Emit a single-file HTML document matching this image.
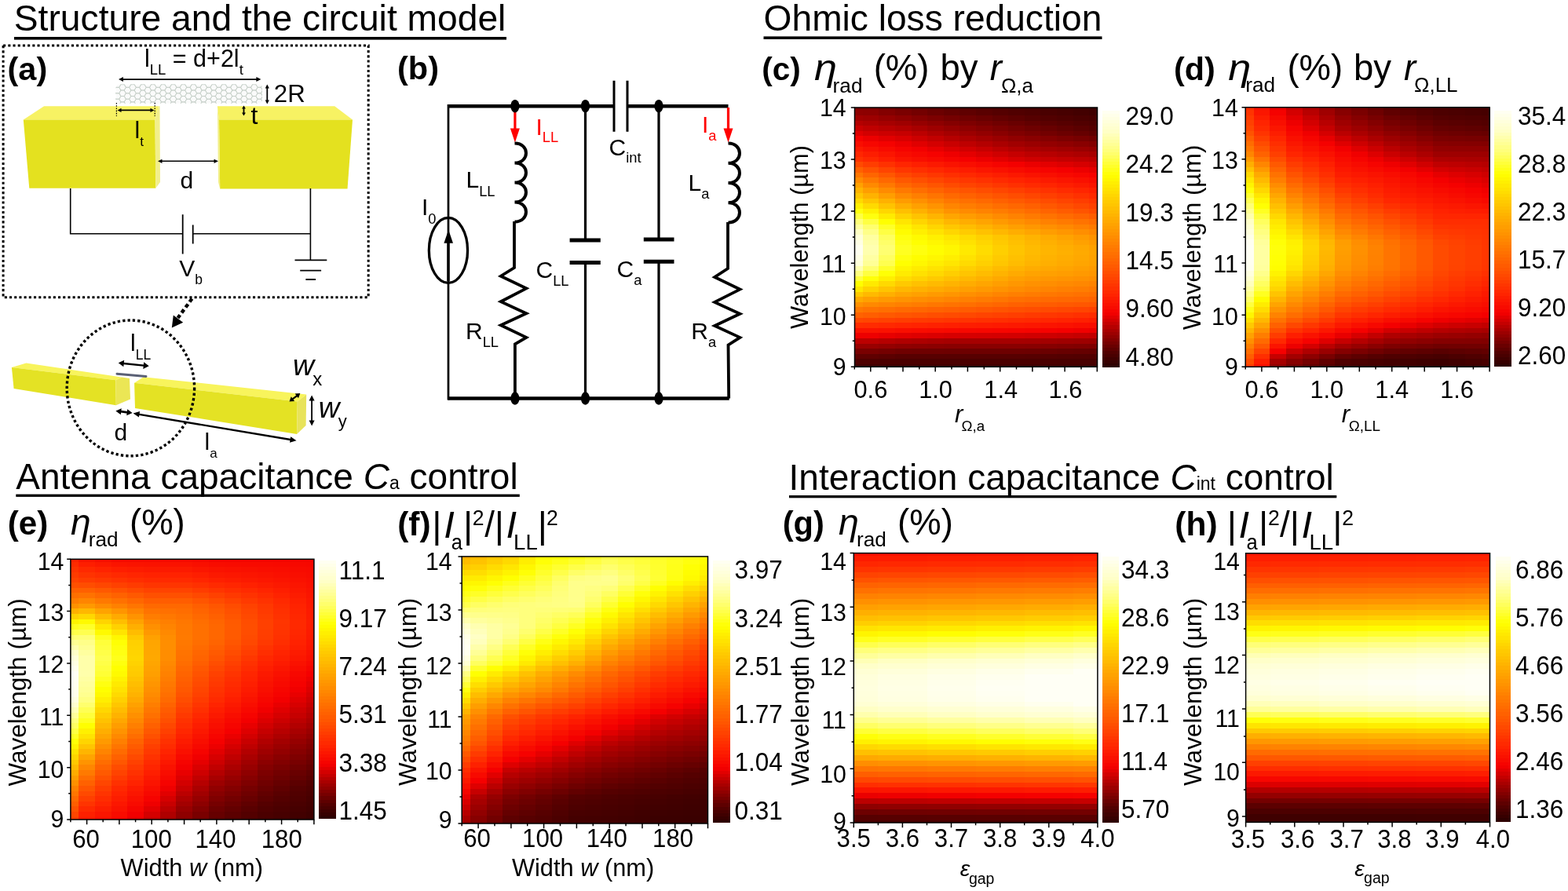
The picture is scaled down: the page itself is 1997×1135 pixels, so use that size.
<!DOCTYPE html>
<html><head><meta charset="utf-8"><title>figure</title>
<style>
html,body{margin:0;padding:0;background:#fff;}
body{width:1997px;height:1135px;overflow:hidden;}
svg{display:block;}
text{font-family:"Liberation Sans", Arial, sans-serif;}
</style></head><body>
<svg width="1997" height="1135" viewBox="0 0 1997 1135">
<rect width="1997" height="1135" fill="#fff"/>
<text x="17.8" y="38.9" font-size="45.8" textLength="626.6" lengthAdjust="spacingAndGlyphs">Structure and the circuit model</text>
<rect x="18" y="47" width="627" height="3.6" fill="#000"/>
<text x="972.6" y="38.8" font-size="45.8" textLength="430.7" lengthAdjust="spacingAndGlyphs">Ohmic loss reduction</text>
<rect x="972.5" y="46.4" width="431" height="3.6" fill="#000"/>
<text x="20.3" y="622.7" font-size="46">Antenna capacitance <tspan font-style="italic">C</tspan><tspan font-size="23">a</tspan> control</text>
<rect x="20.3" y="629.6" width="641.5" height="3.3" fill="#000"/>
<text x="1004.6" y="623.8" font-size="46">Interaction capacitance <tspan font-style="italic">C</tspan><tspan font-size="23">int</tspan> control</text>
<rect x="1005" y="631" width="697.3" height="3.3" fill="#000"/>
<path d="M4.1 58 H469.2 V378.8 H4.1 Z" fill="none" stroke="#000" stroke-width="3" stroke-dasharray="3.1 3.1"/>
<text x="9.5" y="101.5" font-size="41.5" font-weight="bold">(a)</text>
<polygon points="56.1,135.3 201.9,135.3 197.5,152.5 29.8,152.5" fill="#f7f263"/>
<polygon points="29.8,152.5 197.5,152.5 198.3,239.8 37.3,239.8" fill="#e4e11f"/>
<polygon points="197.5,152.5 201.9,135.3 203.5,135.3 204,232 198.3,239.8" fill="#f2ef8a"/>
<polygon points="276.9,135.3 426.2,135.3 449,152.5 279,152.5" fill="#f7f263"/>
<polygon points="279,152.5 449,152.5 442.5,240.4 280.2,240.4" fill="#e4e11f"/>
<polygon points="276.9,135.3 279,152.5 280.2,240.4 278,232" fill="#f2ef8a"/>
<clipPath id="cntclip"><rect x="147.5" y="107.6" width="186.5" height="24.2" rx="3" ry="6"/></clipPath>
<g clip-path="url(#cntclip)"><rect x="147.5" y="107.6" width="186.5" height="24.2" fill="#fafafa"/><path d="M147.5 103.9 L145.3 107.6 L141.0 107.6 L138.9 103.9 L141.0 100.2 L145.3 100.2Z M147.5 111.3 L145.3 115.0 L141.0 115.0 L138.9 111.3 L141.0 107.6 L145.3 107.6Z M147.5 118.8 L145.3 122.5 L141.0 122.5 L138.9 118.8 L141.0 115.0 L145.3 115.0Z M147.5 126.2 L145.3 129.9 L141.0 129.9 L138.9 126.2 L141.0 122.5 L145.3 122.5Z M147.5 133.7 L145.3 137.4 L141.0 137.4 L138.9 133.7 L141.0 129.9 L145.3 129.9Z M153.9 107.6 L151.8 111.3 L147.5 111.3 L145.3 107.6 L147.5 103.9 L151.8 103.9Z M153.9 115.0 L151.8 118.8 L147.5 118.8 L145.3 115.0 L147.5 111.3 L151.8 111.3Z M153.9 122.5 L151.8 126.2 L147.5 126.2 L145.3 122.5 L147.5 118.8 L151.8 118.8Z M153.9 129.9 L151.8 133.7 L147.5 133.7 L145.3 129.9 L147.5 126.2 L151.8 126.2Z M160.4 103.9 L158.2 107.6 L153.9 107.6 L151.8 103.9 L153.9 100.2 L158.2 100.2Z M160.4 111.3 L158.2 115.0 L153.9 115.0 L151.8 111.3 L153.9 107.6 L158.2 107.6Z M160.4 118.8 L158.2 122.5 L153.9 122.5 L151.8 118.8 L153.9 115.0 L158.2 115.0Z M160.4 126.2 L158.2 129.9 L153.9 129.9 L151.8 126.2 L153.9 122.5 L158.2 122.5Z M160.4 133.7 L158.2 137.4 L153.9 137.4 L151.8 133.7 L153.9 129.9 L158.2 129.9Z M166.8 107.6 L164.7 111.3 L160.4 111.3 L158.2 107.6 L160.4 103.9 L164.7 103.9Z M166.8 115.0 L164.7 118.8 L160.4 118.8 L158.2 115.0 L160.4 111.3 L164.7 111.3Z M166.8 122.5 L164.7 126.2 L160.4 126.2 L158.2 122.5 L160.4 118.8 L164.7 118.8Z M166.8 129.9 L164.7 133.7 L160.4 133.7 L158.2 129.9 L160.4 126.2 L164.7 126.2Z M173.3 103.9 L171.1 107.6 L166.8 107.6 L164.7 103.9 L166.8 100.2 L171.1 100.2Z M173.3 111.3 L171.1 115.0 L166.8 115.0 L164.7 111.3 L166.8 107.6 L171.1 107.6Z M173.3 118.8 L171.1 122.5 L166.8 122.5 L164.7 118.8 L166.8 115.0 L171.1 115.0Z M173.3 126.2 L171.1 129.9 L166.8 129.9 L164.7 126.2 L166.8 122.5 L171.1 122.5Z M173.3 133.7 L171.1 137.4 L166.8 137.4 L164.7 133.7 L166.8 129.9 L171.1 129.9Z M179.7 107.6 L177.6 111.3 L173.3 111.3 L171.1 107.6 L173.3 103.9 L177.6 103.9Z M179.7 115.0 L177.6 118.8 L173.3 118.8 L171.1 115.0 L173.3 111.3 L177.6 111.3Z M179.7 122.5 L177.6 126.2 L173.3 126.2 L171.1 122.5 L173.3 118.8 L177.6 118.8Z M179.7 129.9 L177.6 133.7 L173.3 133.7 L171.1 129.9 L173.3 126.2 L177.6 126.2Z M186.2 103.9 L184.0 107.6 L179.7 107.6 L177.6 103.9 L179.7 100.2 L184.0 100.2Z M186.2 111.3 L184.0 115.0 L179.7 115.0 L177.6 111.3 L179.7 107.6 L184.0 107.6Z M186.2 118.8 L184.0 122.5 L179.7 122.5 L177.6 118.8 L179.7 115.0 L184.0 115.0Z M186.2 126.2 L184.0 129.9 L179.7 129.9 L177.6 126.2 L179.7 122.5 L184.0 122.5Z M186.2 133.7 L184.0 137.4 L179.7 137.4 L177.6 133.7 L179.7 129.9 L184.0 129.9Z M192.6 107.6 L190.5 111.3 L186.2 111.3 L184.0 107.6 L186.2 103.9 L190.5 103.9Z M192.6 115.0 L190.5 118.8 L186.2 118.8 L184.0 115.0 L186.2 111.3 L190.5 111.3Z M192.6 122.5 L190.5 126.2 L186.2 126.2 L184.0 122.5 L186.2 118.8 L190.5 118.8Z M192.6 129.9 L190.5 133.7 L186.2 133.7 L184.0 129.9 L186.2 126.2 L190.5 126.2Z M199.1 103.9 L196.9 107.6 L192.6 107.6 L190.5 103.9 L192.6 100.2 L196.9 100.2Z M199.1 111.3 L196.9 115.0 L192.6 115.0 L190.5 111.3 L192.6 107.6 L196.9 107.6Z M199.1 118.8 L196.9 122.5 L192.6 122.5 L190.5 118.8 L192.6 115.0 L196.9 115.0Z M199.1 126.2 L196.9 129.9 L192.6 129.9 L190.5 126.2 L192.6 122.5 L196.9 122.5Z M199.1 133.7 L196.9 137.4 L192.6 137.4 L190.5 133.7 L192.6 129.9 L196.9 129.9Z M205.5 107.6 L203.4 111.3 L199.1 111.3 L196.9 107.6 L199.1 103.9 L203.4 103.9Z M205.5 115.0 L203.4 118.8 L199.1 118.8 L196.9 115.0 L199.1 111.3 L203.4 111.3Z M205.5 122.5 L203.4 126.2 L199.1 126.2 L196.9 122.5 L199.1 118.8 L203.4 118.8Z M205.5 129.9 L203.4 133.7 L199.1 133.7 L196.9 129.9 L199.1 126.2 L203.4 126.2Z M212.0 103.9 L209.8 107.6 L205.5 107.6 L203.4 103.9 L205.5 100.2 L209.8 100.2Z M212.0 111.3 L209.8 115.0 L205.5 115.0 L203.4 111.3 L205.5 107.6 L209.8 107.6Z M212.0 118.8 L209.8 122.5 L205.5 122.5 L203.4 118.8 L205.5 115.0 L209.8 115.0Z M212.0 126.2 L209.8 129.9 L205.5 129.9 L203.4 126.2 L205.5 122.5 L209.8 122.5Z M212.0 133.7 L209.8 137.4 L205.5 137.4 L203.4 133.7 L205.5 129.9 L209.8 129.9Z M218.4 107.6 L216.3 111.3 L212.0 111.3 L209.8 107.6 L212.0 103.9 L216.3 103.9Z M218.4 115.0 L216.3 118.8 L212.0 118.8 L209.8 115.0 L212.0 111.3 L216.3 111.3Z M218.4 122.5 L216.3 126.2 L212.0 126.2 L209.8 122.5 L212.0 118.8 L216.3 118.8Z M218.4 129.9 L216.3 133.7 L212.0 133.7 L209.8 129.9 L212.0 126.2 L216.3 126.2Z M224.9 103.9 L222.7 107.6 L218.4 107.6 L216.3 103.9 L218.4 100.2 L222.7 100.2Z M224.9 111.3 L222.7 115.0 L218.4 115.0 L216.3 111.3 L218.4 107.6 L222.7 107.6Z M224.9 118.8 L222.7 122.5 L218.4 122.5 L216.3 118.8 L218.4 115.0 L222.7 115.0Z M224.9 126.2 L222.7 129.9 L218.4 129.9 L216.3 126.2 L218.4 122.5 L222.7 122.5Z M224.9 133.7 L222.7 137.4 L218.4 137.4 L216.3 133.7 L218.4 129.9 L222.7 129.9Z M231.3 107.6 L229.2 111.3 L224.9 111.3 L222.7 107.6 L224.9 103.9 L229.2 103.9Z M231.3 115.0 L229.2 118.8 L224.9 118.8 L222.7 115.0 L224.9 111.3 L229.2 111.3Z M231.3 122.5 L229.2 126.2 L224.9 126.2 L222.7 122.5 L224.9 118.8 L229.2 118.8Z M231.3 129.9 L229.2 133.7 L224.9 133.7 L222.7 129.9 L224.9 126.2 L229.2 126.2Z M237.8 103.9 L235.6 107.6 L231.3 107.6 L229.2 103.9 L231.3 100.2 L235.6 100.2Z M237.8 111.3 L235.6 115.0 L231.3 115.0 L229.2 111.3 L231.3 107.6 L235.6 107.6Z M237.8 118.8 L235.6 122.5 L231.3 122.5 L229.2 118.8 L231.3 115.0 L235.6 115.0Z M237.8 126.2 L235.6 129.9 L231.3 129.9 L229.2 126.2 L231.3 122.5 L235.6 122.5Z M237.8 133.7 L235.6 137.4 L231.3 137.4 L229.2 133.7 L231.3 129.9 L235.6 129.9Z M244.2 107.6 L242.1 111.3 L237.8 111.3 L235.6 107.6 L237.8 103.9 L242.1 103.9Z M244.2 115.0 L242.1 118.8 L237.8 118.8 L235.6 115.0 L237.8 111.3 L242.1 111.3Z M244.2 122.5 L242.1 126.2 L237.8 126.2 L235.6 122.5 L237.8 118.8 L242.1 118.8Z M244.2 129.9 L242.1 133.7 L237.8 133.7 L235.6 129.9 L237.8 126.2 L242.1 126.2Z M250.7 103.9 L248.5 107.6 L244.2 107.6 L242.1 103.9 L244.2 100.2 L248.5 100.2Z M250.7 111.3 L248.5 115.0 L244.2 115.0 L242.1 111.3 L244.2 107.6 L248.5 107.6Z M250.7 118.8 L248.5 122.5 L244.2 122.5 L242.1 118.8 L244.2 115.0 L248.5 115.0Z M250.7 126.2 L248.5 129.9 L244.2 129.9 L242.1 126.2 L244.2 122.5 L248.5 122.5Z M250.7 133.7 L248.5 137.4 L244.2 137.4 L242.1 133.7 L244.2 129.9 L248.5 129.9Z M257.1 107.6 L255.0 111.3 L250.7 111.3 L248.5 107.6 L250.7 103.9 L255.0 103.9Z M257.1 115.0 L255.0 118.8 L250.7 118.8 L248.5 115.0 L250.7 111.3 L255.0 111.3Z M257.1 122.5 L255.0 126.2 L250.7 126.2 L248.5 122.5 L250.7 118.8 L255.0 118.8Z M257.1 129.9 L255.0 133.7 L250.7 133.7 L248.5 129.9 L250.7 126.2 L255.0 126.2Z M263.6 103.9 L261.4 107.6 L257.1 107.6 L255.0 103.9 L257.1 100.2 L261.4 100.2Z M263.6 111.3 L261.4 115.0 L257.1 115.0 L255.0 111.3 L257.1 107.6 L261.4 107.6Z M263.6 118.8 L261.4 122.5 L257.1 122.5 L255.0 118.8 L257.1 115.0 L261.4 115.0Z M263.6 126.2 L261.4 129.9 L257.1 129.9 L255.0 126.2 L257.1 122.5 L261.4 122.5Z M263.6 133.7 L261.4 137.4 L257.1 137.4 L255.0 133.7 L257.1 129.9 L261.4 129.9Z M270.0 107.6 L267.9 111.3 L263.6 111.3 L261.4 107.6 L263.6 103.9 L267.9 103.9Z M270.0 115.0 L267.9 118.8 L263.6 118.8 L261.4 115.0 L263.6 111.3 L267.9 111.3Z M270.0 122.5 L267.9 126.2 L263.6 126.2 L261.4 122.5 L263.6 118.8 L267.9 118.8Z M270.0 129.9 L267.9 133.7 L263.6 133.7 L261.4 129.9 L263.6 126.2 L267.9 126.2Z M276.5 103.9 L274.3 107.6 L270.0 107.6 L267.9 103.9 L270.0 100.2 L274.3 100.2Z M276.5 111.3 L274.3 115.0 L270.0 115.0 L267.9 111.3 L270.0 107.6 L274.3 107.6Z M276.5 118.8 L274.3 122.5 L270.0 122.5 L267.9 118.8 L270.0 115.0 L274.3 115.0Z M276.5 126.2 L274.3 129.9 L270.0 129.9 L267.9 126.2 L270.0 122.5 L274.3 122.5Z M276.5 133.7 L274.3 137.4 L270.0 137.4 L267.9 133.7 L270.0 129.9 L274.3 129.9Z M282.9 107.6 L280.8 111.3 L276.5 111.3 L274.3 107.6 L276.5 103.9 L280.8 103.9Z M282.9 115.0 L280.8 118.8 L276.5 118.8 L274.3 115.0 L276.5 111.3 L280.8 111.3Z M282.9 122.5 L280.8 126.2 L276.5 126.2 L274.3 122.5 L276.5 118.8 L280.8 118.8Z M282.9 129.9 L280.8 133.7 L276.5 133.7 L274.3 129.9 L276.5 126.2 L280.8 126.2Z M289.4 103.9 L287.2 107.6 L282.9 107.6 L280.8 103.9 L282.9 100.2 L287.2 100.2Z M289.4 111.3 L287.2 115.0 L282.9 115.0 L280.8 111.3 L282.9 107.6 L287.2 107.6Z M289.4 118.8 L287.2 122.5 L282.9 122.5 L280.8 118.8 L282.9 115.0 L287.2 115.0Z M289.4 126.2 L287.2 129.9 L282.9 129.9 L280.8 126.2 L282.9 122.5 L287.2 122.5Z M289.4 133.7 L287.2 137.4 L282.9 137.4 L280.8 133.7 L282.9 129.9 L287.2 129.9Z M295.8 107.6 L293.7 111.3 L289.4 111.3 L287.2 107.6 L289.4 103.9 L293.7 103.9Z M295.8 115.0 L293.7 118.8 L289.4 118.8 L287.2 115.0 L289.4 111.3 L293.7 111.3Z M295.8 122.5 L293.7 126.2 L289.4 126.2 L287.2 122.5 L289.4 118.8 L293.7 118.8Z M295.8 129.9 L293.7 133.7 L289.4 133.7 L287.2 129.9 L289.4 126.2 L293.7 126.2Z M302.3 103.9 L300.1 107.6 L295.8 107.6 L293.7 103.9 L295.8 100.2 L300.1 100.2Z M302.3 111.3 L300.1 115.0 L295.8 115.0 L293.7 111.3 L295.8 107.6 L300.1 107.6Z M302.3 118.8 L300.1 122.5 L295.8 122.5 L293.7 118.8 L295.8 115.0 L300.1 115.0Z M302.3 126.2 L300.1 129.9 L295.8 129.9 L293.7 126.2 L295.8 122.5 L300.1 122.5Z M302.3 133.7 L300.1 137.4 L295.8 137.4 L293.7 133.7 L295.8 129.9 L300.1 129.9Z M308.7 107.6 L306.6 111.3 L302.3 111.3 L300.1 107.6 L302.3 103.9 L306.6 103.9Z M308.7 115.0 L306.6 118.8 L302.3 118.8 L300.1 115.0 L302.3 111.3 L306.6 111.3Z M308.7 122.5 L306.6 126.2 L302.3 126.2 L300.1 122.5 L302.3 118.8 L306.6 118.8Z M308.7 129.9 L306.6 133.7 L302.3 133.7 L300.1 129.9 L302.3 126.2 L306.6 126.2Z M315.2 103.9 L313.0 107.6 L308.7 107.6 L306.6 103.9 L308.7 100.2 L313.0 100.2Z M315.2 111.3 L313.0 115.0 L308.7 115.0 L306.6 111.3 L308.7 107.6 L313.0 107.6Z M315.2 118.8 L313.0 122.5 L308.7 122.5 L306.6 118.8 L308.7 115.0 L313.0 115.0Z M315.2 126.2 L313.0 129.9 L308.7 129.9 L306.6 126.2 L308.7 122.5 L313.0 122.5Z M315.2 133.7 L313.0 137.4 L308.7 137.4 L306.6 133.7 L308.7 129.9 L313.0 129.9Z M321.6 107.6 L319.5 111.3 L315.2 111.3 L313.0 107.6 L315.2 103.9 L319.5 103.9Z M321.6 115.0 L319.5 118.8 L315.2 118.8 L313.0 115.0 L315.2 111.3 L319.5 111.3Z M321.6 122.5 L319.5 126.2 L315.2 126.2 L313.0 122.5 L315.2 118.8 L319.5 118.8Z M321.6 129.9 L319.5 133.7 L315.2 133.7 L313.0 129.9 L315.2 126.2 L319.5 126.2Z M328.1 103.9 L325.9 107.6 L321.6 107.6 L319.5 103.9 L321.6 100.2 L325.9 100.2Z M328.1 111.3 L325.9 115.0 L321.6 115.0 L319.5 111.3 L321.6 107.6 L325.9 107.6Z M328.1 118.8 L325.9 122.5 L321.6 122.5 L319.5 118.8 L321.6 115.0 L325.9 115.0Z M328.1 126.2 L325.9 129.9 L321.6 129.9 L319.5 126.2 L321.6 122.5 L325.9 122.5Z M328.1 133.7 L325.9 137.4 L321.6 137.4 L319.5 133.7 L321.6 129.9 L325.9 129.9Z M334.5 107.6 L332.4 111.3 L328.1 111.3 L325.9 107.6 L328.1 103.9 L332.4 103.9Z M334.5 115.0 L332.4 118.8 L328.1 118.8 L325.9 115.0 L328.1 111.3 L332.4 111.3Z M334.5 122.5 L332.4 126.2 L328.1 126.2 L325.9 122.5 L328.1 118.8 L332.4 118.8Z M334.5 129.9 L332.4 133.7 L328.1 133.7 L325.9 129.9 L328.1 126.2 L332.4 126.2Z M341.0 103.9 L338.8 107.6 L334.5 107.6 L332.4 103.9 L334.5 100.2 L338.8 100.2Z M341.0 111.3 L338.8 115.0 L334.5 115.0 L332.4 111.3 L334.5 107.6 L338.8 107.6Z M341.0 118.8 L338.8 122.5 L334.5 122.5 L332.4 118.8 L334.5 115.0 L338.8 115.0Z M341.0 126.2 L338.8 129.9 L334.5 129.9 L332.4 126.2 L334.5 122.5 L338.8 122.5Z M341.0 133.7 L338.8 137.4 L334.5 137.4 L332.4 133.7 L334.5 129.9 L338.8 129.9Z" fill="none" stroke="#bfcac2" stroke-width="0.7"/></g>
<line x1="154.6" y1="101.1" x2="328.8" y2="101.1" stroke="#000" stroke-width="1.8"/><polygon points="151.0,101.1 157.0,104.1 157.0,98.1" fill="#000"/><polygon points="332.4,101.1 326.4,104.1 326.4,98.1" fill="#000"/>
<line x1="340.3" y1="110.5" x2="340.3" y2="129.5" stroke="#000" stroke-width="1.8"/><polygon points="340.3,107.5 337.7,112.5 342.9,112.5" fill="#000"/><polygon points="340.3,132.5 337.7,127.5 342.9,127.5" fill="#000"/>
<line x1="310.5" y1="136.9" x2="310.5" y2="145.1" stroke="#000" stroke-width="1.8"/><polygon points="310.5,134.5 308.1,138.5 312.9,138.5" fill="#000"/><polygon points="310.5,147.5 308.1,143.5 312.9,143.5" fill="#000"/>
<line x1="152.5" y1="140.4" x2="193.5" y2="140.4" stroke="#000" stroke-width="1.8"/><polygon points="149.5,140.4 154.5,143.0 154.5,137.8" fill="#000"/><polygon points="196.5,140.4 191.5,143.0 191.5,137.8" fill="#000"/>
<line x1="204.3" y1="205.3" x2="274.7" y2="205.3" stroke="#000" stroke-width="1.6"/><polygon points="201.0,205.3 206.5,207.9 206.5,202.7" fill="#000"/><polygon points="278.0,205.3 272.5,207.9 272.5,202.7" fill="#000"/>
<path d="M148.4 131 V148 M197.2 131 V148" stroke="#000" stroke-width="1.2" stroke-dasharray="1.6 1.6"/>
<text x="184" y="84.8" font-size="30.5">l<tspan font-size="18.5" dy="10.5">LL</tspan><tspan dy="-10.5"> = d+2l</tspan><tspan font-size="18.5" dy="10.5">t</tspan></text>
<text x="348.8" y="129.6" font-size="31.2">2R</text>
<text x="171.5" y="176" font-size="30">l<tspan font-size="17" dy="9.5">t</tspan></text>
<text x="319.5" y="158.4" font-size="32.0">t</text>
<text x="229.5" y="240.0" font-size="30.0">d</text>
<path d="M89.7 240 V297.8 H232.7 M245.7 297.8 H395.4 M395.4 240 V331.4" fill="none" stroke="#000" stroke-width="1.6"/>
<path d="M232.7 273.3 V323.5 M245.7 286.5 V310.5" stroke="#000" stroke-width="1.8"/>
<path d="M375.5 331.4 H416.3 M382.2 344.7 H409.1 M389.4 356 H402" stroke="#000" stroke-width="1.8"/>
<text x="228.2" y="352" font-size="30">V<tspan font-size="17.5" dy="10">b</tspan></text>
<line x1="244.5" y1="380.5" x2="226.5" y2="405" stroke="#000" stroke-width="4.4" stroke-dasharray="5 3.6"/>
<polygon points="218.8,417.5 220.8,401.5 233.2,410.8" fill="#000"/>
<polygon points="14.9,468.1 33.4,462.4 155,480.6 147.4,484.2" fill="#f8f45c"/>
<polygon points="14.9,468.1 147.4,484.2 147.8,516.2 17.6,495" fill="#e4e224"/>
<polygon points="147.4,484.2 155,480.6 165,482 166,508.5 147.8,516.2" fill="#ebe655"/>
<polygon points="171.1,487.8 182.8,480.2 390.2,502.5 378.8,511.5" fill="#f8f45c"/>
<polygon points="171.1,487.8 378.8,511.5 378.1,552.9 172,519.9" fill="#e4e224"/>
<polygon points="378.8,511.5 390.2,502.5 389.6,542.1 378.1,552.9" fill="#e8e35a"/>
<line x1="149" y1="476.2" x2="186" y2="479.4" stroke="#5a6075" stroke-width="3" stroke-linecap="round"/>
<ellipse cx="166.4" cy="494.4" rx="81.2" ry="86.4" fill="none" stroke="#000" stroke-width="3.4" stroke-dasharray="3.3 3.1"/>
<line x1="155.0" y1="462.7" x2="185.5" y2="465.9" stroke="#000" stroke-width="2.4"/><polygon points="150.8,462.3 157.3,467.3 158.2,458.7" fill="#000"/><polygon points="189.7,466.3 182.3,469.9 183.2,461.3" fill="#000"/>
<line x1="151.6" y1="523.9" x2="164.4" y2="525.6" stroke="#000" stroke-width="2.6"/><polygon points="147.4,523.4 153.8,528.3 154.8,520.3" fill="#000"/><polygon points="168.6,526.1 161.2,529.2 162.2,521.2" fill="#000"/>
<line x1="174.3" y1="527.3" x2="372.8" y2="560.5" stroke="#000" stroke-width="2.3"/><polygon points="169.6,526.5 176.9,531.6 178.1,524.1" fill="#000"/><polygon points="377.5,561.3 369.0,563.7 370.2,556.2" fill="#000"/>
<line x1="371.1" y1="509.4" x2="379.7" y2="503.1" stroke="#000" stroke-width="2.2"/><polygon points="368.5,511.4 375.1,511.0 370.8,505.2" fill="#000"/><polygon points="382.3,501.1 380.0,507.3 375.7,501.5" fill="#000"/>
<line x1="397.1" y1="507.6" x2="397.1" y2="538.4" stroke="#000" stroke-width="1.8"/><polygon points="397.1,503.4 393.6,510.4 400.6,510.4" fill="#000"/><polygon points="397.1,542.6 393.6,535.6 400.6,535.6" fill="#000"/>
<text x="166" y="447.2" font-size="30">l<tspan font-size="17.5" dy="10.3">LL</tspan></text>
<text x="145.5" y="561.2" font-size="30.0">d</text>
<text x="260.5" y="573" font-size="30">l<tspan font-size="17" dy="10">a</tspan></text>
<text x="373.0" y="478.1" font-size="37.5" font-style="italic">w</text><text x="398.3" y="491.3" font-size="24.0">x</text>
<text x="405.8" y="531.5" font-size="37.0" font-style="italic">w</text><text x="430.7" y="543.8" font-size="22.0">y</text>
<text x="506.0" y="101.0" font-size="41.5" font-weight="bold">(b)</text>
<path d="M570.5 135.2 H782 M799 135.2 H927.5" stroke="#000" stroke-width="4.6" fill="none"/>
<path d="M570.5 507.5 H928.7" stroke="#000" stroke-width="4.6" fill="none"/>
<path d="M782 102.8 V167.7 M799 102.8 V167.7" stroke="#000" stroke-width="3" fill="none"/>
<path d="M571 133 V509.5" stroke="#000" stroke-width="2.7" fill="none"/>
<ellipse cx="570.95" cy="318.9" rx="24.6" ry="41.5" fill="none" stroke="#000" stroke-width="3.3"/>
<path d="M571 358 V305" stroke="#000" stroke-width="3.4"/>
<polygon points="571.2,292.8 565.4,309.7 577,309.7" fill="#000"/>
<line x1="655.9" y1="137.0" x2="655.9" y2="170.7" stroke="#ff0000" stroke-width="3.2"/><polygon points="655.9,181.5 649.9,163.5 661.9,163.5" fill="#ff0000"/>
<path d="M655.5 182.5 C674.8 182.5 674.8 207.5 655.5 207.5 C674.8 207.5 674.8 232.5 655.5 232.5 C674.8 232.5 674.8 257.5 655.5 257.5 C674.8 257.5 674.8 282.5 655.5 282.5" stroke="#000" stroke-width="4" fill="none"/>
<path d="M655 282 V341 L637.8 351.7 L670.3 367.4 L637.8 384.2 L670.3 399.3 L637.8 414.2 L670.3 429.9 L655.9 438.3 V507.5" stroke="#000" stroke-width="3.8" fill="none" stroke-linejoin="miter"/>
<path d="M745.5 135 V306 M745.5 334.4 V507.5" stroke="#000" stroke-width="3.2" fill="none"/>
<path d="M725.6 306 H764.8 M725.6 334.4 H764.8" stroke="#000" stroke-width="5" fill="none"/>
<path d="M839 135 V305 M839 333.2 V507.5" stroke="#000" stroke-width="3.2" fill="none"/>
<path d="M819.8 305 H858.5 M819.8 333.2 H858.5" stroke="#000" stroke-width="5" fill="none"/>
<line x1="927.5" y1="137.0" x2="927.5" y2="170.7" stroke="#ff0000" stroke-width="3.2"/><polygon points="927.5,181.5 921.5,163.5 933.5,163.5" fill="#ff0000"/>
<path d="M927.5 182.5 C946.8 182.5 946.8 207.8 927.5 207.8 C946.8 207.8 946.8 233.0 927.5 233.0 C946.8 233.0 946.8 258.2 927.5 258.2 C946.8 258.2 946.8 283.5 927.5 283.5" stroke="#000" stroke-width="4" fill="none"/>
<path d="M927 283 V342 L910.2 352.9 L942.4 368.6 L910.2 384.9 L942.4 399.8 L910.2 415 L942.4 429.9 L927.5 439.5 L928.2 507.5" stroke="#000" stroke-width="3.8" fill="none"/>
<ellipse cx="655.9" cy="135.2" rx="5.6" ry="8.3" fill="#000"/>
<ellipse cx="655.9" cy="507.5" rx="5.6" ry="8.3" fill="#000"/>
<ellipse cx="745.5" cy="135.2" rx="5.6" ry="8.3" fill="#000"/>
<ellipse cx="745.5" cy="507.5" rx="5.6" ry="8.3" fill="#000"/>
<ellipse cx="839.0" cy="135.2" rx="5.6" ry="8.3" fill="#000"/>
<ellipse cx="839.0" cy="507.5" rx="5.6" ry="8.3" fill="#000"/>
<text x="682.5" y="171.8" font-size="30" fill="#ff0000">I<tspan font-size="18.3" dy="9.6">LL</tspan></text>
<text x="894" y="169.4" font-size="30" fill="#ff0000">I<tspan font-size="18.3" dy="10">a</tspan></text>
<text x="775.5" y="198.2" font-size="30">C<tspan font-size="18.3" dy="8.8">int</tspan></text>
<text x="593.5" y="239.1" font-size="30">L<tspan font-size="18.3" dy="10.9">LL</tspan></text>
<text x="876.5" y="243.2" font-size="30">L<tspan font-size="18.3" dy="9.6">a</tspan></text>
<text x="537" y="274" font-size="30">I<tspan font-size="18.3" dy="10.8">0</tspan></text>
<text x="682.5" y="354.1" font-size="30">C<tspan font-size="18.3" dy="10.1">LL</tspan></text>
<text x="785.5" y="352.9" font-size="30">C<tspan font-size="18.3" dy="9.6">a</tspan></text>
<text x="593" y="431.5" font-size="30">R<tspan font-size="18.3" dy="10.4">LL</tspan></text>
<text x="880.3" y="431.5" font-size="30">R<tspan font-size="18.3" dy="10.4">a</tspan></text>
<g shape-rendering="crispEdges"><rect x="1088.5" y="137.0" width="10.7" height="3.7" fill="#7d0000"/><rect x="1098.8" y="137.0" width="21.0" height="3.7" fill="#7d0000"/><rect x="1119.4" y="137.0" width="21.0" height="3.7" fill="#730000"/><rect x="1140.0" y="137.0" width="21.0" height="3.7" fill="#690000"/><rect x="1160.6" y="137.0" width="21.0" height="3.7" fill="#620000"/><rect x="1181.2" y="137.0" width="21.0" height="3.7" fill="#5c0000"/><rect x="1201.8" y="137.0" width="21.0" height="3.7" fill="#550000"/><rect x="1222.4" y="137.0" width="21.0" height="3.7" fill="#520000"/><rect x="1243.0" y="137.0" width="21.0" height="3.7" fill="#4f0000"/><rect x="1263.6" y="137.0" width="21.0" height="3.7" fill="#4b0000"/><rect x="1284.2" y="137.0" width="21.0" height="3.7" fill="#480000"/><rect x="1304.8" y="137.0" width="21.0" height="3.7" fill="#450000"/><rect x="1325.4" y="137.0" width="21.0" height="3.7" fill="#420000"/><rect x="1346.0" y="137.0" width="21.0" height="3.7" fill="#3f0000"/><rect x="1366.6" y="137.0" width="21.0" height="3.7" fill="#3c0000"/><rect x="1387.2" y="137.0" width="10.7" height="3.7" fill="#380000"/><rect x="1088.5" y="140.3" width="10.7" height="7.0" fill="#8f0000"/><rect x="1098.8" y="140.3" width="21.0" height="7.0" fill="#8d0000"/><rect x="1119.4" y="140.3" width="21.0" height="7.0" fill="#840000"/><rect x="1140.0" y="140.3" width="21.0" height="7.0" fill="#7b0000"/><rect x="1160.6" y="140.3" width="21.0" height="7.0" fill="#740000"/><rect x="1181.2" y="140.3" width="21.0" height="7.0" fill="#6c0000"/><rect x="1201.8" y="140.3" width="21.0" height="7.0" fill="#650000"/><rect x="1222.4" y="140.3" width="21.0" height="7.0" fill="#600000"/><rect x="1243.0" y="140.3" width="21.0" height="7.0" fill="#5a0000"/><rect x="1263.6" y="140.3" width="21.0" height="7.0" fill="#550000"/><rect x="1284.2" y="140.3" width="21.0" height="7.0" fill="#510000"/><rect x="1304.8" y="140.3" width="21.0" height="7.0" fill="#4e0000"/><rect x="1325.4" y="140.3" width="21.0" height="7.0" fill="#4a0000"/><rect x="1346.0" y="140.3" width="21.0" height="7.0" fill="#470000"/><rect x="1366.6" y="140.3" width="21.0" height="7.0" fill="#430000"/><rect x="1387.2" y="140.3" width="10.7" height="7.0" fill="#3f0000"/><rect x="1088.5" y="146.9" width="10.7" height="7.0" fill="#a10000"/><rect x="1098.8" y="146.9" width="21.0" height="7.0" fill="#9d0000"/><rect x="1119.4" y="146.9" width="21.0" height="7.0" fill="#950000"/><rect x="1140.0" y="146.9" width="21.0" height="7.0" fill="#8d0000"/><rect x="1160.6" y="146.9" width="21.0" height="7.0" fill="#850000"/><rect x="1181.2" y="146.9" width="21.0" height="7.0" fill="#7d0000"/><rect x="1201.8" y="146.9" width="21.0" height="7.0" fill="#750000"/><rect x="1222.4" y="146.9" width="21.0" height="7.0" fill="#6f0000"/><rect x="1243.0" y="146.9" width="21.0" height="7.0" fill="#690000"/><rect x="1263.6" y="146.9" width="21.0" height="7.0" fill="#620000"/><rect x="1284.2" y="146.9" width="21.0" height="7.0" fill="#5c0000"/><rect x="1304.8" y="146.9" width="21.0" height="7.0" fill="#560000"/><rect x="1325.4" y="146.9" width="21.0" height="7.0" fill="#520000"/><rect x="1346.0" y="146.9" width="21.0" height="7.0" fill="#4e0000"/><rect x="1366.6" y="146.9" width="21.0" height="7.0" fill="#4a0000"/><rect x="1387.2" y="146.9" width="10.7" height="7.0" fill="#470000"/><rect x="1088.5" y="153.5" width="10.7" height="7.0" fill="#b40000"/><rect x="1098.8" y="153.5" width="21.0" height="7.0" fill="#ad0000"/><rect x="1119.4" y="153.5" width="21.0" height="7.0" fill="#a60000"/><rect x="1140.0" y="153.5" width="21.0" height="7.0" fill="#9f0000"/><rect x="1160.6" y="153.5" width="21.0" height="7.0" fill="#960000"/><rect x="1181.2" y="153.5" width="21.0" height="7.0" fill="#8e0000"/><rect x="1201.8" y="153.5" width="21.0" height="7.0" fill="#850000"/><rect x="1222.4" y="153.5" width="21.0" height="7.0" fill="#7e0000"/><rect x="1243.0" y="153.5" width="21.0" height="7.0" fill="#770000"/><rect x="1263.6" y="153.5" width="21.0" height="7.0" fill="#700000"/><rect x="1284.2" y="153.5" width="21.0" height="7.0" fill="#690000"/><rect x="1304.8" y="153.5" width="21.0" height="7.0" fill="#620000"/><rect x="1325.4" y="153.5" width="21.0" height="7.0" fill="#5c0000"/><rect x="1346.0" y="153.5" width="21.0" height="7.0" fill="#570000"/><rect x="1366.6" y="153.5" width="21.0" height="7.0" fill="#520000"/><rect x="1387.2" y="153.5" width="10.7" height="7.0" fill="#4e0000"/><rect x="1088.5" y="160.1" width="10.7" height="7.0" fill="#c90000"/><rect x="1098.8" y="160.1" width="21.0" height="7.0" fill="#bf0000"/><rect x="1119.4" y="160.1" width="21.0" height="7.0" fill="#b80000"/><rect x="1140.0" y="160.1" width="21.0" height="7.0" fill="#b10000"/><rect x="1160.6" y="160.1" width="21.0" height="7.0" fill="#a80000"/><rect x="1181.2" y="160.1" width="21.0" height="7.0" fill="#9e0000"/><rect x="1201.8" y="160.1" width="21.0" height="7.0" fill="#950000"/><rect x="1222.4" y="160.1" width="21.0" height="7.0" fill="#8d0000"/><rect x="1243.0" y="160.1" width="21.0" height="7.0" fill="#850000"/><rect x="1263.6" y="160.1" width="21.0" height="7.0" fill="#7d0000"/><rect x="1284.2" y="160.1" width="21.0" height="7.0" fill="#750000"/><rect x="1304.8" y="160.1" width="21.0" height="7.0" fill="#6e0000"/><rect x="1325.4" y="160.1" width="21.0" height="7.0" fill="#680000"/><rect x="1346.0" y="160.1" width="21.0" height="7.0" fill="#610000"/><rect x="1366.6" y="160.1" width="21.0" height="7.0" fill="#5b0000"/><rect x="1387.2" y="160.1" width="10.7" height="7.0" fill="#550000"/><rect x="1088.5" y="166.7" width="10.7" height="7.0" fill="#de0000"/><rect x="1098.8" y="166.7" width="21.0" height="7.0" fill="#d20000"/><rect x="1119.4" y="166.7" width="21.0" height="7.0" fill="#cc0000"/><rect x="1140.0" y="166.7" width="21.0" height="7.0" fill="#c60000"/><rect x="1160.6" y="166.7" width="21.0" height="7.0" fill="#bb0000"/><rect x="1181.2" y="166.7" width="21.0" height="7.0" fill="#af0000"/><rect x="1201.8" y="166.7" width="21.0" height="7.0" fill="#a50000"/><rect x="1222.4" y="166.7" width="21.0" height="7.0" fill="#9c0000"/><rect x="1243.0" y="166.7" width="21.0" height="7.0" fill="#930000"/><rect x="1263.6" y="166.7" width="21.0" height="7.0" fill="#8a0000"/><rect x="1284.2" y="166.7" width="21.0" height="7.0" fill="#810000"/><rect x="1304.8" y="166.7" width="21.0" height="7.0" fill="#7a0000"/><rect x="1325.4" y="166.7" width="21.0" height="7.0" fill="#730000"/><rect x="1346.0" y="166.7" width="21.0" height="7.0" fill="#6c0000"/><rect x="1366.6" y="166.7" width="21.0" height="7.0" fill="#660000"/><rect x="1387.2" y="166.7" width="10.7" height="7.0" fill="#5f0000"/><rect x="1088.5" y="173.3" width="10.7" height="7.0" fill="#f60200"/><rect x="1098.8" y="173.3" width="21.0" height="7.0" fill="#ec0000"/><rect x="1119.4" y="173.3" width="21.0" height="7.0" fill="#e20000"/><rect x="1140.0" y="173.3" width="21.0" height="7.0" fill="#d90000"/><rect x="1160.6" y="173.3" width="21.0" height="7.0" fill="#cd0000"/><rect x="1181.2" y="173.3" width="21.0" height="7.0" fill="#c20000"/><rect x="1201.8" y="173.3" width="21.0" height="7.0" fill="#b60000"/><rect x="1222.4" y="173.3" width="21.0" height="7.0" fill="#ac0000"/><rect x="1243.0" y="173.3" width="21.0" height="7.0" fill="#a30000"/><rect x="1263.6" y="173.3" width="21.0" height="7.0" fill="#9a0000"/><rect x="1284.2" y="173.3" width="21.0" height="7.0" fill="#910000"/><rect x="1304.8" y="173.3" width="21.0" height="7.0" fill="#8a0000"/><rect x="1325.4" y="173.3" width="21.0" height="7.0" fill="#840000"/><rect x="1346.0" y="173.3" width="21.0" height="7.0" fill="#7d0000"/><rect x="1366.6" y="173.3" width="21.0" height="7.0" fill="#770000"/><rect x="1387.2" y="173.3" width="10.7" height="7.0" fill="#710000"/><rect x="1088.5" y="179.9" width="10.7" height="7.0" fill="#f90e00"/><rect x="1098.8" y="179.9" width="21.0" height="7.0" fill="#f70700"/><rect x="1119.4" y="179.9" width="21.0" height="7.0" fill="#f50200"/><rect x="1140.0" y="179.9" width="21.0" height="7.0" fill="#ec0000"/><rect x="1160.6" y="179.9" width="21.0" height="7.0" fill="#e00000"/><rect x="1181.2" y="179.9" width="21.0" height="7.0" fill="#d40000"/><rect x="1201.8" y="179.9" width="21.0" height="7.0" fill="#c90000"/><rect x="1222.4" y="179.9" width="21.0" height="7.0" fill="#be0000"/><rect x="1243.0" y="179.9" width="21.0" height="7.0" fill="#b40000"/><rect x="1263.6" y="179.9" width="21.0" height="7.0" fill="#aa0000"/><rect x="1284.2" y="179.9" width="21.0" height="7.0" fill="#a10000"/><rect x="1304.8" y="179.9" width="21.0" height="7.0" fill="#9a0000"/><rect x="1325.4" y="179.9" width="21.0" height="7.0" fill="#940000"/><rect x="1346.0" y="179.9" width="21.0" height="7.0" fill="#8f0000"/><rect x="1366.6" y="179.9" width="21.0" height="7.0" fill="#890000"/><rect x="1387.2" y="179.9" width="10.7" height="7.0" fill="#830000"/><rect x="1088.5" y="186.5" width="10.7" height="7.0" fill="#fc1a00"/><rect x="1098.8" y="186.5" width="21.0" height="7.0" fill="#fa1200"/><rect x="1119.4" y="186.5" width="21.0" height="7.0" fill="#f80b00"/><rect x="1140.0" y="186.5" width="21.0" height="7.0" fill="#f60400"/><rect x="1160.6" y="186.5" width="21.0" height="7.0" fill="#f30000"/><rect x="1181.2" y="186.5" width="21.0" height="7.0" fill="#e70000"/><rect x="1201.8" y="186.5" width="21.0" height="7.0" fill="#db0000"/><rect x="1222.4" y="186.5" width="21.0" height="7.0" fill="#d10000"/><rect x="1243.0" y="186.5" width="21.0" height="7.0" fill="#c70000"/><rect x="1263.6" y="186.5" width="21.0" height="7.0" fill="#bc0000"/><rect x="1284.2" y="186.5" width="21.0" height="7.0" fill="#b20000"/><rect x="1304.8" y="186.5" width="21.0" height="7.0" fill="#aa0000"/><rect x="1325.4" y="186.5" width="21.0" height="7.0" fill="#a50000"/><rect x="1346.0" y="186.5" width="21.0" height="7.0" fill="#a00000"/><rect x="1366.6" y="186.5" width="21.0" height="7.0" fill="#9a0000"/><rect x="1387.2" y="186.5" width="10.7" height="7.0" fill="#950000"/><rect x="1088.5" y="193.2" width="10.7" height="7.0" fill="#ff2600"/><rect x="1098.8" y="193.2" width="21.0" height="7.0" fill="#fd1d00"/><rect x="1119.4" y="193.2" width="21.0" height="7.0" fill="#fb1500"/><rect x="1140.0" y="193.2" width="21.0" height="7.0" fill="#f80c00"/><rect x="1160.6" y="193.2" width="21.0" height="7.0" fill="#f70700"/><rect x="1181.2" y="193.2" width="21.0" height="7.0" fill="#f60200"/><rect x="1201.8" y="193.2" width="21.0" height="7.0" fill="#ee0000"/><rect x="1222.4" y="193.2" width="21.0" height="7.0" fill="#e40000"/><rect x="1243.0" y="193.2" width="21.0" height="7.0" fill="#d90000"/><rect x="1263.6" y="193.2" width="21.0" height="7.0" fill="#cf0000"/><rect x="1284.2" y="193.2" width="21.0" height="7.0" fill="#c50000"/><rect x="1304.8" y="193.2" width="21.0" height="7.0" fill="#bc0000"/><rect x="1325.4" y="193.2" width="21.0" height="7.0" fill="#b70000"/><rect x="1346.0" y="193.2" width="21.0" height="7.0" fill="#b10000"/><rect x="1366.6" y="193.2" width="21.0" height="7.0" fill="#ac0000"/><rect x="1387.2" y="193.2" width="10.7" height="7.0" fill="#a70000"/><rect x="1088.5" y="199.8" width="10.7" height="7.0" fill="#ff3200"/><rect x="1098.8" y="199.8" width="21.0" height="7.0" fill="#ff2800"/><rect x="1119.4" y="199.8" width="21.0" height="7.0" fill="#fe1e00"/><rect x="1140.0" y="199.8" width="21.0" height="7.0" fill="#fb1400"/><rect x="1160.6" y="199.8" width="21.0" height="7.0" fill="#f90f00"/><rect x="1181.2" y="199.8" width="21.0" height="7.0" fill="#f80a00"/><rect x="1201.8" y="199.8" width="21.0" height="7.0" fill="#f60500"/><rect x="1222.4" y="199.8" width="21.0" height="7.0" fill="#f50100"/><rect x="1243.0" y="199.8" width="21.0" height="7.0" fill="#ec0000"/><rect x="1263.6" y="199.8" width="21.0" height="7.0" fill="#e20000"/><rect x="1284.2" y="199.8" width="21.0" height="7.0" fill="#d70000"/><rect x="1304.8" y="199.8" width="21.0" height="7.0" fill="#cf0000"/><rect x="1325.4" y="199.8" width="21.0" height="7.0" fill="#ca0000"/><rect x="1346.0" y="199.8" width="21.0" height="7.0" fill="#c50000"/><rect x="1366.6" y="199.8" width="21.0" height="7.0" fill="#c00000"/><rect x="1387.2" y="199.8" width="10.7" height="7.0" fill="#bb0000"/><rect x="1088.5" y="206.4" width="10.7" height="7.0" fill="#ff4a00"/><rect x="1098.8" y="206.4" width="21.0" height="7.0" fill="#ff3d00"/><rect x="1119.4" y="206.4" width="21.0" height="7.0" fill="#ff3100"/><rect x="1140.0" y="206.4" width="21.0" height="7.0" fill="#ff2500"/><rect x="1160.6" y="206.4" width="21.0" height="7.0" fill="#fe1f00"/><rect x="1181.2" y="206.4" width="21.0" height="7.0" fill="#fc1900"/><rect x="1201.8" y="206.4" width="21.0" height="7.0" fill="#fa1300"/><rect x="1222.4" y="206.4" width="21.0" height="7.0" fill="#f90e00"/><rect x="1243.0" y="206.4" width="21.0" height="7.0" fill="#f80900"/><rect x="1263.6" y="206.4" width="21.0" height="7.0" fill="#f60400"/><rect x="1284.2" y="206.4" width="21.0" height="7.0" fill="#f40000"/><rect x="1304.8" y="206.4" width="21.0" height="7.0" fill="#eb0000"/><rect x="1325.4" y="206.4" width="21.0" height="7.0" fill="#e40000"/><rect x="1346.0" y="206.4" width="21.0" height="7.0" fill="#dd0000"/><rect x="1366.6" y="206.4" width="21.0" height="7.0" fill="#d60000"/><rect x="1387.2" y="206.4" width="10.7" height="7.0" fill="#d00000"/><rect x="1088.5" y="213.0" width="10.7" height="7.0" fill="#ff6100"/><rect x="1098.8" y="213.0" width="21.0" height="7.0" fill="#ff5200"/><rect x="1119.4" y="213.0" width="21.0" height="7.0" fill="#ff4400"/><rect x="1140.0" y="213.0" width="21.0" height="7.0" fill="#ff3600"/><rect x="1160.6" y="213.0" width="21.0" height="7.0" fill="#ff2f00"/><rect x="1181.2" y="213.0" width="21.0" height="7.0" fill="#ff2800"/><rect x="1201.8" y="213.0" width="21.0" height="7.0" fill="#fe2100"/><rect x="1222.4" y="213.0" width="21.0" height="7.0" fill="#fd1c00"/><rect x="1243.0" y="213.0" width="21.0" height="7.0" fill="#fb1600"/><rect x="1263.6" y="213.0" width="21.0" height="7.0" fill="#fa1100"/><rect x="1284.2" y="213.0" width="21.0" height="7.0" fill="#f80c00"/><rect x="1304.8" y="213.0" width="21.0" height="7.0" fill="#f70700"/><rect x="1325.4" y="213.0" width="21.0" height="7.0" fill="#f60400"/><rect x="1346.0" y="213.0" width="21.0" height="7.0" fill="#f50000"/><rect x="1366.6" y="213.0" width="21.0" height="7.0" fill="#ed0000"/><rect x="1387.2" y="213.0" width="10.7" height="7.0" fill="#e50000"/><rect x="1088.5" y="219.6" width="10.7" height="7.0" fill="#ff7600"/><rect x="1098.8" y="219.6" width="21.0" height="7.0" fill="#ff6500"/><rect x="1119.4" y="219.6" width="21.0" height="7.0" fill="#ff5700"/><rect x="1140.0" y="219.6" width="21.0" height="7.0" fill="#ff4700"/><rect x="1160.6" y="219.6" width="21.0" height="7.0" fill="#ff3f00"/><rect x="1181.2" y="219.6" width="21.0" height="7.0" fill="#ff3700"/><rect x="1201.8" y="219.6" width="21.0" height="7.0" fill="#ff2f00"/><rect x="1222.4" y="219.6" width="21.0" height="7.0" fill="#ff2900"/><rect x="1243.0" y="219.6" width="21.0" height="7.0" fill="#ff2300"/><rect x="1263.6" y="219.6" width="21.0" height="7.0" fill="#fd1e00"/><rect x="1284.2" y="219.6" width="21.0" height="7.0" fill="#fc1800"/><rect x="1304.8" y="219.6" width="21.0" height="7.0" fill="#fa1300"/><rect x="1325.4" y="219.6" width="21.0" height="7.0" fill="#f90f00"/><rect x="1346.0" y="219.6" width="21.0" height="7.0" fill="#f80a00"/><rect x="1366.6" y="219.6" width="21.0" height="7.0" fill="#f70600"/><rect x="1387.2" y="219.6" width="10.7" height="7.0" fill="#f60200"/><rect x="1088.5" y="226.2" width="10.7" height="7.0" fill="#ff8b00"/><rect x="1098.8" y="226.2" width="21.0" height="7.0" fill="#ff7800"/><rect x="1119.4" y="226.2" width="21.0" height="7.0" fill="#ff6800"/><rect x="1140.0" y="226.2" width="21.0" height="7.0" fill="#ff5800"/><rect x="1160.6" y="226.2" width="21.0" height="7.0" fill="#ff4f00"/><rect x="1181.2" y="226.2" width="21.0" height="7.0" fill="#ff4600"/><rect x="1201.8" y="226.2" width="21.0" height="7.0" fill="#ff3d00"/><rect x="1222.4" y="226.2" width="21.0" height="7.0" fill="#ff3700"/><rect x="1243.0" y="226.2" width="21.0" height="7.0" fill="#ff3100"/><rect x="1263.6" y="226.2" width="21.0" height="7.0" fill="#ff2a00"/><rect x="1284.2" y="226.2" width="21.0" height="7.0" fill="#ff2400"/><rect x="1304.8" y="226.2" width="21.0" height="7.0" fill="#fe1f00"/><rect x="1325.4" y="226.2" width="21.0" height="7.0" fill="#fc1a00"/><rect x="1346.0" y="226.2" width="21.0" height="7.0" fill="#fb1500"/><rect x="1366.6" y="226.2" width="21.0" height="7.0" fill="#fa1000"/><rect x="1387.2" y="226.2" width="10.7" height="7.0" fill="#f80b00"/><rect x="1088.5" y="232.8" width="10.7" height="7.0" fill="#ffa100"/><rect x="1098.8" y="232.8" width="21.0" height="7.0" fill="#ff8a00"/><rect x="1119.4" y="232.8" width="21.0" height="7.0" fill="#ff7900"/><rect x="1140.0" y="232.8" width="21.0" height="7.0" fill="#ff6700"/><rect x="1160.6" y="232.8" width="21.0" height="7.0" fill="#ff5e00"/><rect x="1181.2" y="232.8" width="21.0" height="7.0" fill="#ff5500"/><rect x="1201.8" y="232.8" width="21.0" height="7.0" fill="#ff4b00"/><rect x="1222.4" y="232.8" width="21.0" height="7.0" fill="#ff4400"/><rect x="1243.0" y="232.8" width="21.0" height="7.0" fill="#ff3e00"/><rect x="1263.6" y="232.8" width="21.0" height="7.0" fill="#ff3700"/><rect x="1284.2" y="232.8" width="21.0" height="7.0" fill="#ff3000"/><rect x="1304.8" y="232.8" width="21.0" height="7.0" fill="#ff2a00"/><rect x="1325.4" y="232.8" width="21.0" height="7.0" fill="#ff2500"/><rect x="1346.0" y="232.8" width="21.0" height="7.0" fill="#fe1f00"/><rect x="1366.6" y="232.8" width="21.0" height="7.0" fill="#fc1a00"/><rect x="1387.2" y="232.8" width="10.7" height="7.0" fill="#fb1400"/><rect x="1088.5" y="239.4" width="10.7" height="7.0" fill="#ffb300"/><rect x="1098.8" y="239.4" width="21.0" height="7.0" fill="#ff9e00"/><rect x="1119.4" y="239.4" width="21.0" height="7.0" fill="#ff8b00"/><rect x="1140.0" y="239.4" width="21.0" height="7.0" fill="#ff7900"/><rect x="1160.6" y="239.4" width="21.0" height="7.0" fill="#ff6e00"/><rect x="1181.2" y="239.4" width="21.0" height="7.0" fill="#ff6400"/><rect x="1201.8" y="239.4" width="21.0" height="7.0" fill="#ff5a00"/><rect x="1222.4" y="239.4" width="21.0" height="7.0" fill="#ff5400"/><rect x="1243.0" y="239.4" width="21.0" height="7.0" fill="#ff4d00"/><rect x="1263.6" y="239.4" width="21.0" height="7.0" fill="#ff4600"/><rect x="1284.2" y="239.4" width="21.0" height="7.0" fill="#ff3f00"/><rect x="1304.8" y="239.4" width="21.0" height="7.0" fill="#ff3800"/><rect x="1325.4" y="239.4" width="21.0" height="7.0" fill="#ff3200"/><rect x="1346.0" y="239.4" width="21.0" height="7.0" fill="#ff2b00"/><rect x="1366.6" y="239.4" width="21.0" height="7.0" fill="#ff2500"/><rect x="1387.2" y="239.4" width="10.7" height="7.0" fill="#fe1f00"/><rect x="1088.5" y="246.0" width="10.7" height="7.0" fill="#ffc600"/><rect x="1098.8" y="246.0" width="21.0" height="7.0" fill="#ffb200"/><rect x="1119.4" y="246.0" width="21.0" height="7.0" fill="#ff9e00"/><rect x="1140.0" y="246.0" width="21.0" height="7.0" fill="#ff8a00"/><rect x="1160.6" y="246.0" width="21.0" height="7.0" fill="#ff7f00"/><rect x="1181.2" y="246.0" width="21.0" height="7.0" fill="#ff7400"/><rect x="1201.8" y="246.0" width="21.0" height="7.0" fill="#ff6900"/><rect x="1222.4" y="246.0" width="21.0" height="7.0" fill="#ff6200"/><rect x="1243.0" y="246.0" width="21.0" height="7.0" fill="#ff5b00"/><rect x="1263.6" y="246.0" width="21.0" height="7.0" fill="#ff5400"/><rect x="1284.2" y="246.0" width="21.0" height="7.0" fill="#ff4d00"/><rect x="1304.8" y="246.0" width="21.0" height="7.0" fill="#ff4600"/><rect x="1325.4" y="246.0" width="21.0" height="7.0" fill="#ff3f00"/><rect x="1346.0" y="246.0" width="21.0" height="7.0" fill="#ff3800"/><rect x="1366.6" y="246.0" width="21.0" height="7.0" fill="#ff3100"/><rect x="1387.2" y="246.0" width="10.7" height="7.0" fill="#ff2a00"/><rect x="1088.5" y="252.6" width="10.7" height="7.0" fill="#ffda00"/><rect x="1098.8" y="252.6" width="21.0" height="7.0" fill="#ffc500"/><rect x="1119.4" y="252.6" width="21.0" height="7.0" fill="#ffb100"/><rect x="1140.0" y="252.6" width="21.0" height="7.0" fill="#ff9c00"/><rect x="1160.6" y="252.6" width="21.0" height="7.0" fill="#ff9000"/><rect x="1181.2" y="252.6" width="21.0" height="7.0" fill="#ff8300"/><rect x="1201.8" y="252.6" width="21.0" height="7.0" fill="#ff7700"/><rect x="1222.4" y="252.6" width="21.0" height="7.0" fill="#ff7000"/><rect x="1243.0" y="252.6" width="21.0" height="7.0" fill="#ff6900"/><rect x="1263.6" y="252.6" width="21.0" height="7.0" fill="#ff6100"/><rect x="1284.2" y="252.6" width="21.0" height="7.0" fill="#ff5a00"/><rect x="1304.8" y="252.6" width="21.0" height="7.0" fill="#ff5300"/><rect x="1325.4" y="252.6" width="21.0" height="7.0" fill="#ff4c00"/><rect x="1346.0" y="252.6" width="21.0" height="7.0" fill="#ff4400"/><rect x="1366.6" y="252.6" width="21.0" height="7.0" fill="#ff3d00"/><rect x="1387.2" y="252.6" width="10.7" height="7.0" fill="#ff3500"/><rect x="1088.5" y="259.2" width="10.7" height="7.0" fill="#ffef00"/><rect x="1098.8" y="259.2" width="21.0" height="7.0" fill="#ffda00"/><rect x="1119.4" y="259.2" width="21.0" height="7.0" fill="#ffc300"/><rect x="1140.0" y="259.2" width="21.0" height="7.0" fill="#ffae00"/><rect x="1160.6" y="259.2" width="21.0" height="7.0" fill="#ffa000"/><rect x="1181.2" y="259.2" width="21.0" height="7.0" fill="#ff9300"/><rect x="1201.8" y="259.2" width="21.0" height="7.0" fill="#ff8500"/><rect x="1222.4" y="259.2" width="21.0" height="7.0" fill="#ff7d00"/><rect x="1243.0" y="259.2" width="21.0" height="7.0" fill="#ff7600"/><rect x="1263.6" y="259.2" width="21.0" height="7.0" fill="#ff6e00"/><rect x="1284.2" y="259.2" width="21.0" height="7.0" fill="#ff6700"/><rect x="1304.8" y="259.2" width="21.0" height="7.0" fill="#ff6000"/><rect x="1325.4" y="259.2" width="21.0" height="7.0" fill="#ff5800"/><rect x="1346.0" y="259.2" width="21.0" height="7.0" fill="#ff5000"/><rect x="1366.6" y="259.2" width="21.0" height="7.0" fill="#ff4800"/><rect x="1387.2" y="259.2" width="10.7" height="7.0" fill="#ff4000"/><rect x="1088.5" y="265.8" width="10.7" height="7.0" fill="#ffff0d"/><rect x="1098.8" y="265.8" width="21.0" height="7.0" fill="#fff000"/><rect x="1119.4" y="265.8" width="21.0" height="7.0" fill="#ffd700"/><rect x="1140.0" y="265.8" width="21.0" height="7.0" fill="#ffc000"/><rect x="1160.6" y="265.8" width="21.0" height="7.0" fill="#ffb100"/><rect x="1181.2" y="265.8" width="21.0" height="7.0" fill="#ffa200"/><rect x="1201.8" y="265.8" width="21.0" height="7.0" fill="#ff9300"/><rect x="1222.4" y="265.8" width="21.0" height="7.0" fill="#ff8b00"/><rect x="1243.0" y="265.8" width="21.0" height="7.0" fill="#ff8300"/><rect x="1263.6" y="265.8" width="21.0" height="7.0" fill="#ff7c00"/><rect x="1284.2" y="265.8" width="21.0" height="7.0" fill="#ff7400"/><rect x="1304.8" y="265.8" width="21.0" height="7.0" fill="#ff6c00"/><rect x="1325.4" y="265.8" width="21.0" height="7.0" fill="#ff6400"/><rect x="1346.0" y="265.8" width="21.0" height="7.0" fill="#ff5c00"/><rect x="1366.6" y="265.8" width="21.0" height="7.0" fill="#ff5400"/><rect x="1387.2" y="265.8" width="10.7" height="7.0" fill="#ff4b00"/><rect x="1088.5" y="272.4" width="10.7" height="7.0" fill="#ffff43"/><rect x="1098.8" y="272.4" width="21.0" height="7.0" fill="#ffff0e"/><rect x="1119.4" y="272.4" width="21.0" height="7.0" fill="#ffeb00"/><rect x="1140.0" y="272.4" width="21.0" height="7.0" fill="#ffd200"/><rect x="1160.6" y="272.4" width="21.0" height="7.0" fill="#ffc300"/><rect x="1181.2" y="272.4" width="21.0" height="7.0" fill="#ffb400"/><rect x="1201.8" y="272.4" width="21.0" height="7.0" fill="#ffa500"/><rect x="1222.4" y="272.4" width="21.0" height="7.0" fill="#ff9c00"/><rect x="1243.0" y="272.4" width="21.0" height="7.0" fill="#ff9400"/><rect x="1263.6" y="272.4" width="21.0" height="7.0" fill="#ff8b00"/><rect x="1284.2" y="272.4" width="21.0" height="7.0" fill="#ff8200"/><rect x="1304.8" y="272.4" width="21.0" height="7.0" fill="#ff7a00"/><rect x="1325.4" y="272.4" width="21.0" height="7.0" fill="#ff7300"/><rect x="1346.0" y="272.4" width="21.0" height="7.0" fill="#ff6b00"/><rect x="1366.6" y="272.4" width="21.0" height="7.0" fill="#ff6400"/><rect x="1387.2" y="272.4" width="10.7" height="7.0" fill="#ff5c00"/><rect x="1088.5" y="279.0" width="10.7" height="7.0" fill="#ffff78"/><rect x="1098.8" y="279.0" width="21.0" height="7.0" fill="#ffff43"/><rect x="1119.4" y="279.0" width="21.0" height="7.0" fill="#ffff00"/><rect x="1140.0" y="279.0" width="21.0" height="7.0" fill="#ffe600"/><rect x="1160.6" y="279.0" width="21.0" height="7.0" fill="#ffd500"/><rect x="1181.2" y="279.0" width="21.0" height="7.0" fill="#ffc600"/><rect x="1201.8" y="279.0" width="21.0" height="7.0" fill="#ffb700"/><rect x="1222.4" y="279.0" width="21.0" height="7.0" fill="#ffad00"/><rect x="1243.0" y="279.0" width="21.0" height="7.0" fill="#ffa400"/><rect x="1263.6" y="279.0" width="21.0" height="7.0" fill="#ff9a00"/><rect x="1284.2" y="279.0" width="21.0" height="7.0" fill="#ff9100"/><rect x="1304.8" y="279.0" width="21.0" height="7.0" fill="#ff8900"/><rect x="1325.4" y="279.0" width="21.0" height="7.0" fill="#ff8100"/><rect x="1346.0" y="279.0" width="21.0" height="7.0" fill="#ff7a00"/><rect x="1366.6" y="279.0" width="21.0" height="7.0" fill="#ff7300"/><rect x="1387.2" y="279.0" width="10.7" height="7.0" fill="#ff6c00"/><rect x="1088.5" y="285.6" width="10.7" height="7.0" fill="#ffff9e"/><rect x="1098.8" y="285.6" width="21.0" height="7.0" fill="#ffff6e"/><rect x="1119.4" y="285.6" width="21.0" height="7.0" fill="#ffff28"/><rect x="1140.0" y="285.6" width="21.0" height="7.0" fill="#fff400"/><rect x="1160.6" y="285.6" width="21.0" height="7.0" fill="#ffe500"/><rect x="1181.2" y="285.6" width="21.0" height="7.0" fill="#ffd500"/><rect x="1201.8" y="285.6" width="21.0" height="7.0" fill="#ffc700"/><rect x="1222.4" y="285.6" width="21.0" height="7.0" fill="#ffbd00"/><rect x="1243.0" y="285.6" width="21.0" height="7.0" fill="#ffb300"/><rect x="1263.6" y="285.6" width="21.0" height="7.0" fill="#ffa900"/><rect x="1284.2" y="285.6" width="21.0" height="7.0" fill="#ff9f00"/><rect x="1304.8" y="285.6" width="21.0" height="7.0" fill="#ff9700"/><rect x="1325.4" y="285.6" width="21.0" height="7.0" fill="#ff9000"/><rect x="1346.0" y="285.6" width="21.0" height="7.0" fill="#ff8900"/><rect x="1366.6" y="285.6" width="21.0" height="7.0" fill="#ff8100"/><rect x="1387.2" y="285.6" width="10.7" height="7.0" fill="#ff7a00"/><rect x="1088.5" y="292.2" width="10.7" height="7.0" fill="#ffffc2"/><rect x="1098.8" y="292.2" width="21.0" height="7.0" fill="#ffff88"/><rect x="1119.4" y="292.2" width="21.0" height="7.0" fill="#ffff43"/><rect x="1140.0" y="292.2" width="21.0" height="7.0" fill="#fffc00"/><rect x="1160.6" y="292.2" width="21.0" height="7.0" fill="#ffef00"/><rect x="1181.2" y="292.2" width="21.0" height="7.0" fill="#ffe300"/><rect x="1201.8" y="292.2" width="21.0" height="7.0" fill="#ffd600"/><rect x="1222.4" y="292.2" width="21.0" height="7.0" fill="#ffcb00"/><rect x="1243.0" y="292.2" width="21.0" height="7.0" fill="#ffc100"/><rect x="1263.6" y="292.2" width="21.0" height="7.0" fill="#ffb700"/><rect x="1284.2" y="292.2" width="21.0" height="7.0" fill="#ffad00"/><rect x="1304.8" y="292.2" width="21.0" height="7.0" fill="#ffa500"/><rect x="1325.4" y="292.2" width="21.0" height="7.0" fill="#ff9d00"/><rect x="1346.0" y="292.2" width="21.0" height="7.0" fill="#ff9600"/><rect x="1366.6" y="292.2" width="21.0" height="7.0" fill="#ff8e00"/><rect x="1387.2" y="292.2" width="10.7" height="7.0" fill="#ff8700"/><rect x="1088.5" y="298.8" width="10.7" height="7.0" fill="#ffffd9"/><rect x="1098.8" y="298.8" width="21.0" height="7.0" fill="#ffffa0"/><rect x="1119.4" y="298.8" width="21.0" height="7.0" fill="#ffff5e"/><rect x="1140.0" y="298.8" width="21.0" height="7.0" fill="#ffff0d"/><rect x="1160.6" y="298.8" width="21.0" height="7.0" fill="#fffa00"/><rect x="1181.2" y="298.8" width="21.0" height="7.0" fill="#fff000"/><rect x="1201.8" y="298.8" width="21.0" height="7.0" fill="#ffe600"/><rect x="1222.4" y="298.8" width="21.0" height="7.0" fill="#ffdb00"/><rect x="1243.0" y="298.8" width="21.0" height="7.0" fill="#ffd000"/><rect x="1263.6" y="298.8" width="21.0" height="7.0" fill="#ffc600"/><rect x="1284.2" y="298.8" width="21.0" height="7.0" fill="#ffbc00"/><rect x="1304.8" y="298.8" width="21.0" height="7.0" fill="#ffb300"/><rect x="1325.4" y="298.8" width="21.0" height="7.0" fill="#ffab00"/><rect x="1346.0" y="298.8" width="21.0" height="7.0" fill="#ffa300"/><rect x="1366.6" y="298.8" width="21.0" height="7.0" fill="#ff9b00"/><rect x="1387.2" y="298.8" width="10.7" height="7.0" fill="#ff9300"/><rect x="1088.5" y="305.5" width="10.7" height="7.0" fill="#ffffe4"/><rect x="1098.8" y="305.5" width="21.0" height="7.0" fill="#ffffa8"/><rect x="1119.4" y="305.5" width="21.0" height="7.0" fill="#ffff68"/><rect x="1140.0" y="305.5" width="21.0" height="7.0" fill="#ffff18"/><rect x="1160.6" y="305.5" width="21.0" height="7.0" fill="#ffff01"/><rect x="1181.2" y="305.5" width="21.0" height="7.0" fill="#fff700"/><rect x="1201.8" y="305.5" width="21.0" height="7.0" fill="#ffee00"/><rect x="1222.4" y="305.5" width="21.0" height="7.0" fill="#ffe200"/><rect x="1243.0" y="305.5" width="21.0" height="7.0" fill="#ffd600"/><rect x="1263.6" y="305.5" width="21.0" height="7.0" fill="#ffca00"/><rect x="1284.2" y="305.5" width="21.0" height="7.0" fill="#ffc000"/><rect x="1304.8" y="305.5" width="21.0" height="7.0" fill="#ffb700"/><rect x="1325.4" y="305.5" width="21.0" height="7.0" fill="#ffb000"/><rect x="1346.0" y="305.5" width="21.0" height="7.0" fill="#ffa900"/><rect x="1366.6" y="305.5" width="21.0" height="7.0" fill="#ffa100"/><rect x="1387.2" y="305.5" width="10.7" height="7.0" fill="#ff9a00"/><rect x="1088.5" y="312.1" width="10.7" height="7.0" fill="#ffffef"/><rect x="1098.8" y="312.1" width="21.0" height="7.0" fill="#ffffb0"/><rect x="1119.4" y="312.1" width="21.0" height="7.0" fill="#ffff73"/><rect x="1140.0" y="312.1" width="21.0" height="7.0" fill="#ffff23"/><rect x="1160.6" y="312.1" width="21.0" height="7.0" fill="#ffff0f"/><rect x="1181.2" y="312.1" width="21.0" height="7.0" fill="#fffd00"/><rect x="1201.8" y="312.1" width="21.0" height="7.0" fill="#fff600"/><rect x="1222.4" y="312.1" width="21.0" height="7.0" fill="#ffe900"/><rect x="1243.0" y="312.1" width="21.0" height="7.0" fill="#ffdc00"/><rect x="1263.6" y="312.1" width="21.0" height="7.0" fill="#ffcf00"/><rect x="1284.2" y="312.1" width="21.0" height="7.0" fill="#ffc400"/><rect x="1304.8" y="312.1" width="21.0" height="7.0" fill="#ffbb00"/><rect x="1325.4" y="312.1" width="21.0" height="7.0" fill="#ffb400"/><rect x="1346.0" y="312.1" width="21.0" height="7.0" fill="#ffae00"/><rect x="1366.6" y="312.1" width="21.0" height="7.0" fill="#ffa800"/><rect x="1387.2" y="312.1" width="10.7" height="7.0" fill="#ffa100"/><rect x="1088.5" y="318.7" width="10.7" height="7.0" fill="#ffffef"/><rect x="1098.8" y="318.7" width="21.0" height="7.0" fill="#ffffae"/><rect x="1119.4" y="318.7" width="21.0" height="7.0" fill="#ffff70"/><rect x="1140.0" y="318.7" width="21.0" height="7.0" fill="#ffff20"/><rect x="1160.6" y="318.7" width="21.0" height="7.0" fill="#ffff0d"/><rect x="1181.2" y="318.7" width="21.0" height="7.0" fill="#fffd00"/><rect x="1201.8" y="318.7" width="21.0" height="7.0" fill="#fff600"/><rect x="1222.4" y="318.7" width="21.0" height="7.0" fill="#ffe900"/><rect x="1243.0" y="318.7" width="21.0" height="7.0" fill="#ffdc00"/><rect x="1263.6" y="318.7" width="21.0" height="7.0" fill="#ffcf00"/><rect x="1284.2" y="318.7" width="21.0" height="7.0" fill="#ffc400"/><rect x="1304.8" y="318.7" width="21.0" height="7.0" fill="#ffbb00"/><rect x="1325.4" y="318.7" width="21.0" height="7.0" fill="#ffb500"/><rect x="1346.0" y="318.7" width="21.0" height="7.0" fill="#ffb000"/><rect x="1366.6" y="318.7" width="21.0" height="7.0" fill="#ffaa00"/><rect x="1387.2" y="318.7" width="10.7" height="7.0" fill="#ffa400"/><rect x="1088.5" y="325.3" width="10.7" height="7.0" fill="#ffffe4"/><rect x="1098.8" y="325.3" width="21.0" height="7.0" fill="#ffffa2"/><rect x="1119.4" y="325.3" width="21.0" height="7.0" fill="#ffff60"/><rect x="1140.0" y="325.3" width="21.0" height="7.0" fill="#ffff10"/><rect x="1160.6" y="325.3" width="21.0" height="7.0" fill="#fffd00"/><rect x="1181.2" y="325.3" width="21.0" height="7.0" fill="#fff600"/><rect x="1201.8" y="325.3" width="21.0" height="7.0" fill="#ffee00"/><rect x="1222.4" y="325.3" width="21.0" height="7.0" fill="#ffe200"/><rect x="1243.0" y="325.3" width="21.0" height="7.0" fill="#ffd600"/><rect x="1263.6" y="325.3" width="21.0" height="7.0" fill="#ffca00"/><rect x="1284.2" y="325.3" width="21.0" height="7.0" fill="#ffc000"/><rect x="1304.8" y="325.3" width="21.0" height="7.0" fill="#ffb800"/><rect x="1325.4" y="325.3" width="21.0" height="7.0" fill="#ffb200"/><rect x="1346.0" y="325.3" width="21.0" height="7.0" fill="#ffad00"/><rect x="1366.6" y="325.3" width="21.0" height="7.0" fill="#ffa800"/><rect x="1387.2" y="325.3" width="10.7" height="7.0" fill="#ffa200"/><rect x="1088.5" y="331.9" width="10.7" height="7.0" fill="#ffffd9"/><rect x="1098.8" y="331.9" width="21.0" height="7.0" fill="#ffff96"/><rect x="1119.4" y="331.9" width="21.0" height="7.0" fill="#ffff50"/><rect x="1140.0" y="331.9" width="21.0" height="7.0" fill="#ffff00"/><rect x="1160.6" y="331.9" width="21.0" height="7.0" fill="#fff700"/><rect x="1181.2" y="331.9" width="21.0" height="7.0" fill="#ffee00"/><rect x="1201.8" y="331.9" width="21.0" height="7.0" fill="#ffe600"/><rect x="1222.4" y="331.9" width="21.0" height="7.0" fill="#ffdb00"/><rect x="1243.0" y="331.9" width="21.0" height="7.0" fill="#ffd000"/><rect x="1263.6" y="331.9" width="21.0" height="7.0" fill="#ffc600"/><rect x="1284.2" y="331.9" width="21.0" height="7.0" fill="#ffbc00"/><rect x="1304.8" y="331.9" width="21.0" height="7.0" fill="#ffb400"/><rect x="1325.4" y="331.9" width="21.0" height="7.0" fill="#ffaf00"/><rect x="1346.0" y="331.9" width="21.0" height="7.0" fill="#ffaa00"/><rect x="1366.6" y="331.9" width="21.0" height="7.0" fill="#ffa500"/><rect x="1387.2" y="331.9" width="10.7" height="7.0" fill="#ffa100"/><rect x="1088.5" y="338.5" width="10.7" height="7.0" fill="#ffffb2"/><rect x="1098.8" y="338.5" width="21.0" height="7.0" fill="#ffff70"/><rect x="1119.4" y="338.5" width="21.0" height="7.0" fill="#ffff2b"/><rect x="1140.0" y="338.5" width="21.0" height="7.0" fill="#fff500"/><rect x="1160.6" y="338.5" width="21.0" height="7.0" fill="#ffec00"/><rect x="1181.2" y="338.5" width="21.0" height="7.0" fill="#ffe300"/><rect x="1201.8" y="338.5" width="21.0" height="7.0" fill="#ffda00"/><rect x="1222.4" y="338.5" width="21.0" height="7.0" fill="#ffcf00"/><rect x="1243.0" y="338.5" width="21.0" height="7.0" fill="#ffc600"/><rect x="1263.6" y="338.5" width="21.0" height="7.0" fill="#ffbc00"/><rect x="1284.2" y="338.5" width="21.0" height="7.0" fill="#ffb300"/><rect x="1304.8" y="338.5" width="21.0" height="7.0" fill="#ffac00"/><rect x="1325.4" y="338.5" width="21.0" height="7.0" fill="#ffa800"/><rect x="1346.0" y="338.5" width="21.0" height="7.0" fill="#ffa400"/><rect x="1366.6" y="338.5" width="21.0" height="7.0" fill="#ff9f00"/><rect x="1387.2" y="338.5" width="10.7" height="7.0" fill="#ff9b00"/><rect x="1088.5" y="345.1" width="10.7" height="7.0" fill="#ffff7e"/><rect x="1098.8" y="345.1" width="21.0" height="7.0" fill="#ffff40"/><rect x="1119.4" y="345.1" width="21.0" height="7.0" fill="#ffff05"/><rect x="1140.0" y="345.1" width="21.0" height="7.0" fill="#ffeb00"/><rect x="1160.6" y="345.1" width="21.0" height="7.0" fill="#ffe100"/><rect x="1181.2" y="345.1" width="21.0" height="7.0" fill="#ffd800"/><rect x="1201.8" y="345.1" width="21.0" height="7.0" fill="#ffce00"/><rect x="1222.4" y="345.1" width="21.0" height="7.0" fill="#ffc500"/><rect x="1243.0" y="345.1" width="21.0" height="7.0" fill="#ffbc00"/><rect x="1263.6" y="345.1" width="21.0" height="7.0" fill="#ffb300"/><rect x="1284.2" y="345.1" width="21.0" height="7.0" fill="#ffaa00"/><rect x="1304.8" y="345.1" width="21.0" height="7.0" fill="#ffa300"/><rect x="1325.4" y="345.1" width="21.0" height="7.0" fill="#ffa000"/><rect x="1346.0" y="345.1" width="21.0" height="7.0" fill="#ff9d00"/><rect x="1366.6" y="345.1" width="21.0" height="7.0" fill="#ff9900"/><rect x="1387.2" y="345.1" width="10.7" height="7.0" fill="#ff9600"/><rect x="1088.5" y="351.7" width="10.7" height="7.0" fill="#ffff3d"/><rect x="1098.8" y="351.7" width="21.0" height="7.0" fill="#ffff08"/><rect x="1119.4" y="351.7" width="21.0" height="7.0" fill="#ffef00"/><rect x="1140.0" y="351.7" width="21.0" height="7.0" fill="#ffdc00"/><rect x="1160.6" y="351.7" width="21.0" height="7.0" fill="#ffd300"/><rect x="1181.2" y="351.7" width="21.0" height="7.0" fill="#ffca00"/><rect x="1201.8" y="351.7" width="21.0" height="7.0" fill="#ffc100"/><rect x="1222.4" y="351.7" width="21.0" height="7.0" fill="#ffb900"/><rect x="1243.0" y="351.7" width="21.0" height="7.0" fill="#ffb100"/><rect x="1263.6" y="351.7" width="21.0" height="7.0" fill="#ffa900"/><rect x="1284.2" y="351.7" width="21.0" height="7.0" fill="#ffa000"/><rect x="1304.8" y="351.7" width="21.0" height="7.0" fill="#ff9b00"/><rect x="1325.4" y="351.7" width="21.0" height="7.0" fill="#ff9700"/><rect x="1346.0" y="351.7" width="21.0" height="7.0" fill="#ff9400"/><rect x="1366.6" y="351.7" width="21.0" height="7.0" fill="#ff9100"/><rect x="1387.2" y="351.7" width="10.7" height="7.0" fill="#ff8e00"/><rect x="1088.5" y="358.3" width="10.7" height="7.0" fill="#fffe00"/><rect x="1098.8" y="358.3" width="21.0" height="7.0" fill="#ffea00"/><rect x="1119.4" y="358.3" width="21.0" height="7.0" fill="#ffd900"/><rect x="1140.0" y="358.3" width="21.0" height="7.0" fill="#ffc900"/><rect x="1160.6" y="358.3" width="21.0" height="7.0" fill="#ffc100"/><rect x="1181.2" y="358.3" width="21.0" height="7.0" fill="#ffba00"/><rect x="1201.8" y="358.3" width="21.0" height="7.0" fill="#ffb300"/><rect x="1222.4" y="358.3" width="21.0" height="7.0" fill="#ffac00"/><rect x="1243.0" y="358.3" width="21.0" height="7.0" fill="#ffa500"/><rect x="1263.6" y="358.3" width="21.0" height="7.0" fill="#ff9e00"/><rect x="1284.2" y="358.3" width="21.0" height="7.0" fill="#ff9700"/><rect x="1304.8" y="358.3" width="21.0" height="7.0" fill="#ff9100"/><rect x="1325.4" y="358.3" width="21.0" height="7.0" fill="#ff8e00"/><rect x="1346.0" y="358.3" width="21.0" height="7.0" fill="#ff8a00"/><rect x="1366.6" y="358.3" width="21.0" height="7.0" fill="#ff8700"/><rect x="1387.2" y="358.3" width="10.7" height="7.0" fill="#ff8300"/><rect x="1088.5" y="364.9" width="10.7" height="7.0" fill="#ffe600"/><rect x="1098.8" y="364.9" width="21.0" height="7.0" fill="#ffd200"/><rect x="1119.4" y="364.9" width="21.0" height="7.0" fill="#ffc400"/><rect x="1140.0" y="364.9" width="21.0" height="7.0" fill="#ffb700"/><rect x="1160.6" y="364.9" width="21.0" height="7.0" fill="#ffb100"/><rect x="1181.2" y="364.9" width="21.0" height="7.0" fill="#ffab00"/><rect x="1201.8" y="364.9" width="21.0" height="7.0" fill="#ffa500"/><rect x="1222.4" y="364.9" width="21.0" height="7.0" fill="#ff9f00"/><rect x="1243.0" y="364.9" width="21.0" height="7.0" fill="#ff9900"/><rect x="1263.6" y="364.9" width="21.0" height="7.0" fill="#ff9300"/><rect x="1284.2" y="364.9" width="21.0" height="7.0" fill="#ff8d00"/><rect x="1304.8" y="364.9" width="21.0" height="7.0" fill="#ff8800"/><rect x="1325.4" y="364.9" width="21.0" height="7.0" fill="#ff8400"/><rect x="1346.0" y="364.9" width="21.0" height="7.0" fill="#ff8000"/><rect x="1366.6" y="364.9" width="21.0" height="7.0" fill="#ff7d00"/><rect x="1387.2" y="364.9" width="10.7" height="7.0" fill="#ff7900"/><rect x="1088.5" y="371.5" width="10.7" height="7.0" fill="#ffc700"/><rect x="1098.8" y="371.5" width="21.0" height="7.0" fill="#ffb900"/><rect x="1119.4" y="371.5" width="21.0" height="7.0" fill="#ffaf00"/><rect x="1140.0" y="371.5" width="21.0" height="7.0" fill="#ffa500"/><rect x="1160.6" y="371.5" width="21.0" height="7.0" fill="#ffa000"/><rect x="1181.2" y="371.5" width="21.0" height="7.0" fill="#ff9a00"/><rect x="1201.8" y="371.5" width="21.0" height="7.0" fill="#ff9500"/><rect x="1222.4" y="371.5" width="21.0" height="7.0" fill="#ff8f00"/><rect x="1243.0" y="371.5" width="21.0" height="7.0" fill="#ff8a00"/><rect x="1263.6" y="371.5" width="21.0" height="7.0" fill="#ff8400"/><rect x="1284.2" y="371.5" width="21.0" height="7.0" fill="#ff7f00"/><rect x="1304.8" y="371.5" width="21.0" height="7.0" fill="#ff7b00"/><rect x="1325.4" y="371.5" width="21.0" height="7.0" fill="#ff7700"/><rect x="1346.0" y="371.5" width="21.0" height="7.0" fill="#ff7400"/><rect x="1366.6" y="371.5" width="21.0" height="7.0" fill="#ff7100"/><rect x="1387.2" y="371.5" width="10.7" height="7.0" fill="#ff6e00"/><rect x="1088.5" y="378.1" width="10.7" height="7.0" fill="#ffaa00"/><rect x="1098.8" y="378.1" width="21.0" height="7.0" fill="#ffa000"/><rect x="1119.4" y="378.1" width="21.0" height="7.0" fill="#ff9900"/><rect x="1140.0" y="378.1" width="21.0" height="7.0" fill="#ff9300"/><rect x="1160.6" y="378.1" width="21.0" height="7.0" fill="#ff8e00"/><rect x="1181.2" y="378.1" width="21.0" height="7.0" fill="#ff8a00"/><rect x="1201.8" y="378.1" width="21.0" height="7.0" fill="#ff8500"/><rect x="1222.4" y="378.1" width="21.0" height="7.0" fill="#ff8000"/><rect x="1243.0" y="378.1" width="21.0" height="7.0" fill="#ff7b00"/><rect x="1263.6" y="378.1" width="21.0" height="7.0" fill="#ff7600"/><rect x="1284.2" y="378.1" width="21.0" height="7.0" fill="#ff7000"/><rect x="1304.8" y="378.1" width="21.0" height="7.0" fill="#ff6d00"/><rect x="1325.4" y="378.1" width="21.0" height="7.0" fill="#ff6a00"/><rect x="1346.0" y="378.1" width="21.0" height="7.0" fill="#ff6800"/><rect x="1366.6" y="378.1" width="21.0" height="7.0" fill="#ff6600"/><rect x="1387.2" y="378.1" width="10.7" height="7.0" fill="#ff6300"/><rect x="1088.5" y="384.7" width="10.7" height="7.0" fill="#ff9100"/><rect x="1098.8" y="384.7" width="21.0" height="7.0" fill="#ff8900"/><rect x="1119.4" y="384.7" width="21.0" height="7.0" fill="#ff8400"/><rect x="1140.0" y="384.7" width="21.0" height="7.0" fill="#ff8000"/><rect x="1160.6" y="384.7" width="21.0" height="7.0" fill="#ff7c00"/><rect x="1181.2" y="384.7" width="21.0" height="7.0" fill="#ff7700"/><rect x="1201.8" y="384.7" width="21.0" height="7.0" fill="#ff7300"/><rect x="1222.4" y="384.7" width="21.0" height="7.0" fill="#ff6f00"/><rect x="1243.0" y="384.7" width="21.0" height="7.0" fill="#ff6a00"/><rect x="1263.6" y="384.7" width="21.0" height="7.0" fill="#ff6600"/><rect x="1284.2" y="384.7" width="21.0" height="7.0" fill="#ff6100"/><rect x="1304.8" y="384.7" width="21.0" height="7.0" fill="#ff5e00"/><rect x="1325.4" y="384.7" width="21.0" height="7.0" fill="#ff5c00"/><rect x="1346.0" y="384.7" width="21.0" height="7.0" fill="#ff5900"/><rect x="1366.6" y="384.7" width="21.0" height="7.0" fill="#ff5700"/><rect x="1387.2" y="384.7" width="10.7" height="7.0" fill="#ff5500"/><rect x="1088.5" y="391.3" width="10.7" height="7.0" fill="#ff7900"/><rect x="1098.8" y="391.3" width="21.0" height="7.0" fill="#ff7300"/><rect x="1119.4" y="391.3" width="21.0" height="7.0" fill="#ff6f00"/><rect x="1140.0" y="391.3" width="21.0" height="7.0" fill="#ff6a00"/><rect x="1160.6" y="391.3" width="21.0" height="7.0" fill="#ff6700"/><rect x="1181.2" y="391.3" width="21.0" height="7.0" fill="#ff6300"/><rect x="1201.8" y="391.3" width="21.0" height="7.0" fill="#ff6000"/><rect x="1222.4" y="391.3" width="21.0" height="7.0" fill="#ff5c00"/><rect x="1243.0" y="391.3" width="21.0" height="7.0" fill="#ff5800"/><rect x="1263.6" y="391.3" width="21.0" height="7.0" fill="#ff5400"/><rect x="1284.2" y="391.3" width="21.0" height="7.0" fill="#ff5000"/><rect x="1304.8" y="391.3" width="21.0" height="7.0" fill="#ff4d00"/><rect x="1325.4" y="391.3" width="21.0" height="7.0" fill="#ff4a00"/><rect x="1346.0" y="391.3" width="21.0" height="7.0" fill="#ff4700"/><rect x="1366.6" y="391.3" width="21.0" height="7.0" fill="#ff4400"/><rect x="1387.2" y="391.3" width="10.7" height="7.0" fill="#ff4100"/><rect x="1088.5" y="397.9" width="10.7" height="7.0" fill="#ff6200"/><rect x="1098.8" y="397.9" width="21.0" height="7.0" fill="#ff5e00"/><rect x="1119.4" y="397.9" width="21.0" height="7.0" fill="#ff5900"/><rect x="1140.0" y="397.9" width="21.0" height="7.0" fill="#ff5500"/><rect x="1160.6" y="397.9" width="21.0" height="7.0" fill="#ff5200"/><rect x="1181.2" y="397.9" width="21.0" height="7.0" fill="#ff4e00"/><rect x="1201.8" y="397.9" width="21.0" height="7.0" fill="#ff4b00"/><rect x="1222.4" y="397.9" width="21.0" height="7.0" fill="#ff4800"/><rect x="1243.0" y="397.9" width="21.0" height="7.0" fill="#ff4400"/><rect x="1263.6" y="397.9" width="21.0" height="7.0" fill="#ff4100"/><rect x="1284.2" y="397.9" width="21.0" height="7.0" fill="#ff3e00"/><rect x="1304.8" y="397.9" width="21.0" height="7.0" fill="#ff3a00"/><rect x="1325.4" y="397.9" width="21.0" height="7.0" fill="#ff3700"/><rect x="1346.0" y="397.9" width="21.0" height="7.0" fill="#ff3400"/><rect x="1366.6" y="397.9" width="21.0" height="7.0" fill="#ff3000"/><rect x="1387.2" y="397.9" width="10.7" height="7.0" fill="#ff2d00"/><rect x="1088.5" y="404.5" width="10.7" height="7.0" fill="#ff4800"/><rect x="1098.8" y="404.5" width="21.0" height="7.0" fill="#ff4500"/><rect x="1119.4" y="404.5" width="21.0" height="7.0" fill="#ff4100"/><rect x="1140.0" y="404.5" width="21.0" height="7.0" fill="#ff3d00"/><rect x="1160.6" y="404.5" width="21.0" height="7.0" fill="#ff3a00"/><rect x="1181.2" y="404.5" width="21.0" height="7.0" fill="#ff3800"/><rect x="1201.8" y="404.5" width="21.0" height="7.0" fill="#ff3500"/><rect x="1222.4" y="404.5" width="21.0" height="7.0" fill="#ff3300"/><rect x="1243.0" y="404.5" width="21.0" height="7.0" fill="#ff3000"/><rect x="1263.6" y="404.5" width="21.0" height="7.0" fill="#ff2e00"/><rect x="1284.2" y="404.5" width="21.0" height="7.0" fill="#ff2b00"/><rect x="1304.8" y="404.5" width="21.0" height="7.0" fill="#ff2900"/><rect x="1325.4" y="404.5" width="21.0" height="7.0" fill="#ff2600"/><rect x="1346.0" y="404.5" width="21.0" height="7.0" fill="#ff2300"/><rect x="1366.6" y="404.5" width="21.0" height="7.0" fill="#fe2000"/><rect x="1387.2" y="404.5" width="10.7" height="7.0" fill="#fd1d00"/><rect x="1088.5" y="411.1" width="10.7" height="7.0" fill="#ff2c00"/><rect x="1098.8" y="411.1" width="21.0" height="7.0" fill="#ff2b00"/><rect x="1119.4" y="411.1" width="21.0" height="7.0" fill="#ff2800"/><rect x="1140.0" y="411.1" width="21.0" height="7.0" fill="#ff2500"/><rect x="1160.6" y="411.1" width="21.0" height="7.0" fill="#ff2300"/><rect x="1181.2" y="411.1" width="21.0" height="7.0" fill="#fe2100"/><rect x="1201.8" y="411.1" width="21.0" height="7.0" fill="#fe1f00"/><rect x="1222.4" y="411.1" width="21.0" height="7.0" fill="#fd1d00"/><rect x="1243.0" y="411.1" width="21.0" height="7.0" fill="#fd1c00"/><rect x="1263.6" y="411.1" width="21.0" height="7.0" fill="#fd1a00"/><rect x="1284.2" y="411.1" width="21.0" height="7.0" fill="#fc1900"/><rect x="1304.8" y="411.1" width="21.0" height="7.0" fill="#fc1700"/><rect x="1325.4" y="411.1" width="21.0" height="7.0" fill="#fb1400"/><rect x="1346.0" y="411.1" width="21.0" height="7.0" fill="#fa1200"/><rect x="1366.6" y="411.1" width="21.0" height="7.0" fill="#f90f00"/><rect x="1387.2" y="411.1" width="10.7" height="7.0" fill="#f90d00"/><rect x="1088.5" y="417.8" width="10.7" height="7.0" fill="#fa1300"/><rect x="1098.8" y="417.8" width="21.0" height="7.0" fill="#fa1300"/><rect x="1119.4" y="417.8" width="21.0" height="7.0" fill="#fa1100"/><rect x="1140.0" y="417.8" width="21.0" height="7.0" fill="#f90e00"/><rect x="1160.6" y="417.8" width="21.0" height="7.0" fill="#f90c00"/><rect x="1181.2" y="417.8" width="21.0" height="7.0" fill="#f80b00"/><rect x="1201.8" y="417.8" width="21.0" height="7.0" fill="#f80900"/><rect x="1222.4" y="417.8" width="21.0" height="7.0" fill="#f70800"/><rect x="1243.0" y="417.8" width="21.0" height="7.0" fill="#f70700"/><rect x="1263.6" y="417.8" width="21.0" height="7.0" fill="#f70600"/><rect x="1284.2" y="417.8" width="21.0" height="7.0" fill="#f70500"/><rect x="1304.8" y="417.8" width="21.0" height="7.0" fill="#f60400"/><rect x="1325.4" y="417.8" width="21.0" height="7.0" fill="#f60200"/><rect x="1346.0" y="417.8" width="21.0" height="7.0" fill="#f50000"/><rect x="1366.6" y="417.8" width="21.0" height="7.0" fill="#f00000"/><rect x="1387.2" y="417.8" width="10.7" height="7.0" fill="#ec0000"/><rect x="1088.5" y="424.4" width="10.7" height="7.0" fill="#ee0000"/><rect x="1098.8" y="424.4" width="21.0" height="7.0" fill="#ee0000"/><rect x="1119.4" y="424.4" width="21.0" height="7.0" fill="#e80000"/><rect x="1140.0" y="424.4" width="21.0" height="7.0" fill="#e20000"/><rect x="1160.6" y="424.4" width="21.0" height="7.0" fill="#de0000"/><rect x="1181.2" y="424.4" width="21.0" height="7.0" fill="#db0000"/><rect x="1201.8" y="424.4" width="21.0" height="7.0" fill="#d70000"/><rect x="1222.4" y="424.4" width="21.0" height="7.0" fill="#d60000"/><rect x="1243.0" y="424.4" width="21.0" height="7.0" fill="#d50000"/><rect x="1263.6" y="424.4" width="21.0" height="7.0" fill="#d40000"/><rect x="1284.2" y="424.4" width="21.0" height="7.0" fill="#d30000"/><rect x="1304.8" y="424.4" width="21.0" height="7.0" fill="#d00000"/><rect x="1325.4" y="424.4" width="21.0" height="7.0" fill="#cd0000"/><rect x="1346.0" y="424.4" width="21.0" height="7.0" fill="#c90000"/><rect x="1366.6" y="424.4" width="21.0" height="7.0" fill="#c50000"/><rect x="1387.2" y="424.4" width="10.7" height="7.0" fill="#c20000"/><rect x="1088.5" y="431.0" width="10.7" height="7.0" fill="#bb0000"/><rect x="1098.8" y="431.0" width="21.0" height="7.0" fill="#bb0000"/><rect x="1119.4" y="431.0" width="21.0" height="7.0" fill="#b50000"/><rect x="1140.0" y="431.0" width="21.0" height="7.0" fill="#af0000"/><rect x="1160.6" y="431.0" width="21.0" height="7.0" fill="#ac0000"/><rect x="1181.2" y="431.0" width="21.0" height="7.0" fill="#a80000"/><rect x="1201.8" y="431.0" width="21.0" height="7.0" fill="#a50000"/><rect x="1222.4" y="431.0" width="21.0" height="7.0" fill="#a50000"/><rect x="1243.0" y="431.0" width="21.0" height="7.0" fill="#a50000"/><rect x="1263.6" y="431.0" width="21.0" height="7.0" fill="#a50000"/><rect x="1284.2" y="431.0" width="21.0" height="7.0" fill="#a50000"/><rect x="1304.8" y="431.0" width="21.0" height="7.0" fill="#a40000"/><rect x="1325.4" y="431.0" width="21.0" height="7.0" fill="#a20000"/><rect x="1346.0" y="431.0" width="21.0" height="7.0" fill="#9f0000"/><rect x="1366.6" y="431.0" width="21.0" height="7.0" fill="#9d0000"/><rect x="1387.2" y="431.0" width="10.7" height="7.0" fill="#9b0000"/><rect x="1088.5" y="437.6" width="10.7" height="7.0" fill="#990000"/><rect x="1098.8" y="437.6" width="21.0" height="7.0" fill="#990000"/><rect x="1119.4" y="437.6" width="21.0" height="7.0" fill="#940000"/><rect x="1140.0" y="437.6" width="21.0" height="7.0" fill="#8f0000"/><rect x="1160.6" y="437.6" width="21.0" height="7.0" fill="#8d0000"/><rect x="1181.2" y="437.6" width="21.0" height="7.0" fill="#8b0000"/><rect x="1201.8" y="437.6" width="21.0" height="7.0" fill="#890000"/><rect x="1222.4" y="437.6" width="21.0" height="7.0" fill="#890000"/><rect x="1243.0" y="437.6" width="21.0" height="7.0" fill="#890000"/><rect x="1263.6" y="437.6" width="21.0" height="7.0" fill="#890000"/><rect x="1284.2" y="437.6" width="21.0" height="7.0" fill="#890000"/><rect x="1304.8" y="437.6" width="21.0" height="7.0" fill="#880000"/><rect x="1325.4" y="437.6" width="21.0" height="7.0" fill="#860000"/><rect x="1346.0" y="437.6" width="21.0" height="7.0" fill="#830000"/><rect x="1366.6" y="437.6" width="21.0" height="7.0" fill="#810000"/><rect x="1387.2" y="437.6" width="10.7" height="7.0" fill="#7f0000"/><rect x="1088.5" y="444.2" width="10.7" height="7.0" fill="#790000"/><rect x="1098.8" y="444.2" width="21.0" height="7.0" fill="#790000"/><rect x="1119.4" y="444.2" width="21.0" height="7.0" fill="#740000"/><rect x="1140.0" y="444.2" width="21.0" height="7.0" fill="#6f0000"/><rect x="1160.6" y="444.2" width="21.0" height="7.0" fill="#6e0000"/><rect x="1181.2" y="444.2" width="21.0" height="7.0" fill="#6e0000"/><rect x="1201.8" y="444.2" width="21.0" height="7.0" fill="#6d0000"/><rect x="1222.4" y="444.2" width="21.0" height="7.0" fill="#6d0000"/><rect x="1243.0" y="444.2" width="21.0" height="7.0" fill="#6d0000"/><rect x="1263.6" y="444.2" width="21.0" height="7.0" fill="#6d0000"/><rect x="1284.2" y="444.2" width="21.0" height="7.0" fill="#6d0000"/><rect x="1304.8" y="444.2" width="21.0" height="7.0" fill="#6c0000"/><rect x="1325.4" y="444.2" width="21.0" height="7.0" fill="#6a0000"/><rect x="1346.0" y="444.2" width="21.0" height="7.0" fill="#670000"/><rect x="1366.6" y="444.2" width="21.0" height="7.0" fill="#650000"/><rect x="1387.2" y="444.2" width="10.7" height="7.0" fill="#630000"/><rect x="1088.5" y="450.8" width="10.7" height="7.0" fill="#5f0000"/><rect x="1098.8" y="450.8" width="21.0" height="7.0" fill="#5f0000"/><rect x="1119.4" y="450.8" width="21.0" height="7.0" fill="#5b0000"/><rect x="1140.0" y="450.8" width="21.0" height="7.0" fill="#570000"/><rect x="1160.6" y="450.8" width="21.0" height="7.0" fill="#570000"/><rect x="1181.2" y="450.8" width="21.0" height="7.0" fill="#570000"/><rect x="1201.8" y="450.8" width="21.0" height="7.0" fill="#570000"/><rect x="1222.4" y="450.8" width="21.0" height="7.0" fill="#570000"/><rect x="1243.0" y="450.8" width="21.0" height="7.0" fill="#570000"/><rect x="1263.6" y="450.8" width="21.0" height="7.0" fill="#570000"/><rect x="1284.2" y="450.8" width="21.0" height="7.0" fill="#570000"/><rect x="1304.8" y="450.8" width="21.0" height="7.0" fill="#560000"/><rect x="1325.4" y="450.8" width="21.0" height="7.0" fill="#550000"/><rect x="1346.0" y="450.8" width="21.0" height="7.0" fill="#530000"/><rect x="1366.6" y="450.8" width="21.0" height="7.0" fill="#520000"/><rect x="1387.2" y="450.8" width="10.7" height="7.0" fill="#510000"/><rect x="1088.5" y="457.4" width="10.7" height="7.0" fill="#4e0000"/><rect x="1098.8" y="457.4" width="21.0" height="7.0" fill="#4e0000"/><rect x="1119.4" y="457.4" width="21.0" height="7.0" fill="#4c0000"/><rect x="1140.0" y="457.4" width="21.0" height="7.0" fill="#4b0000"/><rect x="1160.6" y="457.4" width="21.0" height="7.0" fill="#4b0000"/><rect x="1181.2" y="457.4" width="21.0" height="7.0" fill="#4b0000"/><rect x="1201.8" y="457.4" width="21.0" height="7.0" fill="#4b0000"/><rect x="1222.4" y="457.4" width="21.0" height="7.0" fill="#4b0000"/><rect x="1243.0" y="457.4" width="21.0" height="7.0" fill="#4b0000"/><rect x="1263.6" y="457.4" width="21.0" height="7.0" fill="#4b0000"/><rect x="1284.2" y="457.4" width="21.0" height="7.0" fill="#4b0000"/><rect x="1304.8" y="457.4" width="21.0" height="7.0" fill="#4b0000"/><rect x="1325.4" y="457.4" width="21.0" height="7.0" fill="#4a0000"/><rect x="1346.0" y="457.4" width="21.0" height="7.0" fill="#490000"/><rect x="1366.6" y="457.4" width="21.0" height="7.0" fill="#490000"/><rect x="1387.2" y="457.4" width="10.7" height="7.0" fill="#480000"/><rect x="1088.5" y="464.0" width="10.7" height="3.7" fill="#400000"/><rect x="1098.8" y="464.0" width="21.0" height="3.7" fill="#400000"/><rect x="1119.4" y="464.0" width="21.0" height="3.7" fill="#400000"/><rect x="1140.0" y="464.0" width="21.0" height="3.7" fill="#400000"/><rect x="1160.6" y="464.0" width="21.0" height="3.7" fill="#400000"/><rect x="1181.2" y="464.0" width="21.0" height="3.7" fill="#400000"/><rect x="1201.8" y="464.0" width="21.0" height="3.7" fill="#400000"/><rect x="1222.4" y="464.0" width="21.0" height="3.7" fill="#400000"/><rect x="1243.0" y="464.0" width="21.0" height="3.7" fill="#400000"/><rect x="1263.6" y="464.0" width="21.0" height="3.7" fill="#400000"/><rect x="1284.2" y="464.0" width="21.0" height="3.7" fill="#400000"/><rect x="1304.8" y="464.0" width="21.0" height="3.7" fill="#400000"/><rect x="1325.4" y="464.0" width="21.0" height="3.7" fill="#400000"/><rect x="1346.0" y="464.0" width="21.0" height="3.7" fill="#400000"/><rect x="1366.6" y="464.0" width="21.0" height="3.7" fill="#400000"/><rect x="1387.2" y="464.0" width="10.7" height="3.7" fill="#400000"/></g>
<g shape-rendering="crispEdges"><rect x="1403.5" y="141.00" width="22.5" height="4.68" fill="#fffff1"/><rect x="1403.5" y="145.08" width="22.5" height="4.68" fill="#ffffea"/><rect x="1403.5" y="149.16" width="22.5" height="4.68" fill="#ffffe3"/><rect x="1403.5" y="153.24" width="22.5" height="4.68" fill="#ffffdc"/><rect x="1403.5" y="157.32" width="22.5" height="4.68" fill="#ffffd5"/><rect x="1403.5" y="161.41" width="22.5" height="4.68" fill="#ffffce"/><rect x="1403.5" y="165.49" width="22.5" height="4.68" fill="#ffffc7"/><rect x="1403.5" y="169.57" width="22.5" height="4.68" fill="#ffffba"/><rect x="1403.5" y="173.65" width="22.5" height="4.68" fill="#ffffae"/><rect x="1403.5" y="177.73" width="22.5" height="4.68" fill="#ffffa1"/><rect x="1403.5" y="181.81" width="22.5" height="4.68" fill="#ffff95"/><rect x="1403.5" y="185.89" width="22.5" height="4.68" fill="#ffff88"/><rect x="1403.5" y="189.97" width="22.5" height="4.68" fill="#ffff7c"/><rect x="1403.5" y="194.06" width="22.5" height="4.68" fill="#ffff6c"/><rect x="1403.5" y="198.14" width="22.5" height="4.68" fill="#ffff5c"/><rect x="1403.5" y="202.22" width="22.5" height="4.68" fill="#ffff4b"/><rect x="1403.5" y="206.30" width="22.5" height="4.68" fill="#ffff3a"/><rect x="1403.5" y="210.38" width="22.5" height="4.68" fill="#ffff2a"/><rect x="1403.5" y="214.46" width="22.5" height="4.68" fill="#ffff19"/><rect x="1403.5" y="218.54" width="22.5" height="4.68" fill="#ffff08"/><rect x="1403.5" y="222.62" width="22.5" height="4.68" fill="#fffc00"/><rect x="1403.5" y="226.71" width="22.5" height="4.68" fill="#fff600"/><rect x="1403.5" y="230.79" width="22.5" height="4.68" fill="#ffef00"/><rect x="1403.5" y="234.87" width="22.5" height="4.68" fill="#ffe900"/><rect x="1403.5" y="238.95" width="22.5" height="4.68" fill="#ffe300"/><rect x="1403.5" y="243.03" width="22.5" height="4.68" fill="#ffdd00"/><rect x="1403.5" y="247.11" width="22.5" height="4.68" fill="#ffd600"/><rect x="1403.5" y="251.19" width="22.5" height="4.68" fill="#ffd000"/><rect x="1403.5" y="255.27" width="22.5" height="4.68" fill="#ffca00"/><rect x="1403.5" y="259.36" width="22.5" height="4.68" fill="#ffc500"/><rect x="1403.5" y="263.44" width="22.5" height="4.68" fill="#ffbf00"/><rect x="1403.5" y="267.52" width="22.5" height="4.68" fill="#ffba00"/><rect x="1403.5" y="271.60" width="22.5" height="4.68" fill="#ffb400"/><rect x="1403.5" y="275.68" width="22.5" height="4.68" fill="#ffae00"/><rect x="1403.5" y="279.76" width="22.5" height="4.68" fill="#ffa900"/><rect x="1403.5" y="283.84" width="22.5" height="4.68" fill="#ffa300"/><rect x="1403.5" y="287.92" width="22.5" height="4.68" fill="#ff9e00"/><rect x="1403.5" y="292.01" width="22.5" height="4.68" fill="#ff9800"/><rect x="1403.5" y="296.09" width="22.5" height="4.68" fill="#ff9300"/><rect x="1403.5" y="300.17" width="22.5" height="4.68" fill="#ff8d00"/><rect x="1403.5" y="304.25" width="22.5" height="4.68" fill="#ff8800"/><rect x="1403.5" y="308.33" width="22.5" height="4.68" fill="#ff8200"/><rect x="1403.5" y="312.41" width="22.5" height="4.68" fill="#ff7c00"/><rect x="1403.5" y="316.49" width="22.5" height="4.68" fill="#ff7700"/><rect x="1403.5" y="320.57" width="22.5" height="4.68" fill="#ff7100"/><rect x="1403.5" y="324.66" width="22.5" height="4.68" fill="#ff6c00"/><rect x="1403.5" y="328.74" width="22.5" height="4.68" fill="#ff6600"/><rect x="1403.5" y="332.82" width="22.5" height="4.68" fill="#ff6100"/><rect x="1403.5" y="336.90" width="22.5" height="4.68" fill="#ff5b00"/><rect x="1403.5" y="340.98" width="22.5" height="4.68" fill="#ff5600"/><rect x="1403.5" y="345.06" width="22.5" height="4.68" fill="#ff4f00"/><rect x="1403.5" y="349.14" width="22.5" height="4.68" fill="#ff4900"/><rect x="1403.5" y="353.23" width="22.5" height="4.68" fill="#ff4300"/><rect x="1403.5" y="357.31" width="22.5" height="4.68" fill="#ff3d00"/><rect x="1403.5" y="361.39" width="22.5" height="4.68" fill="#ff3600"/><rect x="1403.5" y="365.47" width="22.5" height="4.68" fill="#ff3000"/><rect x="1403.5" y="369.55" width="22.5" height="4.68" fill="#ff2a00"/><rect x="1403.5" y="373.63" width="22.5" height="4.68" fill="#ff2400"/><rect x="1403.5" y="377.71" width="22.5" height="4.68" fill="#fd1d00"/><rect x="1403.5" y="381.79" width="22.5" height="4.68" fill="#fc1700"/><rect x="1403.5" y="385.88" width="22.5" height="4.68" fill="#fa1100"/><rect x="1403.5" y="389.96" width="22.5" height="4.68" fill="#f80b00"/><rect x="1403.5" y="394.04" width="22.5" height="4.68" fill="#f60400"/><rect x="1403.5" y="398.12" width="22.5" height="4.68" fill="#f10000"/><rect x="1403.5" y="402.20" width="22.5" height="4.68" fill="#e20000"/><rect x="1403.5" y="406.28" width="22.5" height="4.68" fill="#d30000"/><rect x="1403.5" y="410.36" width="22.5" height="4.68" fill="#c50000"/><rect x="1403.5" y="414.44" width="22.5" height="4.68" fill="#b60000"/><rect x="1403.5" y="418.52" width="22.5" height="4.68" fill="#a90000"/><rect x="1403.5" y="422.61" width="22.5" height="4.68" fill="#9c0000"/><rect x="1403.5" y="426.69" width="22.5" height="4.68" fill="#900000"/><rect x="1403.5" y="430.77" width="22.5" height="4.68" fill="#830000"/><rect x="1403.5" y="434.85" width="22.5" height="4.68" fill="#770000"/><rect x="1403.5" y="438.93" width="22.5" height="4.68" fill="#6a0000"/><rect x="1403.5" y="443.01" width="22.5" height="4.68" fill="#5e0000"/><rect x="1403.5" y="447.09" width="22.5" height="4.68" fill="#520000"/><rect x="1403.5" y="451.18" width="22.5" height="4.68" fill="#490000"/><rect x="1403.5" y="455.26" width="22.5" height="4.68" fill="#400000"/><rect x="1403.5" y="459.34" width="22.5" height="4.68" fill="#370000"/><rect x="1403.5" y="463.42" width="22.5" height="4.08" fill="#2e0000"/></g>
<text x="1433.5" y="159.2" font-size="31.5" transform="matrix(1 0 0 1.040 0 -6.37)">29.0</text>
<text x="1433.5" y="220.5" font-size="31.5" transform="matrix(1 0 0 1.040 0 -8.82)">24.2</text>
<text x="1433.5" y="281.8" font-size="31.5" transform="matrix(1 0 0 1.040 0 -11.27)">19.3</text>
<text x="1433.5" y="343.1" font-size="31.5" transform="matrix(1 0 0 1.040 0 -13.72)">14.5</text>
<text x="1433.5" y="404.4" font-size="31.5" transform="matrix(1 0 0 1.040 0 -16.18)">9.60</text>
<text x="1433.5" y="465.7" font-size="31.5" transform="matrix(1 0 0 1.040 0 -18.63)">4.80</text>
<g shape-rendering="crispEdges"><rect x="1586.2" y="136.7" width="10.8" height="3.7" fill="#ff2d00"/><rect x="1596.6" y="136.7" width="21.1" height="3.7" fill="#f90f00"/><rect x="1617.3" y="136.7" width="21.1" height="3.7" fill="#e90000"/><rect x="1638.0" y="136.7" width="21.1" height="3.7" fill="#c60000"/><rect x="1658.7" y="136.7" width="21.1" height="3.7" fill="#ac0000"/><rect x="1679.5" y="136.7" width="21.1" height="3.7" fill="#940000"/><rect x="1700.2" y="136.7" width="21.1" height="3.7" fill="#7d0000"/><rect x="1720.9" y="136.7" width="21.1" height="3.7" fill="#700000"/><rect x="1741.7" y="136.7" width="21.1" height="3.7" fill="#620000"/><rect x="1762.4" y="136.7" width="21.1" height="3.7" fill="#550000"/><rect x="1783.1" y="136.7" width="21.1" height="3.7" fill="#500000"/><rect x="1803.8" y="136.7" width="21.1" height="3.7" fill="#4b0000"/><rect x="1824.6" y="136.7" width="21.1" height="3.7" fill="#470000"/><rect x="1845.3" y="136.7" width="21.1" height="3.7" fill="#440000"/><rect x="1866.0" y="136.7" width="21.1" height="3.7" fill="#420000"/><rect x="1886.7" y="136.7" width="10.8" height="3.7" fill="#400000"/><rect x="1586.2" y="140.0" width="10.8" height="7.0" fill="#ff3400"/><rect x="1596.6" y="140.0" width="21.1" height="7.0" fill="#fb1600"/><rect x="1617.3" y="140.0" width="21.1" height="7.0" fill="#f50200"/><rect x="1638.0" y="140.0" width="21.1" height="7.0" fill="#d40000"/><rect x="1658.7" y="140.0" width="21.1" height="7.0" fill="#b80000"/><rect x="1679.5" y="140.0" width="21.1" height="7.0" fill="#a00000"/><rect x="1700.2" y="140.0" width="21.1" height="7.0" fill="#880000"/><rect x="1720.9" y="140.0" width="21.1" height="7.0" fill="#7b0000"/><rect x="1741.7" y="140.0" width="21.1" height="7.0" fill="#6e0000"/><rect x="1762.4" y="140.0" width="21.1" height="7.0" fill="#600000"/><rect x="1783.1" y="140.0" width="21.1" height="7.0" fill="#590000"/><rect x="1803.8" y="140.0" width="21.1" height="7.0" fill="#530000"/><rect x="1824.6" y="140.0" width="21.1" height="7.0" fill="#4d0000"/><rect x="1845.3" y="140.0" width="21.1" height="7.0" fill="#4b0000"/><rect x="1866.0" y="140.0" width="21.1" height="7.0" fill="#480000"/><rect x="1886.7" y="140.0" width="10.8" height="7.0" fill="#460000"/><rect x="1586.2" y="146.6" width="10.8" height="7.0" fill="#ff3b00"/><rect x="1596.6" y="146.6" width="21.1" height="7.0" fill="#fd1d00"/><rect x="1617.3" y="146.6" width="21.1" height="7.0" fill="#f70900"/><rect x="1638.0" y="146.6" width="21.1" height="7.0" fill="#e10000"/><rect x="1658.7" y="146.6" width="21.1" height="7.0" fill="#c60000"/><rect x="1679.5" y="146.6" width="21.1" height="7.0" fill="#ab0000"/><rect x="1700.2" y="146.6" width="21.1" height="7.0" fill="#940000"/><rect x="1720.9" y="146.6" width="21.1" height="7.0" fill="#860000"/><rect x="1741.7" y="146.6" width="21.1" height="7.0" fill="#790000"/><rect x="1762.4" y="146.6" width="21.1" height="7.0" fill="#6c0000"/><rect x="1783.1" y="146.6" width="21.1" height="7.0" fill="#640000"/><rect x="1803.8" y="146.6" width="21.1" height="7.0" fill="#5b0000"/><rect x="1824.6" y="146.6" width="21.1" height="7.0" fill="#540000"/><rect x="1845.3" y="146.6" width="21.1" height="7.0" fill="#510000"/><rect x="1866.0" y="146.6" width="21.1" height="7.0" fill="#4f0000"/><rect x="1886.7" y="146.6" width="10.8" height="7.0" fill="#4d0000"/><rect x="1586.2" y="153.2" width="10.8" height="7.0" fill="#ff4100"/><rect x="1596.6" y="153.2" width="21.1" height="7.0" fill="#ff2400"/><rect x="1617.3" y="153.2" width="21.1" height="7.0" fill="#f90f00"/><rect x="1638.0" y="153.2" width="21.1" height="7.0" fill="#ee0000"/><rect x="1658.7" y="153.2" width="21.1" height="7.0" fill="#d30000"/><rect x="1679.5" y="153.2" width="21.1" height="7.0" fill="#b80000"/><rect x="1700.2" y="153.2" width="21.1" height="7.0" fill="#9f0000"/><rect x="1720.9" y="153.2" width="21.1" height="7.0" fill="#920000"/><rect x="1741.7" y="153.2" width="21.1" height="7.0" fill="#840000"/><rect x="1762.4" y="153.2" width="21.1" height="7.0" fill="#770000"/><rect x="1783.1" y="153.2" width="21.1" height="7.0" fill="#6e0000"/><rect x="1803.8" y="153.2" width="21.1" height="7.0" fill="#650000"/><rect x="1824.6" y="153.2" width="21.1" height="7.0" fill="#5c0000"/><rect x="1845.3" y="153.2" width="21.1" height="7.0" fill="#590000"/><rect x="1866.0" y="153.2" width="21.1" height="7.0" fill="#560000"/><rect x="1886.7" y="153.2" width="10.8" height="7.0" fill="#530000"/><rect x="1586.2" y="159.8" width="10.8" height="7.0" fill="#ff4800"/><rect x="1596.6" y="159.8" width="21.1" height="7.0" fill="#ff2a00"/><rect x="1617.3" y="159.8" width="21.1" height="7.0" fill="#fb1600"/><rect x="1638.0" y="159.8" width="21.1" height="7.0" fill="#f60300"/><rect x="1658.7" y="159.8" width="21.1" height="7.0" fill="#e00000"/><rect x="1679.5" y="159.8" width="21.1" height="7.0" fill="#c50000"/><rect x="1700.2" y="159.8" width="21.1" height="7.0" fill="#aa0000"/><rect x="1720.9" y="159.8" width="21.1" height="7.0" fill="#9d0000"/><rect x="1741.7" y="159.8" width="21.1" height="7.0" fill="#900000"/><rect x="1762.4" y="159.8" width="21.1" height="7.0" fill="#820000"/><rect x="1783.1" y="159.8" width="21.1" height="7.0" fill="#790000"/><rect x="1803.8" y="159.8" width="21.1" height="7.0" fill="#6f0000"/><rect x="1824.6" y="159.8" width="21.1" height="7.0" fill="#650000"/><rect x="1845.3" y="159.8" width="21.1" height="7.0" fill="#620000"/><rect x="1866.0" y="159.8" width="21.1" height="7.0" fill="#5f0000"/><rect x="1886.7" y="159.8" width="10.8" height="7.0" fill="#5b0000"/><rect x="1586.2" y="166.5" width="10.8" height="7.0" fill="#ff5300"/><rect x="1596.6" y="166.5" width="21.1" height="7.0" fill="#ff3400"/><rect x="1617.3" y="166.5" width="21.1" height="7.0" fill="#fd1e00"/><rect x="1638.0" y="166.5" width="21.1" height="7.0" fill="#f80900"/><rect x="1658.7" y="166.5" width="21.1" height="7.0" fill="#f00000"/><rect x="1679.5" y="166.5" width="21.1" height="7.0" fill="#d50000"/><rect x="1700.2" y="166.5" width="21.1" height="7.0" fill="#ba0000"/><rect x="1720.9" y="166.5" width="21.1" height="7.0" fill="#ab0000"/><rect x="1741.7" y="166.5" width="21.1" height="7.0" fill="#9d0000"/><rect x="1762.4" y="166.5" width="21.1" height="7.0" fill="#8f0000"/><rect x="1783.1" y="166.5" width="21.1" height="7.0" fill="#850000"/><rect x="1803.8" y="166.5" width="21.1" height="7.0" fill="#7a0000"/><rect x="1824.6" y="166.5" width="21.1" height="7.0" fill="#700000"/><rect x="1845.3" y="166.5" width="21.1" height="7.0" fill="#6d0000"/><rect x="1866.0" y="166.5" width="21.1" height="7.0" fill="#6a0000"/><rect x="1886.7" y="166.5" width="10.8" height="7.0" fill="#670000"/><rect x="1586.2" y="173.1" width="10.8" height="7.0" fill="#ff6000"/><rect x="1596.6" y="173.1" width="21.1" height="7.0" fill="#ff3f00"/><rect x="1617.3" y="173.1" width="21.1" height="7.0" fill="#ff2600"/><rect x="1638.0" y="173.1" width="21.1" height="7.0" fill="#fa1000"/><rect x="1658.7" y="173.1" width="21.1" height="7.0" fill="#f60500"/><rect x="1679.5" y="173.1" width="21.1" height="7.0" fill="#e70000"/><rect x="1700.2" y="173.1" width="21.1" height="7.0" fill="#cd0000"/><rect x="1720.9" y="173.1" width="21.1" height="7.0" fill="#bc0000"/><rect x="1741.7" y="173.1" width="21.1" height="7.0" fill="#ab0000"/><rect x="1762.4" y="173.1" width="21.1" height="7.0" fill="#9d0000"/><rect x="1783.1" y="173.1" width="21.1" height="7.0" fill="#920000"/><rect x="1803.8" y="173.1" width="21.1" height="7.0" fill="#860000"/><rect x="1824.6" y="173.1" width="21.1" height="7.0" fill="#7b0000"/><rect x="1845.3" y="173.1" width="21.1" height="7.0" fill="#790000"/><rect x="1866.0" y="173.1" width="21.1" height="7.0" fill="#770000"/><rect x="1886.7" y="173.1" width="10.8" height="7.0" fill="#750000"/><rect x="1586.2" y="179.7" width="10.8" height="7.0" fill="#ff6c00"/><rect x="1596.6" y="179.7" width="21.1" height="7.0" fill="#ff4b00"/><rect x="1617.3" y="179.7" width="21.1" height="7.0" fill="#ff2e00"/><rect x="1638.0" y="179.7" width="21.1" height="7.0" fill="#fb1700"/><rect x="1658.7" y="179.7" width="21.1" height="7.0" fill="#f80c00"/><rect x="1679.5" y="179.7" width="21.1" height="7.0" fill="#f50100"/><rect x="1700.2" y="179.7" width="21.1" height="7.0" fill="#df0000"/><rect x="1720.9" y="179.7" width="21.1" height="7.0" fill="#cd0000"/><rect x="1741.7" y="179.7" width="21.1" height="7.0" fill="#bc0000"/><rect x="1762.4" y="179.7" width="21.1" height="7.0" fill="#aa0000"/><rect x="1783.1" y="179.7" width="21.1" height="7.0" fill="#9e0000"/><rect x="1803.8" y="179.7" width="21.1" height="7.0" fill="#930000"/><rect x="1824.6" y="179.7" width="21.1" height="7.0" fill="#870000"/><rect x="1845.3" y="179.7" width="21.1" height="7.0" fill="#850000"/><rect x="1866.0" y="179.7" width="21.1" height="7.0" fill="#840000"/><rect x="1886.7" y="179.7" width="10.8" height="7.0" fill="#820000"/><rect x="1586.2" y="186.3" width="10.8" height="7.0" fill="#ff7800"/><rect x="1596.6" y="186.3" width="21.1" height="7.0" fill="#ff5600"/><rect x="1617.3" y="186.3" width="21.1" height="7.0" fill="#ff3600"/><rect x="1638.0" y="186.3" width="21.1" height="7.0" fill="#fd1e00"/><rect x="1658.7" y="186.3" width="21.1" height="7.0" fill="#fa1300"/><rect x="1679.5" y="186.3" width="21.1" height="7.0" fill="#f80900"/><rect x="1700.2" y="186.3" width="21.1" height="7.0" fill="#f20000"/><rect x="1720.9" y="186.3" width="21.1" height="7.0" fill="#df0000"/><rect x="1741.7" y="186.3" width="21.1" height="7.0" fill="#cc0000"/><rect x="1762.4" y="186.3" width="21.1" height="7.0" fill="#ba0000"/><rect x="1783.1" y="186.3" width="21.1" height="7.0" fill="#ab0000"/><rect x="1803.8" y="186.3" width="21.1" height="7.0" fill="#9f0000"/><rect x="1824.6" y="186.3" width="21.1" height="7.0" fill="#920000"/><rect x="1845.3" y="186.3" width="21.1" height="7.0" fill="#910000"/><rect x="1866.0" y="186.3" width="21.1" height="7.0" fill="#910000"/><rect x="1886.7" y="186.3" width="10.8" height="7.0" fill="#900000"/><rect x="1586.2" y="192.9" width="10.8" height="7.0" fill="#ff8500"/><rect x="1596.6" y="192.9" width="21.1" height="7.0" fill="#ff6200"/><rect x="1617.3" y="192.9" width="21.1" height="7.0" fill="#ff3f00"/><rect x="1638.0" y="192.9" width="21.1" height="7.0" fill="#ff2500"/><rect x="1658.7" y="192.9" width="21.1" height="7.0" fill="#fd1b00"/><rect x="1679.5" y="192.9" width="21.1" height="7.0" fill="#fa1100"/><rect x="1700.2" y="192.9" width="21.1" height="7.0" fill="#f70600"/><rect x="1720.9" y="192.9" width="21.1" height="7.0" fill="#f00000"/><rect x="1741.7" y="192.9" width="21.1" height="7.0" fill="#dd0000"/><rect x="1762.4" y="192.9" width="21.1" height="7.0" fill="#ca0000"/><rect x="1783.1" y="192.9" width="21.1" height="7.0" fill="#ba0000"/><rect x="1803.8" y="192.9" width="21.1" height="7.0" fill="#ac0000"/><rect x="1824.6" y="192.9" width="21.1" height="7.0" fill="#9e0000"/><rect x="1845.3" y="192.9" width="21.1" height="7.0" fill="#9e0000"/><rect x="1866.0" y="192.9" width="21.1" height="7.0" fill="#9e0000"/><rect x="1886.7" y="192.9" width="10.8" height="7.0" fill="#9d0000"/><rect x="1586.2" y="199.5" width="10.8" height="7.0" fill="#ff9a00"/><rect x="1596.6" y="199.5" width="21.1" height="7.0" fill="#ff7400"/><rect x="1617.3" y="199.5" width="21.1" height="7.0" fill="#ff4c00"/><rect x="1638.0" y="199.5" width="21.1" height="7.0" fill="#ff3100"/><rect x="1658.7" y="199.5" width="21.1" height="7.0" fill="#ff2400"/><rect x="1679.5" y="199.5" width="21.1" height="7.0" fill="#fc1800"/><rect x="1700.2" y="199.5" width="21.1" height="7.0" fill="#f80c00"/><rect x="1720.9" y="199.5" width="21.1" height="7.0" fill="#f60400"/><rect x="1741.7" y="199.5" width="21.1" height="7.0" fill="#ee0000"/><rect x="1762.4" y="199.5" width="21.1" height="7.0" fill="#dd0000"/><rect x="1783.1" y="199.5" width="21.1" height="7.0" fill="#cd0000"/><rect x="1803.8" y="199.5" width="21.1" height="7.0" fill="#bd0000"/><rect x="1824.6" y="199.5" width="21.1" height="7.0" fill="#ae0000"/><rect x="1845.3" y="199.5" width="21.1" height="7.0" fill="#ac0000"/><rect x="1866.0" y="199.5" width="21.1" height="7.0" fill="#aa0000"/><rect x="1886.7" y="199.5" width="10.8" height="7.0" fill="#a90000"/><rect x="1586.2" y="206.1" width="10.8" height="7.0" fill="#ffae00"/><rect x="1596.6" y="206.1" width="21.1" height="7.0" fill="#ff8600"/><rect x="1617.3" y="206.1" width="21.1" height="7.0" fill="#ff5900"/><rect x="1638.0" y="206.1" width="21.1" height="7.0" fill="#ff3c00"/><rect x="1658.7" y="206.1" width="21.1" height="7.0" fill="#ff2e00"/><rect x="1679.5" y="206.1" width="21.1" height="7.0" fill="#fe2000"/><rect x="1700.2" y="206.1" width="21.1" height="7.0" fill="#fa1100"/><rect x="1720.9" y="206.1" width="21.1" height="7.0" fill="#f80b00"/><rect x="1741.7" y="206.1" width="21.1" height="7.0" fill="#f60400"/><rect x="1762.4" y="206.1" width="21.1" height="7.0" fill="#ef0000"/><rect x="1783.1" y="206.1" width="21.1" height="7.0" fill="#e00000"/><rect x="1803.8" y="206.1" width="21.1" height="7.0" fill="#d00000"/><rect x="1824.6" y="206.1" width="21.1" height="7.0" fill="#c00000"/><rect x="1845.3" y="206.1" width="21.1" height="7.0" fill="#bd0000"/><rect x="1866.0" y="206.1" width="21.1" height="7.0" fill="#b90000"/><rect x="1886.7" y="206.1" width="10.8" height="7.0" fill="#b50000"/><rect x="1586.2" y="212.7" width="10.8" height="7.0" fill="#ffc200"/><rect x="1596.6" y="212.7" width="21.1" height="7.0" fill="#ff9800"/><rect x="1617.3" y="212.7" width="21.1" height="7.0" fill="#ff6500"/><rect x="1638.0" y="212.7" width="21.1" height="7.0" fill="#ff4700"/><rect x="1658.7" y="212.7" width="21.1" height="7.0" fill="#ff3700"/><rect x="1679.5" y="212.7" width="21.1" height="7.0" fill="#ff2700"/><rect x="1700.2" y="212.7" width="21.1" height="7.0" fill="#fc1700"/><rect x="1720.9" y="212.7" width="21.1" height="7.0" fill="#fa1100"/><rect x="1741.7" y="212.7" width="21.1" height="7.0" fill="#f80b00"/><rect x="1762.4" y="212.7" width="21.1" height="7.0" fill="#f70500"/><rect x="1783.1" y="212.7" width="21.1" height="7.0" fill="#f20000"/><rect x="1803.8" y="212.7" width="21.1" height="7.0" fill="#e30000"/><rect x="1824.6" y="212.7" width="21.1" height="7.0" fill="#d30000"/><rect x="1845.3" y="212.7" width="21.1" height="7.0" fill="#cd0000"/><rect x="1866.0" y="212.7" width="21.1" height="7.0" fill="#c80000"/><rect x="1886.7" y="212.7" width="10.8" height="7.0" fill="#c20000"/><rect x="1586.2" y="219.3" width="10.8" height="7.0" fill="#ffd700"/><rect x="1596.6" y="219.3" width="21.1" height="7.0" fill="#ffaa00"/><rect x="1617.3" y="219.3" width="21.1" height="7.0" fill="#ff7200"/><rect x="1638.0" y="219.3" width="21.1" height="7.0" fill="#ff5300"/><rect x="1658.7" y="219.3" width="21.1" height="7.0" fill="#ff4100"/><rect x="1679.5" y="219.3" width="21.1" height="7.0" fill="#ff2f00"/><rect x="1700.2" y="219.3" width="21.1" height="7.0" fill="#fd1d00"/><rect x="1720.9" y="219.3" width="21.1" height="7.0" fill="#fc1800"/><rect x="1741.7" y="219.3" width="21.1" height="7.0" fill="#fa1300"/><rect x="1762.4" y="219.3" width="21.1" height="7.0" fill="#f90d00"/><rect x="1783.1" y="219.3" width="21.1" height="7.0" fill="#f70700"/><rect x="1803.8" y="219.3" width="21.1" height="7.0" fill="#f50000"/><rect x="1824.6" y="219.3" width="21.1" height="7.0" fill="#e60000"/><rect x="1845.3" y="219.3" width="21.1" height="7.0" fill="#de0000"/><rect x="1866.0" y="219.3" width="21.1" height="7.0" fill="#d70000"/><rect x="1886.7" y="219.3" width="10.8" height="7.0" fill="#cf0000"/><rect x="1586.2" y="226.0" width="10.8" height="7.0" fill="#ffe700"/><rect x="1596.6" y="226.0" width="21.1" height="7.0" fill="#ffb900"/><rect x="1617.3" y="226.0" width="21.1" height="7.0" fill="#ff7e00"/><rect x="1638.0" y="226.0" width="21.1" height="7.0" fill="#ff5f00"/><rect x="1658.7" y="226.0" width="21.1" height="7.0" fill="#ff4c00"/><rect x="1679.5" y="226.0" width="21.1" height="7.0" fill="#ff3900"/><rect x="1700.2" y="226.0" width="21.1" height="7.0" fill="#ff2500"/><rect x="1720.9" y="226.0" width="21.1" height="7.0" fill="#fe1f00"/><rect x="1741.7" y="226.0" width="21.1" height="7.0" fill="#fc1900"/><rect x="1762.4" y="226.0" width="21.1" height="7.0" fill="#fa1300"/><rect x="1783.1" y="226.0" width="21.1" height="7.0" fill="#f90c00"/><rect x="1803.8" y="226.0" width="21.1" height="7.0" fill="#f70600"/><rect x="1824.6" y="226.0" width="21.1" height="7.0" fill="#f40000"/><rect x="1845.3" y="226.0" width="21.1" height="7.0" fill="#eb0000"/><rect x="1866.0" y="226.0" width="21.1" height="7.0" fill="#e30000"/><rect x="1886.7" y="226.0" width="10.8" height="7.0" fill="#da0000"/><rect x="1586.2" y="232.6" width="10.8" height="7.0" fill="#fff500"/><rect x="1596.6" y="232.6" width="21.1" height="7.0" fill="#ffc800"/><rect x="1617.3" y="232.6" width="21.1" height="7.0" fill="#ff8c00"/><rect x="1638.0" y="232.6" width="21.1" height="7.0" fill="#ff6b00"/><rect x="1658.7" y="232.6" width="21.1" height="7.0" fill="#ff5800"/><rect x="1679.5" y="232.6" width="21.1" height="7.0" fill="#ff4300"/><rect x="1700.2" y="232.6" width="21.1" height="7.0" fill="#ff2e00"/><rect x="1720.9" y="232.6" width="21.1" height="7.0" fill="#ff2700"/><rect x="1741.7" y="232.6" width="21.1" height="7.0" fill="#fe1f00"/><rect x="1762.4" y="232.6" width="21.1" height="7.0" fill="#fc1700"/><rect x="1783.1" y="232.6" width="21.1" height="7.0" fill="#fa1100"/><rect x="1803.8" y="232.6" width="21.1" height="7.0" fill="#f80b00"/><rect x="1824.6" y="232.6" width="21.1" height="7.0" fill="#f60500"/><rect x="1845.3" y="232.6" width="21.1" height="7.0" fill="#f50100"/><rect x="1866.0" y="232.6" width="21.1" height="7.0" fill="#ee0000"/><rect x="1886.7" y="232.6" width="10.8" height="7.0" fill="#e50000"/><rect x="1586.2" y="239.2" width="10.8" height="7.0" fill="#ffff08"/><rect x="1596.6" y="239.2" width="21.1" height="7.0" fill="#ffd700"/><rect x="1617.3" y="239.2" width="21.1" height="7.0" fill="#ff9900"/><rect x="1638.0" y="239.2" width="21.1" height="7.0" fill="#ff7700"/><rect x="1658.7" y="239.2" width="21.1" height="7.0" fill="#ff6300"/><rect x="1679.5" y="239.2" width="21.1" height="7.0" fill="#ff4e00"/><rect x="1700.2" y="239.2" width="21.1" height="7.0" fill="#ff3700"/><rect x="1720.9" y="239.2" width="21.1" height="7.0" fill="#ff2e00"/><rect x="1741.7" y="239.2" width="21.1" height="7.0" fill="#ff2500"/><rect x="1762.4" y="239.2" width="21.1" height="7.0" fill="#fd1c00"/><rect x="1783.1" y="239.2" width="21.1" height="7.0" fill="#fb1600"/><rect x="1803.8" y="239.2" width="21.1" height="7.0" fill="#fa1100"/><rect x="1824.6" y="239.2" width="21.1" height="7.0" fill="#f80b00"/><rect x="1845.3" y="239.2" width="21.1" height="7.0" fill="#f70700"/><rect x="1866.0" y="239.2" width="21.1" height="7.0" fill="#f60200"/><rect x="1886.7" y="239.2" width="10.8" height="7.0" fill="#f00000"/><rect x="1586.2" y="245.8" width="10.8" height="7.0" fill="#ffff2d"/><rect x="1596.6" y="245.8" width="21.1" height="7.0" fill="#ffe700"/><rect x="1617.3" y="245.8" width="21.1" height="7.0" fill="#ffa600"/><rect x="1638.0" y="245.8" width="21.1" height="7.0" fill="#ff8300"/><rect x="1658.7" y="245.8" width="21.1" height="7.0" fill="#ff6e00"/><rect x="1679.5" y="245.8" width="21.1" height="7.0" fill="#ff5800"/><rect x="1700.2" y="245.8" width="21.1" height="7.0" fill="#ff4100"/><rect x="1720.9" y="245.8" width="21.1" height="7.0" fill="#ff3600"/><rect x="1741.7" y="245.8" width="21.1" height="7.0" fill="#ff2b00"/><rect x="1762.4" y="245.8" width="21.1" height="7.0" fill="#fe2000"/><rect x="1783.1" y="245.8" width="21.1" height="7.0" fill="#fd1b00"/><rect x="1803.8" y="245.8" width="21.1" height="7.0" fill="#fb1600"/><rect x="1824.6" y="245.8" width="21.1" height="7.0" fill="#fa1100"/><rect x="1845.3" y="245.8" width="21.1" height="7.0" fill="#f80c00"/><rect x="1866.0" y="245.8" width="21.1" height="7.0" fill="#f70700"/><rect x="1886.7" y="245.8" width="10.8" height="7.0" fill="#f60200"/><rect x="1586.2" y="252.4" width="10.8" height="7.0" fill="#ffff51"/><rect x="1596.6" y="252.4" width="21.1" height="7.0" fill="#fff500"/><rect x="1617.3" y="252.4" width="21.1" height="7.0" fill="#ffb300"/><rect x="1638.0" y="252.4" width="21.1" height="7.0" fill="#ff9000"/><rect x="1658.7" y="252.4" width="21.1" height="7.0" fill="#ff7900"/><rect x="1679.5" y="252.4" width="21.1" height="7.0" fill="#ff6200"/><rect x="1700.2" y="252.4" width="21.1" height="7.0" fill="#ff4b00"/><rect x="1720.9" y="252.4" width="21.1" height="7.0" fill="#ff3f00"/><rect x="1741.7" y="252.4" width="21.1" height="7.0" fill="#ff3300"/><rect x="1762.4" y="252.4" width="21.1" height="7.0" fill="#ff2700"/><rect x="1783.1" y="252.4" width="21.1" height="7.0" fill="#ff2100"/><rect x="1803.8" y="252.4" width="21.1" height="7.0" fill="#fd1c00"/><rect x="1824.6" y="252.4" width="21.1" height="7.0" fill="#fb1600"/><rect x="1845.3" y="252.4" width="21.1" height="7.0" fill="#fa1200"/><rect x="1866.0" y="252.4" width="21.1" height="7.0" fill="#f90d00"/><rect x="1886.7" y="252.4" width="10.8" height="7.0" fill="#f70900"/><rect x="1586.2" y="259.0" width="10.8" height="7.0" fill="#ffff76"/><rect x="1596.6" y="259.0" width="21.1" height="7.0" fill="#ffff03"/><rect x="1617.3" y="259.0" width="21.1" height="7.0" fill="#ffbf00"/><rect x="1638.0" y="259.0" width="21.1" height="7.0" fill="#ff9d00"/><rect x="1658.7" y="259.0" width="21.1" height="7.0" fill="#ff8500"/><rect x="1679.5" y="259.0" width="21.1" height="7.0" fill="#ff6d00"/><rect x="1700.2" y="259.0" width="21.1" height="7.0" fill="#ff5600"/><rect x="1720.9" y="259.0" width="21.1" height="7.0" fill="#ff4a00"/><rect x="1741.7" y="259.0" width="21.1" height="7.0" fill="#ff3e00"/><rect x="1762.4" y="259.0" width="21.1" height="7.0" fill="#ff3100"/><rect x="1783.1" y="259.0" width="21.1" height="7.0" fill="#ff2a00"/><rect x="1803.8" y="259.0" width="21.1" height="7.0" fill="#ff2300"/><rect x="1824.6" y="259.0" width="21.1" height="7.0" fill="#fd1c00"/><rect x="1845.3" y="259.0" width="21.1" height="7.0" fill="#fc1900"/><rect x="1866.0" y="259.0" width="21.1" height="7.0" fill="#fb1500"/><rect x="1886.7" y="259.0" width="10.8" height="7.0" fill="#fa1200"/><rect x="1586.2" y="265.6" width="10.8" height="7.0" fill="#ffff91"/><rect x="1596.6" y="265.6" width="21.1" height="7.0" fill="#ffff21"/><rect x="1617.3" y="265.6" width="21.1" height="7.0" fill="#ffcb00"/><rect x="1638.0" y="265.6" width="21.1" height="7.0" fill="#ffaa00"/><rect x="1658.7" y="265.6" width="21.1" height="7.0" fill="#ff9100"/><rect x="1679.5" y="265.6" width="21.1" height="7.0" fill="#ff7900"/><rect x="1700.2" y="265.6" width="21.1" height="7.0" fill="#ff6000"/><rect x="1720.9" y="265.6" width="21.1" height="7.0" fill="#ff5500"/><rect x="1741.7" y="265.6" width="21.1" height="7.0" fill="#ff4800"/><rect x="1762.4" y="265.6" width="21.1" height="7.0" fill="#ff3c00"/><rect x="1783.1" y="265.6" width="21.1" height="7.0" fill="#ff3300"/><rect x="1803.8" y="265.6" width="21.1" height="7.0" fill="#ff2a00"/><rect x="1824.6" y="265.6" width="21.1" height="7.0" fill="#ff2200"/><rect x="1845.3" y="265.6" width="21.1" height="7.0" fill="#fe1f00"/><rect x="1866.0" y="265.6" width="21.1" height="7.0" fill="#fd1d00"/><rect x="1886.7" y="265.6" width="10.8" height="7.0" fill="#fd1b00"/><rect x="1586.2" y="272.2" width="10.8" height="7.0" fill="#ffffad"/><rect x="1596.6" y="272.2" width="21.1" height="7.0" fill="#ffff40"/><rect x="1617.3" y="272.2" width="21.1" height="7.0" fill="#ffd800"/><rect x="1638.0" y="272.2" width="21.1" height="7.0" fill="#ffb700"/><rect x="1658.7" y="272.2" width="21.1" height="7.0" fill="#ff9d00"/><rect x="1679.5" y="272.2" width="21.1" height="7.0" fill="#ff8400"/><rect x="1700.2" y="272.2" width="21.1" height="7.0" fill="#ff6a00"/><rect x="1720.9" y="272.2" width="21.1" height="7.0" fill="#ff5e00"/><rect x="1741.7" y="272.2" width="21.1" height="7.0" fill="#ff5300"/><rect x="1762.4" y="272.2" width="21.1" height="7.0" fill="#ff4600"/><rect x="1783.1" y="272.2" width="21.1" height="7.0" fill="#ff3c00"/><rect x="1803.8" y="272.2" width="21.1" height="7.0" fill="#ff3100"/><rect x="1824.6" y="272.2" width="21.1" height="7.0" fill="#ff2700"/><rect x="1845.3" y="272.2" width="21.1" height="7.0" fill="#ff2600"/><rect x="1866.0" y="272.2" width="21.1" height="7.0" fill="#ff2500"/><rect x="1886.7" y="272.2" width="10.8" height="7.0" fill="#ff2400"/><rect x="1586.2" y="278.9" width="10.8" height="7.0" fill="#ffffc8"/><rect x="1596.6" y="278.9" width="21.1" height="7.0" fill="#ffff5e"/><rect x="1617.3" y="278.9" width="21.1" height="7.0" fill="#ffe600"/><rect x="1638.0" y="278.9" width="21.1" height="7.0" fill="#ffc400"/><rect x="1658.7" y="278.9" width="21.1" height="7.0" fill="#ffa900"/><rect x="1679.5" y="278.9" width="21.1" height="7.0" fill="#ff8f00"/><rect x="1700.2" y="278.9" width="21.1" height="7.0" fill="#ff7400"/><rect x="1720.9" y="278.9" width="21.1" height="7.0" fill="#ff6800"/><rect x="1741.7" y="278.9" width="21.1" height="7.0" fill="#ff5c00"/><rect x="1762.4" y="278.9" width="21.1" height="7.0" fill="#ff5000"/><rect x="1783.1" y="278.9" width="21.1" height="7.0" fill="#ff4400"/><rect x="1803.8" y="278.9" width="21.1" height="7.0" fill="#ff3900"/><rect x="1824.6" y="278.9" width="21.1" height="7.0" fill="#ff2d00"/><rect x="1845.3" y="278.9" width="21.1" height="7.0" fill="#ff2d00"/><rect x="1866.0" y="278.9" width="21.1" height="7.0" fill="#ff2d00"/><rect x="1886.7" y="278.9" width="10.8" height="7.0" fill="#ff2d00"/><rect x="1586.2" y="285.5" width="10.8" height="7.0" fill="#ffffd2"/><rect x="1596.6" y="285.5" width="21.1" height="7.0" fill="#ffff70"/><rect x="1617.3" y="285.5" width="21.1" height="7.0" fill="#ffed00"/><rect x="1638.0" y="285.5" width="21.1" height="7.0" fill="#ffce00"/><rect x="1658.7" y="285.5" width="21.1" height="7.0" fill="#ffb400"/><rect x="1679.5" y="285.5" width="21.1" height="7.0" fill="#ff9900"/><rect x="1700.2" y="285.5" width="21.1" height="7.0" fill="#ff7e00"/><rect x="1720.9" y="285.5" width="21.1" height="7.0" fill="#ff7200"/><rect x="1741.7" y="285.5" width="21.1" height="7.0" fill="#ff6500"/><rect x="1762.4" y="285.5" width="21.1" height="7.0" fill="#ff5900"/><rect x="1783.1" y="285.5" width="21.1" height="7.0" fill="#ff4d00"/><rect x="1803.8" y="285.5" width="21.1" height="7.0" fill="#ff4000"/><rect x="1824.6" y="285.5" width="21.1" height="7.0" fill="#ff3400"/><rect x="1845.3" y="285.5" width="21.1" height="7.0" fill="#ff3200"/><rect x="1866.0" y="285.5" width="21.1" height="7.0" fill="#ff3100"/><rect x="1886.7" y="285.5" width="10.8" height="7.0" fill="#ff2f00"/><rect x="1586.2" y="292.1" width="10.8" height="7.0" fill="#ffffdc"/><rect x="1596.6" y="292.1" width="21.1" height="7.0" fill="#ffff80"/><rect x="1617.3" y="292.1" width="21.1" height="7.0" fill="#fff400"/><rect x="1638.0" y="292.1" width="21.1" height="7.0" fill="#ffda00"/><rect x="1658.7" y="292.1" width="21.1" height="7.0" fill="#ffbe00"/><rect x="1679.5" y="292.1" width="21.1" height="7.0" fill="#ffa300"/><rect x="1700.2" y="292.1" width="21.1" height="7.0" fill="#ff8800"/><rect x="1720.9" y="292.1" width="21.1" height="7.0" fill="#ff7b00"/><rect x="1741.7" y="292.1" width="21.1" height="7.0" fill="#ff6e00"/><rect x="1762.4" y="292.1" width="21.1" height="7.0" fill="#ff6100"/><rect x="1783.1" y="292.1" width="21.1" height="7.0" fill="#ff5500"/><rect x="1803.8" y="292.1" width="21.1" height="7.0" fill="#ff4800"/><rect x="1824.6" y="292.1" width="21.1" height="7.0" fill="#ff3b00"/><rect x="1845.3" y="292.1" width="21.1" height="7.0" fill="#ff3800"/><rect x="1866.0" y="292.1" width="21.1" height="7.0" fill="#ff3500"/><rect x="1886.7" y="292.1" width="10.8" height="7.0" fill="#ff3200"/><rect x="1586.2" y="298.7" width="10.8" height="7.0" fill="#ffffe7"/><rect x="1596.6" y="298.7" width="21.1" height="7.0" fill="#ffff8d"/><rect x="1617.3" y="298.7" width="21.1" height="7.0" fill="#fffa00"/><rect x="1638.0" y="298.7" width="21.1" height="7.0" fill="#ffe500"/><rect x="1658.7" y="298.7" width="21.1" height="7.0" fill="#ffc800"/><rect x="1679.5" y="298.7" width="21.1" height="7.0" fill="#ffad00"/><rect x="1700.2" y="298.7" width="21.1" height="7.0" fill="#ff9200"/><rect x="1720.9" y="298.7" width="21.1" height="7.0" fill="#ff8500"/><rect x="1741.7" y="298.7" width="21.1" height="7.0" fill="#ff7700"/><rect x="1762.4" y="298.7" width="21.1" height="7.0" fill="#ff6900"/><rect x="1783.1" y="298.7" width="21.1" height="7.0" fill="#ff5c00"/><rect x="1803.8" y="298.7" width="21.1" height="7.0" fill="#ff4f00"/><rect x="1824.6" y="298.7" width="21.1" height="7.0" fill="#ff4100"/><rect x="1845.3" y="298.7" width="21.1" height="7.0" fill="#ff3d00"/><rect x="1866.0" y="298.7" width="21.1" height="7.0" fill="#ff3800"/><rect x="1886.7" y="298.7" width="10.8" height="7.0" fill="#ff3400"/><rect x="1586.2" y="305.3" width="10.8" height="7.0" fill="#fffff1"/><rect x="1596.6" y="305.3" width="21.1" height="7.0" fill="#ffff9b"/><rect x="1617.3" y="305.3" width="21.1" height="7.0" fill="#ffff06"/><rect x="1638.0" y="305.3" width="21.1" height="7.0" fill="#fff000"/><rect x="1658.7" y="305.3" width="21.1" height="7.0" fill="#ffd200"/><rect x="1679.5" y="305.3" width="21.1" height="7.0" fill="#ffb700"/><rect x="1700.2" y="305.3" width="21.1" height="7.0" fill="#ff9d00"/><rect x="1720.9" y="305.3" width="21.1" height="7.0" fill="#ff8e00"/><rect x="1741.7" y="305.3" width="21.1" height="7.0" fill="#ff7f00"/><rect x="1762.4" y="305.3" width="21.1" height="7.0" fill="#ff7100"/><rect x="1783.1" y="305.3" width="21.1" height="7.0" fill="#ff6400"/><rect x="1803.8" y="305.3" width="21.1" height="7.0" fill="#ff5700"/><rect x="1824.6" y="305.3" width="21.1" height="7.0" fill="#ff4800"/><rect x="1845.3" y="305.3" width="21.1" height="7.0" fill="#ff4200"/><rect x="1866.0" y="305.3" width="21.1" height="7.0" fill="#ff3c00"/><rect x="1886.7" y="305.3" width="10.8" height="7.0" fill="#ff3600"/><rect x="1586.2" y="311.9" width="10.8" height="7.0" fill="#fffff4"/><rect x="1596.6" y="311.9" width="21.1" height="7.0" fill="#ffffa1"/><rect x="1617.3" y="311.9" width="21.1" height="7.0" fill="#ffff0b"/><rect x="1638.0" y="311.9" width="21.1" height="7.0" fill="#fff300"/><rect x="1658.7" y="311.9" width="21.1" height="7.0" fill="#ffd500"/><rect x="1679.5" y="311.9" width="21.1" height="7.0" fill="#ffba00"/><rect x="1700.2" y="311.9" width="21.1" height="7.0" fill="#ff9f00"/><rect x="1720.9" y="311.9" width="21.1" height="7.0" fill="#ff9100"/><rect x="1741.7" y="311.9" width="21.1" height="7.0" fill="#ff8300"/><rect x="1762.4" y="311.9" width="21.1" height="7.0" fill="#ff7400"/><rect x="1783.1" y="311.9" width="21.1" height="7.0" fill="#ff6700"/><rect x="1803.8" y="311.9" width="21.1" height="7.0" fill="#ff5900"/><rect x="1824.6" y="311.9" width="21.1" height="7.0" fill="#ff4b00"/><rect x="1845.3" y="311.9" width="21.1" height="7.0" fill="#ff4400"/><rect x="1866.0" y="311.9" width="21.1" height="7.0" fill="#ff3e00"/><rect x="1886.7" y="311.9" width="10.8" height="7.0" fill="#ff3700"/><rect x="1586.2" y="318.5" width="10.8" height="7.0" fill="#fffff3"/><rect x="1596.6" y="318.5" width="21.1" height="7.0" fill="#ffffa1"/><rect x="1617.3" y="318.5" width="21.1" height="7.0" fill="#ffff08"/><rect x="1638.0" y="318.5" width="21.1" height="7.0" fill="#fff000"/><rect x="1658.7" y="318.5" width="21.1" height="7.0" fill="#ffd200"/><rect x="1679.5" y="318.5" width="21.1" height="7.0" fill="#ffb700"/><rect x="1700.2" y="318.5" width="21.1" height="7.0" fill="#ff9d00"/><rect x="1720.9" y="318.5" width="21.1" height="7.0" fill="#ff9000"/><rect x="1741.7" y="318.5" width="21.1" height="7.0" fill="#ff8200"/><rect x="1762.4" y="318.5" width="21.1" height="7.0" fill="#ff7400"/><rect x="1783.1" y="318.5" width="21.1" height="7.0" fill="#ff6700"/><rect x="1803.8" y="318.5" width="21.1" height="7.0" fill="#ff5900"/><rect x="1824.6" y="318.5" width="21.1" height="7.0" fill="#ff4b00"/><rect x="1845.3" y="318.5" width="21.1" height="7.0" fill="#ff4400"/><rect x="1866.0" y="318.5" width="21.1" height="7.0" fill="#ff3e00"/><rect x="1886.7" y="318.5" width="10.8" height="7.0" fill="#ff3700"/><rect x="1586.2" y="325.1" width="10.8" height="7.0" fill="#fffff2"/><rect x="1596.6" y="325.1" width="21.1" height="7.0" fill="#ffffa1"/><rect x="1617.3" y="325.1" width="21.1" height="7.0" fill="#ffff05"/><rect x="1638.0" y="325.1" width="21.1" height="7.0" fill="#ffec00"/><rect x="1658.7" y="325.1" width="21.1" height="7.0" fill="#ffcf00"/><rect x="1679.5" y="325.1" width="21.1" height="7.0" fill="#ffb500"/><rect x="1700.2" y="325.1" width="21.1" height="7.0" fill="#ff9b00"/><rect x="1720.9" y="325.1" width="21.1" height="7.0" fill="#ff8e00"/><rect x="1741.7" y="325.1" width="21.1" height="7.0" fill="#ff8100"/><rect x="1762.4" y="325.1" width="21.1" height="7.0" fill="#ff7400"/><rect x="1783.1" y="325.1" width="21.1" height="7.0" fill="#ff6700"/><rect x="1803.8" y="325.1" width="21.1" height="7.0" fill="#ff5900"/><rect x="1824.6" y="325.1" width="21.1" height="7.0" fill="#ff4b00"/><rect x="1845.3" y="325.1" width="21.1" height="7.0" fill="#ff4400"/><rect x="1866.0" y="325.1" width="21.1" height="7.0" fill="#ff3e00"/><rect x="1886.7" y="325.1" width="10.8" height="7.0" fill="#ff3700"/><rect x="1586.2" y="331.8" width="10.8" height="7.0" fill="#fffff0"/><rect x="1596.6" y="331.8" width="21.1" height="7.0" fill="#ffffa1"/><rect x="1617.3" y="331.8" width="21.1" height="7.0" fill="#ffff02"/><rect x="1638.0" y="331.8" width="21.1" height="7.0" fill="#ffe900"/><rect x="1658.7" y="331.8" width="21.1" height="7.0" fill="#ffcc00"/><rect x="1679.5" y="331.8" width="21.1" height="7.0" fill="#ffb300"/><rect x="1700.2" y="331.8" width="21.1" height="7.0" fill="#ff9900"/><rect x="1720.9" y="331.8" width="21.1" height="7.0" fill="#ff8d00"/><rect x="1741.7" y="331.8" width="21.1" height="7.0" fill="#ff8100"/><rect x="1762.4" y="331.8" width="21.1" height="7.0" fill="#ff7400"/><rect x="1783.1" y="331.8" width="21.1" height="7.0" fill="#ff6700"/><rect x="1803.8" y="331.8" width="21.1" height="7.0" fill="#ff5900"/><rect x="1824.6" y="331.8" width="21.1" height="7.0" fill="#ff4b00"/><rect x="1845.3" y="331.8" width="21.1" height="7.0" fill="#ff4400"/><rect x="1866.0" y="331.8" width="21.1" height="7.0" fill="#ff3e00"/><rect x="1886.7" y="331.8" width="10.8" height="7.0" fill="#ff3700"/><rect x="1586.2" y="338.4" width="10.8" height="7.0" fill="#ffffed"/><rect x="1596.6" y="338.4" width="21.1" height="7.0" fill="#ffff9d"/><rect x="1617.3" y="338.4" width="21.1" height="7.0" fill="#fffd00"/><rect x="1638.0" y="338.4" width="21.1" height="7.0" fill="#ffe300"/><rect x="1658.7" y="338.4" width="21.1" height="7.0" fill="#ffc800"/><rect x="1679.5" y="338.4" width="21.1" height="7.0" fill="#ffaf00"/><rect x="1700.2" y="338.4" width="21.1" height="7.0" fill="#ff9600"/><rect x="1720.9" y="338.4" width="21.1" height="7.0" fill="#ff8a00"/><rect x="1741.7" y="338.4" width="21.1" height="7.0" fill="#ff7e00"/><rect x="1762.4" y="338.4" width="21.1" height="7.0" fill="#ff7300"/><rect x="1783.1" y="338.4" width="21.1" height="7.0" fill="#ff6600"/><rect x="1803.8" y="338.4" width="21.1" height="7.0" fill="#ff5800"/><rect x="1824.6" y="338.4" width="21.1" height="7.0" fill="#ff4a00"/><rect x="1845.3" y="338.4" width="21.1" height="7.0" fill="#ff4300"/><rect x="1866.0" y="338.4" width="21.1" height="7.0" fill="#ff3d00"/><rect x="1886.7" y="338.4" width="10.8" height="7.0" fill="#ff3600"/><rect x="1586.2" y="345.0" width="10.8" height="7.0" fill="#ffffdf"/><rect x="1596.6" y="345.0" width="21.1" height="7.0" fill="#ffff8b"/><rect x="1617.3" y="345.0" width="21.1" height="7.0" fill="#fff300"/><rect x="1638.0" y="345.0" width="21.1" height="7.0" fill="#ffd600"/><rect x="1658.7" y="345.0" width="21.1" height="7.0" fill="#ffbd00"/><rect x="1679.5" y="345.0" width="21.1" height="7.0" fill="#ffa600"/><rect x="1700.2" y="345.0" width="21.1" height="7.0" fill="#ff8e00"/><rect x="1720.9" y="345.0" width="21.1" height="7.0" fill="#ff8300"/><rect x="1741.7" y="345.0" width="21.1" height="7.0" fill="#ff7700"/><rect x="1762.4" y="345.0" width="21.1" height="7.0" fill="#ff6c00"/><rect x="1783.1" y="345.0" width="21.1" height="7.0" fill="#ff6000"/><rect x="1803.8" y="345.0" width="21.1" height="7.0" fill="#ff5300"/><rect x="1824.6" y="345.0" width="21.1" height="7.0" fill="#ff4600"/><rect x="1845.3" y="345.0" width="21.1" height="7.0" fill="#ff3e00"/><rect x="1866.0" y="345.0" width="21.1" height="7.0" fill="#ff3700"/><rect x="1886.7" y="345.0" width="10.8" height="7.0" fill="#ff3000"/><rect x="1586.2" y="351.6" width="10.8" height="7.0" fill="#ffffd0"/><rect x="1596.6" y="351.6" width="21.1" height="7.0" fill="#ffff78"/><rect x="1617.3" y="351.6" width="21.1" height="7.0" fill="#ffe800"/><rect x="1638.0" y="351.6" width="21.1" height="7.0" fill="#ffc900"/><rect x="1658.7" y="351.6" width="21.1" height="7.0" fill="#ffb200"/><rect x="1679.5" y="351.6" width="21.1" height="7.0" fill="#ff9c00"/><rect x="1700.2" y="351.6" width="21.1" height="7.0" fill="#ff8600"/><rect x="1720.9" y="351.6" width="21.1" height="7.0" fill="#ff7b00"/><rect x="1741.7" y="351.6" width="21.1" height="7.0" fill="#ff7000"/><rect x="1762.4" y="351.6" width="21.1" height="7.0" fill="#ff6500"/><rect x="1783.1" y="351.6" width="21.1" height="7.0" fill="#ff5900"/><rect x="1803.8" y="351.6" width="21.1" height="7.0" fill="#ff4d00"/><rect x="1824.6" y="351.6" width="21.1" height="7.0" fill="#ff4100"/><rect x="1845.3" y="351.6" width="21.1" height="7.0" fill="#ff3900"/><rect x="1866.0" y="351.6" width="21.1" height="7.0" fill="#ff3200"/><rect x="1886.7" y="351.6" width="10.8" height="7.0" fill="#ff2a00"/><rect x="1586.2" y="358.2" width="10.8" height="7.0" fill="#ffffbe"/><rect x="1596.6" y="358.2" width="21.1" height="7.0" fill="#ffff60"/><rect x="1617.3" y="358.2" width="21.1" height="7.0" fill="#ffde00"/><rect x="1638.0" y="358.2" width="21.1" height="7.0" fill="#ffbc00"/><rect x="1658.7" y="358.2" width="21.1" height="7.0" fill="#ffa800"/><rect x="1679.5" y="358.2" width="21.1" height="7.0" fill="#ff9300"/><rect x="1700.2" y="358.2" width="21.1" height="7.0" fill="#ff7e00"/><rect x="1720.9" y="358.2" width="21.1" height="7.0" fill="#ff7300"/><rect x="1741.7" y="358.2" width="21.1" height="7.0" fill="#ff6800"/><rect x="1762.4" y="358.2" width="21.1" height="7.0" fill="#ff5d00"/><rect x="1783.1" y="358.2" width="21.1" height="7.0" fill="#ff5300"/><rect x="1803.8" y="358.2" width="21.1" height="7.0" fill="#ff4800"/><rect x="1824.6" y="358.2" width="21.1" height="7.0" fill="#ff3c00"/><rect x="1845.3" y="358.2" width="21.1" height="7.0" fill="#ff3500"/><rect x="1866.0" y="358.2" width="21.1" height="7.0" fill="#ff2d00"/><rect x="1886.7" y="358.2" width="10.8" height="7.0" fill="#ff2500"/><rect x="1586.2" y="364.8" width="10.8" height="7.0" fill="#ffffa5"/><rect x="1596.6" y="364.8" width="21.1" height="7.0" fill="#ffff48"/><rect x="1617.3" y="364.8" width="21.1" height="7.0" fill="#ffd400"/><rect x="1638.0" y="364.8" width="21.1" height="7.0" fill="#ffb000"/><rect x="1658.7" y="364.8" width="21.1" height="7.0" fill="#ff9d00"/><rect x="1679.5" y="364.8" width="21.1" height="7.0" fill="#ff8900"/><rect x="1700.2" y="364.8" width="21.1" height="7.0" fill="#ff7600"/><rect x="1720.9" y="364.8" width="21.1" height="7.0" fill="#ff6b00"/><rect x="1741.7" y="364.8" width="21.1" height="7.0" fill="#ff6100"/><rect x="1762.4" y="364.8" width="21.1" height="7.0" fill="#ff5600"/><rect x="1783.1" y="364.8" width="21.1" height="7.0" fill="#ff4c00"/><rect x="1803.8" y="364.8" width="21.1" height="7.0" fill="#ff4200"/><rect x="1824.6" y="364.8" width="21.1" height="7.0" fill="#ff3800"/><rect x="1845.3" y="364.8" width="21.1" height="7.0" fill="#ff3000"/><rect x="1866.0" y="364.8" width="21.1" height="7.0" fill="#ff2700"/><rect x="1886.7" y="364.8" width="10.8" height="7.0" fill="#fe1f00"/><rect x="1586.2" y="371.4" width="10.8" height="7.0" fill="#ffff88"/><rect x="1596.6" y="371.4" width="21.1" height="7.0" fill="#ffff21"/><rect x="1617.3" y="371.4" width="21.1" height="7.0" fill="#ffc400"/><rect x="1638.0" y="371.4" width="21.1" height="7.0" fill="#ffa300"/><rect x="1658.7" y="371.4" width="21.1" height="7.0" fill="#ff9000"/><rect x="1679.5" y="371.4" width="21.1" height="7.0" fill="#ff7d00"/><rect x="1700.2" y="371.4" width="21.1" height="7.0" fill="#ff6a00"/><rect x="1720.9" y="371.4" width="21.1" height="7.0" fill="#ff6100"/><rect x="1741.7" y="371.4" width="21.1" height="7.0" fill="#ff5700"/><rect x="1762.4" y="371.4" width="21.1" height="7.0" fill="#ff4c00"/><rect x="1783.1" y="371.4" width="21.1" height="7.0" fill="#ff4300"/><rect x="1803.8" y="371.4" width="21.1" height="7.0" fill="#ff3900"/><rect x="1824.6" y="371.4" width="21.1" height="7.0" fill="#ff3000"/><rect x="1845.3" y="371.4" width="21.1" height="7.0" fill="#ff2800"/><rect x="1866.0" y="371.4" width="21.1" height="7.0" fill="#fe2100"/><rect x="1886.7" y="371.4" width="10.8" height="7.0" fill="#fc1900"/><rect x="1586.2" y="378.0" width="10.8" height="7.0" fill="#ffff66"/><rect x="1596.6" y="378.0" width="21.1" height="7.0" fill="#fffc00"/><rect x="1617.3" y="378.0" width="21.1" height="7.0" fill="#ffb400"/><rect x="1638.0" y="378.0" width="21.1" height="7.0" fill="#ff9600"/><rect x="1658.7" y="378.0" width="21.1" height="7.0" fill="#ff8400"/><rect x="1679.5" y="378.0" width="21.1" height="7.0" fill="#ff7100"/><rect x="1700.2" y="378.0" width="21.1" height="7.0" fill="#ff5e00"/><rect x="1720.9" y="378.0" width="21.1" height="7.0" fill="#ff5500"/><rect x="1741.7" y="378.0" width="21.1" height="7.0" fill="#ff4b00"/><rect x="1762.4" y="378.0" width="21.1" height="7.0" fill="#ff4100"/><rect x="1783.1" y="378.0" width="21.1" height="7.0" fill="#ff3800"/><rect x="1803.8" y="378.0" width="21.1" height="7.0" fill="#ff2f00"/><rect x="1824.6" y="378.0" width="21.1" height="7.0" fill="#ff2700"/><rect x="1845.3" y="378.0" width="21.1" height="7.0" fill="#fe2000"/><rect x="1866.0" y="378.0" width="21.1" height="7.0" fill="#fc1a00"/><rect x="1886.7" y="378.0" width="10.8" height="7.0" fill="#fb1400"/><rect x="1586.2" y="384.7" width="10.8" height="7.0" fill="#ffff3f"/><rect x="1596.6" y="384.7" width="21.1" height="7.0" fill="#ffec00"/><rect x="1617.3" y="384.7" width="21.1" height="7.0" fill="#ffa400"/><rect x="1638.0" y="384.7" width="21.1" height="7.0" fill="#ff8900"/><rect x="1658.7" y="384.7" width="21.1" height="7.0" fill="#ff7700"/><rect x="1679.5" y="384.7" width="21.1" height="7.0" fill="#ff6400"/><rect x="1700.2" y="384.7" width="21.1" height="7.0" fill="#ff5200"/><rect x="1720.9" y="384.7" width="21.1" height="7.0" fill="#ff4800"/><rect x="1741.7" y="384.7" width="21.1" height="7.0" fill="#ff3f00"/><rect x="1762.4" y="384.7" width="21.1" height="7.0" fill="#ff3500"/><rect x="1783.1" y="384.7" width="21.1" height="7.0" fill="#ff2d00"/><rect x="1803.8" y="384.7" width="21.1" height="7.0" fill="#ff2500"/><rect x="1824.6" y="384.7" width="21.1" height="7.0" fill="#fd1e00"/><rect x="1845.3" y="384.7" width="21.1" height="7.0" fill="#fc1800"/><rect x="1866.0" y="384.7" width="21.1" height="7.0" fill="#fa1300"/><rect x="1886.7" y="384.7" width="10.8" height="7.0" fill="#f90e00"/><rect x="1586.2" y="391.3" width="10.8" height="7.0" fill="#ffff18"/><rect x="1596.6" y="391.3" width="21.1" height="7.0" fill="#ffdc00"/><rect x="1617.3" y="391.3" width="21.1" height="7.0" fill="#ff9400"/><rect x="1638.0" y="391.3" width="21.1" height="7.0" fill="#ff7c00"/><rect x="1658.7" y="391.3" width="21.1" height="7.0" fill="#ff6a00"/><rect x="1679.5" y="391.3" width="21.1" height="7.0" fill="#ff5800"/><rect x="1700.2" y="391.3" width="21.1" height="7.0" fill="#ff4400"/><rect x="1720.9" y="391.3" width="21.1" height="7.0" fill="#ff3b00"/><rect x="1741.7" y="391.3" width="21.1" height="7.0" fill="#ff3300"/><rect x="1762.4" y="391.3" width="21.1" height="7.0" fill="#ff2a00"/><rect x="1783.1" y="391.3" width="21.1" height="7.0" fill="#ff2300"/><rect x="1803.8" y="391.3" width="21.1" height="7.0" fill="#fd1c00"/><rect x="1824.6" y="391.3" width="21.1" height="7.0" fill="#fb1400"/><rect x="1845.3" y="391.3" width="21.1" height="7.0" fill="#fa1000"/><rect x="1866.0" y="391.3" width="21.1" height="7.0" fill="#f90c00"/><rect x="1886.7" y="391.3" width="10.8" height="7.0" fill="#f70800"/><rect x="1586.2" y="397.9" width="10.8" height="7.0" fill="#fff600"/><rect x="1596.6" y="397.9" width="21.1" height="7.0" fill="#ffca00"/><rect x="1617.3" y="397.9" width="21.1" height="7.0" fill="#ff8300"/><rect x="1638.0" y="397.9" width="21.1" height="7.0" fill="#ff6d00"/><rect x="1658.7" y="397.9" width="21.1" height="7.0" fill="#ff5c00"/><rect x="1679.5" y="397.9" width="21.1" height="7.0" fill="#ff4900"/><rect x="1700.2" y="397.9" width="21.1" height="7.0" fill="#ff3600"/><rect x="1720.9" y="397.9" width="21.1" height="7.0" fill="#ff2e00"/><rect x="1741.7" y="397.9" width="21.1" height="7.0" fill="#ff2500"/><rect x="1762.4" y="397.9" width="21.1" height="7.0" fill="#fd1d00"/><rect x="1783.1" y="397.9" width="21.1" height="7.0" fill="#fb1700"/><rect x="1803.8" y="397.9" width="21.1" height="7.0" fill="#fa1000"/><rect x="1824.6" y="397.9" width="21.1" height="7.0" fill="#f80a00"/><rect x="1845.3" y="397.9" width="21.1" height="7.0" fill="#f70700"/><rect x="1866.0" y="397.9" width="21.1" height="7.0" fill="#f60400"/><rect x="1886.7" y="397.9" width="10.8" height="7.0" fill="#f50000"/><rect x="1586.2" y="404.5" width="10.8" height="7.0" fill="#ffdf00"/><rect x="1596.6" y="404.5" width="21.1" height="7.0" fill="#ffb700"/><rect x="1617.3" y="404.5" width="21.1" height="7.0" fill="#ff7200"/><rect x="1638.0" y="404.5" width="21.1" height="7.0" fill="#ff5b00"/><rect x="1658.7" y="404.5" width="21.1" height="7.0" fill="#ff4a00"/><rect x="1679.5" y="404.5" width="21.1" height="7.0" fill="#ff3900"/><rect x="1700.2" y="404.5" width="21.1" height="7.0" fill="#ff2700"/><rect x="1720.9" y="404.5" width="21.1" height="7.0" fill="#fe1f00"/><rect x="1741.7" y="404.5" width="21.1" height="7.0" fill="#fb1700"/><rect x="1762.4" y="404.5" width="21.1" height="7.0" fill="#f90e00"/><rect x="1783.1" y="404.5" width="21.1" height="7.0" fill="#f70900"/><rect x="1803.8" y="404.5" width="21.1" height="7.0" fill="#f60300"/><rect x="1824.6" y="404.5" width="21.1" height="7.0" fill="#ef0000"/><rect x="1845.3" y="404.5" width="21.1" height="7.0" fill="#e90000"/><rect x="1866.0" y="404.5" width="21.1" height="7.0" fill="#e20000"/><rect x="1886.7" y="404.5" width="10.8" height="7.0" fill="#dc0000"/><rect x="1586.2" y="411.1" width="10.8" height="7.0" fill="#ffc900"/><rect x="1596.6" y="411.1" width="21.1" height="7.0" fill="#ffa400"/><rect x="1617.3" y="411.1" width="21.1" height="7.0" fill="#ff6100"/><rect x="1638.0" y="411.1" width="21.1" height="7.0" fill="#ff4700"/><rect x="1658.7" y="411.1" width="21.1" height="7.0" fill="#ff3700"/><rect x="1679.5" y="411.1" width="21.1" height="7.0" fill="#ff2800"/><rect x="1700.2" y="411.1" width="21.1" height="7.0" fill="#fc1900"/><rect x="1720.9" y="411.1" width="21.1" height="7.0" fill="#fa1000"/><rect x="1741.7" y="411.1" width="21.1" height="7.0" fill="#f70800"/><rect x="1762.4" y="411.1" width="21.1" height="7.0" fill="#f40000"/><rect x="1783.1" y="411.1" width="21.1" height="7.0" fill="#e90000"/><rect x="1803.8" y="411.1" width="21.1" height="7.0" fill="#dd0000"/><rect x="1824.6" y="411.1" width="21.1" height="7.0" fill="#d20000"/><rect x="1845.3" y="411.1" width="21.1" height="7.0" fill="#cc0000"/><rect x="1866.0" y="411.1" width="21.1" height="7.0" fill="#c70000"/><rect x="1886.7" y="411.1" width="10.8" height="7.0" fill="#c10000"/><rect x="1586.2" y="417.7" width="10.8" height="7.0" fill="#ffb500"/><rect x="1596.6" y="417.7" width="21.1" height="7.0" fill="#ff9000"/><rect x="1617.3" y="417.7" width="21.1" height="7.0" fill="#ff4f00"/><rect x="1638.0" y="417.7" width="21.1" height="7.0" fill="#ff3200"/><rect x="1658.7" y="417.7" width="21.1" height="7.0" fill="#ff2500"/><rect x="1679.5" y="417.7" width="21.1" height="7.0" fill="#fc1700"/><rect x="1700.2" y="417.7" width="21.1" height="7.0" fill="#f80a00"/><rect x="1720.9" y="417.7" width="21.1" height="7.0" fill="#f50100"/><rect x="1741.7" y="417.7" width="21.1" height="7.0" fill="#e50000"/><rect x="1762.4" y="417.7" width="21.1" height="7.0" fill="#d10000"/><rect x="1783.1" y="417.7" width="21.1" height="7.0" fill="#c80000"/><rect x="1803.8" y="417.7" width="21.1" height="7.0" fill="#be0000"/><rect x="1824.6" y="417.7" width="21.1" height="7.0" fill="#b50000"/><rect x="1845.3" y="417.7" width="21.1" height="7.0" fill="#b00000"/><rect x="1866.0" y="417.7" width="21.1" height="7.0" fill="#ac0000"/><rect x="1886.7" y="417.7" width="10.8" height="7.0" fill="#a80000"/><rect x="1586.2" y="424.3" width="10.8" height="7.0" fill="#ffa100"/><rect x="1596.6" y="424.3" width="21.1" height="7.0" fill="#ff7d00"/><rect x="1617.3" y="424.3" width="21.1" height="7.0" fill="#ff3c00"/><rect x="1638.0" y="424.3" width="21.1" height="7.0" fill="#fe1e00"/><rect x="1658.7" y="424.3" width="21.1" height="7.0" fill="#fa1200"/><rect x="1679.5" y="424.3" width="21.1" height="7.0" fill="#f70700"/><rect x="1700.2" y="424.3" width="21.1" height="7.0" fill="#e90000"/><rect x="1720.9" y="424.3" width="21.1" height="7.0" fill="#d60000"/><rect x="1741.7" y="424.3" width="21.1" height="7.0" fill="#c20000"/><rect x="1762.4" y="424.3" width="21.1" height="7.0" fill="#af0000"/><rect x="1783.1" y="424.3" width="21.1" height="7.0" fill="#a80000"/><rect x="1803.8" y="424.3" width="21.1" height="7.0" fill="#a20000"/><rect x="1824.6" y="424.3" width="21.1" height="7.0" fill="#9b0000"/><rect x="1845.3" y="424.3" width="21.1" height="7.0" fill="#980000"/><rect x="1866.0" y="424.3" width="21.1" height="7.0" fill="#940000"/><rect x="1886.7" y="424.3" width="10.8" height="7.0" fill="#910000"/><rect x="1586.2" y="430.9" width="10.8" height="7.0" fill="#ff9000"/><rect x="1596.6" y="430.9" width="21.1" height="7.0" fill="#ff6a00"/><rect x="1617.3" y="430.9" width="21.1" height="7.0" fill="#ff2800"/><rect x="1638.0" y="430.9" width="21.1" height="7.0" fill="#f90d00"/><rect x="1658.7" y="430.9" width="21.1" height="7.0" fill="#f60200"/><rect x="1679.5" y="430.9" width="21.1" height="7.0" fill="#df0000"/><rect x="1700.2" y="430.9" width="21.1" height="7.0" fill="#c50000"/><rect x="1720.9" y="430.9" width="21.1" height="7.0" fill="#b40000"/><rect x="1741.7" y="430.9" width="21.1" height="7.0" fill="#a50000"/><rect x="1762.4" y="430.9" width="21.1" height="7.0" fill="#970000"/><rect x="1783.1" y="430.9" width="21.1" height="7.0" fill="#910000"/><rect x="1803.8" y="430.9" width="21.1" height="7.0" fill="#8b0000"/><rect x="1824.6" y="430.9" width="21.1" height="7.0" fill="#850000"/><rect x="1845.3" y="430.9" width="21.1" height="7.0" fill="#840000"/><rect x="1866.0" y="430.9" width="21.1" height="7.0" fill="#830000"/><rect x="1886.7" y="430.9" width="10.8" height="7.0" fill="#810000"/><rect x="1586.2" y="437.5" width="10.8" height="7.0" fill="#ff7f00"/><rect x="1596.6" y="437.5" width="21.1" height="7.0" fill="#ff5800"/><rect x="1617.3" y="437.5" width="21.1" height="7.0" fill="#fb1400"/><rect x="1638.0" y="437.5" width="21.1" height="7.0" fill="#ed0000"/><rect x="1658.7" y="437.5" width="21.1" height="7.0" fill="#d40000"/><rect x="1679.5" y="437.5" width="21.1" height="7.0" fill="#ba0000"/><rect x="1700.2" y="437.5" width="21.1" height="7.0" fill="#a30000"/><rect x="1720.9" y="437.5" width="21.1" height="7.0" fill="#970000"/><rect x="1741.7" y="437.5" width="21.1" height="7.0" fill="#8a0000"/><rect x="1762.4" y="437.5" width="21.1" height="7.0" fill="#7e0000"/><rect x="1783.1" y="437.5" width="21.1" height="7.0" fill="#790000"/><rect x="1803.8" y="437.5" width="21.1" height="7.0" fill="#740000"/><rect x="1824.6" y="437.5" width="21.1" height="7.0" fill="#6f0000"/><rect x="1845.3" y="437.5" width="21.1" height="7.0" fill="#700000"/><rect x="1866.0" y="437.5" width="21.1" height="7.0" fill="#710000"/><rect x="1886.7" y="437.5" width="10.8" height="7.0" fill="#720000"/><rect x="1586.2" y="444.2" width="10.8" height="7.0" fill="#ff6e00"/><rect x="1596.6" y="444.2" width="21.1" height="7.0" fill="#ff4300"/><rect x="1617.3" y="444.2" width="21.1" height="7.0" fill="#f50000"/><rect x="1638.0" y="444.2" width="21.1" height="7.0" fill="#c60000"/><rect x="1658.7" y="444.2" width="21.1" height="7.0" fill="#ae0000"/><rect x="1679.5" y="444.2" width="21.1" height="7.0" fill="#990000"/><rect x="1700.2" y="444.2" width="21.1" height="7.0" fill="#840000"/><rect x="1720.9" y="444.2" width="21.1" height="7.0" fill="#7a0000"/><rect x="1741.7" y="444.2" width="21.1" height="7.0" fill="#700000"/><rect x="1762.4" y="444.2" width="21.1" height="7.0" fill="#660000"/><rect x="1783.1" y="444.2" width="21.1" height="7.0" fill="#610000"/><rect x="1803.8" y="444.2" width="21.1" height="7.0" fill="#5d0000"/><rect x="1824.6" y="444.2" width="21.1" height="7.0" fill="#580000"/><rect x="1845.3" y="444.2" width="21.1" height="7.0" fill="#5c0000"/><rect x="1866.0" y="444.2" width="21.1" height="7.0" fill="#5f0000"/><rect x="1886.7" y="444.2" width="10.8" height="7.0" fill="#620000"/><rect x="1586.2" y="450.8" width="10.8" height="7.0" fill="#ff5d00"/><rect x="1596.6" y="450.8" width="21.1" height="7.0" fill="#ff2e00"/><rect x="1617.3" y="450.8" width="21.1" height="7.0" fill="#c60000"/><rect x="1638.0" y="450.8" width="21.1" height="7.0" fill="#a20000"/><rect x="1658.7" y="450.8" width="21.1" height="7.0" fill="#8d0000"/><rect x="1679.5" y="450.8" width="21.1" height="7.0" fill="#790000"/><rect x="1700.2" y="450.8" width="21.1" height="7.0" fill="#650000"/><rect x="1720.9" y="450.8" width="21.1" height="7.0" fill="#5d0000"/><rect x="1741.7" y="450.8" width="21.1" height="7.0" fill="#550000"/><rect x="1762.4" y="450.8" width="21.1" height="7.0" fill="#4f0000"/><rect x="1783.1" y="450.8" width="21.1" height="7.0" fill="#4d0000"/><rect x="1803.8" y="450.8" width="21.1" height="7.0" fill="#4a0000"/><rect x="1824.6" y="450.8" width="21.1" height="7.0" fill="#470000"/><rect x="1845.3" y="450.8" width="21.1" height="7.0" fill="#4b0000"/><rect x="1866.0" y="450.8" width="21.1" height="7.0" fill="#4f0000"/><rect x="1886.7" y="450.8" width="10.8" height="7.0" fill="#530000"/><rect x="1586.2" y="457.4" width="10.8" height="7.0" fill="#ff4d00"/><rect x="1596.6" y="457.4" width="21.1" height="7.0" fill="#fd1d00"/><rect x="1617.3" y="457.4" width="21.1" height="7.0" fill="#a50000"/><rect x="1638.0" y="457.4" width="21.1" height="7.0" fill="#870000"/><rect x="1658.7" y="457.4" width="21.1" height="7.0" fill="#740000"/><rect x="1679.5" y="457.4" width="21.1" height="7.0" fill="#610000"/><rect x="1700.2" y="457.4" width="21.1" height="7.0" fill="#500000"/><rect x="1720.9" y="457.4" width="21.1" height="7.0" fill="#4c0000"/><rect x="1741.7" y="457.4" width="21.1" height="7.0" fill="#480000"/><rect x="1762.4" y="457.4" width="21.1" height="7.0" fill="#440000"/><rect x="1783.1" y="457.4" width="21.1" height="7.0" fill="#420000"/><rect x="1803.8" y="457.4" width="21.1" height="7.0" fill="#3f0000"/><rect x="1824.6" y="457.4" width="21.1" height="7.0" fill="#3d0000"/><rect x="1845.3" y="457.4" width="21.1" height="7.0" fill="#410000"/><rect x="1866.0" y="457.4" width="21.1" height="7.0" fill="#450000"/><rect x="1886.7" y="457.4" width="10.8" height="7.0" fill="#490000"/><rect x="1586.2" y="464.0" width="10.8" height="3.7" fill="#ff3c00"/><rect x="1596.6" y="464.0" width="21.1" height="3.7" fill="#f90f00"/><rect x="1617.3" y="464.0" width="21.1" height="3.7" fill="#910000"/><rect x="1638.0" y="464.0" width="21.1" height="3.7" fill="#730000"/><rect x="1658.7" y="464.0" width="21.1" height="3.7" fill="#620000"/><rect x="1679.5" y="464.0" width="21.1" height="3.7" fill="#530000"/><rect x="1700.2" y="464.0" width="21.1" height="3.7" fill="#470000"/><rect x="1720.9" y="464.0" width="21.1" height="3.7" fill="#440000"/><rect x="1741.7" y="464.0" width="21.1" height="3.7" fill="#420000"/><rect x="1762.4" y="464.0" width="21.1" height="3.7" fill="#400000"/><rect x="1783.1" y="464.0" width="21.1" height="3.7" fill="#3d0000"/><rect x="1803.8" y="464.0" width="21.1" height="3.7" fill="#3b0000"/><rect x="1824.6" y="464.0" width="21.1" height="3.7" fill="#380000"/><rect x="1845.3" y="464.0" width="21.1" height="3.7" fill="#3b0000"/><rect x="1866.0" y="464.0" width="21.1" height="3.7" fill="#3d0000"/><rect x="1886.7" y="464.0" width="10.8" height="3.7" fill="#400000"/></g>
<g shape-rendering="crispEdges"><rect x="1902.6" y="140.60" width="22.8" height="4.68" fill="#fffff1"/><rect x="1902.6" y="144.68" width="22.8" height="4.68" fill="#ffffea"/><rect x="1902.6" y="148.76" width="22.8" height="4.68" fill="#ffffe3"/><rect x="1902.6" y="152.84" width="22.8" height="4.68" fill="#ffffdc"/><rect x="1902.6" y="156.92" width="22.8" height="4.68" fill="#ffffd5"/><rect x="1902.6" y="161.00" width="22.8" height="4.68" fill="#ffffce"/><rect x="1902.6" y="165.08" width="22.8" height="4.68" fill="#ffffc7"/><rect x="1902.6" y="169.16" width="22.8" height="4.68" fill="#ffffba"/><rect x="1902.6" y="173.24" width="22.8" height="4.68" fill="#ffffae"/><rect x="1902.6" y="177.32" width="22.8" height="4.68" fill="#ffffa1"/><rect x="1902.6" y="181.40" width="22.8" height="4.68" fill="#ffff95"/><rect x="1902.6" y="185.48" width="22.8" height="4.68" fill="#ffff88"/><rect x="1902.6" y="189.56" width="22.8" height="4.68" fill="#ffff7c"/><rect x="1902.6" y="193.64" width="22.8" height="4.68" fill="#ffff6c"/><rect x="1902.6" y="197.72" width="22.8" height="4.68" fill="#ffff5c"/><rect x="1902.6" y="201.80" width="22.8" height="4.68" fill="#ffff4b"/><rect x="1902.6" y="205.88" width="22.8" height="4.68" fill="#ffff3a"/><rect x="1902.6" y="209.96" width="22.8" height="4.68" fill="#ffff2a"/><rect x="1902.6" y="214.04" width="22.8" height="4.68" fill="#ffff19"/><rect x="1902.6" y="218.12" width="22.8" height="4.68" fill="#ffff08"/><rect x="1902.6" y="222.20" width="22.8" height="4.68" fill="#fffc00"/><rect x="1902.6" y="226.28" width="22.8" height="4.68" fill="#fff600"/><rect x="1902.6" y="230.36" width="22.8" height="4.68" fill="#ffef00"/><rect x="1902.6" y="234.44" width="22.8" height="4.68" fill="#ffe900"/><rect x="1902.6" y="238.52" width="22.8" height="4.68" fill="#ffe300"/><rect x="1902.6" y="242.60" width="22.8" height="4.68" fill="#ffdd00"/><rect x="1902.6" y="246.68" width="22.8" height="4.68" fill="#ffd600"/><rect x="1902.6" y="250.76" width="22.8" height="4.68" fill="#ffd000"/><rect x="1902.6" y="254.84" width="22.8" height="4.68" fill="#ffca00"/><rect x="1902.6" y="258.92" width="22.8" height="4.68" fill="#ffc500"/><rect x="1902.6" y="263.00" width="22.8" height="4.68" fill="#ffbf00"/><rect x="1902.6" y="267.08" width="22.8" height="4.68" fill="#ffba00"/><rect x="1902.6" y="271.16" width="22.8" height="4.68" fill="#ffb400"/><rect x="1902.6" y="275.24" width="22.8" height="4.68" fill="#ffae00"/><rect x="1902.6" y="279.32" width="22.8" height="4.68" fill="#ffa900"/><rect x="1902.6" y="283.40" width="22.8" height="4.68" fill="#ffa300"/><rect x="1902.6" y="287.48" width="22.8" height="4.68" fill="#ff9e00"/><rect x="1902.6" y="291.56" width="22.8" height="4.68" fill="#ff9800"/><rect x="1902.6" y="295.64" width="22.8" height="4.68" fill="#ff9300"/><rect x="1902.6" y="299.72" width="22.8" height="4.68" fill="#ff8d00"/><rect x="1902.6" y="303.80" width="22.8" height="4.68" fill="#ff8800"/><rect x="1902.6" y="307.88" width="22.8" height="4.68" fill="#ff8200"/><rect x="1902.6" y="311.96" width="22.8" height="4.68" fill="#ff7c00"/><rect x="1902.6" y="316.04" width="22.8" height="4.68" fill="#ff7700"/><rect x="1902.6" y="320.12" width="22.8" height="4.68" fill="#ff7100"/><rect x="1902.6" y="324.20" width="22.8" height="4.68" fill="#ff6c00"/><rect x="1902.6" y="328.28" width="22.8" height="4.68" fill="#ff6600"/><rect x="1902.6" y="332.36" width="22.8" height="4.68" fill="#ff6100"/><rect x="1902.6" y="336.44" width="22.8" height="4.68" fill="#ff5b00"/><rect x="1902.6" y="340.52" width="22.8" height="4.68" fill="#ff5600"/><rect x="1902.6" y="344.60" width="22.8" height="4.68" fill="#ff4f00"/><rect x="1902.6" y="348.68" width="22.8" height="4.68" fill="#ff4900"/><rect x="1902.6" y="352.76" width="22.8" height="4.68" fill="#ff4300"/><rect x="1902.6" y="356.84" width="22.8" height="4.68" fill="#ff3d00"/><rect x="1902.6" y="360.92" width="22.8" height="4.68" fill="#ff3600"/><rect x="1902.6" y="365.00" width="22.8" height="4.68" fill="#ff3000"/><rect x="1902.6" y="369.08" width="22.8" height="4.68" fill="#ff2a00"/><rect x="1902.6" y="373.16" width="22.8" height="4.68" fill="#ff2400"/><rect x="1902.6" y="377.24" width="22.8" height="4.68" fill="#fd1d00"/><rect x="1902.6" y="381.32" width="22.8" height="4.68" fill="#fc1700"/><rect x="1902.6" y="385.40" width="22.8" height="4.68" fill="#fa1100"/><rect x="1902.6" y="389.48" width="22.8" height="4.68" fill="#f80b00"/><rect x="1902.6" y="393.56" width="22.8" height="4.68" fill="#f60400"/><rect x="1902.6" y="397.64" width="22.8" height="4.68" fill="#f10000"/><rect x="1902.6" y="401.72" width="22.8" height="4.68" fill="#e20000"/><rect x="1902.6" y="405.80" width="22.8" height="4.68" fill="#d30000"/><rect x="1902.6" y="409.88" width="22.8" height="4.68" fill="#c50000"/><rect x="1902.6" y="413.96" width="22.8" height="4.68" fill="#b60000"/><rect x="1902.6" y="418.04" width="22.8" height="4.68" fill="#a90000"/><rect x="1902.6" y="422.12" width="22.8" height="4.68" fill="#9c0000"/><rect x="1902.6" y="426.20" width="22.8" height="4.68" fill="#900000"/><rect x="1902.6" y="430.28" width="22.8" height="4.68" fill="#830000"/><rect x="1902.6" y="434.36" width="22.8" height="4.68" fill="#770000"/><rect x="1902.6" y="438.44" width="22.8" height="4.68" fill="#6a0000"/><rect x="1902.6" y="442.52" width="22.8" height="4.68" fill="#5e0000"/><rect x="1902.6" y="446.60" width="22.8" height="4.68" fill="#520000"/><rect x="1902.6" y="450.68" width="22.8" height="4.68" fill="#490000"/><rect x="1902.6" y="454.76" width="22.8" height="4.68" fill="#400000"/><rect x="1902.6" y="458.84" width="22.8" height="4.68" fill="#370000"/><rect x="1902.6" y="462.92" width="22.8" height="4.08" fill="#2e0000"/></g>
<text x="1933.0" y="158.8" font-size="31.5" transform="matrix(1 0 0 1.040 0 -6.35)">35.4</text>
<text x="1933.0" y="219.9" font-size="31.5" transform="matrix(1 0 0 1.040 0 -8.80)">28.8</text>
<text x="1933.0" y="281.0" font-size="31.5" transform="matrix(1 0 0 1.040 0 -11.24)">22.3</text>
<text x="1933.0" y="342.1" font-size="31.5" transform="matrix(1 0 0 1.040 0 -13.68)">15.7</text>
<text x="1933.0" y="403.2" font-size="31.5" transform="matrix(1 0 0 1.040 0 -16.13)">9.20</text>
<text x="1933.0" y="464.3" font-size="31.5" transform="matrix(1 0 0 1.040 0 -18.57)">2.60</text>
<g shape-rendering="crispEdges"><rect x="89.9" y="712.3" width="10.7" height="3.7" fill="#ff2300"/><rect x="100.2" y="712.3" width="21.1" height="3.7" fill="#fb1400"/><rect x="120.9" y="712.3" width="21.1" height="3.7" fill="#f90f00"/><rect x="141.6" y="712.3" width="21.1" height="3.7" fill="#f80a00"/><rect x="162.2" y="712.3" width="21.1" height="3.7" fill="#f80a00"/><rect x="182.9" y="712.3" width="21.1" height="3.7" fill="#f80a00"/><rect x="203.6" y="712.3" width="21.1" height="3.7" fill="#f80a00"/><rect x="224.2" y="712.3" width="21.1" height="3.7" fill="#f80a00"/><rect x="244.9" y="712.3" width="21.1" height="3.7" fill="#f70800"/><rect x="265.6" y="712.3" width="21.1" height="3.7" fill="#f60500"/><rect x="286.2" y="712.3" width="21.1" height="3.7" fill="#f60500"/><rect x="306.9" y="712.3" width="21.1" height="3.7" fill="#f60500"/><rect x="327.6" y="712.3" width="21.1" height="3.7" fill="#f60500"/><rect x="348.2" y="712.3" width="21.1" height="3.7" fill="#f60500"/><rect x="368.9" y="712.3" width="21.1" height="3.7" fill="#f60500"/><rect x="389.6" y="712.3" width="10.7" height="3.7" fill="#f60500"/><rect x="89.9" y="715.6" width="10.7" height="7.0" fill="#ff2b00"/><rect x="100.2" y="715.6" width="21.1" height="7.0" fill="#fe1e00"/><rect x="120.9" y="715.6" width="21.1" height="7.0" fill="#fc1900"/><rect x="141.6" y="715.6" width="21.1" height="7.0" fill="#fb1400"/><rect x="162.2" y="715.6" width="21.1" height="7.0" fill="#fa1300"/><rect x="182.9" y="715.6" width="21.1" height="7.0" fill="#fa1200"/><rect x="203.6" y="715.6" width="21.1" height="7.0" fill="#fa1200"/><rect x="224.2" y="715.6" width="21.1" height="7.0" fill="#fa1200"/><rect x="244.9" y="715.6" width="21.1" height="7.0" fill="#f90f00"/><rect x="265.6" y="715.6" width="21.1" height="7.0" fill="#f80c00"/><rect x="286.2" y="715.6" width="21.1" height="7.0" fill="#f80b00"/><rect x="306.9" y="715.6" width="21.1" height="7.0" fill="#f80a00"/><rect x="327.6" y="715.6" width="21.1" height="7.0" fill="#f80a00"/><rect x="348.2" y="715.6" width="21.1" height="7.0" fill="#f80900"/><rect x="368.9" y="715.6" width="21.1" height="7.0" fill="#f70800"/><rect x="389.6" y="715.6" width="10.7" height="7.0" fill="#f70700"/><rect x="89.9" y="722.3" width="10.7" height="7.0" fill="#ff3300"/><rect x="100.2" y="722.3" width="21.1" height="7.0" fill="#ff2900"/><rect x="120.9" y="722.3" width="21.1" height="7.0" fill="#ff2300"/><rect x="141.6" y="722.3" width="21.1" height="7.0" fill="#fe1e00"/><rect x="162.2" y="722.3" width="21.1" height="7.0" fill="#fd1c00"/><rect x="182.9" y="722.3" width="21.1" height="7.0" fill="#fc1a00"/><rect x="203.6" y="722.3" width="21.1" height="7.0" fill="#fc1a00"/><rect x="224.2" y="722.3" width="21.1" height="7.0" fill="#fc1a00"/><rect x="244.9" y="722.3" width="21.1" height="7.0" fill="#fb1600"/><rect x="265.6" y="722.3" width="21.1" height="7.0" fill="#fa1300"/><rect x="286.2" y="722.3" width="21.1" height="7.0" fill="#fa1100"/><rect x="306.9" y="722.3" width="21.1" height="7.0" fill="#f91000"/><rect x="327.6" y="722.3" width="21.1" height="7.0" fill="#f90e00"/><rect x="348.2" y="722.3" width="21.1" height="7.0" fill="#f90d00"/><rect x="368.9" y="722.3" width="21.1" height="7.0" fill="#f80b00"/><rect x="389.6" y="722.3" width="10.7" height="7.0" fill="#f80a00"/><rect x="89.9" y="728.9" width="10.7" height="7.0" fill="#ff3b00"/><rect x="100.2" y="728.9" width="21.1" height="7.0" fill="#ff3300"/><rect x="120.9" y="728.9" width="21.1" height="7.0" fill="#ff2e00"/><rect x="141.6" y="728.9" width="21.1" height="7.0" fill="#ff2900"/><rect x="162.2" y="728.9" width="21.1" height="7.0" fill="#ff2500"/><rect x="182.9" y="728.9" width="21.1" height="7.0" fill="#ff2200"/><rect x="203.6" y="728.9" width="21.1" height="7.0" fill="#ff2200"/><rect x="224.2" y="728.9" width="21.1" height="7.0" fill="#ff2200"/><rect x="244.9" y="728.9" width="21.1" height="7.0" fill="#fe1e00"/><rect x="265.6" y="728.9" width="21.1" height="7.0" fill="#fc1900"/><rect x="286.2" y="728.9" width="21.1" height="7.0" fill="#fc1700"/><rect x="306.9" y="728.9" width="21.1" height="7.0" fill="#fb1500"/><rect x="327.6" y="728.9" width="21.1" height="7.0" fill="#fa1300"/><rect x="348.2" y="728.9" width="21.1" height="7.0" fill="#fa1000"/><rect x="368.9" y="728.9" width="21.1" height="7.0" fill="#f90e00"/><rect x="389.6" y="728.9" width="10.7" height="7.0" fill="#f80c00"/><rect x="89.9" y="735.5" width="10.7" height="7.0" fill="#ff4300"/><rect x="100.2" y="735.5" width="21.1" height="7.0" fill="#ff3d00"/><rect x="120.9" y="735.5" width="21.1" height="7.0" fill="#ff3800"/><rect x="141.6" y="735.5" width="21.1" height="7.0" fill="#ff3300"/><rect x="162.2" y="735.5" width="21.1" height="7.0" fill="#ff2e00"/><rect x="182.9" y="735.5" width="21.1" height="7.0" fill="#ff2a00"/><rect x="203.6" y="735.5" width="21.1" height="7.0" fill="#ff2a00"/><rect x="224.2" y="735.5" width="21.1" height="7.0" fill="#ff2a00"/><rect x="244.9" y="735.5" width="21.1" height="7.0" fill="#ff2500"/><rect x="265.6" y="735.5" width="21.1" height="7.0" fill="#fe2000"/><rect x="286.2" y="735.5" width="21.1" height="7.0" fill="#fd1d00"/><rect x="306.9" y="735.5" width="21.1" height="7.0" fill="#fc1a00"/><rect x="327.6" y="735.5" width="21.1" height="7.0" fill="#fc1700"/><rect x="348.2" y="735.5" width="21.1" height="7.0" fill="#fb1400"/><rect x="368.9" y="735.5" width="21.1" height="7.0" fill="#fa1100"/><rect x="389.6" y="735.5" width="10.7" height="7.0" fill="#f90e00"/><rect x="89.9" y="742.2" width="10.7" height="7.0" fill="#ff5000"/><rect x="100.2" y="742.2" width="21.1" height="7.0" fill="#ff4d00"/><rect x="120.9" y="742.2" width="21.1" height="7.0" fill="#ff4700"/><rect x="141.6" y="742.2" width="21.1" height="7.0" fill="#ff4100"/><rect x="162.2" y="742.2" width="21.1" height="7.0" fill="#ff3b00"/><rect x="182.9" y="742.2" width="21.1" height="7.0" fill="#ff3500"/><rect x="203.6" y="742.2" width="21.1" height="7.0" fill="#ff3500"/><rect x="224.2" y="742.2" width="21.1" height="7.0" fill="#ff3500"/><rect x="244.9" y="742.2" width="21.1" height="7.0" fill="#ff3000"/><rect x="265.6" y="742.2" width="21.1" height="7.0" fill="#ff2a00"/><rect x="286.2" y="742.2" width="21.1" height="7.0" fill="#ff2600"/><rect x="306.9" y="742.2" width="21.1" height="7.0" fill="#ff2100"/><rect x="327.6" y="742.2" width="21.1" height="7.0" fill="#fd1d00"/><rect x="348.2" y="742.2" width="21.1" height="7.0" fill="#fc1900"/><rect x="368.9" y="742.2" width="21.1" height="7.0" fill="#fb1500"/><rect x="389.6" y="742.2" width="10.7" height="7.0" fill="#fa1000"/><rect x="89.9" y="748.8" width="10.7" height="7.0" fill="#ff6000"/><rect x="100.2" y="748.8" width="21.1" height="7.0" fill="#ff6000"/><rect x="120.9" y="748.8" width="21.1" height="7.0" fill="#ff5900"/><rect x="141.6" y="748.8" width="21.1" height="7.0" fill="#ff5200"/><rect x="162.2" y="748.8" width="21.1" height="7.0" fill="#ff4a00"/><rect x="182.9" y="748.8" width="21.1" height="7.0" fill="#ff4300"/><rect x="203.6" y="748.8" width="21.1" height="7.0" fill="#ff4300"/><rect x="224.2" y="748.8" width="21.1" height="7.0" fill="#ff4300"/><rect x="244.9" y="748.8" width="21.1" height="7.0" fill="#ff3c00"/><rect x="265.6" y="748.8" width="21.1" height="7.0" fill="#ff3500"/><rect x="286.2" y="748.8" width="21.1" height="7.0" fill="#ff2f00"/><rect x="306.9" y="748.8" width="21.1" height="7.0" fill="#ff2a00"/><rect x="327.6" y="748.8" width="21.1" height="7.0" fill="#ff2400"/><rect x="348.2" y="748.8" width="21.1" height="7.0" fill="#fe1e00"/><rect x="368.9" y="748.8" width="21.1" height="7.0" fill="#fc1800"/><rect x="389.6" y="748.8" width="10.7" height="7.0" fill="#fa1300"/><rect x="89.9" y="755.4" width="10.7" height="7.0" fill="#ff6f00"/><rect x="100.2" y="755.4" width="21.1" height="7.0" fill="#ff7200"/><rect x="120.9" y="755.4" width="21.1" height="7.0" fill="#ff6900"/><rect x="141.6" y="755.4" width="21.1" height="7.0" fill="#ff6200"/><rect x="162.2" y="755.4" width="21.1" height="7.0" fill="#ff5900"/><rect x="182.9" y="755.4" width="21.1" height="7.0" fill="#ff5000"/><rect x="203.6" y="755.4" width="21.1" height="7.0" fill="#ff5000"/><rect x="224.2" y="755.4" width="21.1" height="7.0" fill="#ff5000"/><rect x="244.9" y="755.4" width="21.1" height="7.0" fill="#ff4900"/><rect x="265.6" y="755.4" width="21.1" height="7.0" fill="#ff4100"/><rect x="286.2" y="755.4" width="21.1" height="7.0" fill="#ff3900"/><rect x="306.9" y="755.4" width="21.1" height="7.0" fill="#ff3200"/><rect x="327.6" y="755.4" width="21.1" height="7.0" fill="#ff2b00"/><rect x="348.2" y="755.4" width="21.1" height="7.0" fill="#ff2300"/><rect x="368.9" y="755.4" width="21.1" height="7.0" fill="#fd1c00"/><rect x="389.6" y="755.4" width="10.7" height="7.0" fill="#fb1500"/><rect x="89.9" y="762.1" width="10.7" height="7.0" fill="#ff7e00"/><rect x="100.2" y="762.1" width="21.1" height="7.0" fill="#ff8500"/><rect x="120.9" y="762.1" width="21.1" height="7.0" fill="#ff7900"/><rect x="141.6" y="762.1" width="21.1" height="7.0" fill="#ff7100"/><rect x="162.2" y="762.1" width="21.1" height="7.0" fill="#ff6700"/><rect x="182.9" y="762.1" width="21.1" height="7.0" fill="#ff5d00"/><rect x="203.6" y="762.1" width="21.1" height="7.0" fill="#ff5d00"/><rect x="224.2" y="762.1" width="21.1" height="7.0" fill="#ff5d00"/><rect x="244.9" y="762.1" width="21.1" height="7.0" fill="#ff5500"/><rect x="265.6" y="762.1" width="21.1" height="7.0" fill="#ff4c00"/><rect x="286.2" y="762.1" width="21.1" height="7.0" fill="#ff4300"/><rect x="306.9" y="762.1" width="21.1" height="7.0" fill="#ff3a00"/><rect x="327.6" y="762.1" width="21.1" height="7.0" fill="#ff3200"/><rect x="348.2" y="762.1" width="21.1" height="7.0" fill="#ff2900"/><rect x="368.9" y="762.1" width="21.1" height="7.0" fill="#fe2000"/><rect x="389.6" y="762.1" width="10.7" height="7.0" fill="#fc1700"/><rect x="89.9" y="768.7" width="10.7" height="7.0" fill="#ff9100"/><rect x="100.2" y="768.7" width="21.1" height="7.0" fill="#ff9900"/><rect x="120.9" y="768.7" width="21.1" height="7.0" fill="#ff8b00"/><rect x="141.6" y="768.7" width="21.1" height="7.0" fill="#ff8100"/><rect x="162.2" y="768.7" width="21.1" height="7.0" fill="#ff7500"/><rect x="182.9" y="768.7" width="21.1" height="7.0" fill="#ff6900"/><rect x="203.6" y="768.7" width="21.1" height="7.0" fill="#ff6800"/><rect x="224.2" y="768.7" width="21.1" height="7.0" fill="#ff6800"/><rect x="244.9" y="768.7" width="21.1" height="7.0" fill="#ff5f00"/><rect x="265.6" y="768.7" width="21.1" height="7.0" fill="#ff5600"/><rect x="286.2" y="768.7" width="21.1" height="7.0" fill="#ff4c00"/><rect x="306.9" y="768.7" width="21.1" height="7.0" fill="#ff4200"/><rect x="327.6" y="768.7" width="21.1" height="7.0" fill="#ff3800"/><rect x="348.2" y="768.7" width="21.1" height="7.0" fill="#ff2d00"/><rect x="368.9" y="768.7" width="21.1" height="7.0" fill="#ff2300"/><rect x="389.6" y="768.7" width="10.7" height="7.0" fill="#fc1900"/><rect x="89.9" y="775.3" width="10.7" height="7.0" fill="#ffb000"/><rect x="100.2" y="775.3" width="21.1" height="7.0" fill="#ffb800"/><rect x="120.9" y="775.3" width="21.1" height="7.0" fill="#ffa300"/><rect x="141.6" y="775.3" width="21.1" height="7.0" fill="#ff9500"/><rect x="162.2" y="775.3" width="21.1" height="7.0" fill="#ff8400"/><rect x="182.9" y="775.3" width="21.1" height="7.0" fill="#ff7300"/><rect x="203.6" y="775.3" width="21.1" height="7.0" fill="#ff7000"/><rect x="224.2" y="775.3" width="21.1" height="7.0" fill="#ff6d00"/><rect x="244.9" y="775.3" width="21.1" height="7.0" fill="#ff6400"/><rect x="265.6" y="775.3" width="21.1" height="7.0" fill="#ff5b00"/><rect x="286.2" y="775.3" width="21.1" height="7.0" fill="#ff5100"/><rect x="306.9" y="775.3" width="21.1" height="7.0" fill="#ff4600"/><rect x="327.6" y="775.3" width="21.1" height="7.0" fill="#ff3a00"/><rect x="348.2" y="775.3" width="21.1" height="7.0" fill="#ff3000"/><rect x="368.9" y="775.3" width="21.1" height="7.0" fill="#ff2500"/><rect x="389.6" y="775.3" width="10.7" height="7.0" fill="#fd1b00"/><rect x="89.9" y="782.0" width="10.7" height="7.0" fill="#ffd100"/><rect x="100.2" y="782.0" width="21.1" height="7.0" fill="#ffd700"/><rect x="120.9" y="782.0" width="21.1" height="7.0" fill="#ffbb00"/><rect x="141.6" y="782.0" width="21.1" height="7.0" fill="#ffaa00"/><rect x="162.2" y="782.0" width="21.1" height="7.0" fill="#ff9300"/><rect x="182.9" y="782.0" width="21.1" height="7.0" fill="#ff7d00"/><rect x="203.6" y="782.0" width="21.1" height="7.0" fill="#ff7800"/><rect x="224.2" y="782.0" width="21.1" height="7.0" fill="#ff7200"/><rect x="244.9" y="782.0" width="21.1" height="7.0" fill="#ff6900"/><rect x="265.6" y="782.0" width="21.1" height="7.0" fill="#ff6000"/><rect x="286.2" y="782.0" width="21.1" height="7.0" fill="#ff5500"/><rect x="306.9" y="782.0" width="21.1" height="7.0" fill="#ff4900"/><rect x="327.6" y="782.0" width="21.1" height="7.0" fill="#ff3d00"/><rect x="348.2" y="782.0" width="21.1" height="7.0" fill="#ff3200"/><rect x="368.9" y="782.0" width="21.1" height="7.0" fill="#ff2700"/><rect x="389.6" y="782.0" width="10.7" height="7.0" fill="#fd1c00"/><rect x="89.9" y="788.6" width="10.7" height="7.0" fill="#fff400"/><rect x="100.2" y="788.6" width="21.1" height="7.0" fill="#fffa00"/><rect x="120.9" y="788.6" width="21.1" height="7.0" fill="#ffd400"/><rect x="141.6" y="788.6" width="21.1" height="7.0" fill="#ffbe00"/><rect x="162.2" y="788.6" width="21.1" height="7.0" fill="#ffa200"/><rect x="182.9" y="788.6" width="21.1" height="7.0" fill="#ff8700"/><rect x="203.6" y="788.6" width="21.1" height="7.0" fill="#ff7f00"/><rect x="224.2" y="788.6" width="21.1" height="7.0" fill="#ff7700"/><rect x="244.9" y="788.6" width="21.1" height="7.0" fill="#ff6e00"/><rect x="265.6" y="788.6" width="21.1" height="7.0" fill="#ff6500"/><rect x="286.2" y="788.6" width="21.1" height="7.0" fill="#ff5a00"/><rect x="306.9" y="788.6" width="21.1" height="7.0" fill="#ff4d00"/><rect x="327.6" y="788.6" width="21.1" height="7.0" fill="#ff4000"/><rect x="348.2" y="788.6" width="21.1" height="7.0" fill="#ff3500"/><rect x="368.9" y="788.6" width="21.1" height="7.0" fill="#ff2900"/><rect x="389.6" y="788.6" width="10.7" height="7.0" fill="#fd1e00"/><rect x="89.9" y="795.2" width="10.7" height="7.0" fill="#ffff1e"/><rect x="100.2" y="795.2" width="21.1" height="7.0" fill="#ffff28"/><rect x="120.9" y="795.2" width="21.1" height="7.0" fill="#ffe800"/><rect x="141.6" y="795.2" width="21.1" height="7.0" fill="#ffd100"/><rect x="162.2" y="795.2" width="21.1" height="7.0" fill="#ffaf00"/><rect x="182.9" y="795.2" width="21.1" height="7.0" fill="#ff9000"/><rect x="203.6" y="795.2" width="21.1" height="7.0" fill="#ff8400"/><rect x="224.2" y="795.2" width="21.1" height="7.0" fill="#ff7900"/><rect x="244.9" y="795.2" width="21.1" height="7.0" fill="#ff7000"/><rect x="265.6" y="795.2" width="21.1" height="7.0" fill="#ff6700"/><rect x="286.2" y="795.2" width="21.1" height="7.0" fill="#ff5b00"/><rect x="306.9" y="795.2" width="21.1" height="7.0" fill="#ff4e00"/><rect x="327.6" y="795.2" width="21.1" height="7.0" fill="#ff4000"/><rect x="348.2" y="795.2" width="21.1" height="7.0" fill="#ff3400"/><rect x="368.9" y="795.2" width="21.1" height="7.0" fill="#ff2900"/><rect x="389.6" y="795.2" width="10.7" height="7.0" fill="#fd1d00"/><rect x="89.9" y="801.9" width="10.7" height="7.0" fill="#ffff49"/><rect x="100.2" y="801.9" width="21.1" height="7.0" fill="#ffff4f"/><rect x="120.9" y="801.9" width="21.1" height="7.0" fill="#fffa00"/><rect x="141.6" y="801.9" width="21.1" height="7.0" fill="#ffe400"/><rect x="162.2" y="801.9" width="21.1" height="7.0" fill="#ffbc00"/><rect x="182.9" y="801.9" width="21.1" height="7.0" fill="#ff9800"/><rect x="203.6" y="801.9" width="21.1" height="7.0" fill="#ff8900"/><rect x="224.2" y="801.9" width="21.1" height="7.0" fill="#ff7900"/><rect x="244.9" y="801.9" width="21.1" height="7.0" fill="#ff7000"/><rect x="265.6" y="801.9" width="21.1" height="7.0" fill="#ff6700"/><rect x="286.2" y="801.9" width="21.1" height="7.0" fill="#ff5a00"/><rect x="306.9" y="801.9" width="21.1" height="7.0" fill="#ff4d00"/><rect x="327.6" y="801.9" width="21.1" height="7.0" fill="#ff3e00"/><rect x="348.2" y="801.9" width="21.1" height="7.0" fill="#ff3300"/><rect x="368.9" y="801.9" width="21.1" height="7.0" fill="#ff2700"/><rect x="389.6" y="801.9" width="10.7" height="7.0" fill="#fd1b00"/><rect x="89.9" y="808.5" width="10.7" height="7.0" fill="#ffff74"/><rect x="100.2" y="808.5" width="21.1" height="7.0" fill="#ffff76"/><rect x="120.9" y="808.5" width="21.1" height="7.0" fill="#ffff22"/><rect x="141.6" y="808.5" width="21.1" height="7.0" fill="#fff700"/><rect x="162.2" y="808.5" width="21.1" height="7.0" fill="#ffc900"/><rect x="182.9" y="808.5" width="21.1" height="7.0" fill="#ffa100"/><rect x="203.6" y="808.5" width="21.1" height="7.0" fill="#ff8d00"/><rect x="224.2" y="808.5" width="21.1" height="7.0" fill="#ff7a00"/><rect x="244.9" y="808.5" width="21.1" height="7.0" fill="#ff7000"/><rect x="265.6" y="808.5" width="21.1" height="7.0" fill="#ff6700"/><rect x="286.2" y="808.5" width="21.1" height="7.0" fill="#ff5a00"/><rect x="306.9" y="808.5" width="21.1" height="7.0" fill="#ff4b00"/><rect x="327.6" y="808.5" width="21.1" height="7.0" fill="#ff3d00"/><rect x="348.2" y="808.5" width="21.1" height="7.0" fill="#ff3100"/><rect x="368.9" y="808.5" width="21.1" height="7.0" fill="#ff2500"/><rect x="389.6" y="808.5" width="10.7" height="7.0" fill="#fc1a00"/><rect x="89.9" y="815.1" width="10.7" height="7.0" fill="#ffff93"/><rect x="100.2" y="815.1" width="21.1" height="7.0" fill="#ffff89"/><rect x="120.9" y="815.1" width="21.1" height="7.0" fill="#ffff3a"/><rect x="141.6" y="815.1" width="21.1" height="7.0" fill="#ffff04"/><rect x="162.2" y="815.1" width="21.1" height="7.0" fill="#ffd000"/><rect x="182.9" y="815.1" width="21.1" height="7.0" fill="#ffa500"/><rect x="203.6" y="815.1" width="21.1" height="7.0" fill="#ff8e00"/><rect x="224.2" y="815.1" width="21.1" height="7.0" fill="#ff7800"/><rect x="244.9" y="815.1" width="21.1" height="7.0" fill="#ff6e00"/><rect x="265.6" y="815.1" width="21.1" height="7.0" fill="#ff6400"/><rect x="286.2" y="815.1" width="21.1" height="7.0" fill="#ff5600"/><rect x="306.9" y="815.1" width="21.1" height="7.0" fill="#ff4800"/><rect x="327.6" y="815.1" width="21.1" height="7.0" fill="#ff3900"/><rect x="348.2" y="815.1" width="21.1" height="7.0" fill="#ff2e00"/><rect x="368.9" y="815.1" width="21.1" height="7.0" fill="#ff2200"/><rect x="389.6" y="815.1" width="10.7" height="7.0" fill="#fc1700"/><rect x="89.9" y="821.8" width="10.7" height="7.0" fill="#ffffae"/><rect x="100.2" y="821.8" width="21.1" height="7.0" fill="#ffff94"/><rect x="120.9" y="821.8" width="21.1" height="7.0" fill="#ffff41"/><rect x="141.6" y="821.8" width="21.1" height="7.0" fill="#ffff0c"/><rect x="162.2" y="821.8" width="21.1" height="7.0" fill="#ffd200"/><rect x="182.9" y="821.8" width="21.1" height="7.0" fill="#ffa600"/><rect x="203.6" y="821.8" width="21.1" height="7.0" fill="#ff8e00"/><rect x="224.2" y="821.8" width="21.1" height="7.0" fill="#ff7600"/><rect x="244.9" y="821.8" width="21.1" height="7.0" fill="#ff6a00"/><rect x="265.6" y="821.8" width="21.1" height="7.0" fill="#ff5f00"/><rect x="286.2" y="821.8" width="21.1" height="7.0" fill="#ff5100"/><rect x="306.9" y="821.8" width="21.1" height="7.0" fill="#ff4200"/><rect x="327.6" y="821.8" width="21.1" height="7.0" fill="#ff3300"/><rect x="348.2" y="821.8" width="21.1" height="7.0" fill="#ff2900"/><rect x="368.9" y="821.8" width="21.1" height="7.0" fill="#fe1f00"/><rect x="389.6" y="821.8" width="10.7" height="7.0" fill="#fb1500"/><rect x="89.9" y="828.4" width="10.7" height="7.0" fill="#ffffc9"/><rect x="100.2" y="828.4" width="21.1" height="7.0" fill="#ffff9f"/><rect x="120.9" y="828.4" width="21.1" height="7.0" fill="#ffff48"/><rect x="141.6" y="828.4" width="21.1" height="7.0" fill="#ffff13"/><rect x="162.2" y="828.4" width="21.1" height="7.0" fill="#ffd400"/><rect x="182.9" y="828.4" width="21.1" height="7.0" fill="#ffa700"/><rect x="203.6" y="828.4" width="21.1" height="7.0" fill="#ff8d00"/><rect x="224.2" y="828.4" width="21.1" height="7.0" fill="#ff7300"/><rect x="244.9" y="828.4" width="21.1" height="7.0" fill="#ff6600"/><rect x="265.6" y="828.4" width="21.1" height="7.0" fill="#ff5a00"/><rect x="286.2" y="828.4" width="21.1" height="7.0" fill="#ff4c00"/><rect x="306.9" y="828.4" width="21.1" height="7.0" fill="#ff3d00"/><rect x="327.6" y="828.4" width="21.1" height="7.0" fill="#ff2e00"/><rect x="348.2" y="828.4" width="21.1" height="7.0" fill="#ff2400"/><rect x="368.9" y="828.4" width="21.1" height="7.0" fill="#fd1b00"/><rect x="389.6" y="828.4" width="10.7" height="7.0" fill="#fa1200"/><rect x="89.9" y="835.0" width="10.7" height="7.0" fill="#ffffd9"/><rect x="100.2" y="835.0" width="21.1" height="7.0" fill="#ffffaa"/><rect x="120.9" y="835.0" width="21.1" height="7.0" fill="#ffff50"/><rect x="141.6" y="835.0" width="21.1" height="7.0" fill="#ffff1b"/><rect x="162.2" y="835.0" width="21.1" height="7.0" fill="#ffd600"/><rect x="182.9" y="835.0" width="21.1" height="7.0" fill="#ffa800"/><rect x="203.6" y="835.0" width="21.1" height="7.0" fill="#ff8d00"/><rect x="224.2" y="835.0" width="21.1" height="7.0" fill="#ff7100"/><rect x="244.9" y="835.0" width="21.1" height="7.0" fill="#ff6300"/><rect x="265.6" y="835.0" width="21.1" height="7.0" fill="#ff5500"/><rect x="286.2" y="835.0" width="21.1" height="7.0" fill="#ff4600"/><rect x="306.9" y="835.0" width="21.1" height="7.0" fill="#ff3700"/><rect x="327.6" y="835.0" width="21.1" height="7.0" fill="#ff2800"/><rect x="348.2" y="835.0" width="21.1" height="7.0" fill="#fe2000"/><rect x="368.9" y="835.0" width="21.1" height="7.0" fill="#fc1700"/><rect x="389.6" y="835.0" width="10.7" height="7.0" fill="#f90f00"/><rect x="89.9" y="841.7" width="10.7" height="7.0" fill="#ffffe2"/><rect x="100.2" y="841.7" width="21.1" height="7.0" fill="#ffffaa"/><rect x="120.9" y="841.7" width="21.1" height="7.0" fill="#ffff47"/><rect x="141.6" y="841.7" width="21.1" height="7.0" fill="#ffff0d"/><rect x="162.2" y="841.7" width="21.1" height="7.0" fill="#ffd200"/><rect x="182.9" y="841.7" width="21.1" height="7.0" fill="#ffa500"/><rect x="203.6" y="841.7" width="21.1" height="7.0" fill="#ff8900"/><rect x="224.2" y="841.7" width="21.1" height="7.0" fill="#ff6d00"/><rect x="244.9" y="841.7" width="21.1" height="7.0" fill="#ff5e00"/><rect x="265.6" y="841.7" width="21.1" height="7.0" fill="#ff4e00"/><rect x="286.2" y="841.7" width="21.1" height="7.0" fill="#ff4000"/><rect x="306.9" y="841.7" width="21.1" height="7.0" fill="#ff3100"/><rect x="327.6" y="841.7" width="21.1" height="7.0" fill="#ff2300"/><rect x="348.2" y="841.7" width="21.1" height="7.0" fill="#fd1b00"/><rect x="368.9" y="841.7" width="21.1" height="7.0" fill="#fa1200"/><rect x="389.6" y="841.7" width="10.7" height="7.0" fill="#f80a00"/><rect x="89.9" y="848.3" width="10.7" height="7.0" fill="#ffffec"/><rect x="100.2" y="848.3" width="21.1" height="7.0" fill="#ffffaa"/><rect x="120.9" y="848.3" width="21.1" height="7.0" fill="#ffff3e"/><rect x="141.6" y="848.3" width="21.1" height="7.0" fill="#ffff00"/><rect x="162.2" y="848.3" width="21.1" height="7.0" fill="#ffcd00"/><rect x="182.9" y="848.3" width="21.1" height="7.0" fill="#ffa200"/><rect x="203.6" y="848.3" width="21.1" height="7.0" fill="#ff8500"/><rect x="224.2" y="848.3" width="21.1" height="7.0" fill="#ff6800"/><rect x="244.9" y="848.3" width="21.1" height="7.0" fill="#ff5800"/><rect x="265.6" y="848.3" width="21.1" height="7.0" fill="#ff4800"/><rect x="286.2" y="848.3" width="21.1" height="7.0" fill="#ff3a00"/><rect x="306.9" y="848.3" width="21.1" height="7.0" fill="#ff2c00"/><rect x="327.6" y="848.3" width="21.1" height="7.0" fill="#fe1e00"/><rect x="348.2" y="848.3" width="21.1" height="7.0" fill="#fb1600"/><rect x="368.9" y="848.3" width="21.1" height="7.0" fill="#f90d00"/><rect x="389.6" y="848.3" width="10.7" height="7.0" fill="#f60500"/><rect x="89.9" y="854.9" width="10.7" height="7.0" fill="#fffff5"/><rect x="100.2" y="854.9" width="21.1" height="7.0" fill="#ffffab"/><rect x="120.9" y="854.9" width="21.1" height="7.0" fill="#ffff35"/><rect x="141.6" y="854.9" width="21.1" height="7.0" fill="#fffa00"/><rect x="162.2" y="854.9" width="21.1" height="7.0" fill="#ffca00"/><rect x="182.9" y="854.9" width="21.1" height="7.0" fill="#ff9f00"/><rect x="203.6" y="854.9" width="21.1" height="7.0" fill="#ff8100"/><rect x="224.2" y="854.9" width="21.1" height="7.0" fill="#ff6400"/><rect x="244.9" y="854.9" width="21.1" height="7.0" fill="#ff5300"/><rect x="265.6" y="854.9" width="21.1" height="7.0" fill="#ff4100"/><rect x="286.2" y="854.9" width="21.1" height="7.0" fill="#ff3400"/><rect x="306.9" y="854.9" width="21.1" height="7.0" fill="#ff2600"/><rect x="327.6" y="854.9" width="21.1" height="7.0" fill="#fc1900"/><rect x="348.2" y="854.9" width="21.1" height="7.0" fill="#fa1100"/><rect x="368.9" y="854.9" width="21.1" height="7.0" fill="#f70800"/><rect x="389.6" y="854.9" width="10.7" height="7.0" fill="#f50000"/><rect x="89.9" y="861.6" width="10.7" height="7.0" fill="#fffff2"/><rect x="100.2" y="861.6" width="21.1" height="7.0" fill="#ffffa4"/><rect x="120.9" y="861.6" width="21.1" height="7.0" fill="#ffff23"/><rect x="141.6" y="861.6" width="21.1" height="7.0" fill="#fff200"/><rect x="162.2" y="861.6" width="21.1" height="7.0" fill="#ffc400"/><rect x="182.9" y="861.6" width="21.1" height="7.0" fill="#ff9a00"/><rect x="203.6" y="861.6" width="21.1" height="7.0" fill="#ff7d00"/><rect x="224.2" y="861.6" width="21.1" height="7.0" fill="#ff6000"/><rect x="244.9" y="861.6" width="21.1" height="7.0" fill="#ff4e00"/><rect x="265.6" y="861.6" width="21.1" height="7.0" fill="#ff3c00"/><rect x="286.2" y="861.6" width="21.1" height="7.0" fill="#ff2f00"/><rect x="306.9" y="861.6" width="21.1" height="7.0" fill="#ff2300"/><rect x="327.6" y="861.6" width="21.1" height="7.0" fill="#fb1600"/><rect x="348.2" y="861.6" width="21.1" height="7.0" fill="#f90d00"/><rect x="368.9" y="861.6" width="21.1" height="7.0" fill="#f60500"/><rect x="389.6" y="861.6" width="10.7" height="7.0" fill="#ed0000"/><rect x="89.9" y="868.2" width="10.7" height="7.0" fill="#fffff0"/><rect x="100.2" y="868.2" width="21.1" height="7.0" fill="#ffff9d"/><rect x="120.9" y="868.2" width="21.1" height="7.0" fill="#ffff11"/><rect x="141.6" y="868.2" width="21.1" height="7.0" fill="#ffea00"/><rect x="162.2" y="868.2" width="21.1" height="7.0" fill="#ffbe00"/><rect x="182.9" y="868.2" width="21.1" height="7.0" fill="#ff9500"/><rect x="203.6" y="868.2" width="21.1" height="7.0" fill="#ff7800"/><rect x="224.2" y="868.2" width="21.1" height="7.0" fill="#ff5c00"/><rect x="244.9" y="868.2" width="21.1" height="7.0" fill="#ff4a00"/><rect x="265.6" y="868.2" width="21.1" height="7.0" fill="#ff3800"/><rect x="286.2" y="868.2" width="21.1" height="7.0" fill="#ff2b00"/><rect x="306.9" y="868.2" width="21.1" height="7.0" fill="#fe1f00"/><rect x="327.6" y="868.2" width="21.1" height="7.0" fill="#fa1200"/><rect x="348.2" y="868.2" width="21.1" height="7.0" fill="#f80a00"/><rect x="368.9" y="868.2" width="21.1" height="7.0" fill="#f50200"/><rect x="389.6" y="868.2" width="10.7" height="7.0" fill="#e50000"/><rect x="89.9" y="874.8" width="10.7" height="7.0" fill="#ffffed"/><rect x="100.2" y="874.8" width="21.1" height="7.0" fill="#ffff96"/><rect x="120.9" y="874.8" width="21.1" height="7.0" fill="#fffe00"/><rect x="141.6" y="874.8" width="21.1" height="7.0" fill="#ffe200"/><rect x="162.2" y="874.8" width="21.1" height="7.0" fill="#ffb800"/><rect x="182.9" y="874.8" width="21.1" height="7.0" fill="#ff9000"/><rect x="203.6" y="874.8" width="21.1" height="7.0" fill="#ff7400"/><rect x="224.2" y="874.8" width="21.1" height="7.0" fill="#ff5800"/><rect x="244.9" y="874.8" width="21.1" height="7.0" fill="#ff4500"/><rect x="265.6" y="874.8" width="21.1" height="7.0" fill="#ff3300"/><rect x="286.2" y="874.8" width="21.1" height="7.0" fill="#ff2700"/><rect x="306.9" y="874.8" width="21.1" height="7.0" fill="#fd1b00"/><rect x="327.6" y="874.8" width="21.1" height="7.0" fill="#f90f00"/><rect x="348.2" y="874.8" width="21.1" height="7.0" fill="#f70600"/><rect x="368.9" y="874.8" width="21.1" height="7.0" fill="#f10000"/><rect x="389.6" y="874.8" width="10.7" height="7.0" fill="#dd0000"/><rect x="89.9" y="881.5" width="10.7" height="7.0" fill="#ffffeb"/><rect x="100.2" y="881.5" width="21.1" height="7.0" fill="#ffff8f"/><rect x="120.9" y="881.5" width="21.1" height="7.0" fill="#fff800"/><rect x="141.6" y="881.5" width="21.1" height="7.0" fill="#ffda00"/><rect x="162.2" y="881.5" width="21.1" height="7.0" fill="#ffb200"/><rect x="182.9" y="881.5" width="21.1" height="7.0" fill="#ff8b00"/><rect x="203.6" y="881.5" width="21.1" height="7.0" fill="#ff6f00"/><rect x="224.2" y="881.5" width="21.1" height="7.0" fill="#ff5300"/><rect x="244.9" y="881.5" width="21.1" height="7.0" fill="#ff4100"/><rect x="265.6" y="881.5" width="21.1" height="7.0" fill="#ff2f00"/><rect x="286.2" y="881.5" width="21.1" height="7.0" fill="#ff2300"/><rect x="306.9" y="881.5" width="21.1" height="7.0" fill="#fc1700"/><rect x="327.6" y="881.5" width="21.1" height="7.0" fill="#f80b00"/><rect x="348.2" y="881.5" width="21.1" height="7.0" fill="#f60300"/><rect x="368.9" y="881.5" width="21.1" height="7.0" fill="#e90000"/><rect x="389.6" y="881.5" width="10.7" height="7.0" fill="#d50000"/><rect x="89.9" y="888.1" width="10.7" height="7.0" fill="#ffffe0"/><rect x="100.2" y="888.1" width="21.1" height="7.0" fill="#ffff82"/><rect x="120.9" y="888.1" width="21.1" height="7.0" fill="#ffee00"/><rect x="141.6" y="888.1" width="21.1" height="7.0" fill="#ffd000"/><rect x="162.2" y="888.1" width="21.1" height="7.0" fill="#ffaa00"/><rect x="182.9" y="888.1" width="21.1" height="7.0" fill="#ff8500"/><rect x="203.6" y="888.1" width="21.1" height="7.0" fill="#ff6a00"/><rect x="224.2" y="888.1" width="21.1" height="7.0" fill="#ff4d00"/><rect x="244.9" y="888.1" width="21.1" height="7.0" fill="#ff3b00"/><rect x="265.6" y="888.1" width="21.1" height="7.0" fill="#ff2a00"/><rect x="286.2" y="888.1" width="21.1" height="7.0" fill="#fe1e00"/><rect x="306.9" y="888.1" width="21.1" height="7.0" fill="#fa1300"/><rect x="327.6" y="888.1" width="21.1" height="7.0" fill="#f70700"/><rect x="348.2" y="888.1" width="21.1" height="7.0" fill="#f30000"/><rect x="368.9" y="888.1" width="21.1" height="7.0" fill="#e00000"/><rect x="389.6" y="888.1" width="10.7" height="7.0" fill="#cd0000"/><rect x="89.9" y="894.7" width="10.7" height="7.0" fill="#ffffcf"/><rect x="100.2" y="894.7" width="21.1" height="7.0" fill="#ffff6d"/><rect x="120.9" y="894.7" width="21.1" height="7.0" fill="#ffe300"/><rect x="141.6" y="894.7" width="21.1" height="7.0" fill="#ffc600"/><rect x="162.2" y="894.7" width="21.1" height="7.0" fill="#ffa100"/><rect x="182.9" y="894.7" width="21.1" height="7.0" fill="#ff7e00"/><rect x="203.6" y="894.7" width="21.1" height="7.0" fill="#ff6300"/><rect x="224.2" y="894.7" width="21.1" height="7.0" fill="#ff4700"/><rect x="244.9" y="894.7" width="21.1" height="7.0" fill="#ff3500"/><rect x="265.6" y="894.7" width="21.1" height="7.0" fill="#ff2400"/><rect x="286.2" y="894.7" width="21.1" height="7.0" fill="#fc1900"/><rect x="306.9" y="894.7" width="21.1" height="7.0" fill="#f90e00"/><rect x="327.6" y="894.7" width="21.1" height="7.0" fill="#f60300"/><rect x="348.2" y="894.7" width="21.1" height="7.0" fill="#e90000"/><rect x="368.9" y="894.7" width="21.1" height="7.0" fill="#d70000"/><rect x="389.6" y="894.7" width="10.7" height="7.0" fill="#c50000"/><rect x="89.9" y="901.4" width="10.7" height="7.0" fill="#ffffb7"/><rect x="100.2" y="901.4" width="21.1" height="7.0" fill="#ffff54"/><rect x="120.9" y="901.4" width="21.1" height="7.0" fill="#ffd700"/><rect x="141.6" y="901.4" width="21.1" height="7.0" fill="#ffbc00"/><rect x="162.2" y="901.4" width="21.1" height="7.0" fill="#ff9900"/><rect x="182.9" y="901.4" width="21.1" height="7.0" fill="#ff7700"/><rect x="203.6" y="901.4" width="21.1" height="7.0" fill="#ff5c00"/><rect x="224.2" y="901.4" width="21.1" height="7.0" fill="#ff4000"/><rect x="244.9" y="901.4" width="21.1" height="7.0" fill="#ff2f00"/><rect x="265.6" y="901.4" width="21.1" height="7.0" fill="#fe1e00"/><rect x="286.2" y="901.4" width="21.1" height="7.0" fill="#fb1400"/><rect x="306.9" y="901.4" width="21.1" height="7.0" fill="#f80900"/><rect x="327.6" y="901.4" width="21.1" height="7.0" fill="#f10000"/><rect x="348.2" y="901.4" width="21.1" height="7.0" fill="#e00000"/><rect x="368.9" y="901.4" width="21.1" height="7.0" fill="#ce0000"/><rect x="389.6" y="901.4" width="10.7" height="7.0" fill="#bd0000"/><rect x="89.9" y="908.0" width="10.7" height="7.0" fill="#ffff9a"/><rect x="100.2" y="908.0" width="21.1" height="7.0" fill="#ffff3c"/><rect x="120.9" y="908.0" width="21.1" height="7.0" fill="#ffcc00"/><rect x="141.6" y="908.0" width="21.1" height="7.0" fill="#ffb200"/><rect x="162.2" y="908.0" width="21.1" height="7.0" fill="#ff9000"/><rect x="182.9" y="908.0" width="21.1" height="7.0" fill="#ff7000"/><rect x="203.6" y="908.0" width="21.1" height="7.0" fill="#ff5600"/><rect x="224.2" y="908.0" width="21.1" height="7.0" fill="#ff3900"/><rect x="244.9" y="908.0" width="21.1" height="7.0" fill="#ff2800"/><rect x="265.6" y="908.0" width="21.1" height="7.0" fill="#fc1900"/><rect x="286.2" y="908.0" width="21.1" height="7.0" fill="#f90e00"/><rect x="306.9" y="908.0" width="21.1" height="7.0" fill="#f60400"/><rect x="327.6" y="908.0" width="21.1" height="7.0" fill="#e60000"/><rect x="348.2" y="908.0" width="21.1" height="7.0" fill="#d60000"/><rect x="368.9" y="908.0" width="21.1" height="7.0" fill="#c60000"/><rect x="389.6" y="908.0" width="10.7" height="7.0" fill="#b50000"/><rect x="89.9" y="914.6" width="10.7" height="7.0" fill="#ffff7d"/><rect x="100.2" y="914.6" width="21.1" height="7.0" fill="#ffff21"/><rect x="120.9" y="914.6" width="21.1" height="7.0" fill="#ffc200"/><rect x="141.6" y="914.6" width="21.1" height="7.0" fill="#ffa700"/><rect x="162.2" y="914.6" width="21.1" height="7.0" fill="#ff8800"/><rect x="182.9" y="914.6" width="21.1" height="7.0" fill="#ff6800"/><rect x="203.6" y="914.6" width="21.1" height="7.0" fill="#ff4f00"/><rect x="224.2" y="914.6" width="21.1" height="7.0" fill="#ff3200"/><rect x="244.9" y="914.6" width="21.1" height="7.0" fill="#ff2200"/><rect x="265.6" y="914.6" width="21.1" height="7.0" fill="#fa1300"/><rect x="286.2" y="914.6" width="21.1" height="7.0" fill="#f80900"/><rect x="306.9" y="914.6" width="21.1" height="7.0" fill="#f30000"/><rect x="327.6" y="914.6" width="21.1" height="7.0" fill="#dc0000"/><rect x="348.2" y="914.6" width="21.1" height="7.0" fill="#cc0000"/><rect x="368.9" y="914.6" width="21.1" height="7.0" fill="#bc0000"/><rect x="389.6" y="914.6" width="10.7" height="7.0" fill="#ad0000"/><rect x="89.9" y="921.3" width="10.7" height="7.0" fill="#ffff61"/><rect x="100.2" y="921.3" width="21.1" height="7.0" fill="#fffe00"/><rect x="120.9" y="921.3" width="21.1" height="7.0" fill="#ffb800"/><rect x="141.6" y="921.3" width="21.1" height="7.0" fill="#ff9d00"/><rect x="162.2" y="921.3" width="21.1" height="7.0" fill="#ff7f00"/><rect x="182.9" y="921.3" width="21.1" height="7.0" fill="#ff6000"/><rect x="203.6" y="921.3" width="21.1" height="7.0" fill="#ff4700"/><rect x="224.2" y="921.3" width="21.1" height="7.0" fill="#ff2d00"/><rect x="244.9" y="921.3" width="21.1" height="7.0" fill="#fd1d00"/><rect x="265.6" y="921.3" width="21.1" height="7.0" fill="#f90f00"/><rect x="286.2" y="921.3" width="21.1" height="7.0" fill="#f60500"/><rect x="306.9" y="921.3" width="21.1" height="7.0" fill="#e80000"/><rect x="327.6" y="921.3" width="21.1" height="7.0" fill="#d10000"/><rect x="348.2" y="921.3" width="21.1" height="7.0" fill="#c10000"/><rect x="368.9" y="921.3" width="21.1" height="7.0" fill="#b20000"/><rect x="389.6" y="921.3" width="10.7" height="7.0" fill="#a40000"/><rect x="89.9" y="927.9" width="10.7" height="7.0" fill="#ffff43"/><rect x="100.2" y="927.9" width="21.1" height="7.0" fill="#fff000"/><rect x="120.9" y="927.9" width="21.1" height="7.0" fill="#ffae00"/><rect x="141.6" y="927.9" width="21.1" height="7.0" fill="#ff9300"/><rect x="162.2" y="927.9" width="21.1" height="7.0" fill="#ff7600"/><rect x="182.9" y="927.9" width="21.1" height="7.0" fill="#ff5800"/><rect x="203.6" y="927.9" width="21.1" height="7.0" fill="#ff4000"/><rect x="224.2" y="927.9" width="21.1" height="7.0" fill="#ff2700"/><rect x="244.9" y="927.9" width="21.1" height="7.0" fill="#fc1800"/><rect x="265.6" y="927.9" width="21.1" height="7.0" fill="#f80a00"/><rect x="286.2" y="927.9" width="21.1" height="7.0" fill="#f50000"/><rect x="306.9" y="927.9" width="21.1" height="7.0" fill="#de0000"/><rect x="327.6" y="927.9" width="21.1" height="7.0" fill="#c60000"/><rect x="348.2" y="927.9" width="21.1" height="7.0" fill="#b70000"/><rect x="368.9" y="927.9" width="21.1" height="7.0" fill="#a80000"/><rect x="389.6" y="927.9" width="10.7" height="7.0" fill="#9b0000"/><rect x="89.9" y="934.5" width="10.7" height="7.0" fill="#ffff24"/><rect x="100.2" y="934.5" width="21.1" height="7.0" fill="#ffe300"/><rect x="120.9" y="934.5" width="21.1" height="7.0" fill="#ffa400"/><rect x="141.6" y="934.5" width="21.1" height="7.0" fill="#ff8900"/><rect x="162.2" y="934.5" width="21.1" height="7.0" fill="#ff6d00"/><rect x="182.9" y="934.5" width="21.1" height="7.0" fill="#ff5000"/><rect x="203.6" y="934.5" width="21.1" height="7.0" fill="#ff3800"/><rect x="224.2" y="934.5" width="21.1" height="7.0" fill="#fe2100"/><rect x="244.9" y="934.5" width="21.1" height="7.0" fill="#fa1300"/><rect x="265.6" y="934.5" width="21.1" height="7.0" fill="#f70500"/><rect x="286.2" y="934.5" width="21.1" height="7.0" fill="#ea0000"/><rect x="306.9" y="934.5" width="21.1" height="7.0" fill="#d30000"/><rect x="327.6" y="934.5" width="21.1" height="7.0" fill="#bc0000"/><rect x="348.2" y="934.5" width="21.1" height="7.0" fill="#ad0000"/><rect x="368.9" y="934.5" width="21.1" height="7.0" fill="#9f0000"/><rect x="389.6" y="934.5" width="10.7" height="7.0" fill="#920000"/><rect x="89.9" y="941.2" width="10.7" height="7.0" fill="#ffff06"/><rect x="100.2" y="941.2" width="21.1" height="7.0" fill="#ffd500"/><rect x="120.9" y="941.2" width="21.1" height="7.0" fill="#ff9a00"/><rect x="141.6" y="941.2" width="21.1" height="7.0" fill="#ff7f00"/><rect x="162.2" y="941.2" width="21.1" height="7.0" fill="#ff6300"/><rect x="182.9" y="941.2" width="21.1" height="7.0" fill="#ff4700"/><rect x="203.6" y="941.2" width="21.1" height="7.0" fill="#ff3100"/><rect x="224.2" y="941.2" width="21.1" height="7.0" fill="#fd1b00"/><rect x="244.9" y="941.2" width="21.1" height="7.0" fill="#f90e00"/><rect x="265.6" y="941.2" width="21.1" height="7.0" fill="#f50100"/><rect x="286.2" y="941.2" width="21.1" height="7.0" fill="#e00000"/><rect x="306.9" y="941.2" width="21.1" height="7.0" fill="#c80000"/><rect x="327.6" y="941.2" width="21.1" height="7.0" fill="#b10000"/><rect x="348.2" y="941.2" width="21.1" height="7.0" fill="#a30000"/><rect x="368.9" y="941.2" width="21.1" height="7.0" fill="#960000"/><rect x="389.6" y="941.2" width="10.7" height="7.0" fill="#890000"/><rect x="89.9" y="947.8" width="10.7" height="7.0" fill="#fff300"/><rect x="100.2" y="947.8" width="21.1" height="7.0" fill="#ffc500"/><rect x="120.9" y="947.8" width="21.1" height="7.0" fill="#ff8f00"/><rect x="141.6" y="947.8" width="21.1" height="7.0" fill="#ff7500"/><rect x="162.2" y="947.8" width="21.1" height="7.0" fill="#ff5b00"/><rect x="182.9" y="947.8" width="21.1" height="7.0" fill="#ff3f00"/><rect x="203.6" y="947.8" width="21.1" height="7.0" fill="#ff2b00"/><rect x="224.2" y="947.8" width="21.1" height="7.0" fill="#fb1600"/><rect x="244.9" y="947.8" width="21.1" height="7.0" fill="#f70900"/><rect x="265.6" y="947.8" width="21.1" height="7.0" fill="#ed0000"/><rect x="286.2" y="947.8" width="21.1" height="7.0" fill="#d50000"/><rect x="306.9" y="947.8" width="21.1" height="7.0" fill="#be0000"/><rect x="327.6" y="947.8" width="21.1" height="7.0" fill="#a80000"/><rect x="348.2" y="947.8" width="21.1" height="7.0" fill="#9b0000"/><rect x="368.9" y="947.8" width="21.1" height="7.0" fill="#8e0000"/><rect x="389.6" y="947.8" width="10.7" height="7.0" fill="#820000"/><rect x="89.9" y="954.4" width="10.7" height="7.0" fill="#ffe400"/><rect x="100.2" y="954.4" width="21.1" height="7.0" fill="#ffb500"/><rect x="120.9" y="954.4" width="21.1" height="7.0" fill="#ff8400"/><rect x="141.6" y="954.4" width="21.1" height="7.0" fill="#ff6b00"/><rect x="162.2" y="954.4" width="21.1" height="7.0" fill="#ff5300"/><rect x="182.9" y="954.4" width="21.1" height="7.0" fill="#ff3900"/><rect x="203.6" y="954.4" width="21.1" height="7.0" fill="#ff2400"/><rect x="224.2" y="954.4" width="21.1" height="7.0" fill="#fa1000"/><rect x="244.9" y="954.4" width="21.1" height="7.0" fill="#f60400"/><rect x="265.6" y="954.4" width="21.1" height="7.0" fill="#e20000"/><rect x="286.2" y="954.4" width="21.1" height="7.0" fill="#cb0000"/><rect x="306.9" y="954.4" width="21.1" height="7.0" fill="#b30000"/><rect x="327.6" y="954.4" width="21.1" height="7.0" fill="#9f0000"/><rect x="348.2" y="954.4" width="21.1" height="7.0" fill="#930000"/><rect x="368.9" y="954.4" width="21.1" height="7.0" fill="#870000"/><rect x="389.6" y="954.4" width="10.7" height="7.0" fill="#7b0000"/><rect x="89.9" y="961.1" width="10.7" height="7.0" fill="#ffd600"/><rect x="100.2" y="961.1" width="21.1" height="7.0" fill="#ffa400"/><rect x="120.9" y="961.1" width="21.1" height="7.0" fill="#ff7800"/><rect x="141.6" y="961.1" width="21.1" height="7.0" fill="#ff6100"/><rect x="162.2" y="961.1" width="21.1" height="7.0" fill="#ff4a00"/><rect x="182.9" y="961.1" width="21.1" height="7.0" fill="#ff3200"/><rect x="203.6" y="961.1" width="21.1" height="7.0" fill="#fe1e00"/><rect x="224.2" y="961.1" width="21.1" height="7.0" fill="#f80a00"/><rect x="244.9" y="961.1" width="21.1" height="7.0" fill="#f10000"/><rect x="265.6" y="961.1" width="21.1" height="7.0" fill="#d70000"/><rect x="286.2" y="961.1" width="21.1" height="7.0" fill="#c00000"/><rect x="306.9" y="961.1" width="21.1" height="7.0" fill="#aa0000"/><rect x="327.6" y="961.1" width="21.1" height="7.0" fill="#960000"/><rect x="348.2" y="961.1" width="21.1" height="7.0" fill="#8a0000"/><rect x="368.9" y="961.1" width="21.1" height="7.0" fill="#7f0000"/><rect x="389.6" y="961.1" width="10.7" height="7.0" fill="#740000"/><rect x="89.9" y="967.7" width="10.7" height="7.0" fill="#ffc800"/><rect x="100.2" y="967.7" width="21.1" height="7.0" fill="#ff9400"/><rect x="120.9" y="967.7" width="21.1" height="7.0" fill="#ff6d00"/><rect x="141.6" y="967.7" width="21.1" height="7.0" fill="#ff5700"/><rect x="162.2" y="967.7" width="21.1" height="7.0" fill="#ff4100"/><rect x="182.9" y="967.7" width="21.1" height="7.0" fill="#ff2b00"/><rect x="203.6" y="967.7" width="21.1" height="7.0" fill="#fc1800"/><rect x="224.2" y="967.7" width="21.1" height="7.0" fill="#f60400"/><rect x="244.9" y="967.7" width="21.1" height="7.0" fill="#e50000"/><rect x="265.6" y="967.7" width="21.1" height="7.0" fill="#cd0000"/><rect x="286.2" y="967.7" width="21.1" height="7.0" fill="#b50000"/><rect x="306.9" y="967.7" width="21.1" height="7.0" fill="#a00000"/><rect x="327.6" y="967.7" width="21.1" height="7.0" fill="#8c0000"/><rect x="348.2" y="967.7" width="21.1" height="7.0" fill="#820000"/><rect x="368.9" y="967.7" width="21.1" height="7.0" fill="#780000"/><rect x="389.6" y="967.7" width="10.7" height="7.0" fill="#6d0000"/><rect x="89.9" y="974.3" width="10.7" height="7.0" fill="#ffba00"/><rect x="100.2" y="974.3" width="21.1" height="7.0" fill="#ff8600"/><rect x="120.9" y="974.3" width="21.1" height="7.0" fill="#ff6300"/><rect x="141.6" y="974.3" width="21.1" height="7.0" fill="#ff4c00"/><rect x="162.2" y="974.3" width="21.1" height="7.0" fill="#ff3900"/><rect x="182.9" y="974.3" width="21.1" height="7.0" fill="#ff2500"/><rect x="203.6" y="974.3" width="21.1" height="7.0" fill="#fa1200"/><rect x="224.2" y="974.3" width="21.1" height="7.0" fill="#f30000"/><rect x="244.9" y="974.3" width="21.1" height="7.0" fill="#da0000"/><rect x="265.6" y="974.3" width="21.1" height="7.0" fill="#c10000"/><rect x="286.2" y="974.3" width="21.1" height="7.0" fill="#ab0000"/><rect x="306.9" y="974.3" width="21.1" height="7.0" fill="#980000"/><rect x="327.6" y="974.3" width="21.1" height="7.0" fill="#840000"/><rect x="348.2" y="974.3" width="21.1" height="7.0" fill="#7a0000"/><rect x="368.9" y="974.3" width="21.1" height="7.0" fill="#700000"/><rect x="389.6" y="974.3" width="10.7" height="7.0" fill="#660000"/><rect x="89.9" y="981.0" width="10.7" height="7.0" fill="#ffac00"/><rect x="100.2" y="981.0" width="21.1" height="7.0" fill="#ff7a00"/><rect x="120.9" y="981.0" width="21.1" height="7.0" fill="#ff5a00"/><rect x="141.6" y="981.0" width="21.1" height="7.0" fill="#ff4300"/><rect x="162.2" y="981.0" width="21.1" height="7.0" fill="#ff3100"/><rect x="182.9" y="981.0" width="21.1" height="7.0" fill="#fe1f00"/><rect x="203.6" y="981.0" width="21.1" height="7.0" fill="#f90d00"/><rect x="224.2" y="981.0" width="21.1" height="7.0" fill="#e80000"/><rect x="244.9" y="981.0" width="21.1" height="7.0" fill="#ce0000"/><rect x="265.6" y="981.0" width="21.1" height="7.0" fill="#b40000"/><rect x="286.2" y="981.0" width="21.1" height="7.0" fill="#a10000"/><rect x="306.9" y="981.0" width="21.1" height="7.0" fill="#8f0000"/><rect x="327.6" y="981.0" width="21.1" height="7.0" fill="#7d0000"/><rect x="348.2" y="981.0" width="21.1" height="7.0" fill="#730000"/><rect x="368.9" y="981.0" width="21.1" height="7.0" fill="#690000"/><rect x="389.6" y="981.0" width="10.7" height="7.0" fill="#5f0000"/><rect x="89.9" y="987.6" width="10.7" height="7.0" fill="#ff9e00"/><rect x="100.2" y="987.6" width="21.1" height="7.0" fill="#ff6d00"/><rect x="120.9" y="987.6" width="21.1" height="7.0" fill="#ff5000"/><rect x="141.6" y="987.6" width="21.1" height="7.0" fill="#ff3a00"/><rect x="162.2" y="987.6" width="21.1" height="7.0" fill="#ff2a00"/><rect x="182.9" y="987.6" width="21.1" height="7.0" fill="#fc1900"/><rect x="203.6" y="987.6" width="21.1" height="7.0" fill="#f70800"/><rect x="224.2" y="987.6" width="21.1" height="7.0" fill="#de0000"/><rect x="244.9" y="987.6" width="21.1" height="7.0" fill="#c20000"/><rect x="265.6" y="987.6" width="21.1" height="7.0" fill="#a80000"/><rect x="286.2" y="987.6" width="21.1" height="7.0" fill="#970000"/><rect x="306.9" y="987.6" width="21.1" height="7.0" fill="#870000"/><rect x="327.6" y="987.6" width="21.1" height="7.0" fill="#770000"/><rect x="348.2" y="987.6" width="21.1" height="7.0" fill="#6d0000"/><rect x="368.9" y="987.6" width="21.1" height="7.0" fill="#630000"/><rect x="389.6" y="987.6" width="10.7" height="7.0" fill="#590000"/><rect x="89.9" y="994.2" width="10.7" height="7.0" fill="#ff9000"/><rect x="100.2" y="994.2" width="21.1" height="7.0" fill="#ff6100"/><rect x="120.9" y="994.2" width="21.1" height="7.0" fill="#ff4600"/><rect x="141.6" y="994.2" width="21.1" height="7.0" fill="#ff3100"/><rect x="162.2" y="994.2" width="21.1" height="7.0" fill="#ff2300"/><rect x="182.9" y="994.2" width="21.1" height="7.0" fill="#fb1400"/><rect x="203.6" y="994.2" width="21.1" height="7.0" fill="#f60300"/><rect x="224.2" y="994.2" width="21.1" height="7.0" fill="#d30000"/><rect x="244.9" y="994.2" width="21.1" height="7.0" fill="#b60000"/><rect x="265.6" y="994.2" width="21.1" height="7.0" fill="#9c0000"/><rect x="286.2" y="994.2" width="21.1" height="7.0" fill="#8e0000"/><rect x="306.9" y="994.2" width="21.1" height="7.0" fill="#7f0000"/><rect x="327.6" y="994.2" width="21.1" height="7.0" fill="#700000"/><rect x="348.2" y="994.2" width="21.1" height="7.0" fill="#660000"/><rect x="368.9" y="994.2" width="21.1" height="7.0" fill="#5c0000"/><rect x="389.6" y="994.2" width="10.7" height="7.0" fill="#530000"/><rect x="89.9" y="1000.9" width="10.7" height="7.0" fill="#ff8100"/><rect x="100.2" y="1000.9" width="21.1" height="7.0" fill="#ff5500"/><rect x="120.9" y="1000.9" width="21.1" height="7.0" fill="#ff3c00"/><rect x="141.6" y="1000.9" width="21.1" height="7.0" fill="#ff2800"/><rect x="162.2" y="1000.9" width="21.1" height="7.0" fill="#fd1b00"/><rect x="182.9" y="1000.9" width="21.1" height="7.0" fill="#f90e00"/><rect x="203.6" y="1000.9" width="21.1" height="7.0" fill="#ef0000"/><rect x="224.2" y="1000.9" width="21.1" height="7.0" fill="#c80000"/><rect x="244.9" y="1000.9" width="21.1" height="7.0" fill="#ab0000"/><rect x="265.6" y="1000.9" width="21.1" height="7.0" fill="#910000"/><rect x="286.2" y="1000.9" width="21.1" height="7.0" fill="#840000"/><rect x="306.9" y="1000.9" width="21.1" height="7.0" fill="#760000"/><rect x="327.6" y="1000.9" width="21.1" height="7.0" fill="#690000"/><rect x="348.2" y="1000.9" width="21.1" height="7.0" fill="#5f0000"/><rect x="368.9" y="1000.9" width="21.1" height="7.0" fill="#550000"/><rect x="389.6" y="1000.9" width="10.7" height="7.0" fill="#4e0000"/><rect x="89.9" y="1007.5" width="10.7" height="7.0" fill="#ff7600"/><rect x="100.2" y="1007.5" width="21.1" height="7.0" fill="#ff4a00"/><rect x="120.9" y="1007.5" width="21.1" height="7.0" fill="#ff3400"/><rect x="141.6" y="1007.5" width="21.1" height="7.0" fill="#ff2200"/><rect x="162.2" y="1007.5" width="21.1" height="7.0" fill="#fb1600"/><rect x="182.9" y="1007.5" width="21.1" height="7.0" fill="#f70900"/><rect x="203.6" y="1007.5" width="21.1" height="7.0" fill="#e20000"/><rect x="224.2" y="1007.5" width="21.1" height="7.0" fill="#bb0000"/><rect x="244.9" y="1007.5" width="21.1" height="7.0" fill="#a10000"/><rect x="265.6" y="1007.5" width="21.1" height="7.0" fill="#880000"/><rect x="286.2" y="1007.5" width="21.1" height="7.0" fill="#7c0000"/><rect x="306.9" y="1007.5" width="21.1" height="7.0" fill="#6f0000"/><rect x="327.6" y="1007.5" width="21.1" height="7.0" fill="#620000"/><rect x="348.2" y="1007.5" width="21.1" height="7.0" fill="#590000"/><rect x="368.9" y="1007.5" width="21.1" height="7.0" fill="#510000"/><rect x="389.6" y="1007.5" width="10.7" height="7.0" fill="#4b0000"/><rect x="89.9" y="1014.1" width="10.7" height="7.0" fill="#ff6a00"/><rect x="100.2" y="1014.1" width="21.1" height="7.0" fill="#ff3f00"/><rect x="120.9" y="1014.1" width="21.1" height="7.0" fill="#ff2c00"/><rect x="141.6" y="1014.1" width="21.1" height="7.0" fill="#fd1d00"/><rect x="162.2" y="1014.1" width="21.1" height="7.0" fill="#fa1000"/><rect x="182.9" y="1014.1" width="21.1" height="7.0" fill="#f60300"/><rect x="203.6" y="1014.1" width="21.1" height="7.0" fill="#d50000"/><rect x="224.2" y="1014.1" width="21.1" height="7.0" fill="#ae0000"/><rect x="244.9" y="1014.1" width="21.1" height="7.0" fill="#970000"/><rect x="265.6" y="1014.1" width="21.1" height="7.0" fill="#7f0000"/><rect x="286.2" y="1014.1" width="21.1" height="7.0" fill="#730000"/><rect x="306.9" y="1014.1" width="21.1" height="7.0" fill="#680000"/><rect x="327.6" y="1014.1" width="21.1" height="7.0" fill="#5c0000"/><rect x="348.2" y="1014.1" width="21.1" height="7.0" fill="#540000"/><rect x="368.9" y="1014.1" width="21.1" height="7.0" fill="#4e0000"/><rect x="389.6" y="1014.1" width="10.7" height="7.0" fill="#470000"/><rect x="89.9" y="1020.8" width="10.7" height="7.0" fill="#ff5e00"/><rect x="100.2" y="1020.8" width="21.1" height="7.0" fill="#ff3400"/><rect x="120.9" y="1020.8" width="21.1" height="7.0" fill="#ff2500"/><rect x="141.6" y="1020.8" width="21.1" height="7.0" fill="#fc1700"/><rect x="162.2" y="1020.8" width="21.1" height="7.0" fill="#f80b00"/><rect x="182.9" y="1020.8" width="21.1" height="7.0" fill="#ef0000"/><rect x="203.6" y="1020.8" width="21.1" height="7.0" fill="#c80000"/><rect x="224.2" y="1020.8" width="21.1" height="7.0" fill="#a30000"/><rect x="244.9" y="1020.8" width="21.1" height="7.0" fill="#8d0000"/><rect x="265.6" y="1020.8" width="21.1" height="7.0" fill="#760000"/><rect x="286.2" y="1020.8" width="21.1" height="7.0" fill="#6b0000"/><rect x="306.9" y="1020.8" width="21.1" height="7.0" fill="#600000"/><rect x="327.6" y="1020.8" width="21.1" height="7.0" fill="#550000"/><rect x="348.2" y="1020.8" width="21.1" height="7.0" fill="#4f0000"/><rect x="368.9" y="1020.8" width="21.1" height="7.0" fill="#4a0000"/><rect x="389.6" y="1020.8" width="10.7" height="7.0" fill="#440000"/><rect x="89.9" y="1027.4" width="10.7" height="7.0" fill="#ff5200"/><rect x="100.2" y="1027.4" width="21.1" height="7.0" fill="#ff2900"/><rect x="120.9" y="1027.4" width="21.1" height="7.0" fill="#fd1d00"/><rect x="141.6" y="1027.4" width="21.1" height="7.0" fill="#fa1200"/><rect x="162.2" y="1027.4" width="21.1" height="7.0" fill="#f60500"/><rect x="182.9" y="1027.4" width="21.1" height="7.0" fill="#e20000"/><rect x="203.6" y="1027.4" width="21.1" height="7.0" fill="#bb0000"/><rect x="224.2" y="1027.4" width="21.1" height="7.0" fill="#980000"/><rect x="244.9" y="1027.4" width="21.1" height="7.0" fill="#830000"/><rect x="265.6" y="1027.4" width="21.1" height="7.0" fill="#6d0000"/><rect x="286.2" y="1027.4" width="21.1" height="7.0" fill="#630000"/><rect x="306.9" y="1027.4" width="21.1" height="7.0" fill="#590000"/><rect x="327.6" y="1027.4" width="21.1" height="7.0" fill="#500000"/><rect x="348.2" y="1027.4" width="21.1" height="7.0" fill="#4b0000"/><rect x="368.9" y="1027.4" width="21.1" height="7.0" fill="#460000"/><rect x="389.6" y="1027.4" width="10.7" height="7.0" fill="#410000"/><rect x="89.9" y="1034.0" width="10.7" height="7.0" fill="#ff4600"/><rect x="100.2" y="1034.0" width="21.1" height="7.0" fill="#fe2000"/><rect x="120.9" y="1034.0" width="21.1" height="7.0" fill="#fb1600"/><rect x="141.6" y="1034.0" width="21.1" height="7.0" fill="#f80c00"/><rect x="162.2" y="1034.0" width="21.1" height="7.0" fill="#f20000"/><rect x="182.9" y="1034.0" width="21.1" height="7.0" fill="#d40000"/><rect x="203.6" y="1034.0" width="21.1" height="7.0" fill="#af0000"/><rect x="224.2" y="1034.0" width="21.1" height="7.0" fill="#8f0000"/><rect x="244.9" y="1034.0" width="21.1" height="7.0" fill="#7a0000"/><rect x="265.6" y="1034.0" width="21.1" height="7.0" fill="#660000"/><rect x="286.2" y="1034.0" width="21.1" height="7.0" fill="#5c0000"/><rect x="306.9" y="1034.0" width="21.1" height="7.0" fill="#530000"/><rect x="327.6" y="1034.0" width="21.1" height="7.0" fill="#4b0000"/><rect x="348.2" y="1034.0" width="21.1" height="7.0" fill="#470000"/><rect x="368.9" y="1034.0" width="21.1" height="7.0" fill="#420000"/><rect x="389.6" y="1034.0" width="10.7" height="7.0" fill="#3d0000"/><rect x="89.9" y="1040.7" width="10.7" height="3.7" fill="#ff3c00"/><rect x="100.2" y="1040.7" width="21.1" height="3.7" fill="#fc1900"/><rect x="120.9" y="1040.7" width="21.1" height="3.7" fill="#f90f00"/><rect x="141.6" y="1040.7" width="21.1" height="3.7" fill="#f60500"/><rect x="162.2" y="1040.7" width="21.1" height="3.7" fill="#e30000"/><rect x="182.9" y="1040.7" width="21.1" height="3.7" fill="#c50000"/><rect x="203.6" y="1040.7" width="21.1" height="3.7" fill="#a50000"/><rect x="224.2" y="1040.7" width="21.1" height="3.7" fill="#880000"/><rect x="244.9" y="1040.7" width="21.1" height="3.7" fill="#740000"/><rect x="265.6" y="1040.7" width="21.1" height="3.7" fill="#5f0000"/><rect x="286.2" y="1040.7" width="21.1" height="3.7" fill="#550000"/><rect x="306.9" y="1040.7" width="21.1" height="3.7" fill="#4e0000"/><rect x="327.6" y="1040.7" width="21.1" height="3.7" fill="#470000"/><rect x="348.2" y="1040.7" width="21.1" height="3.7" fill="#420000"/><rect x="368.9" y="1040.7" width="21.1" height="3.7" fill="#3d0000"/><rect x="389.6" y="1040.7" width="10.7" height="3.7" fill="#380000"/></g>
<g shape-rendering="crispEdges"><rect x="406.2" y="713.90" width="21.6" height="4.72" fill="#fffff1"/><rect x="406.2" y="718.02" width="21.6" height="4.72" fill="#ffffea"/><rect x="406.2" y="722.13" width="21.6" height="4.72" fill="#ffffe3"/><rect x="406.2" y="726.25" width="21.6" height="4.72" fill="#ffffdc"/><rect x="406.2" y="730.37" width="21.6" height="4.72" fill="#ffffd5"/><rect x="406.2" y="734.48" width="21.6" height="4.72" fill="#ffffce"/><rect x="406.2" y="738.60" width="21.6" height="4.72" fill="#ffffc7"/><rect x="406.2" y="742.71" width="21.6" height="4.72" fill="#ffffba"/><rect x="406.2" y="746.83" width="21.6" height="4.72" fill="#ffffae"/><rect x="406.2" y="750.95" width="21.6" height="4.72" fill="#ffffa1"/><rect x="406.2" y="755.06" width="21.6" height="4.72" fill="#ffff95"/><rect x="406.2" y="759.18" width="21.6" height="4.72" fill="#ffff88"/><rect x="406.2" y="763.29" width="21.6" height="4.72" fill="#ffff7c"/><rect x="406.2" y="767.41" width="21.6" height="4.72" fill="#ffff6c"/><rect x="406.2" y="771.53" width="21.6" height="4.72" fill="#ffff5c"/><rect x="406.2" y="775.64" width="21.6" height="4.72" fill="#ffff4b"/><rect x="406.2" y="779.76" width="21.6" height="4.72" fill="#ffff3a"/><rect x="406.2" y="783.88" width="21.6" height="4.72" fill="#ffff2a"/><rect x="406.2" y="787.99" width="21.6" height="4.72" fill="#ffff19"/><rect x="406.2" y="792.11" width="21.6" height="4.72" fill="#ffff08"/><rect x="406.2" y="796.23" width="21.6" height="4.72" fill="#fffc00"/><rect x="406.2" y="800.34" width="21.6" height="4.72" fill="#fff600"/><rect x="406.2" y="804.46" width="21.6" height="4.72" fill="#ffef00"/><rect x="406.2" y="808.57" width="21.6" height="4.72" fill="#ffe900"/><rect x="406.2" y="812.69" width="21.6" height="4.72" fill="#ffe300"/><rect x="406.2" y="816.81" width="21.6" height="4.72" fill="#ffdd00"/><rect x="406.2" y="820.92" width="21.6" height="4.72" fill="#ffd600"/><rect x="406.2" y="825.04" width="21.6" height="4.72" fill="#ffd000"/><rect x="406.2" y="829.15" width="21.6" height="4.72" fill="#ffca00"/><rect x="406.2" y="833.27" width="21.6" height="4.72" fill="#ffc500"/><rect x="406.2" y="837.39" width="21.6" height="4.72" fill="#ffbf00"/><rect x="406.2" y="841.50" width="21.6" height="4.72" fill="#ffba00"/><rect x="406.2" y="845.62" width="21.6" height="4.72" fill="#ffb400"/><rect x="406.2" y="849.74" width="21.6" height="4.72" fill="#ffae00"/><rect x="406.2" y="853.85" width="21.6" height="4.72" fill="#ffa900"/><rect x="406.2" y="857.97" width="21.6" height="4.72" fill="#ffa300"/><rect x="406.2" y="862.09" width="21.6" height="4.72" fill="#ff9e00"/><rect x="406.2" y="866.20" width="21.6" height="4.72" fill="#ff9800"/><rect x="406.2" y="870.32" width="21.6" height="4.72" fill="#ff9300"/><rect x="406.2" y="874.43" width="21.6" height="4.72" fill="#ff8d00"/><rect x="406.2" y="878.55" width="21.6" height="4.72" fill="#ff8800"/><rect x="406.2" y="882.67" width="21.6" height="4.72" fill="#ff8200"/><rect x="406.2" y="886.78" width="21.6" height="4.72" fill="#ff7c00"/><rect x="406.2" y="890.90" width="21.6" height="4.72" fill="#ff7700"/><rect x="406.2" y="895.01" width="21.6" height="4.72" fill="#ff7100"/><rect x="406.2" y="899.13" width="21.6" height="4.72" fill="#ff6c00"/><rect x="406.2" y="903.25" width="21.6" height="4.72" fill="#ff6600"/><rect x="406.2" y="907.36" width="21.6" height="4.72" fill="#ff6100"/><rect x="406.2" y="911.48" width="21.6" height="4.72" fill="#ff5b00"/><rect x="406.2" y="915.60" width="21.6" height="4.72" fill="#ff5600"/><rect x="406.2" y="919.71" width="21.6" height="4.72" fill="#ff4f00"/><rect x="406.2" y="923.83" width="21.6" height="4.72" fill="#ff4900"/><rect x="406.2" y="927.95" width="21.6" height="4.72" fill="#ff4300"/><rect x="406.2" y="932.06" width="21.6" height="4.72" fill="#ff3d00"/><rect x="406.2" y="936.18" width="21.6" height="4.72" fill="#ff3600"/><rect x="406.2" y="940.29" width="21.6" height="4.72" fill="#ff3000"/><rect x="406.2" y="944.41" width="21.6" height="4.72" fill="#ff2a00"/><rect x="406.2" y="948.53" width="21.6" height="4.72" fill="#ff2400"/><rect x="406.2" y="952.64" width="21.6" height="4.72" fill="#fd1d00"/><rect x="406.2" y="956.76" width="21.6" height="4.72" fill="#fc1700"/><rect x="406.2" y="960.88" width="21.6" height="4.72" fill="#fa1100"/><rect x="406.2" y="964.99" width="21.6" height="4.72" fill="#f80b00"/><rect x="406.2" y="969.11" width="21.6" height="4.72" fill="#f60400"/><rect x="406.2" y="973.22" width="21.6" height="4.72" fill="#f10000"/><rect x="406.2" y="977.34" width="21.6" height="4.72" fill="#e20000"/><rect x="406.2" y="981.46" width="21.6" height="4.72" fill="#d30000"/><rect x="406.2" y="985.57" width="21.6" height="4.72" fill="#c50000"/><rect x="406.2" y="989.69" width="21.6" height="4.72" fill="#b60000"/><rect x="406.2" y="993.81" width="21.6" height="4.72" fill="#a90000"/><rect x="406.2" y="997.92" width="21.6" height="4.72" fill="#9c0000"/><rect x="406.2" y="1002.04" width="21.6" height="4.72" fill="#900000"/><rect x="406.2" y="1006.15" width="21.6" height="4.72" fill="#830000"/><rect x="406.2" y="1010.27" width="21.6" height="4.72" fill="#770000"/><rect x="406.2" y="1014.39" width="21.6" height="4.72" fill="#6a0000"/><rect x="406.2" y="1018.50" width="21.6" height="4.72" fill="#5e0000"/><rect x="406.2" y="1022.62" width="21.6" height="4.72" fill="#520000"/><rect x="406.2" y="1026.74" width="21.6" height="4.72" fill="#490000"/><rect x="406.2" y="1030.85" width="21.6" height="4.72" fill="#400000"/><rect x="406.2" y="1034.97" width="21.6" height="4.72" fill="#370000"/><rect x="406.2" y="1039.08" width="21.6" height="4.12" fill="#2e0000"/></g>
<text x="431.5" y="737.8" font-size="31.5" transform="matrix(1 0 0 1.040 0 -29.51)">11.1</text>
<text x="431.5" y="799.0" font-size="31.5" transform="matrix(1 0 0 1.040 0 -31.96)">9.17</text>
<text x="431.5" y="860.2" font-size="31.5" transform="matrix(1 0 0 1.040 0 -34.41)">7.24</text>
<text x="431.5" y="921.4" font-size="31.5" transform="matrix(1 0 0 1.040 0 -36.86)">5.31</text>
<text x="431.5" y="982.6" font-size="31.5" transform="matrix(1 0 0 1.040 0 -39.30)">3.38</text>
<text x="431.5" y="1043.8" font-size="31.5" transform="matrix(1 0 0 1.040 0 -41.75)">1.45</text>
<g shape-rendering="crispEdges"><rect x="588.2" y="708.9" width="10.8" height="3.8" fill="#ffae00"/><rect x="598.6" y="708.9" width="21.3" height="3.8" fill="#ffb700"/><rect x="619.5" y="708.9" width="21.3" height="3.8" fill="#ffc200"/><rect x="640.4" y="708.9" width="21.3" height="3.8" fill="#ffcd00"/><rect x="661.3" y="708.9" width="21.3" height="3.8" fill="#ffe400"/><rect x="682.2" y="708.9" width="21.3" height="3.8" fill="#fffa00"/><rect x="703.1" y="708.9" width="21.3" height="3.8" fill="#ffff00"/><rect x="724.0" y="708.9" width="21.3" height="3.8" fill="#ffff0d"/><rect x="744.8" y="708.9" width="21.3" height="3.8" fill="#ffff27"/><rect x="765.7" y="708.9" width="21.3" height="3.8" fill="#ffff43"/><rect x="786.6" y="708.9" width="21.3" height="3.8" fill="#ffff3a"/><rect x="807.5" y="708.9" width="21.3" height="3.8" fill="#ffff31"/><rect x="828.4" y="708.9" width="21.3" height="3.8" fill="#ffff28"/><rect x="849.3" y="708.9" width="21.3" height="3.8" fill="#ffff1f"/><rect x="870.2" y="708.9" width="21.3" height="3.8" fill="#ffff16"/><rect x="891.1" y="708.9" width="10.8" height="3.8" fill="#ffff0d"/><rect x="588.2" y="712.3" width="10.8" height="7.2" fill="#ffbc00"/><rect x="598.6" y="712.3" width="21.3" height="7.2" fill="#ffc300"/><rect x="619.5" y="712.3" width="21.3" height="7.2" fill="#ffce00"/><rect x="640.4" y="712.3" width="21.3" height="7.2" fill="#ffd900"/><rect x="661.3" y="712.3" width="21.3" height="7.2" fill="#ffee00"/><rect x="682.2" y="712.3" width="21.3" height="7.2" fill="#ffff06"/><rect x="703.1" y="712.3" width="21.3" height="7.2" fill="#ffff18"/><rect x="724.0" y="712.3" width="21.3" height="7.2" fill="#ffff2b"/><rect x="744.8" y="712.3" width="21.3" height="7.2" fill="#ffff41"/><rect x="765.7" y="712.3" width="21.3" height="7.2" fill="#ffff58"/><rect x="786.6" y="712.3" width="21.3" height="7.2" fill="#ffff49"/><rect x="807.5" y="712.3" width="21.3" height="7.2" fill="#ffff3a"/><rect x="828.4" y="712.3" width="21.3" height="7.2" fill="#ffff2b"/><rect x="849.3" y="712.3" width="21.3" height="7.2" fill="#ffff1c"/><rect x="870.2" y="712.3" width="21.3" height="7.2" fill="#ffff0d"/><rect x="891.1" y="712.3" width="10.8" height="7.2" fill="#fffe00"/><rect x="588.2" y="719.1" width="10.8" height="7.2" fill="#ffca00"/><rect x="598.6" y="719.1" width="21.3" height="7.2" fill="#ffcf00"/><rect x="619.5" y="719.1" width="21.3" height="7.2" fill="#ffdb00"/><rect x="640.4" y="719.1" width="21.3" height="7.2" fill="#ffe600"/><rect x="661.3" y="719.1" width="21.3" height="7.2" fill="#fff700"/><rect x="682.2" y="719.1" width="21.3" height="7.2" fill="#ffff18"/><rect x="703.1" y="719.1" width="21.3" height="7.2" fill="#ffff30"/><rect x="724.0" y="719.1" width="21.3" height="7.2" fill="#ffff49"/><rect x="744.8" y="719.1" width="21.3" height="7.2" fill="#ffff5b"/><rect x="765.7" y="719.1" width="21.3" height="7.2" fill="#ffff6d"/><rect x="786.6" y="719.1" width="21.3" height="7.2" fill="#ffff58"/><rect x="807.5" y="719.1" width="21.3" height="7.2" fill="#ffff43"/><rect x="828.4" y="719.1" width="21.3" height="7.2" fill="#ffff2e"/><rect x="849.3" y="719.1" width="21.3" height="7.2" fill="#ffff19"/><rect x="870.2" y="719.1" width="21.3" height="7.2" fill="#ffff04"/><rect x="891.1" y="719.1" width="10.8" height="7.2" fill="#fff900"/><rect x="588.2" y="725.9" width="10.8" height="7.2" fill="#ffda00"/><rect x="598.6" y="725.9" width="21.3" height="7.2" fill="#ffdd00"/><rect x="619.5" y="725.9" width="21.3" height="7.2" fill="#ffe800"/><rect x="640.4" y="725.9" width="21.3" height="7.2" fill="#fff300"/><rect x="661.3" y="725.9" width="21.3" height="7.2" fill="#ffff05"/><rect x="682.2" y="725.9" width="21.3" height="7.2" fill="#ffff2b"/><rect x="703.1" y="725.9" width="21.3" height="7.2" fill="#ffff49"/><rect x="724.0" y="725.9" width="21.3" height="7.2" fill="#ffff67"/><rect x="744.8" y="725.9" width="21.3" height="7.2" fill="#ffff75"/><rect x="765.7" y="725.9" width="21.3" height="7.2" fill="#ffff80"/><rect x="786.6" y="725.9" width="21.3" height="7.2" fill="#ffff67"/><rect x="807.5" y="725.9" width="21.3" height="7.2" fill="#ffff4c"/><rect x="828.4" y="725.9" width="21.3" height="7.2" fill="#ffff31"/><rect x="849.3" y="725.9" width="21.3" height="7.2" fill="#ffff16"/><rect x="870.2" y="725.9" width="21.3" height="7.2" fill="#fffd00"/><rect x="891.1" y="725.9" width="10.8" height="7.2" fill="#fff300"/><rect x="588.2" y="732.7" width="10.8" height="7.2" fill="#ffea00"/><rect x="598.6" y="732.7" width="21.3" height="7.2" fill="#ffeb00"/><rect x="619.5" y="732.7" width="21.3" height="7.2" fill="#fff500"/><rect x="640.4" y="732.7" width="21.3" height="7.2" fill="#ffff00"/><rect x="661.3" y="732.7" width="21.3" height="7.2" fill="#ffff1e"/><rect x="682.2" y="732.7" width="21.3" height="7.2" fill="#ffff3d"/><rect x="703.1" y="732.7" width="21.3" height="7.2" fill="#ffff61"/><rect x="724.0" y="732.7" width="21.3" height="7.2" fill="#ffff82"/><rect x="744.8" y="732.7" width="21.3" height="7.2" fill="#ffff89"/><rect x="765.7" y="732.7" width="21.3" height="7.2" fill="#ffff90"/><rect x="786.6" y="732.7" width="21.3" height="7.2" fill="#ffff76"/><rect x="807.5" y="732.7" width="21.3" height="7.2" fill="#ffff55"/><rect x="828.4" y="732.7" width="21.3" height="7.2" fill="#ffff34"/><rect x="849.3" y="732.7" width="21.3" height="7.2" fill="#ffff13"/><rect x="870.2" y="732.7" width="21.3" height="7.2" fill="#fffa00"/><rect x="891.1" y="732.7" width="10.8" height="7.2" fill="#ffed00"/><rect x="588.2" y="739.5" width="10.8" height="7.2" fill="#fff500"/><rect x="598.6" y="739.5" width="21.3" height="7.2" fill="#fff700"/><rect x="619.5" y="739.5" width="21.3" height="7.2" fill="#ffff03"/><rect x="640.4" y="739.5" width="21.3" height="7.2" fill="#ffff1c"/><rect x="661.3" y="739.5" width="21.3" height="7.2" fill="#ffff34"/><rect x="682.2" y="739.5" width="21.3" height="7.2" fill="#ffff4d"/><rect x="703.1" y="739.5" width="21.3" height="7.2" fill="#ffff6f"/><rect x="724.0" y="739.5" width="21.3" height="7.2" fill="#ffff8b"/><rect x="744.8" y="739.5" width="21.3" height="7.2" fill="#ffff8c"/><rect x="765.7" y="739.5" width="21.3" height="7.2" fill="#ffff8b"/><rect x="786.6" y="739.5" width="21.3" height="7.2" fill="#ffff6c"/><rect x="807.5" y="739.5" width="21.3" height="7.2" fill="#ffff47"/><rect x="828.4" y="739.5" width="21.3" height="7.2" fill="#ffff21"/><rect x="849.3" y="739.5" width="21.3" height="7.2" fill="#fffd00"/><rect x="870.2" y="739.5" width="21.3" height="7.2" fill="#ffef00"/><rect x="891.1" y="739.5" width="10.8" height="7.2" fill="#ffe100"/><rect x="588.2" y="746.3" width="10.8" height="7.2" fill="#ffff00"/><rect x="598.6" y="746.3" width="21.3" height="7.2" fill="#ffff08"/><rect x="619.5" y="746.3" width="21.3" height="7.2" fill="#ffff1e"/><rect x="640.4" y="746.3" width="21.3" height="7.2" fill="#ffff34"/><rect x="661.3" y="746.3" width="21.3" height="7.2" fill="#ffff48"/><rect x="682.2" y="746.3" width="21.3" height="7.2" fill="#ffff5c"/><rect x="703.1" y="746.3" width="21.3" height="7.2" fill="#ffff77"/><rect x="724.0" y="746.3" width="21.3" height="7.2" fill="#ffff8b"/><rect x="744.8" y="746.3" width="21.3" height="7.2" fill="#ffff83"/><rect x="765.7" y="746.3" width="21.3" height="7.2" fill="#ffff79"/><rect x="786.6" y="746.3" width="21.3" height="7.2" fill="#ffff51"/><rect x="807.5" y="746.3" width="21.3" height="7.2" fill="#ffff28"/><rect x="828.4" y="746.3" width="21.3" height="7.2" fill="#ffff00"/><rect x="849.3" y="746.3" width="21.3" height="7.2" fill="#ffef00"/><rect x="870.2" y="746.3" width="21.3" height="7.2" fill="#ffdf00"/><rect x="891.1" y="746.3" width="10.8" height="7.2" fill="#ffd000"/><rect x="588.2" y="753.1" width="10.8" height="7.2" fill="#ffff17"/><rect x="598.6" y="753.1" width="21.3" height="7.2" fill="#ffff27"/><rect x="619.5" y="753.1" width="21.3" height="7.2" fill="#ffff3a"/><rect x="640.4" y="753.1" width="21.3" height="7.2" fill="#ffff4c"/><rect x="661.3" y="753.1" width="21.3" height="7.2" fill="#ffff5c"/><rect x="682.2" y="753.1" width="21.3" height="7.2" fill="#ffff6b"/><rect x="703.1" y="753.1" width="21.3" height="7.2" fill="#ffff7d"/><rect x="724.0" y="753.1" width="21.3" height="7.2" fill="#ffff8b"/><rect x="744.8" y="753.1" width="21.3" height="7.2" fill="#ffff7a"/><rect x="765.7" y="753.1" width="21.3" height="7.2" fill="#ffff61"/><rect x="786.6" y="753.1" width="21.3" height="7.2" fill="#ffff36"/><rect x="807.5" y="753.1" width="21.3" height="7.2" fill="#ffff0a"/><rect x="828.4" y="753.1" width="21.3" height="7.2" fill="#fff300"/><rect x="849.3" y="753.1" width="21.3" height="7.2" fill="#ffe100"/><rect x="870.2" y="753.1" width="21.3" height="7.2" fill="#ffd000"/><rect x="891.1" y="753.1" width="10.8" height="7.2" fill="#ffc000"/><rect x="588.2" y="759.9" width="10.8" height="7.2" fill="#ffff2f"/><rect x="598.6" y="759.9" width="21.3" height="7.2" fill="#ffff45"/><rect x="619.5" y="759.9" width="21.3" height="7.2" fill="#ffff55"/><rect x="640.4" y="759.9" width="21.3" height="7.2" fill="#ffff65"/><rect x="661.3" y="759.9" width="21.3" height="7.2" fill="#ffff6f"/><rect x="682.2" y="759.9" width="21.3" height="7.2" fill="#ffff79"/><rect x="703.1" y="759.9" width="21.3" height="7.2" fill="#ffff82"/><rect x="724.0" y="759.9" width="21.3" height="7.2" fill="#ffff8c"/><rect x="744.8" y="759.9" width="21.3" height="7.2" fill="#ffff6f"/><rect x="765.7" y="759.9" width="21.3" height="7.2" fill="#ffff49"/><rect x="786.6" y="759.9" width="21.3" height="7.2" fill="#ffff1a"/><rect x="807.5" y="759.9" width="21.3" height="7.2" fill="#fff700"/><rect x="828.4" y="759.9" width="21.3" height="7.2" fill="#ffe600"/><rect x="849.3" y="759.9" width="21.3" height="7.2" fill="#ffd300"/><rect x="870.2" y="759.9" width="21.3" height="7.2" fill="#ffc200"/><rect x="891.1" y="759.9" width="10.8" height="7.2" fill="#ffb100"/><rect x="588.2" y="766.7" width="10.8" height="7.2" fill="#ffff4b"/><rect x="598.6" y="766.7" width="21.3" height="7.2" fill="#ffff62"/><rect x="619.5" y="766.7" width="21.3" height="7.2" fill="#ffff6e"/><rect x="640.4" y="766.7" width="21.3" height="7.2" fill="#ffff79"/><rect x="661.3" y="766.7" width="21.3" height="7.2" fill="#ffff7d"/><rect x="682.2" y="766.7" width="21.3" height="7.2" fill="#ffff81"/><rect x="703.1" y="766.7" width="21.3" height="7.2" fill="#ffff84"/><rect x="724.0" y="766.7" width="21.3" height="7.2" fill="#ffff88"/><rect x="744.8" y="766.7" width="21.3" height="7.2" fill="#ffff5f"/><rect x="765.7" y="766.7" width="21.3" height="7.2" fill="#ffff2f"/><rect x="786.6" y="766.7" width="21.3" height="7.2" fill="#fffe00"/><rect x="807.5" y="766.7" width="21.3" height="7.2" fill="#ffec00"/><rect x="828.4" y="766.7" width="21.3" height="7.2" fill="#ffd900"/><rect x="849.3" y="766.7" width="21.3" height="7.2" fill="#ffc600"/><rect x="870.2" y="766.7" width="21.3" height="7.2" fill="#ffb400"/><rect x="891.1" y="766.7" width="10.8" height="7.2" fill="#ffa200"/><rect x="588.2" y="773.5" width="10.8" height="7.2" fill="#ffff72"/><rect x="598.6" y="773.5" width="21.3" height="7.2" fill="#ffff7a"/><rect x="619.5" y="773.5" width="21.3" height="7.2" fill="#ffff7d"/><rect x="640.4" y="773.5" width="21.3" height="7.2" fill="#ffff80"/><rect x="661.3" y="773.5" width="21.3" height="7.2" fill="#ffff7d"/><rect x="682.2" y="773.5" width="21.3" height="7.2" fill="#ffff7a"/><rect x="703.1" y="773.5" width="21.3" height="7.2" fill="#ffff76"/><rect x="724.0" y="773.5" width="21.3" height="7.2" fill="#ffff72"/><rect x="744.8" y="773.5" width="21.3" height="7.2" fill="#ffff43"/><rect x="765.7" y="773.5" width="21.3" height="7.2" fill="#ffff11"/><rect x="786.6" y="773.5" width="21.3" height="7.2" fill="#fff200"/><rect x="807.5" y="773.5" width="21.3" height="7.2" fill="#ffde00"/><rect x="828.4" y="773.5" width="21.3" height="7.2" fill="#ffcb00"/><rect x="849.3" y="773.5" width="21.3" height="7.2" fill="#ffb900"/><rect x="870.2" y="773.5" width="21.3" height="7.2" fill="#ffa700"/><rect x="891.1" y="773.5" width="10.8" height="7.2" fill="#ff9500"/><rect x="588.2" y="780.3" width="10.8" height="7.2" fill="#ffff91"/><rect x="598.6" y="780.3" width="21.3" height="7.2" fill="#ffff8c"/><rect x="619.5" y="780.3" width="21.3" height="7.2" fill="#ffff8a"/><rect x="640.4" y="780.3" width="21.3" height="7.2" fill="#ffff87"/><rect x="661.3" y="780.3" width="21.3" height="7.2" fill="#ffff7d"/><rect x="682.2" y="780.3" width="21.3" height="7.2" fill="#ffff71"/><rect x="703.1" y="780.3" width="21.3" height="7.2" fill="#ffff64"/><rect x="724.0" y="780.3" width="21.3" height="7.2" fill="#ffff57"/><rect x="744.8" y="780.3" width="21.3" height="7.2" fill="#ffff26"/><rect x="765.7" y="780.3" width="21.3" height="7.2" fill="#fffa00"/><rect x="786.6" y="780.3" width="21.3" height="7.2" fill="#ffe500"/><rect x="807.5" y="780.3" width="21.3" height="7.2" fill="#ffd000"/><rect x="828.4" y="780.3" width="21.3" height="7.2" fill="#ffbd00"/><rect x="849.3" y="780.3" width="21.3" height="7.2" fill="#ffac00"/><rect x="870.2" y="780.3" width="21.3" height="7.2" fill="#ff9a00"/><rect x="891.1" y="780.3" width="10.8" height="7.2" fill="#ff8800"/><rect x="588.2" y="787.1" width="10.8" height="7.2" fill="#ffffaf"/><rect x="598.6" y="787.1" width="21.3" height="7.2" fill="#ffff9e"/><rect x="619.5" y="787.1" width="21.3" height="7.2" fill="#ffff96"/><rect x="640.4" y="787.1" width="21.3" height="7.2" fill="#ffff8e"/><rect x="661.3" y="787.1" width="21.3" height="7.2" fill="#ffff7d"/><rect x="682.2" y="787.1" width="21.3" height="7.2" fill="#ffff67"/><rect x="703.1" y="787.1" width="21.3" height="7.2" fill="#ffff52"/><rect x="724.0" y="787.1" width="21.3" height="7.2" fill="#ffff3c"/><rect x="744.8" y="787.1" width="21.3" height="7.2" fill="#ffff09"/><rect x="765.7" y="787.1" width="21.3" height="7.2" fill="#ffef00"/><rect x="786.6" y="787.1" width="21.3" height="7.2" fill="#ffd900"/><rect x="807.5" y="787.1" width="21.3" height="7.2" fill="#ffc400"/><rect x="828.4" y="787.1" width="21.3" height="7.2" fill="#ffb000"/><rect x="849.3" y="787.1" width="21.3" height="7.2" fill="#ff9f00"/><rect x="870.2" y="787.1" width="21.3" height="7.2" fill="#ff8d00"/><rect x="891.1" y="787.1" width="10.8" height="7.2" fill="#ff7b00"/><rect x="588.2" y="793.9" width="10.8" height="7.2" fill="#ffffca"/><rect x="598.6" y="793.9" width="21.3" height="7.2" fill="#ffffb1"/><rect x="619.5" y="793.9" width="21.3" height="7.2" fill="#ffffa3"/><rect x="640.4" y="793.9" width="21.3" height="7.2" fill="#ffff95"/><rect x="661.3" y="793.9" width="21.3" height="7.2" fill="#ffff7c"/><rect x="682.2" y="793.9" width="21.3" height="7.2" fill="#ffff5e"/><rect x="703.1" y="793.9" width="21.3" height="7.2" fill="#ffff40"/><rect x="724.0" y="793.9" width="21.3" height="7.2" fill="#ffff22"/><rect x="744.8" y="793.9" width="21.3" height="7.2" fill="#fff800"/><rect x="765.7" y="793.9" width="21.3" height="7.2" fill="#ffe300"/><rect x="786.6" y="793.9" width="21.3" height="7.2" fill="#ffcc00"/><rect x="807.5" y="793.9" width="21.3" height="7.2" fill="#ffb800"/><rect x="828.4" y="793.9" width="21.3" height="7.2" fill="#ffa300"/><rect x="849.3" y="793.9" width="21.3" height="7.2" fill="#ff9100"/><rect x="870.2" y="793.9" width="21.3" height="7.2" fill="#ff8000"/><rect x="891.1" y="793.9" width="10.8" height="7.2" fill="#ff6e00"/><rect x="588.2" y="800.7" width="10.8" height="7.2" fill="#ffffd8"/><rect x="598.6" y="800.7" width="21.3" height="7.2" fill="#ffffbb"/><rect x="619.5" y="800.7" width="21.3" height="7.2" fill="#ffffa5"/><rect x="640.4" y="800.7" width="21.3" height="7.2" fill="#ffff8f"/><rect x="661.3" y="800.7" width="21.3" height="7.2" fill="#ffff6f"/><rect x="682.2" y="800.7" width="21.3" height="7.2" fill="#ffff48"/><rect x="703.1" y="800.7" width="21.3" height="7.2" fill="#ffff26"/><rect x="724.0" y="800.7" width="21.3" height="7.2" fill="#ffff04"/><rect x="744.8" y="800.7" width="21.3" height="7.2" fill="#ffeb00"/><rect x="765.7" y="800.7" width="21.3" height="7.2" fill="#ffd400"/><rect x="786.6" y="800.7" width="21.3" height="7.2" fill="#ffbf00"/><rect x="807.5" y="800.7" width="21.3" height="7.2" fill="#ffab00"/><rect x="828.4" y="800.7" width="21.3" height="7.2" fill="#ff9700"/><rect x="849.3" y="800.7" width="21.3" height="7.2" fill="#ff8600"/><rect x="870.2" y="800.7" width="21.3" height="7.2" fill="#ff7400"/><rect x="891.1" y="800.7" width="10.8" height="7.2" fill="#ff6300"/><rect x="588.2" y="807.5" width="10.8" height="7.2" fill="#ffffe5"/><rect x="598.6" y="807.5" width="21.3" height="7.2" fill="#ffffc5"/><rect x="619.5" y="807.5" width="21.3" height="7.2" fill="#ffffa5"/><rect x="640.4" y="807.5" width="21.3" height="7.2" fill="#ffff86"/><rect x="661.3" y="807.5" width="21.3" height="7.2" fill="#ffff5d"/><rect x="682.2" y="807.5" width="21.3" height="7.2" fill="#ffff30"/><rect x="703.1" y="807.5" width="21.3" height="7.2" fill="#ffff0b"/><rect x="724.0" y="807.5" width="21.3" height="7.2" fill="#fff500"/><rect x="744.8" y="807.5" width="21.3" height="7.2" fill="#ffdd00"/><rect x="765.7" y="807.5" width="21.3" height="7.2" fill="#ffc500"/><rect x="786.6" y="807.5" width="21.3" height="7.2" fill="#ffb200"/><rect x="807.5" y="807.5" width="21.3" height="7.2" fill="#ff9e00"/><rect x="828.4" y="807.5" width="21.3" height="7.2" fill="#ff8b00"/><rect x="849.3" y="807.5" width="21.3" height="7.2" fill="#ff7a00"/><rect x="870.2" y="807.5" width="21.3" height="7.2" fill="#ff6a00"/><rect x="891.1" y="807.5" width="10.8" height="7.2" fill="#ff5900"/><rect x="588.2" y="814.3" width="10.8" height="7.2" fill="#ffffed"/><rect x="598.6" y="814.3" width="21.3" height="7.2" fill="#ffffbd"/><rect x="619.5" y="814.3" width="21.3" height="7.2" fill="#ffff99"/><rect x="640.4" y="814.3" width="21.3" height="7.2" fill="#ffff73"/><rect x="661.3" y="814.3" width="21.3" height="7.2" fill="#ffff43"/><rect x="682.2" y="814.3" width="21.3" height="7.2" fill="#ffff14"/><rect x="703.1" y="814.3" width="21.3" height="7.2" fill="#fff700"/><rect x="724.0" y="814.3" width="21.3" height="7.2" fill="#ffe900"/><rect x="744.8" y="814.3" width="21.3" height="7.2" fill="#ffcf00"/><rect x="765.7" y="814.3" width="21.3" height="7.2" fill="#ffb700"/><rect x="786.6" y="814.3" width="21.3" height="7.2" fill="#ffa400"/><rect x="807.5" y="814.3" width="21.3" height="7.2" fill="#ff9100"/><rect x="828.4" y="814.3" width="21.3" height="7.2" fill="#ff7f00"/><rect x="849.3" y="814.3" width="21.3" height="7.2" fill="#ff6f00"/><rect x="870.2" y="814.3" width="21.3" height="7.2" fill="#ff5f00"/><rect x="891.1" y="814.3" width="10.8" height="7.2" fill="#ff4e00"/><rect x="588.2" y="821.1" width="10.8" height="7.2" fill="#fffff2"/><rect x="598.6" y="821.1" width="21.3" height="7.2" fill="#ffffab"/><rect x="619.5" y="821.1" width="21.3" height="7.2" fill="#ffff84"/><rect x="640.4" y="821.1" width="21.3" height="7.2" fill="#ffff55"/><rect x="661.3" y="821.1" width="21.3" height="7.2" fill="#ffff25"/><rect x="682.2" y="821.1" width="21.3" height="7.2" fill="#fffb00"/><rect x="703.1" y="821.1" width="21.3" height="7.2" fill="#ffeb00"/><rect x="724.0" y="821.1" width="21.3" height="7.2" fill="#ffdb00"/><rect x="744.8" y="821.1" width="21.3" height="7.2" fill="#ffc100"/><rect x="765.7" y="821.1" width="21.3" height="7.2" fill="#ffa900"/><rect x="786.6" y="821.1" width="21.3" height="7.2" fill="#ff9700"/><rect x="807.5" y="821.1" width="21.3" height="7.2" fill="#ff8500"/><rect x="828.4" y="821.1" width="21.3" height="7.2" fill="#ff7200"/><rect x="849.3" y="821.1" width="21.3" height="7.2" fill="#ff6300"/><rect x="870.2" y="821.1" width="21.3" height="7.2" fill="#ff5400"/><rect x="891.1" y="821.1" width="10.8" height="7.2" fill="#ff4300"/><rect x="588.2" y="827.9" width="10.8" height="7.2" fill="#ffffef"/><rect x="598.6" y="827.9" width="21.3" height="7.2" fill="#ffff97"/><rect x="619.5" y="827.9" width="21.3" height="7.2" fill="#ffff6d"/><rect x="640.4" y="827.9" width="21.3" height="7.2" fill="#ffff3a"/><rect x="661.3" y="827.9" width="21.3" height="7.2" fill="#ffff06"/><rect x="682.2" y="827.9" width="21.3" height="7.2" fill="#ffee00"/><rect x="703.1" y="827.9" width="21.3" height="7.2" fill="#ffdd00"/><rect x="724.0" y="827.9" width="21.3" height="7.2" fill="#ffcc00"/><rect x="744.8" y="827.9" width="21.3" height="7.2" fill="#ffb400"/><rect x="765.7" y="827.9" width="21.3" height="7.2" fill="#ff9b00"/><rect x="786.6" y="827.9" width="21.3" height="7.2" fill="#ff8a00"/><rect x="807.5" y="827.9" width="21.3" height="7.2" fill="#ff7900"/><rect x="828.4" y="827.9" width="21.3" height="7.2" fill="#ff6800"/><rect x="849.3" y="827.9" width="21.3" height="7.2" fill="#ff5900"/><rect x="870.2" y="827.9" width="21.3" height="7.2" fill="#ff4a00"/><rect x="891.1" y="827.9" width="10.8" height="7.2" fill="#ff3900"/><rect x="588.2" y="834.7" width="10.8" height="7.2" fill="#ffffe1"/><rect x="598.6" y="834.7" width="21.3" height="7.2" fill="#ffff7e"/><rect x="619.5" y="834.7" width="21.3" height="7.2" fill="#ffff51"/><rect x="640.4" y="834.7" width="21.3" height="7.2" fill="#ffff24"/><rect x="661.3" y="834.7" width="21.3" height="7.2" fill="#fff600"/><rect x="682.2" y="834.7" width="21.3" height="7.2" fill="#ffe000"/><rect x="703.1" y="834.7" width="21.3" height="7.2" fill="#ffce00"/><rect x="724.0" y="834.7" width="21.3" height="7.2" fill="#ffbe00"/><rect x="744.8" y="834.7" width="21.3" height="7.2" fill="#ffa600"/><rect x="765.7" y="834.7" width="21.3" height="7.2" fill="#ff8e00"/><rect x="786.6" y="834.7" width="21.3" height="7.2" fill="#ff7e00"/><rect x="807.5" y="834.7" width="21.3" height="7.2" fill="#ff6e00"/><rect x="828.4" y="834.7" width="21.3" height="7.2" fill="#ff5e00"/><rect x="849.3" y="834.7" width="21.3" height="7.2" fill="#ff5100"/><rect x="870.2" y="834.7" width="21.3" height="7.2" fill="#ff4200"/><rect x="891.1" y="834.7" width="10.8" height="7.2" fill="#ff3300"/><rect x="588.2" y="841.5" width="10.8" height="7.2" fill="#ffffd3"/><rect x="598.6" y="841.5" width="21.3" height="7.2" fill="#ffff5e"/><rect x="619.5" y="841.5" width="21.3" height="7.2" fill="#ffff35"/><rect x="640.4" y="841.5" width="21.3" height="7.2" fill="#ffff0d"/><rect x="661.3" y="841.5" width="21.3" height="7.2" fill="#ffea00"/><rect x="682.2" y="841.5" width="21.3" height="7.2" fill="#ffd100"/><rect x="703.1" y="841.5" width="21.3" height="7.2" fill="#ffc000"/><rect x="724.0" y="841.5" width="21.3" height="7.2" fill="#ffaf00"/><rect x="744.8" y="841.5" width="21.3" height="7.2" fill="#ff9800"/><rect x="765.7" y="841.5" width="21.3" height="7.2" fill="#ff8100"/><rect x="786.6" y="841.5" width="21.3" height="7.2" fill="#ff7300"/><rect x="807.5" y="841.5" width="21.3" height="7.2" fill="#ff6400"/><rect x="828.4" y="841.5" width="21.3" height="7.2" fill="#ff5500"/><rect x="849.3" y="841.5" width="21.3" height="7.2" fill="#ff4800"/><rect x="870.2" y="841.5" width="21.3" height="7.2" fill="#ff3a00"/><rect x="891.1" y="841.5" width="10.8" height="7.2" fill="#ff2d00"/><rect x="588.2" y="848.3" width="10.8" height="7.2" fill="#ffffaf"/><rect x="598.6" y="848.3" width="21.3" height="7.2" fill="#ffff2f"/><rect x="619.5" y="848.3" width="21.3" height="7.2" fill="#ffff00"/><rect x="640.4" y="848.3" width="21.3" height="7.2" fill="#ffee00"/><rect x="661.3" y="848.3" width="21.3" height="7.2" fill="#ffd500"/><rect x="682.2" y="848.3" width="21.3" height="7.2" fill="#ffbf00"/><rect x="703.1" y="848.3" width="21.3" height="7.2" fill="#ffae00"/><rect x="724.0" y="848.3" width="21.3" height="7.2" fill="#ff9d00"/><rect x="744.8" y="848.3" width="21.3" height="7.2" fill="#ff8900"/><rect x="765.7" y="848.3" width="21.3" height="7.2" fill="#ff7400"/><rect x="786.6" y="848.3" width="21.3" height="7.2" fill="#ff6600"/><rect x="807.5" y="848.3" width="21.3" height="7.2" fill="#ff5800"/><rect x="828.4" y="848.3" width="21.3" height="7.2" fill="#ff4800"/><rect x="849.3" y="848.3" width="21.3" height="7.2" fill="#ff3d00"/><rect x="870.2" y="848.3" width="21.3" height="7.2" fill="#ff3100"/><rect x="891.1" y="848.3" width="10.8" height="7.2" fill="#ff2600"/><rect x="588.2" y="855.1" width="10.8" height="7.2" fill="#ffff82"/><rect x="598.6" y="855.1" width="21.3" height="7.2" fill="#ffff01"/><rect x="619.5" y="855.1" width="21.3" height="7.2" fill="#ffeb00"/><rect x="640.4" y="855.1" width="21.3" height="7.2" fill="#ffd700"/><rect x="661.3" y="855.1" width="21.3" height="7.2" fill="#ffc100"/><rect x="682.2" y="855.1" width="21.3" height="7.2" fill="#ffad00"/><rect x="703.1" y="855.1" width="21.3" height="7.2" fill="#ff9c00"/><rect x="724.0" y="855.1" width="21.3" height="7.2" fill="#ff8b00"/><rect x="744.8" y="855.1" width="21.3" height="7.2" fill="#ff7900"/><rect x="765.7" y="855.1" width="21.3" height="7.2" fill="#ff6700"/><rect x="786.6" y="855.1" width="21.3" height="7.2" fill="#ff5900"/><rect x="807.5" y="855.1" width="21.3" height="7.2" fill="#ff4b00"/><rect x="828.4" y="855.1" width="21.3" height="7.2" fill="#ff3c00"/><rect x="849.3" y="855.1" width="21.3" height="7.2" fill="#ff3200"/><rect x="870.2" y="855.1" width="21.3" height="7.2" fill="#ff2800"/><rect x="891.1" y="855.1" width="10.8" height="7.2" fill="#fe1e00"/><rect x="588.2" y="861.9" width="10.8" height="7.2" fill="#ffff5d"/><rect x="598.6" y="861.9" width="21.3" height="7.2" fill="#ffef00"/><rect x="619.5" y="861.9" width="21.3" height="7.2" fill="#ffda00"/><rect x="640.4" y="861.9" width="21.3" height="7.2" fill="#ffc600"/><rect x="661.3" y="861.9" width="21.3" height="7.2" fill="#ffb300"/><rect x="682.2" y="861.9" width="21.3" height="7.2" fill="#ffa100"/><rect x="703.1" y="861.9" width="21.3" height="7.2" fill="#ff9000"/><rect x="724.0" y="861.9" width="21.3" height="7.2" fill="#ff7f00"/><rect x="744.8" y="861.9" width="21.3" height="7.2" fill="#ff6f00"/><rect x="765.7" y="861.9" width="21.3" height="7.2" fill="#ff5e00"/><rect x="786.6" y="861.9" width="21.3" height="7.2" fill="#ff5100"/><rect x="807.5" y="861.9" width="21.3" height="7.2" fill="#ff4200"/><rect x="828.4" y="861.9" width="21.3" height="7.2" fill="#ff3400"/><rect x="849.3" y="861.9" width="21.3" height="7.2" fill="#ff2a00"/><rect x="870.2" y="861.9" width="21.3" height="7.2" fill="#fe2100"/><rect x="891.1" y="861.9" width="10.8" height="7.2" fill="#fc1700"/><rect x="588.2" y="868.7" width="10.8" height="7.2" fill="#ffff35"/><rect x="598.6" y="868.7" width="21.3" height="7.2" fill="#ffde00"/><rect x="619.5" y="868.7" width="21.3" height="7.2" fill="#ffc900"/><rect x="640.4" y="868.7" width="21.3" height="7.2" fill="#ffb500"/><rect x="661.3" y="868.7" width="21.3" height="7.2" fill="#ffa500"/><rect x="682.2" y="868.7" width="21.3" height="7.2" fill="#ff9500"/><rect x="703.1" y="868.7" width="21.3" height="7.2" fill="#ff8400"/><rect x="724.0" y="868.7" width="21.3" height="7.2" fill="#ff7300"/><rect x="744.8" y="868.7" width="21.3" height="7.2" fill="#ff6400"/><rect x="765.7" y="868.7" width="21.3" height="7.2" fill="#ff5500"/><rect x="786.6" y="868.7" width="21.3" height="7.2" fill="#ff4700"/><rect x="807.5" y="868.7" width="21.3" height="7.2" fill="#ff3900"/><rect x="828.4" y="868.7" width="21.3" height="7.2" fill="#ff2b00"/><rect x="849.3" y="868.7" width="21.3" height="7.2" fill="#ff2200"/><rect x="870.2" y="868.7" width="21.3" height="7.2" fill="#fc1a00"/><rect x="891.1" y="868.7" width="10.8" height="7.2" fill="#fa1100"/><rect x="588.2" y="875.5" width="10.8" height="7.2" fill="#ffff0d"/><rect x="598.6" y="875.5" width="21.3" height="7.2" fill="#ffcd00"/><rect x="619.5" y="875.5" width="21.3" height="7.2" fill="#ffb900"/><rect x="640.4" y="875.5" width="21.3" height="7.2" fill="#ffa500"/><rect x="661.3" y="875.5" width="21.3" height="7.2" fill="#ff9700"/><rect x="682.2" y="875.5" width="21.3" height="7.2" fill="#ff8900"/><rect x="703.1" y="875.5" width="21.3" height="7.2" fill="#ff7900"/><rect x="724.0" y="875.5" width="21.3" height="7.2" fill="#ff6800"/><rect x="744.8" y="875.5" width="21.3" height="7.2" fill="#ff5a00"/><rect x="765.7" y="875.5" width="21.3" height="7.2" fill="#ff4b00"/><rect x="786.6" y="875.5" width="21.3" height="7.2" fill="#ff3e00"/><rect x="807.5" y="875.5" width="21.3" height="7.2" fill="#ff3000"/><rect x="828.4" y="875.5" width="21.3" height="7.2" fill="#ff2300"/><rect x="849.3" y="875.5" width="21.3" height="7.2" fill="#fd1b00"/><rect x="870.2" y="875.5" width="21.3" height="7.2" fill="#fa1200"/><rect x="891.1" y="875.5" width="10.8" height="7.2" fill="#f80a00"/><rect x="588.2" y="882.4" width="10.8" height="7.2" fill="#fff000"/><rect x="598.6" y="882.4" width="21.3" height="7.2" fill="#ffbd00"/><rect x="619.5" y="882.4" width="21.3" height="7.2" fill="#ffa800"/><rect x="640.4" y="882.4" width="21.3" height="7.2" fill="#ff9300"/><rect x="661.3" y="882.4" width="21.3" height="7.2" fill="#ff8600"/><rect x="682.2" y="882.4" width="21.3" height="7.2" fill="#ff7800"/><rect x="703.1" y="882.4" width="21.3" height="7.2" fill="#ff6900"/><rect x="724.0" y="882.4" width="21.3" height="7.2" fill="#ff5b00"/><rect x="744.8" y="882.4" width="21.3" height="7.2" fill="#ff4d00"/><rect x="765.7" y="882.4" width="21.3" height="7.2" fill="#ff3f00"/><rect x="786.6" y="882.4" width="21.3" height="7.2" fill="#ff3300"/><rect x="807.5" y="882.4" width="21.3" height="7.2" fill="#ff2700"/><rect x="828.4" y="882.4" width="21.3" height="7.2" fill="#fd1b00"/><rect x="849.3" y="882.4" width="21.3" height="7.2" fill="#fa1300"/><rect x="870.2" y="882.4" width="21.3" height="7.2" fill="#f80a00"/><rect x="891.1" y="882.4" width="10.8" height="7.2" fill="#f60200"/><rect x="588.2" y="889.2" width="10.8" height="7.2" fill="#ffdc00"/><rect x="598.6" y="889.2" width="21.3" height="7.2" fill="#ffad00"/><rect x="619.5" y="889.2" width="21.3" height="7.2" fill="#ff9700"/><rect x="640.4" y="889.2" width="21.3" height="7.2" fill="#ff8100"/><rect x="661.3" y="889.2" width="21.3" height="7.2" fill="#ff7400"/><rect x="682.2" y="889.2" width="21.3" height="7.2" fill="#ff6600"/><rect x="703.1" y="889.2" width="21.3" height="7.2" fill="#ff5a00"/><rect x="724.0" y="889.2" width="21.3" height="7.2" fill="#ff4e00"/><rect x="744.8" y="889.2" width="21.3" height="7.2" fill="#ff4000"/><rect x="765.7" y="889.2" width="21.3" height="7.2" fill="#ff3300"/><rect x="786.6" y="889.2" width="21.3" height="7.2" fill="#ff2800"/><rect x="807.5" y="889.2" width="21.3" height="7.2" fill="#fd1e00"/><rect x="828.4" y="889.2" width="21.3" height="7.2" fill="#fa1300"/><rect x="849.3" y="889.2" width="21.3" height="7.2" fill="#f80b00"/><rect x="870.2" y="889.2" width="21.3" height="7.2" fill="#f60200"/><rect x="891.1" y="889.2" width="10.8" height="7.2" fill="#e70000"/><rect x="588.2" y="896.0" width="10.8" height="7.2" fill="#ffc800"/><rect x="598.6" y="896.0" width="21.3" height="7.2" fill="#ff9e00"/><rect x="619.5" y="896.0" width="21.3" height="7.2" fill="#ff8700"/><rect x="640.4" y="896.0" width="21.3" height="7.2" fill="#ff7100"/><rect x="661.3" y="896.0" width="21.3" height="7.2" fill="#ff6300"/><rect x="682.2" y="896.0" width="21.3" height="7.2" fill="#ff5600"/><rect x="703.1" y="896.0" width="21.3" height="7.2" fill="#ff4b00"/><rect x="724.0" y="896.0" width="21.3" height="7.2" fill="#ff4000"/><rect x="744.8" y="896.0" width="21.3" height="7.2" fill="#ff3300"/><rect x="765.7" y="896.0" width="21.3" height="7.2" fill="#ff2700"/><rect x="786.6" y="896.0" width="21.3" height="7.2" fill="#fd1d00"/><rect x="807.5" y="896.0" width="21.3" height="7.2" fill="#fb1400"/><rect x="828.4" y="896.0" width="21.3" height="7.2" fill="#f80a00"/><rect x="849.3" y="896.0" width="21.3" height="7.2" fill="#f60200"/><rect x="870.2" y="896.0" width="21.3" height="7.2" fill="#e90000"/><rect x="891.1" y="896.0" width="10.8" height="7.2" fill="#d70000"/><rect x="588.2" y="902.8" width="10.8" height="7.2" fill="#ffb400"/><rect x="598.6" y="902.8" width="21.3" height="7.2" fill="#ff9000"/><rect x="619.5" y="902.8" width="21.3" height="7.2" fill="#ff7800"/><rect x="640.4" y="902.8" width="21.3" height="7.2" fill="#ff6100"/><rect x="661.3" y="902.8" width="21.3" height="7.2" fill="#ff5400"/><rect x="682.2" y="902.8" width="21.3" height="7.2" fill="#ff4600"/><rect x="703.1" y="902.8" width="21.3" height="7.2" fill="#ff3c00"/><rect x="724.0" y="902.8" width="21.3" height="7.2" fill="#ff3200"/><rect x="744.8" y="902.8" width="21.3" height="7.2" fill="#ff2600"/><rect x="765.7" y="902.8" width="21.3" height="7.2" fill="#fd1b00"/><rect x="786.6" y="902.8" width="21.3" height="7.2" fill="#fa1200"/><rect x="807.5" y="902.8" width="21.3" height="7.2" fill="#f80900"/><rect x="828.4" y="902.8" width="21.3" height="7.2" fill="#f50000"/><rect x="849.3" y="902.8" width="21.3" height="7.2" fill="#e60000"/><rect x="870.2" y="902.8" width="21.3" height="7.2" fill="#d70000"/><rect x="891.1" y="902.8" width="10.8" height="7.2" fill="#c90000"/><rect x="588.2" y="909.6" width="10.8" height="7.2" fill="#ffa100"/><rect x="598.6" y="909.6" width="21.3" height="7.2" fill="#ff8200"/><rect x="619.5" y="909.6" width="21.3" height="7.2" fill="#ff6900"/><rect x="640.4" y="909.6" width="21.3" height="7.2" fill="#ff5000"/><rect x="661.3" y="909.6" width="21.3" height="7.2" fill="#ff4300"/><rect x="682.2" y="909.6" width="21.3" height="7.2" fill="#ff3700"/><rect x="703.1" y="909.6" width="21.3" height="7.2" fill="#ff2d00"/><rect x="724.0" y="909.6" width="21.3" height="7.2" fill="#ff2300"/><rect x="744.8" y="909.6" width="21.3" height="7.2" fill="#fc1900"/><rect x="765.7" y="909.6" width="21.3" height="7.2" fill="#f90f00"/><rect x="786.6" y="909.6" width="21.3" height="7.2" fill="#f70700"/><rect x="807.5" y="909.6" width="21.3" height="7.2" fill="#f10000"/><rect x="828.4" y="909.6" width="21.3" height="7.2" fill="#de0000"/><rect x="849.3" y="909.6" width="21.3" height="7.2" fill="#d20000"/><rect x="870.2" y="909.6" width="21.3" height="7.2" fill="#c60000"/><rect x="891.1" y="909.6" width="10.8" height="7.2" fill="#bb0000"/><rect x="588.2" y="916.4" width="10.8" height="7.2" fill="#ff9800"/><rect x="598.6" y="916.4" width="21.3" height="7.2" fill="#ff7900"/><rect x="619.5" y="916.4" width="21.3" height="7.2" fill="#ff6000"/><rect x="640.4" y="916.4" width="21.3" height="7.2" fill="#ff4600"/><rect x="661.3" y="916.4" width="21.3" height="7.2" fill="#ff3a00"/><rect x="682.2" y="916.4" width="21.3" height="7.2" fill="#ff2e00"/><rect x="703.1" y="916.4" width="21.3" height="7.2" fill="#ff2400"/><rect x="724.0" y="916.4" width="21.3" height="7.2" fill="#fd1a00"/><rect x="744.8" y="916.4" width="21.3" height="7.2" fill="#fa1100"/><rect x="765.7" y="916.4" width="21.3" height="7.2" fill="#f70700"/><rect x="786.6" y="916.4" width="21.3" height="7.2" fill="#f30000"/><rect x="807.5" y="916.4" width="21.3" height="7.2" fill="#e20000"/><rect x="828.4" y="916.4" width="21.3" height="7.2" fill="#d00000"/><rect x="849.3" y="916.4" width="21.3" height="7.2" fill="#c50000"/><rect x="870.2" y="916.4" width="21.3" height="7.2" fill="#ba0000"/><rect x="891.1" y="916.4" width="10.8" height="7.2" fill="#af0000"/><rect x="588.2" y="923.2" width="10.8" height="7.2" fill="#ff8f00"/><rect x="598.6" y="923.2" width="21.3" height="7.2" fill="#ff7000"/><rect x="619.5" y="923.2" width="21.3" height="7.2" fill="#ff5700"/><rect x="640.4" y="923.2" width="21.3" height="7.2" fill="#ff3c00"/><rect x="661.3" y="923.2" width="21.3" height="7.2" fill="#ff3000"/><rect x="682.2" y="923.2" width="21.3" height="7.2" fill="#ff2500"/><rect x="703.1" y="923.2" width="21.3" height="7.2" fill="#fd1b00"/><rect x="724.0" y="923.2" width="21.3" height="7.2" fill="#fa1100"/><rect x="744.8" y="923.2" width="21.3" height="7.2" fill="#f70800"/><rect x="765.7" y="923.2" width="21.3" height="7.2" fill="#f30000"/><rect x="786.6" y="923.2" width="21.3" height="7.2" fill="#e20000"/><rect x="807.5" y="923.2" width="21.3" height="7.2" fill="#d20000"/><rect x="828.4" y="923.2" width="21.3" height="7.2" fill="#c20000"/><rect x="849.3" y="923.2" width="21.3" height="7.2" fill="#b80000"/><rect x="870.2" y="923.2" width="21.3" height="7.2" fill="#ae0000"/><rect x="891.1" y="923.2" width="10.8" height="7.2" fill="#a50000"/><rect x="588.2" y="930.0" width="10.8" height="7.2" fill="#ff8600"/><rect x="598.6" y="930.0" width="21.3" height="7.2" fill="#ff6700"/><rect x="619.5" y="930.0" width="21.3" height="7.2" fill="#ff4e00"/><rect x="640.4" y="930.0" width="21.3" height="7.2" fill="#ff3200"/><rect x="661.3" y="930.0" width="21.3" height="7.2" fill="#ff2700"/><rect x="682.2" y="930.0" width="21.3" height="7.2" fill="#fd1c00"/><rect x="703.1" y="930.0" width="21.3" height="7.2" fill="#fa1200"/><rect x="724.0" y="930.0" width="21.3" height="7.2" fill="#f70800"/><rect x="744.8" y="930.0" width="21.3" height="7.2" fill="#f40000"/><rect x="765.7" y="930.0" width="21.3" height="7.2" fill="#e00000"/><rect x="786.6" y="930.0" width="21.3" height="7.2" fill="#d10000"/><rect x="807.5" y="930.0" width="21.3" height="7.2" fill="#c20000"/><rect x="828.4" y="930.0" width="21.3" height="7.2" fill="#b40000"/><rect x="849.3" y="930.0" width="21.3" height="7.2" fill="#ab0000"/><rect x="870.2" y="930.0" width="21.3" height="7.2" fill="#a30000"/><rect x="891.1" y="930.0" width="10.8" height="7.2" fill="#9b0000"/><rect x="588.2" y="936.8" width="10.8" height="7.2" fill="#ff7d00"/><rect x="598.6" y="936.8" width="21.3" height="7.2" fill="#ff5e00"/><rect x="619.5" y="936.8" width="21.3" height="7.2" fill="#ff4400"/><rect x="640.4" y="936.8" width="21.3" height="7.2" fill="#ff2800"/><rect x="661.3" y="936.8" width="21.3" height="7.2" fill="#fd1d00"/><rect x="682.2" y="936.8" width="21.3" height="7.2" fill="#fa1300"/><rect x="703.1" y="936.8" width="21.3" height="7.2" fill="#f80900"/><rect x="724.0" y="936.8" width="21.3" height="7.2" fill="#f40000"/><rect x="744.8" y="936.8" width="21.3" height="7.2" fill="#e00000"/><rect x="765.7" y="936.8" width="21.3" height="7.2" fill="#cd0000"/><rect x="786.6" y="936.8" width="21.3" height="7.2" fill="#c00000"/><rect x="807.5" y="936.8" width="21.3" height="7.2" fill="#b30000"/><rect x="828.4" y="936.8" width="21.3" height="7.2" fill="#a70000"/><rect x="849.3" y="936.8" width="21.3" height="7.2" fill="#a00000"/><rect x="870.2" y="936.8" width="21.3" height="7.2" fill="#980000"/><rect x="891.1" y="936.8" width="10.8" height="7.2" fill="#910000"/><rect x="588.2" y="943.6" width="10.8" height="7.2" fill="#ff7400"/><rect x="598.6" y="943.6" width="21.3" height="7.2" fill="#ff5500"/><rect x="619.5" y="943.6" width="21.3" height="7.2" fill="#ff3a00"/><rect x="640.4" y="943.6" width="21.3" height="7.2" fill="#fe1e00"/><rect x="661.3" y="943.6" width="21.3" height="7.2" fill="#fb1400"/><rect x="682.2" y="943.6" width="21.3" height="7.2" fill="#f80a00"/><rect x="703.1" y="943.6" width="21.3" height="7.2" fill="#f50000"/><rect x="724.0" y="943.6" width="21.3" height="7.2" fill="#df0000"/><rect x="744.8" y="943.6" width="21.3" height="7.2" fill="#cd0000"/><rect x="765.7" y="943.6" width="21.3" height="7.2" fill="#bb0000"/><rect x="786.6" y="943.6" width="21.3" height="7.2" fill="#af0000"/><rect x="807.5" y="943.6" width="21.3" height="7.2" fill="#a50000"/><rect x="828.4" y="943.6" width="21.3" height="7.2" fill="#9b0000"/><rect x="849.3" y="943.6" width="21.3" height="7.2" fill="#940000"/><rect x="870.2" y="943.6" width="21.3" height="7.2" fill="#8e0000"/><rect x="891.1" y="943.6" width="10.8" height="7.2" fill="#870000"/><rect x="588.2" y="950.4" width="10.8" height="7.2" fill="#ff6700"/><rect x="598.6" y="950.4" width="21.3" height="7.2" fill="#ff4800"/><rect x="619.5" y="950.4" width="21.3" height="7.2" fill="#ff2e00"/><rect x="640.4" y="950.4" width="21.3" height="7.2" fill="#fb1400"/><rect x="661.3" y="950.4" width="21.3" height="7.2" fill="#f80b00"/><rect x="682.2" y="950.4" width="21.3" height="7.2" fill="#f50200"/><rect x="703.1" y="950.4" width="21.3" height="7.2" fill="#e40000"/><rect x="724.0" y="950.4" width="21.3" height="7.2" fill="#ce0000"/><rect x="744.8" y="950.4" width="21.3" height="7.2" fill="#bd0000"/><rect x="765.7" y="950.4" width="21.3" height="7.2" fill="#ad0000"/><rect x="786.6" y="950.4" width="21.3" height="7.2" fill="#a40000"/><rect x="807.5" y="950.4" width="21.3" height="7.2" fill="#9a0000"/><rect x="828.4" y="950.4" width="21.3" height="7.2" fill="#910000"/><rect x="849.3" y="950.4" width="21.3" height="7.2" fill="#8a0000"/><rect x="870.2" y="950.4" width="21.3" height="7.2" fill="#840000"/><rect x="891.1" y="950.4" width="10.8" height="7.2" fill="#7d0000"/><rect x="588.2" y="957.2" width="10.8" height="7.2" fill="#ff5900"/><rect x="598.6" y="957.2" width="21.3" height="7.2" fill="#ff3b00"/><rect x="619.5" y="957.2" width="21.3" height="7.2" fill="#ff2300"/><rect x="640.4" y="957.2" width="21.3" height="7.2" fill="#f80a00"/><rect x="661.3" y="957.2" width="21.3" height="7.2" fill="#f60200"/><rect x="682.2" y="957.2" width="21.3" height="7.2" fill="#e60000"/><rect x="703.1" y="957.2" width="21.3" height="7.2" fill="#d20000"/><rect x="724.0" y="957.2" width="21.3" height="7.2" fill="#be0000"/><rect x="744.8" y="957.2" width="21.3" height="7.2" fill="#ae0000"/><rect x="765.7" y="957.2" width="21.3" height="7.2" fill="#a10000"/><rect x="786.6" y="957.2" width="21.3" height="7.2" fill="#980000"/><rect x="807.5" y="957.2" width="21.3" height="7.2" fill="#900000"/><rect x="828.4" y="957.2" width="21.3" height="7.2" fill="#870000"/><rect x="849.3" y="957.2" width="21.3" height="7.2" fill="#800000"/><rect x="870.2" y="957.2" width="21.3" height="7.2" fill="#7a0000"/><rect x="891.1" y="957.2" width="10.8" height="7.2" fill="#730000"/><rect x="588.2" y="964.0" width="10.8" height="7.2" fill="#ff4b00"/><rect x="598.6" y="964.0" width="21.3" height="7.2" fill="#ff2e00"/><rect x="619.5" y="964.0" width="21.3" height="7.2" fill="#fc1700"/><rect x="640.4" y="964.0" width="21.3" height="7.2" fill="#f50000"/><rect x="661.3" y="964.0" width="21.3" height="7.2" fill="#e40000"/><rect x="682.2" y="964.0" width="21.3" height="7.2" fill="#d30000"/><rect x="703.1" y="964.0" width="21.3" height="7.2" fill="#c00000"/><rect x="724.0" y="964.0" width="21.3" height="7.2" fill="#ae0000"/><rect x="744.8" y="964.0" width="21.3" height="7.2" fill="#a10000"/><rect x="765.7" y="964.0" width="21.3" height="7.2" fill="#950000"/><rect x="786.6" y="964.0" width="21.3" height="7.2" fill="#8d0000"/><rect x="807.5" y="964.0" width="21.3" height="7.2" fill="#850000"/><rect x="828.4" y="964.0" width="21.3" height="7.2" fill="#7d0000"/><rect x="849.3" y="964.0" width="21.3" height="7.2" fill="#760000"/><rect x="870.2" y="964.0" width="21.3" height="7.2" fill="#700000"/><rect x="891.1" y="964.0" width="10.8" height="7.2" fill="#690000"/><rect x="588.2" y="970.8" width="10.8" height="7.2" fill="#ff3c00"/><rect x="598.6" y="970.8" width="21.3" height="7.2" fill="#fe2100"/><rect x="619.5" y="970.8" width="21.3" height="7.2" fill="#f80c00"/><rect x="640.4" y="970.8" width="21.3" height="7.2" fill="#de0000"/><rect x="661.3" y="970.8" width="21.3" height="7.2" fill="#cf0000"/><rect x="682.2" y="970.8" width="21.3" height="7.2" fill="#c10000"/><rect x="703.1" y="970.8" width="21.3" height="7.2" fill="#af0000"/><rect x="724.0" y="970.8" width="21.3" height="7.2" fill="#a00000"/><rect x="744.8" y="970.8" width="21.3" height="7.2" fill="#940000"/><rect x="765.7" y="970.8" width="21.3" height="7.2" fill="#890000"/><rect x="786.6" y="970.8" width="21.3" height="7.2" fill="#820000"/><rect x="807.5" y="970.8" width="21.3" height="7.2" fill="#7a0000"/><rect x="828.4" y="970.8" width="21.3" height="7.2" fill="#730000"/><rect x="849.3" y="970.8" width="21.3" height="7.2" fill="#6c0000"/><rect x="870.2" y="970.8" width="21.3" height="7.2" fill="#660000"/><rect x="891.1" y="970.8" width="10.8" height="7.2" fill="#5f0000"/><rect x="588.2" y="977.6" width="10.8" height="7.2" fill="#ff2d00"/><rect x="598.6" y="977.6" width="21.3" height="7.2" fill="#fb1400"/><rect x="619.5" y="977.6" width="21.3" height="7.2" fill="#f50000"/><rect x="640.4" y="977.6" width="21.3" height="7.2" fill="#c60000"/><rect x="661.3" y="977.6" width="21.3" height="7.2" fill="#ba0000"/><rect x="682.2" y="977.6" width="21.3" height="7.2" fill="#ae0000"/><rect x="703.1" y="977.6" width="21.3" height="7.2" fill="#a00000"/><rect x="724.0" y="977.6" width="21.3" height="7.2" fill="#920000"/><rect x="744.8" y="977.6" width="21.3" height="7.2" fill="#870000"/><rect x="765.7" y="977.6" width="21.3" height="7.2" fill="#7d0000"/><rect x="786.6" y="977.6" width="21.3" height="7.2" fill="#760000"/><rect x="807.5" y="977.6" width="21.3" height="7.2" fill="#700000"/><rect x="828.4" y="977.6" width="21.3" height="7.2" fill="#690000"/><rect x="849.3" y="977.6" width="21.3" height="7.2" fill="#620000"/><rect x="870.2" y="977.6" width="21.3" height="7.2" fill="#5c0000"/><rect x="891.1" y="977.6" width="10.8" height="7.2" fill="#550000"/><rect x="588.2" y="984.4" width="10.8" height="7.2" fill="#ff2300"/><rect x="598.6" y="984.4" width="21.3" height="7.2" fill="#f80a00"/><rect x="619.5" y="984.4" width="21.3" height="7.2" fill="#e10000"/><rect x="640.4" y="984.4" width="21.3" height="7.2" fill="#b60000"/><rect x="661.3" y="984.4" width="21.3" height="7.2" fill="#ab0000"/><rect x="682.2" y="984.4" width="21.3" height="7.2" fill="#a00000"/><rect x="703.1" y="984.4" width="21.3" height="7.2" fill="#930000"/><rect x="724.0" y="984.4" width="21.3" height="7.2" fill="#860000"/><rect x="744.8" y="984.4" width="21.3" height="7.2" fill="#7c0000"/><rect x="765.7" y="984.4" width="21.3" height="7.2" fill="#730000"/><rect x="786.6" y="984.4" width="21.3" height="7.2" fill="#6d0000"/><rect x="807.5" y="984.4" width="21.3" height="7.2" fill="#670000"/><rect x="828.4" y="984.4" width="21.3" height="7.2" fill="#610000"/><rect x="849.3" y="984.4" width="21.3" height="7.2" fill="#5b0000"/><rect x="870.2" y="984.4" width="21.3" height="7.2" fill="#550000"/><rect x="891.1" y="984.4" width="10.8" height="7.2" fill="#510000"/><rect x="588.2" y="991.2" width="10.8" height="7.2" fill="#fc1900"/><rect x="598.6" y="991.2" width="21.3" height="7.2" fill="#f50000"/><rect x="619.5" y="991.2" width="21.3" height="7.2" fill="#cd0000"/><rect x="640.4" y="991.2" width="21.3" height="7.2" fill="#a70000"/><rect x="661.3" y="991.2" width="21.3" height="7.2" fill="#9d0000"/><rect x="682.2" y="991.2" width="21.3" height="7.2" fill="#920000"/><rect x="703.1" y="991.2" width="21.3" height="7.2" fill="#860000"/><rect x="724.0" y="991.2" width="21.3" height="7.2" fill="#7a0000"/><rect x="744.8" y="991.2" width="21.3" height="7.2" fill="#710000"/><rect x="765.7" y="991.2" width="21.3" height="7.2" fill="#690000"/><rect x="786.6" y="991.2" width="21.3" height="7.2" fill="#640000"/><rect x="807.5" y="991.2" width="21.3" height="7.2" fill="#5e0000"/><rect x="828.4" y="991.2" width="21.3" height="7.2" fill="#590000"/><rect x="849.3" y="991.2" width="21.3" height="7.2" fill="#540000"/><rect x="870.2" y="991.2" width="21.3" height="7.2" fill="#500000"/><rect x="891.1" y="991.2" width="10.8" height="7.2" fill="#4c0000"/><rect x="588.2" y="998.0" width="10.8" height="7.2" fill="#f90f00"/><rect x="598.6" y="998.0" width="21.3" height="7.2" fill="#de0000"/><rect x="619.5" y="998.0" width="21.3" height="7.2" fill="#ba0000"/><rect x="640.4" y="998.0" width="21.3" height="7.2" fill="#990000"/><rect x="661.3" y="998.0" width="21.3" height="7.2" fill="#8f0000"/><rect x="682.2" y="998.0" width="21.3" height="7.2" fill="#840000"/><rect x="703.1" y="998.0" width="21.3" height="7.2" fill="#790000"/><rect x="724.0" y="998.0" width="21.3" height="7.2" fill="#6e0000"/><rect x="744.8" y="998.0" width="21.3" height="7.2" fill="#660000"/><rect x="765.7" y="998.0" width="21.3" height="7.2" fill="#5f0000"/><rect x="786.6" y="998.0" width="21.3" height="7.2" fill="#5a0000"/><rect x="807.5" y="998.0" width="21.3" height="7.2" fill="#560000"/><rect x="828.4" y="998.0" width="21.3" height="7.2" fill="#520000"/><rect x="849.3" y="998.0" width="21.3" height="7.2" fill="#4f0000"/><rect x="870.2" y="998.0" width="21.3" height="7.2" fill="#4b0000"/><rect x="891.1" y="998.0" width="10.8" height="7.2" fill="#480000"/><rect x="588.2" y="1004.8" width="10.8" height="7.2" fill="#f60500"/><rect x="598.6" y="1004.8" width="21.3" height="7.2" fill="#c70000"/><rect x="619.5" y="1004.8" width="21.3" height="7.2" fill="#a70000"/><rect x="640.4" y="1004.8" width="21.3" height="7.2" fill="#8b0000"/><rect x="661.3" y="1004.8" width="21.3" height="7.2" fill="#810000"/><rect x="682.2" y="1004.8" width="21.3" height="7.2" fill="#760000"/><rect x="703.1" y="1004.8" width="21.3" height="7.2" fill="#6c0000"/><rect x="724.0" y="1004.8" width="21.3" height="7.2" fill="#620000"/><rect x="744.8" y="1004.8" width="21.3" height="7.2" fill="#5b0000"/><rect x="765.7" y="1004.8" width="21.3" height="7.2" fill="#550000"/><rect x="786.6" y="1004.8" width="21.3" height="7.2" fill="#520000"/><rect x="807.5" y="1004.8" width="21.3" height="7.2" fill="#4f0000"/><rect x="828.4" y="1004.8" width="21.3" height="7.2" fill="#4c0000"/><rect x="849.3" y="1004.8" width="21.3" height="7.2" fill="#4a0000"/><rect x="870.2" y="1004.8" width="21.3" height="7.2" fill="#470000"/><rect x="891.1" y="1004.8" width="10.8" height="7.2" fill="#440000"/><rect x="588.2" y="1011.6" width="10.8" height="7.2" fill="#e90000"/><rect x="598.6" y="1011.6" width="21.3" height="7.2" fill="#af0000"/><rect x="619.5" y="1011.6" width="21.3" height="7.2" fill="#960000"/><rect x="640.4" y="1011.6" width="21.3" height="7.2" fill="#7d0000"/><rect x="661.3" y="1011.6" width="21.3" height="7.2" fill="#730000"/><rect x="682.2" y="1011.6" width="21.3" height="7.2" fill="#690000"/><rect x="703.1" y="1011.6" width="21.3" height="7.2" fill="#5f0000"/><rect x="724.0" y="1011.6" width="21.3" height="7.2" fill="#550000"/><rect x="744.8" y="1011.6" width="21.3" height="7.2" fill="#520000"/><rect x="765.7" y="1011.6" width="21.3" height="7.2" fill="#4e0000"/><rect x="786.6" y="1011.6" width="21.3" height="7.2" fill="#4b0000"/><rect x="807.5" y="1011.6" width="21.3" height="7.2" fill="#490000"/><rect x="828.4" y="1011.6" width="21.3" height="7.2" fill="#470000"/><rect x="849.3" y="1011.6" width="21.3" height="7.2" fill="#440000"/><rect x="870.2" y="1011.6" width="21.3" height="7.2" fill="#420000"/><rect x="891.1" y="1011.6" width="10.8" height="7.2" fill="#400000"/><rect x="588.2" y="1018.4" width="10.8" height="7.2" fill="#d90000"/><rect x="598.6" y="1018.4" width="21.3" height="7.2" fill="#a50000"/><rect x="619.5" y="1018.4" width="21.3" height="7.2" fill="#8d0000"/><rect x="640.4" y="1018.4" width="21.3" height="7.2" fill="#750000"/><rect x="661.3" y="1018.4" width="21.3" height="7.2" fill="#6c0000"/><rect x="682.2" y="1018.4" width="21.3" height="7.2" fill="#630000"/><rect x="703.1" y="1018.4" width="21.3" height="7.2" fill="#590000"/><rect x="724.0" y="1018.4" width="21.3" height="7.2" fill="#510000"/><rect x="744.8" y="1018.4" width="21.3" height="7.2" fill="#4e0000"/><rect x="765.7" y="1018.4" width="21.3" height="7.2" fill="#4b0000"/><rect x="786.6" y="1018.4" width="21.3" height="7.2" fill="#490000"/><rect x="807.5" y="1018.4" width="21.3" height="7.2" fill="#460000"/><rect x="828.4" y="1018.4" width="21.3" height="7.2" fill="#440000"/><rect x="849.3" y="1018.4" width="21.3" height="7.2" fill="#420000"/><rect x="870.2" y="1018.4" width="21.3" height="7.2" fill="#400000"/><rect x="891.1" y="1018.4" width="10.8" height="7.2" fill="#3e0000"/><rect x="588.2" y="1025.2" width="10.8" height="7.2" fill="#c90000"/><rect x="598.6" y="1025.2" width="21.3" height="7.2" fill="#9b0000"/><rect x="619.5" y="1025.2" width="21.3" height="7.2" fill="#840000"/><rect x="640.4" y="1025.2" width="21.3" height="7.2" fill="#6d0000"/><rect x="661.3" y="1025.2" width="21.3" height="7.2" fill="#650000"/><rect x="682.2" y="1025.2" width="21.3" height="7.2" fill="#5d0000"/><rect x="703.1" y="1025.2" width="21.3" height="7.2" fill="#540000"/><rect x="724.0" y="1025.2" width="21.3" height="7.2" fill="#4d0000"/><rect x="744.8" y="1025.2" width="21.3" height="7.2" fill="#4a0000"/><rect x="765.7" y="1025.2" width="21.3" height="7.2" fill="#480000"/><rect x="786.6" y="1025.2" width="21.3" height="7.2" fill="#460000"/><rect x="807.5" y="1025.2" width="21.3" height="7.2" fill="#430000"/><rect x="828.4" y="1025.2" width="21.3" height="7.2" fill="#410000"/><rect x="849.3" y="1025.2" width="21.3" height="7.2" fill="#400000"/><rect x="870.2" y="1025.2" width="21.3" height="7.2" fill="#3e0000"/><rect x="891.1" y="1025.2" width="10.8" height="7.2" fill="#3d0000"/><rect x="588.2" y="1032.0" width="10.8" height="7.2" fill="#b80000"/><rect x="598.6" y="1032.0" width="21.3" height="7.2" fill="#910000"/><rect x="619.5" y="1032.0" width="21.3" height="7.2" fill="#7b0000"/><rect x="640.4" y="1032.0" width="21.3" height="7.2" fill="#650000"/><rect x="661.3" y="1032.0" width="21.3" height="7.2" fill="#5e0000"/><rect x="682.2" y="1032.0" width="21.3" height="7.2" fill="#570000"/><rect x="703.1" y="1032.0" width="21.3" height="7.2" fill="#4f0000"/><rect x="724.0" y="1032.0" width="21.3" height="7.2" fill="#480000"/><rect x="744.8" y="1032.0" width="21.3" height="7.2" fill="#470000"/><rect x="765.7" y="1032.0" width="21.3" height="7.2" fill="#450000"/><rect x="786.6" y="1032.0" width="21.3" height="7.2" fill="#430000"/><rect x="807.5" y="1032.0" width="21.3" height="7.2" fill="#400000"/><rect x="828.4" y="1032.0" width="21.3" height="7.2" fill="#3e0000"/><rect x="849.3" y="1032.0" width="21.3" height="7.2" fill="#3d0000"/><rect x="870.2" y="1032.0" width="21.3" height="7.2" fill="#3c0000"/><rect x="891.1" y="1032.0" width="10.8" height="7.2" fill="#3b0000"/><rect x="588.2" y="1038.8" width="10.8" height="7.2" fill="#a90000"/><rect x="598.6" y="1038.8" width="21.3" height="7.2" fill="#870000"/><rect x="619.5" y="1038.8" width="21.3" height="7.2" fill="#720000"/><rect x="640.4" y="1038.8" width="21.3" height="7.2" fill="#5d0000"/><rect x="661.3" y="1038.8" width="21.3" height="7.2" fill="#570000"/><rect x="682.2" y="1038.8" width="21.3" height="7.2" fill="#520000"/><rect x="703.1" y="1038.8" width="21.3" height="7.2" fill="#4b0000"/><rect x="724.0" y="1038.8" width="21.3" height="7.2" fill="#440000"/><rect x="744.8" y="1038.8" width="21.3" height="7.2" fill="#430000"/><rect x="765.7" y="1038.8" width="21.3" height="7.2" fill="#420000"/><rect x="786.6" y="1038.8" width="21.3" height="7.2" fill="#400000"/><rect x="807.5" y="1038.8" width="21.3" height="7.2" fill="#3e0000"/><rect x="828.4" y="1038.8" width="21.3" height="7.2" fill="#3b0000"/><rect x="849.3" y="1038.8" width="21.3" height="7.2" fill="#3b0000"/><rect x="870.2" y="1038.8" width="21.3" height="7.2" fill="#3a0000"/><rect x="891.1" y="1038.8" width="10.8" height="7.2" fill="#3a0000"/><rect x="588.2" y="1045.6" width="10.8" height="3.8" fill="#9b0000"/><rect x="598.6" y="1045.6" width="21.3" height="3.8" fill="#7d0000"/><rect x="619.5" y="1045.6" width="21.3" height="3.8" fill="#690000"/><rect x="640.4" y="1045.6" width="21.3" height="3.8" fill="#550000"/><rect x="661.3" y="1045.6" width="21.3" height="3.8" fill="#510000"/><rect x="682.2" y="1045.6" width="21.3" height="3.8" fill="#4d0000"/><rect x="703.1" y="1045.6" width="21.3" height="3.8" fill="#470000"/><rect x="724.0" y="1045.6" width="21.3" height="3.8" fill="#400000"/><rect x="744.8" y="1045.6" width="21.3" height="3.8" fill="#400000"/><rect x="765.7" y="1045.6" width="21.3" height="3.8" fill="#400000"/><rect x="786.6" y="1045.6" width="21.3" height="3.8" fill="#3d0000"/><rect x="807.5" y="1045.6" width="21.3" height="3.8" fill="#3b0000"/><rect x="828.4" y="1045.6" width="21.3" height="3.8" fill="#380000"/><rect x="849.3" y="1045.6" width="21.3" height="3.8" fill="#380000"/><rect x="870.2" y="1045.6" width="21.3" height="3.8" fill="#380000"/><rect x="891.1" y="1045.6" width="10.8" height="3.8" fill="#380000"/></g>
<g shape-rendering="crispEdges"><rect x="907.8" y="714.00" width="21.9" height="4.78" fill="#fffff1"/><rect x="907.8" y="718.18" width="21.9" height="4.78" fill="#ffffea"/><rect x="907.8" y="722.36" width="21.9" height="4.78" fill="#ffffe3"/><rect x="907.8" y="726.54" width="21.9" height="4.78" fill="#ffffdc"/><rect x="907.8" y="730.72" width="21.9" height="4.78" fill="#ffffd5"/><rect x="907.8" y="734.90" width="21.9" height="4.78" fill="#ffffce"/><rect x="907.8" y="739.08" width="21.9" height="4.78" fill="#ffffc7"/><rect x="907.8" y="743.26" width="21.9" height="4.78" fill="#ffffba"/><rect x="907.8" y="747.44" width="21.9" height="4.78" fill="#ffffae"/><rect x="907.8" y="751.62" width="21.9" height="4.78" fill="#ffffa1"/><rect x="907.8" y="755.80" width="21.9" height="4.78" fill="#ffff95"/><rect x="907.8" y="759.98" width="21.9" height="4.78" fill="#ffff88"/><rect x="907.8" y="764.16" width="21.9" height="4.78" fill="#ffff7c"/><rect x="907.8" y="768.34" width="21.9" height="4.78" fill="#ffff6c"/><rect x="907.8" y="772.52" width="21.9" height="4.78" fill="#ffff5c"/><rect x="907.8" y="776.70" width="21.9" height="4.78" fill="#ffff4b"/><rect x="907.8" y="780.88" width="21.9" height="4.78" fill="#ffff3a"/><rect x="907.8" y="785.06" width="21.9" height="4.78" fill="#ffff2a"/><rect x="907.8" y="789.24" width="21.9" height="4.78" fill="#ffff19"/><rect x="907.8" y="793.42" width="21.9" height="4.78" fill="#ffff08"/><rect x="907.8" y="797.60" width="21.9" height="4.78" fill="#fffc00"/><rect x="907.8" y="801.78" width="21.9" height="4.78" fill="#fff600"/><rect x="907.8" y="805.96" width="21.9" height="4.78" fill="#ffef00"/><rect x="907.8" y="810.14" width="21.9" height="4.78" fill="#ffe900"/><rect x="907.8" y="814.32" width="21.9" height="4.78" fill="#ffe300"/><rect x="907.8" y="818.50" width="21.9" height="4.78" fill="#ffdd00"/><rect x="907.8" y="822.68" width="21.9" height="4.78" fill="#ffd600"/><rect x="907.8" y="826.86" width="21.9" height="4.78" fill="#ffd000"/><rect x="907.8" y="831.04" width="21.9" height="4.78" fill="#ffca00"/><rect x="907.8" y="835.22" width="21.9" height="4.78" fill="#ffc500"/><rect x="907.8" y="839.40" width="21.9" height="4.78" fill="#ffbf00"/><rect x="907.8" y="843.58" width="21.9" height="4.78" fill="#ffba00"/><rect x="907.8" y="847.76" width="21.9" height="4.78" fill="#ffb400"/><rect x="907.8" y="851.94" width="21.9" height="4.78" fill="#ffae00"/><rect x="907.8" y="856.12" width="21.9" height="4.78" fill="#ffa900"/><rect x="907.8" y="860.30" width="21.9" height="4.78" fill="#ffa300"/><rect x="907.8" y="864.48" width="21.9" height="4.78" fill="#ff9e00"/><rect x="907.8" y="868.66" width="21.9" height="4.78" fill="#ff9800"/><rect x="907.8" y="872.84" width="21.9" height="4.78" fill="#ff9300"/><rect x="907.8" y="877.02" width="21.9" height="4.78" fill="#ff8d00"/><rect x="907.8" y="881.20" width="21.9" height="4.78" fill="#ff8800"/><rect x="907.8" y="885.38" width="21.9" height="4.78" fill="#ff8200"/><rect x="907.8" y="889.56" width="21.9" height="4.78" fill="#ff7c00"/><rect x="907.8" y="893.74" width="21.9" height="4.78" fill="#ff7700"/><rect x="907.8" y="897.92" width="21.9" height="4.78" fill="#ff7100"/><rect x="907.8" y="902.10" width="21.9" height="4.78" fill="#ff6c00"/><rect x="907.8" y="906.28" width="21.9" height="4.78" fill="#ff6600"/><rect x="907.8" y="910.46" width="21.9" height="4.78" fill="#ff6100"/><rect x="907.8" y="914.64" width="21.9" height="4.78" fill="#ff5b00"/><rect x="907.8" y="918.82" width="21.9" height="4.78" fill="#ff5600"/><rect x="907.8" y="923.00" width="21.9" height="4.78" fill="#ff4f00"/><rect x="907.8" y="927.18" width="21.9" height="4.78" fill="#ff4900"/><rect x="907.8" y="931.36" width="21.9" height="4.78" fill="#ff4300"/><rect x="907.8" y="935.54" width="21.9" height="4.78" fill="#ff3d00"/><rect x="907.8" y="939.72" width="21.9" height="4.78" fill="#ff3600"/><rect x="907.8" y="943.90" width="21.9" height="4.78" fill="#ff3000"/><rect x="907.8" y="948.08" width="21.9" height="4.78" fill="#ff2a00"/><rect x="907.8" y="952.26" width="21.9" height="4.78" fill="#ff2400"/><rect x="907.8" y="956.44" width="21.9" height="4.78" fill="#fd1d00"/><rect x="907.8" y="960.62" width="21.9" height="4.78" fill="#fc1700"/><rect x="907.8" y="964.80" width="21.9" height="4.78" fill="#fa1100"/><rect x="907.8" y="968.98" width="21.9" height="4.78" fill="#f80b00"/><rect x="907.8" y="973.16" width="21.9" height="4.78" fill="#f60400"/><rect x="907.8" y="977.34" width="21.9" height="4.78" fill="#f10000"/><rect x="907.8" y="981.52" width="21.9" height="4.78" fill="#e20000"/><rect x="907.8" y="985.70" width="21.9" height="4.78" fill="#d30000"/><rect x="907.8" y="989.88" width="21.9" height="4.78" fill="#c50000"/><rect x="907.8" y="994.06" width="21.9" height="4.78" fill="#b60000"/><rect x="907.8" y="998.24" width="21.9" height="4.78" fill="#a90000"/><rect x="907.8" y="1002.42" width="21.9" height="4.78" fill="#9c0000"/><rect x="907.8" y="1006.60" width="21.9" height="4.78" fill="#900000"/><rect x="907.8" y="1010.78" width="21.9" height="4.78" fill="#830000"/><rect x="907.8" y="1014.96" width="21.9" height="4.78" fill="#770000"/><rect x="907.8" y="1019.14" width="21.9" height="4.78" fill="#6a0000"/><rect x="907.8" y="1023.32" width="21.9" height="4.78" fill="#5e0000"/><rect x="907.8" y="1027.50" width="21.9" height="4.78" fill="#520000"/><rect x="907.8" y="1031.68" width="21.9" height="4.78" fill="#490000"/><rect x="907.8" y="1035.86" width="21.9" height="4.78" fill="#400000"/><rect x="907.8" y="1040.04" width="21.9" height="4.78" fill="#370000"/><rect x="907.8" y="1044.22" width="21.9" height="4.18" fill="#2e0000"/></g>
<text x="935.6" y="737.3" font-size="31.5" transform="matrix(1 0 0 1.040 0 -29.49)">3.97</text>
<text x="935.6" y="798.6" font-size="31.5" transform="matrix(1 0 0 1.040 0 -31.94)">3.24</text>
<text x="935.6" y="859.9" font-size="31.5" transform="matrix(1 0 0 1.040 0 -34.40)">2.51</text>
<text x="935.6" y="921.2" font-size="31.5" transform="matrix(1 0 0 1.040 0 -36.85)">1.77</text>
<text x="935.6" y="982.5" font-size="31.5" transform="matrix(1 0 0 1.040 0 -39.30)">1.04</text>
<text x="935.6" y="1043.8" font-size="31.5" transform="matrix(1 0 0 1.040 0 -41.75)">0.31</text>
<g shape-rendering="crispEdges"><rect x="1087.3" y="704.6" width="31.5" height="3.8" fill="#f90f00"/><rect x="1118.4" y="704.6" width="62.5" height="3.8" fill="#fa1000"/><rect x="1180.5" y="704.6" width="62.5" height="3.8" fill="#fa1200"/><rect x="1242.6" y="704.6" width="62.5" height="3.8" fill="#fb1300"/><rect x="1304.7" y="704.6" width="62.5" height="3.8" fill="#fb1500"/><rect x="1366.8" y="704.6" width="31.5" height="3.8" fill="#fb1600"/><rect x="1087.3" y="708.0" width="31.5" height="7.3" fill="#fd1b00"/><rect x="1118.4" y="708.0" width="62.5" height="7.3" fill="#fd1c00"/><rect x="1180.5" y="708.0" width="62.5" height="7.3" fill="#fe1e00"/><rect x="1242.6" y="708.0" width="62.5" height="7.3" fill="#fe1f00"/><rect x="1304.7" y="708.0" width="62.5" height="7.3" fill="#fe2100"/><rect x="1366.8" y="708.0" width="31.5" height="7.3" fill="#ff2300"/><rect x="1087.3" y="714.9" width="31.5" height="7.3" fill="#ff2600"/><rect x="1118.4" y="714.9" width="62.5" height="7.3" fill="#ff2800"/><rect x="1180.5" y="714.9" width="62.5" height="7.3" fill="#ff2a00"/><rect x="1242.6" y="714.9" width="62.5" height="7.3" fill="#ff2b00"/><rect x="1304.7" y="714.9" width="62.5" height="7.3" fill="#ff2d00"/><rect x="1366.8" y="714.9" width="31.5" height="7.3" fill="#ff2f00"/><rect x="1087.3" y="721.8" width="31.5" height="7.3" fill="#ff3300"/><rect x="1118.4" y="721.8" width="62.5" height="7.3" fill="#ff3500"/><rect x="1180.5" y="721.8" width="62.5" height="7.3" fill="#ff3700"/><rect x="1242.6" y="721.8" width="62.5" height="7.3" fill="#ff3900"/><rect x="1304.7" y="721.8" width="62.5" height="7.3" fill="#ff3b00"/><rect x="1366.8" y="721.8" width="31.5" height="7.3" fill="#ff3d00"/><rect x="1087.3" y="728.6" width="31.5" height="7.3" fill="#ff4300"/><rect x="1118.4" y="728.6" width="62.5" height="7.3" fill="#ff4500"/><rect x="1180.5" y="728.6" width="62.5" height="7.3" fill="#ff4700"/><rect x="1242.6" y="728.6" width="62.5" height="7.3" fill="#ff4900"/><rect x="1304.7" y="728.6" width="62.5" height="7.3" fill="#ff4b00"/><rect x="1366.8" y="728.6" width="31.5" height="7.3" fill="#ff4e00"/><rect x="1087.3" y="735.5" width="31.5" height="7.3" fill="#ff5200"/><rect x="1118.4" y="735.5" width="62.5" height="7.3" fill="#ff5500"/><rect x="1180.5" y="735.5" width="62.5" height="7.3" fill="#ff5700"/><rect x="1242.6" y="735.5" width="62.5" height="7.3" fill="#ff5900"/><rect x="1304.7" y="735.5" width="62.5" height="7.3" fill="#ff5b00"/><rect x="1366.8" y="735.5" width="31.5" height="7.3" fill="#ff5d00"/><rect x="1087.3" y="742.4" width="31.5" height="7.3" fill="#ff6200"/><rect x="1118.4" y="742.4" width="62.5" height="7.3" fill="#ff6400"/><rect x="1180.5" y="742.4" width="62.5" height="7.3" fill="#ff6600"/><rect x="1242.6" y="742.4" width="62.5" height="7.3" fill="#ff6900"/><rect x="1304.7" y="742.4" width="62.5" height="7.3" fill="#ff6b00"/><rect x="1366.8" y="742.4" width="31.5" height="7.3" fill="#ff6d00"/><rect x="1087.3" y="749.2" width="31.5" height="7.3" fill="#ff7100"/><rect x="1118.4" y="749.2" width="62.5" height="7.3" fill="#ff7400"/><rect x="1180.5" y="749.2" width="62.5" height="7.3" fill="#ff7600"/><rect x="1242.6" y="749.2" width="62.5" height="7.3" fill="#ff7900"/><rect x="1304.7" y="749.2" width="62.5" height="7.3" fill="#ff7b00"/><rect x="1366.8" y="749.2" width="31.5" height="7.3" fill="#ff7e00"/><rect x="1087.3" y="756.1" width="31.5" height="7.3" fill="#ff8100"/><rect x="1118.4" y="756.1" width="62.5" height="7.3" fill="#ff8300"/><rect x="1180.5" y="756.1" width="62.5" height="7.3" fill="#ff8600"/><rect x="1242.6" y="756.1" width="62.5" height="7.3" fill="#ff8900"/><rect x="1304.7" y="756.1" width="62.5" height="7.3" fill="#ff8b00"/><rect x="1366.8" y="756.1" width="31.5" height="7.3" fill="#ff8e00"/><rect x="1087.3" y="763.0" width="31.5" height="7.3" fill="#ff9000"/><rect x="1118.4" y="763.0" width="62.5" height="7.3" fill="#ff9300"/><rect x="1180.5" y="763.0" width="62.5" height="7.3" fill="#ff9600"/><rect x="1242.6" y="763.0" width="62.5" height="7.3" fill="#ff9800"/><rect x="1304.7" y="763.0" width="62.5" height="7.3" fill="#ff9b00"/><rect x="1366.8" y="763.0" width="31.5" height="7.3" fill="#ff9e00"/><rect x="1087.3" y="769.8" width="31.5" height="7.3" fill="#ff9f00"/><rect x="1118.4" y="769.8" width="62.5" height="7.3" fill="#ffa200"/><rect x="1180.5" y="769.8" width="62.5" height="7.3" fill="#ffa500"/><rect x="1242.6" y="769.8" width="62.5" height="7.3" fill="#ffa800"/><rect x="1304.7" y="769.8" width="62.5" height="7.3" fill="#ffab00"/><rect x="1366.8" y="769.8" width="31.5" height="7.3" fill="#ffaf00"/><rect x="1087.3" y="776.7" width="31.5" height="7.3" fill="#ffaf00"/><rect x="1118.4" y="776.7" width="62.5" height="7.3" fill="#ffb200"/><rect x="1180.5" y="776.7" width="62.5" height="7.3" fill="#ffb500"/><rect x="1242.6" y="776.7" width="62.5" height="7.3" fill="#ffb800"/><rect x="1304.7" y="776.7" width="62.5" height="7.3" fill="#ffbc00"/><rect x="1366.8" y="776.7" width="31.5" height="7.3" fill="#ffbf00"/><rect x="1087.3" y="783.6" width="31.5" height="7.3" fill="#ffbe00"/><rect x="1118.4" y="783.6" width="62.5" height="7.3" fill="#ffc100"/><rect x="1180.5" y="783.6" width="62.5" height="7.3" fill="#ffc500"/><rect x="1242.6" y="783.6" width="62.5" height="7.3" fill="#ffc800"/><rect x="1304.7" y="783.6" width="62.5" height="7.3" fill="#ffcc00"/><rect x="1366.8" y="783.6" width="31.5" height="7.3" fill="#ffcf00"/><rect x="1087.3" y="790.5" width="31.5" height="7.3" fill="#ffce00"/><rect x="1118.4" y="790.5" width="62.5" height="7.3" fill="#ffd200"/><rect x="1180.5" y="790.5" width="62.5" height="7.3" fill="#ffd700"/><rect x="1242.6" y="790.5" width="62.5" height="7.3" fill="#ffdb00"/><rect x="1304.7" y="790.5" width="62.5" height="7.3" fill="#ffdf00"/><rect x="1366.8" y="790.5" width="31.5" height="7.3" fill="#ffe300"/><rect x="1087.3" y="797.3" width="31.5" height="7.3" fill="#ffe200"/><rect x="1118.4" y="797.3" width="62.5" height="7.3" fill="#ffe600"/><rect x="1180.5" y="797.3" width="62.5" height="7.3" fill="#ffea00"/><rect x="1242.6" y="797.3" width="62.5" height="7.3" fill="#ffef00"/><rect x="1304.7" y="797.3" width="62.5" height="7.3" fill="#fff300"/><rect x="1366.8" y="797.3" width="31.5" height="7.3" fill="#fff700"/><rect x="1087.3" y="804.2" width="31.5" height="7.3" fill="#fff500"/><rect x="1118.4" y="804.2" width="62.5" height="7.3" fill="#fff900"/><rect x="1180.5" y="804.2" width="62.5" height="7.3" fill="#fffe00"/><rect x="1242.6" y="804.2" width="62.5" height="7.3" fill="#ffff09"/><rect x="1304.7" y="804.2" width="62.5" height="7.3" fill="#ffff15"/><rect x="1366.8" y="804.2" width="31.5" height="7.3" fill="#ffff22"/><rect x="1087.3" y="811.1" width="31.5" height="7.3" fill="#ffff18"/><rect x="1118.4" y="811.1" width="62.5" height="7.3" fill="#ffff25"/><rect x="1180.5" y="811.1" width="62.5" height="7.3" fill="#ffff32"/><rect x="1242.6" y="811.1" width="62.5" height="7.3" fill="#ffff3e"/><rect x="1304.7" y="811.1" width="62.5" height="7.3" fill="#ffff4b"/><rect x="1366.8" y="811.1" width="31.5" height="7.3" fill="#ffff58"/><rect x="1087.3" y="817.9" width="31.5" height="7.3" fill="#ffff4b"/><rect x="1118.4" y="817.9" width="62.5" height="7.3" fill="#ffff59"/><rect x="1180.5" y="817.9" width="62.5" height="7.3" fill="#ffff66"/><rect x="1242.6" y="817.9" width="62.5" height="7.3" fill="#ffff74"/><rect x="1304.7" y="817.9" width="62.5" height="7.3" fill="#ffff7f"/><rect x="1366.8" y="817.9" width="31.5" height="7.3" fill="#ffff89"/><rect x="1087.3" y="824.8" width="31.5" height="7.3" fill="#ffff79"/><rect x="1118.4" y="824.8" width="62.5" height="7.3" fill="#ffff83"/><rect x="1180.5" y="824.8" width="62.5" height="7.3" fill="#ffff8e"/><rect x="1242.6" y="824.8" width="62.5" height="7.3" fill="#ffff98"/><rect x="1304.7" y="824.8" width="62.5" height="7.3" fill="#ffffa3"/><rect x="1366.8" y="824.8" width="31.5" height="7.3" fill="#ffffae"/><rect x="1087.3" y="831.7" width="31.5" height="7.3" fill="#ffff98"/><rect x="1118.4" y="831.7" width="62.5" height="7.3" fill="#ffffa3"/><rect x="1180.5" y="831.7" width="62.5" height="7.3" fill="#ffffad"/><rect x="1242.6" y="831.7" width="62.5" height="7.3" fill="#ffffb8"/><rect x="1304.7" y="831.7" width="62.5" height="7.3" fill="#ffffc3"/><rect x="1366.8" y="831.7" width="31.5" height="7.3" fill="#ffffcb"/><rect x="1087.3" y="838.5" width="31.5" height="7.3" fill="#ffffb6"/><rect x="1118.4" y="838.5" width="62.5" height="7.3" fill="#ffffc2"/><rect x="1180.5" y="838.5" width="62.5" height="7.3" fill="#ffffcb"/><rect x="1242.6" y="838.5" width="62.5" height="7.3" fill="#ffffd1"/><rect x="1304.7" y="838.5" width="62.5" height="7.3" fill="#ffffd7"/><rect x="1366.8" y="838.5" width="31.5" height="7.3" fill="#ffffde"/><rect x="1087.3" y="845.4" width="31.5" height="7.3" fill="#ffffc9"/><rect x="1118.4" y="845.4" width="62.5" height="7.3" fill="#ffffcf"/><rect x="1180.5" y="845.4" width="62.5" height="7.3" fill="#ffffd6"/><rect x="1242.6" y="845.4" width="62.5" height="7.3" fill="#ffffdc"/><rect x="1304.7" y="845.4" width="62.5" height="7.3" fill="#ffffe3"/><rect x="1366.8" y="845.4" width="31.5" height="7.3" fill="#ffffe9"/><rect x="1087.3" y="852.3" width="31.5" height="7.3" fill="#ffffd4"/><rect x="1118.4" y="852.3" width="62.5" height="7.3" fill="#ffffda"/><rect x="1180.5" y="852.3" width="62.5" height="7.3" fill="#ffffe1"/><rect x="1242.6" y="852.3" width="62.5" height="7.3" fill="#ffffe8"/><rect x="1304.7" y="852.3" width="62.5" height="7.3" fill="#ffffee"/><rect x="1366.8" y="852.3" width="31.5" height="7.3" fill="#fffff5"/><rect x="1087.3" y="859.1" width="31.5" height="7.3" fill="#ffffda"/><rect x="1118.4" y="859.1" width="62.5" height="7.3" fill="#ffffe1"/><rect x="1180.5" y="859.1" width="62.5" height="7.3" fill="#ffffe8"/><rect x="1242.6" y="859.1" width="62.5" height="7.3" fill="#ffffee"/><rect x="1304.7" y="859.1" width="62.5" height="7.3" fill="#fffff5"/><rect x="1366.8" y="859.1" width="31.5" height="7.3" fill="#fffff5"/><rect x="1087.3" y="866.0" width="31.5" height="7.3" fill="#ffffdc"/><rect x="1118.4" y="866.0" width="62.5" height="7.3" fill="#ffffe3"/><rect x="1180.5" y="866.0" width="62.5" height="7.3" fill="#ffffea"/><rect x="1242.6" y="866.0" width="62.5" height="7.3" fill="#fffff1"/><rect x="1304.7" y="866.0" width="62.5" height="7.3" fill="#fffff5"/><rect x="1366.8" y="866.0" width="31.5" height="7.3" fill="#fffff5"/><rect x="1087.3" y="872.9" width="31.5" height="7.3" fill="#ffffde"/><rect x="1118.4" y="872.9" width="62.5" height="7.3" fill="#ffffe5"/><rect x="1180.5" y="872.9" width="62.5" height="7.3" fill="#ffffec"/><rect x="1242.6" y="872.9" width="62.5" height="7.3" fill="#fffff3"/><rect x="1304.7" y="872.9" width="62.5" height="7.3" fill="#fffff5"/><rect x="1366.8" y="872.9" width="31.5" height="7.3" fill="#fffff5"/><rect x="1087.3" y="879.7" width="31.5" height="7.3" fill="#ffffdc"/><rect x="1118.4" y="879.7" width="62.5" height="7.3" fill="#ffffe3"/><rect x="1180.5" y="879.7" width="62.5" height="7.3" fill="#ffffea"/><rect x="1242.6" y="879.7" width="62.5" height="7.3" fill="#fffff1"/><rect x="1304.7" y="879.7" width="62.5" height="7.3" fill="#fffff5"/><rect x="1366.8" y="879.7" width="31.5" height="7.3" fill="#fffff5"/><rect x="1087.3" y="886.6" width="31.5" height="7.3" fill="#ffffda"/><rect x="1118.4" y="886.6" width="62.5" height="7.3" fill="#ffffe1"/><rect x="1180.5" y="886.6" width="62.5" height="7.3" fill="#ffffe8"/><rect x="1242.6" y="886.6" width="62.5" height="7.3" fill="#ffffee"/><rect x="1304.7" y="886.6" width="62.5" height="7.3" fill="#fffff5"/><rect x="1366.8" y="886.6" width="31.5" height="7.3" fill="#fffff5"/><rect x="1087.3" y="893.5" width="31.5" height="7.3" fill="#ffffd3"/><rect x="1118.4" y="893.5" width="62.5" height="7.3" fill="#ffffd9"/><rect x="1180.5" y="893.5" width="62.5" height="7.3" fill="#ffffe0"/><rect x="1242.6" y="893.5" width="62.5" height="7.3" fill="#ffffe6"/><rect x="1304.7" y="893.5" width="62.5" height="7.3" fill="#ffffed"/><rect x="1366.8" y="893.5" width="31.5" height="7.3" fill="#fffff4"/><rect x="1087.3" y="900.3" width="31.5" height="7.3" fill="#ffffc4"/><rect x="1118.4" y="900.3" width="62.5" height="7.3" fill="#ffffcc"/><rect x="1180.5" y="900.3" width="62.5" height="7.3" fill="#ffffd3"/><rect x="1242.6" y="900.3" width="62.5" height="7.3" fill="#ffffd9"/><rect x="1304.7" y="900.3" width="62.5" height="7.3" fill="#ffffdf"/><rect x="1366.8" y="900.3" width="31.5" height="7.3" fill="#ffffe6"/><rect x="1087.3" y="907.2" width="31.5" height="7.3" fill="#ffffad"/><rect x="1118.4" y="907.2" width="62.5" height="7.3" fill="#ffffb8"/><rect x="1180.5" y="907.2" width="62.5" height="7.3" fill="#ffffc3"/><rect x="1242.6" y="907.2" width="62.5" height="7.3" fill="#ffffcc"/><rect x="1304.7" y="907.2" width="62.5" height="7.3" fill="#ffffd2"/><rect x="1366.8" y="907.2" width="31.5" height="7.3" fill="#ffffd8"/><rect x="1087.3" y="914.1" width="31.5" height="7.3" fill="#ffff8a"/><rect x="1118.4" y="914.1" width="62.5" height="7.3" fill="#ffff95"/><rect x="1180.5" y="914.1" width="62.5" height="7.3" fill="#ffffa0"/><rect x="1242.6" y="914.1" width="62.5" height="7.3" fill="#ffffaa"/><rect x="1304.7" y="914.1" width="62.5" height="7.3" fill="#ffffb5"/><rect x="1366.8" y="914.1" width="31.5" height="7.3" fill="#ffffc0"/><rect x="1087.3" y="920.9" width="31.5" height="7.3" fill="#ffff62"/><rect x="1118.4" y="920.9" width="62.5" height="7.3" fill="#ffff70"/><rect x="1180.5" y="920.9" width="62.5" height="7.3" fill="#ffff7c"/><rect x="1242.6" y="920.9" width="62.5" height="7.3" fill="#ffff87"/><rect x="1304.7" y="920.9" width="62.5" height="7.3" fill="#ffff91"/><rect x="1366.8" y="920.9" width="31.5" height="7.3" fill="#ffff9b"/><rect x="1087.3" y="927.8" width="31.5" height="7.3" fill="#ffff34"/><rect x="1118.4" y="927.8" width="62.5" height="7.3" fill="#ffff41"/><rect x="1180.5" y="927.8" width="62.5" height="7.3" fill="#ffff4e"/><rect x="1242.6" y="927.8" width="62.5" height="7.3" fill="#ffff5c"/><rect x="1304.7" y="927.8" width="62.5" height="7.3" fill="#ffff69"/><rect x="1366.8" y="927.8" width="31.5" height="7.3" fill="#ffff76"/><rect x="1087.3" y="934.7" width="31.5" height="7.3" fill="#ffff06"/><rect x="1118.4" y="934.7" width="62.5" height="7.3" fill="#ffff13"/><rect x="1180.5" y="934.7" width="62.5" height="7.3" fill="#ffff1f"/><rect x="1242.6" y="934.7" width="62.5" height="7.3" fill="#ffff2c"/><rect x="1304.7" y="934.7" width="62.5" height="7.3" fill="#ffff38"/><rect x="1366.8" y="934.7" width="31.5" height="7.3" fill="#ffff45"/><rect x="1087.3" y="941.5" width="31.5" height="7.3" fill="#fff000"/><rect x="1118.4" y="941.5" width="62.5" height="7.3" fill="#fff400"/><rect x="1180.5" y="941.5" width="62.5" height="7.3" fill="#fff900"/><rect x="1242.6" y="941.5" width="62.5" height="7.3" fill="#fffe00"/><rect x="1304.7" y="941.5" width="62.5" height="7.3" fill="#ffff08"/><rect x="1366.8" y="941.5" width="31.5" height="7.3" fill="#ffff14"/><rect x="1087.3" y="948.4" width="31.5" height="7.3" fill="#ffd700"/><rect x="1118.4" y="948.4" width="62.5" height="7.3" fill="#ffdb00"/><rect x="1180.5" y="948.4" width="62.5" height="7.3" fill="#ffdf00"/><rect x="1242.6" y="948.4" width="62.5" height="7.3" fill="#ffe400"/><rect x="1304.7" y="948.4" width="62.5" height="7.3" fill="#ffe800"/><rect x="1366.8" y="948.4" width="31.5" height="7.3" fill="#ffec00"/><rect x="1087.3" y="955.3" width="31.5" height="7.3" fill="#ffc000"/><rect x="1118.4" y="955.3" width="62.5" height="7.3" fill="#ffc300"/><rect x="1180.5" y="955.3" width="62.5" height="7.3" fill="#ffc700"/><rect x="1242.6" y="955.3" width="62.5" height="7.3" fill="#ffca00"/><rect x="1304.7" y="955.3" width="62.5" height="7.3" fill="#ffce00"/><rect x="1366.8" y="955.3" width="31.5" height="7.3" fill="#ffd100"/><rect x="1087.3" y="962.2" width="31.5" height="7.3" fill="#ffa800"/><rect x="1118.4" y="962.2" width="62.5" height="7.3" fill="#ffab00"/><rect x="1180.5" y="962.2" width="62.5" height="7.3" fill="#ffae00"/><rect x="1242.6" y="962.2" width="62.5" height="7.3" fill="#ffb100"/><rect x="1304.7" y="962.2" width="62.5" height="7.3" fill="#ffb400"/><rect x="1366.8" y="962.2" width="31.5" height="7.3" fill="#ffb800"/><rect x="1087.3" y="969.0" width="31.5" height="7.3" fill="#ff8e00"/><rect x="1118.4" y="969.0" width="62.5" height="7.3" fill="#ff9100"/><rect x="1180.5" y="969.0" width="62.5" height="7.3" fill="#ff9400"/><rect x="1242.6" y="969.0" width="62.5" height="7.3" fill="#ff9700"/><rect x="1304.7" y="969.0" width="62.5" height="7.3" fill="#ff9a00"/><rect x="1366.8" y="969.0" width="31.5" height="7.3" fill="#ff9c00"/><rect x="1087.3" y="975.9" width="31.5" height="7.3" fill="#ff7500"/><rect x="1118.4" y="975.9" width="62.5" height="7.3" fill="#ff7700"/><rect x="1180.5" y="975.9" width="62.5" height="7.3" fill="#ff7a00"/><rect x="1242.6" y="975.9" width="62.5" height="7.3" fill="#ff7c00"/><rect x="1304.7" y="975.9" width="62.5" height="7.3" fill="#ff7f00"/><rect x="1366.8" y="975.9" width="31.5" height="7.3" fill="#ff8100"/><rect x="1087.3" y="982.8" width="31.5" height="7.3" fill="#ff5e00"/><rect x="1118.4" y="982.8" width="62.5" height="7.3" fill="#ff6100"/><rect x="1180.5" y="982.8" width="62.5" height="7.3" fill="#ff6300"/><rect x="1242.6" y="982.8" width="62.5" height="7.3" fill="#ff6500"/><rect x="1304.7" y="982.8" width="62.5" height="7.3" fill="#ff6700"/><rect x="1366.8" y="982.8" width="31.5" height="7.3" fill="#ff6a00"/><rect x="1087.3" y="989.6" width="31.5" height="7.3" fill="#ff4700"/><rect x="1118.4" y="989.6" width="62.5" height="7.3" fill="#ff4900"/><rect x="1180.5" y="989.6" width="62.5" height="7.3" fill="#ff4b00"/><rect x="1242.6" y="989.6" width="62.5" height="7.3" fill="#ff4d00"/><rect x="1304.7" y="989.6" width="62.5" height="7.3" fill="#ff4f00"/><rect x="1366.8" y="989.6" width="31.5" height="7.3" fill="#ff5200"/><rect x="1087.3" y="996.5" width="31.5" height="7.3" fill="#ff2e00"/><rect x="1118.4" y="996.5" width="62.5" height="7.3" fill="#ff3000"/><rect x="1180.5" y="996.5" width="62.5" height="7.3" fill="#ff3100"/><rect x="1242.6" y="996.5" width="62.5" height="7.3" fill="#ff3300"/><rect x="1304.7" y="996.5" width="62.5" height="7.3" fill="#ff3500"/><rect x="1366.8" y="996.5" width="31.5" height="7.3" fill="#ff3700"/><rect x="1087.3" y="1003.4" width="31.5" height="7.3" fill="#fb1500"/><rect x="1118.4" y="1003.4" width="62.5" height="7.3" fill="#fb1600"/><rect x="1180.5" y="1003.4" width="62.5" height="7.3" fill="#fc1800"/><rect x="1242.6" y="1003.4" width="62.5" height="7.3" fill="#fc1900"/><rect x="1304.7" y="1003.4" width="62.5" height="7.3" fill="#fd1b00"/><rect x="1366.8" y="1003.4" width="31.5" height="7.3" fill="#fd1d00"/><rect x="1087.3" y="1010.2" width="31.5" height="7.3" fill="#eb0000"/><rect x="1118.4" y="1010.2" width="62.5" height="7.3" fill="#ee0000"/><rect x="1180.5" y="1010.2" width="62.5" height="7.3" fill="#f10000"/><rect x="1242.6" y="1010.2" width="62.5" height="7.3" fill="#f40000"/><rect x="1304.7" y="1010.2" width="62.5" height="7.3" fill="#f50100"/><rect x="1366.8" y="1010.2" width="31.5" height="7.3" fill="#f60200"/><rect x="1087.3" y="1017.1" width="31.5" height="7.3" fill="#ba0000"/><rect x="1118.4" y="1017.1" width="62.5" height="7.3" fill="#bc0000"/><rect x="1180.5" y="1017.1" width="62.5" height="7.3" fill="#bf0000"/><rect x="1242.6" y="1017.1" width="62.5" height="7.3" fill="#c10000"/><rect x="1304.7" y="1017.1" width="62.5" height="7.3" fill="#c30000"/><rect x="1366.8" y="1017.1" width="31.5" height="7.3" fill="#c60000"/><rect x="1087.3" y="1024.0" width="31.5" height="7.3" fill="#8e0000"/><rect x="1118.4" y="1024.0" width="62.5" height="7.3" fill="#900000"/><rect x="1180.5" y="1024.0" width="62.5" height="7.3" fill="#910000"/><rect x="1242.6" y="1024.0" width="62.5" height="7.3" fill="#930000"/><rect x="1304.7" y="1024.0" width="62.5" height="7.3" fill="#940000"/><rect x="1366.8" y="1024.0" width="31.5" height="7.3" fill="#950000"/><rect x="1087.3" y="1030.8" width="31.5" height="7.3" fill="#6d0000"/><rect x="1118.4" y="1030.8" width="62.5" height="7.3" fill="#6f0000"/><rect x="1180.5" y="1030.8" width="62.5" height="7.3" fill="#700000"/><rect x="1242.6" y="1030.8" width="62.5" height="7.3" fill="#710000"/><rect x="1304.7" y="1030.8" width="62.5" height="7.3" fill="#720000"/><rect x="1366.8" y="1030.8" width="31.5" height="7.3" fill="#730000"/><rect x="1087.3" y="1037.7" width="31.5" height="7.3" fill="#560000"/><rect x="1118.4" y="1037.7" width="62.5" height="7.3" fill="#570000"/><rect x="1180.5" y="1037.7" width="62.5" height="7.3" fill="#580000"/><rect x="1242.6" y="1037.7" width="62.5" height="7.3" fill="#590000"/><rect x="1304.7" y="1037.7" width="62.5" height="7.3" fill="#5a0000"/><rect x="1366.8" y="1037.7" width="31.5" height="7.3" fill="#5a0000"/><rect x="1087.3" y="1044.6" width="31.5" height="3.8" fill="#460000"/><rect x="1118.4" y="1044.6" width="62.5" height="3.8" fill="#460000"/><rect x="1180.5" y="1044.6" width="62.5" height="3.8" fill="#460000"/><rect x="1242.6" y="1044.6" width="62.5" height="3.8" fill="#470000"/><rect x="1304.7" y="1044.6" width="62.5" height="3.8" fill="#470000"/><rect x="1366.8" y="1044.6" width="31.5" height="3.8" fill="#470000"/></g>
<g shape-rendering="crispEdges"><rect x="1403.9" y="709.30" width="21.3" height="4.83" fill="#fffff1"/><rect x="1403.9" y="713.53" width="21.3" height="4.83" fill="#ffffea"/><rect x="1403.9" y="717.77" width="21.3" height="4.83" fill="#ffffe3"/><rect x="1403.9" y="722.00" width="21.3" height="4.83" fill="#ffffdc"/><rect x="1403.9" y="726.23" width="21.3" height="4.83" fill="#ffffd5"/><rect x="1403.9" y="730.47" width="21.3" height="4.83" fill="#ffffce"/><rect x="1403.9" y="734.70" width="21.3" height="4.83" fill="#ffffc7"/><rect x="1403.9" y="738.94" width="21.3" height="4.83" fill="#ffffba"/><rect x="1403.9" y="743.17" width="21.3" height="4.83" fill="#ffffae"/><rect x="1403.9" y="747.40" width="21.3" height="4.83" fill="#ffffa1"/><rect x="1403.9" y="751.64" width="21.3" height="4.83" fill="#ffff95"/><rect x="1403.9" y="755.87" width="21.3" height="4.83" fill="#ffff88"/><rect x="1403.9" y="760.11" width="21.3" height="4.83" fill="#ffff7c"/><rect x="1403.9" y="764.34" width="21.3" height="4.83" fill="#ffff6c"/><rect x="1403.9" y="768.57" width="21.3" height="4.83" fill="#ffff5c"/><rect x="1403.9" y="772.81" width="21.3" height="4.83" fill="#ffff4b"/><rect x="1403.9" y="777.04" width="21.3" height="4.83" fill="#ffff3a"/><rect x="1403.9" y="781.27" width="21.3" height="4.83" fill="#ffff2a"/><rect x="1403.9" y="785.51" width="21.3" height="4.83" fill="#ffff19"/><rect x="1403.9" y="789.74" width="21.3" height="4.83" fill="#ffff08"/><rect x="1403.9" y="793.97" width="21.3" height="4.83" fill="#fffc00"/><rect x="1403.9" y="798.21" width="21.3" height="4.83" fill="#fff600"/><rect x="1403.9" y="802.44" width="21.3" height="4.83" fill="#ffef00"/><rect x="1403.9" y="806.68" width="21.3" height="4.83" fill="#ffe900"/><rect x="1403.9" y="810.91" width="21.3" height="4.83" fill="#ffe300"/><rect x="1403.9" y="815.14" width="21.3" height="4.83" fill="#ffdd00"/><rect x="1403.9" y="819.38" width="21.3" height="4.83" fill="#ffd600"/><rect x="1403.9" y="823.61" width="21.3" height="4.83" fill="#ffd000"/><rect x="1403.9" y="827.85" width="21.3" height="4.83" fill="#ffca00"/><rect x="1403.9" y="832.08" width="21.3" height="4.83" fill="#ffc500"/><rect x="1403.9" y="836.31" width="21.3" height="4.83" fill="#ffbf00"/><rect x="1403.9" y="840.55" width="21.3" height="4.83" fill="#ffba00"/><rect x="1403.9" y="844.78" width="21.3" height="4.83" fill="#ffb400"/><rect x="1403.9" y="849.01" width="21.3" height="4.83" fill="#ffae00"/><rect x="1403.9" y="853.25" width="21.3" height="4.83" fill="#ffa900"/><rect x="1403.9" y="857.48" width="21.3" height="4.83" fill="#ffa300"/><rect x="1403.9" y="861.71" width="21.3" height="4.83" fill="#ff9e00"/><rect x="1403.9" y="865.95" width="21.3" height="4.83" fill="#ff9800"/><rect x="1403.9" y="870.18" width="21.3" height="4.83" fill="#ff9300"/><rect x="1403.9" y="874.42" width="21.3" height="4.83" fill="#ff8d00"/><rect x="1403.9" y="878.65" width="21.3" height="4.83" fill="#ff8800"/><rect x="1403.9" y="882.88" width="21.3" height="4.83" fill="#ff8200"/><rect x="1403.9" y="887.12" width="21.3" height="4.83" fill="#ff7c00"/><rect x="1403.9" y="891.35" width="21.3" height="4.83" fill="#ff7700"/><rect x="1403.9" y="895.59" width="21.3" height="4.83" fill="#ff7100"/><rect x="1403.9" y="899.82" width="21.3" height="4.83" fill="#ff6c00"/><rect x="1403.9" y="904.05" width="21.3" height="4.83" fill="#ff6600"/><rect x="1403.9" y="908.29" width="21.3" height="4.83" fill="#ff6100"/><rect x="1403.9" y="912.52" width="21.3" height="4.83" fill="#ff5b00"/><rect x="1403.9" y="916.75" width="21.3" height="4.83" fill="#ff5600"/><rect x="1403.9" y="920.99" width="21.3" height="4.83" fill="#ff4f00"/><rect x="1403.9" y="925.22" width="21.3" height="4.83" fill="#ff4900"/><rect x="1403.9" y="929.45" width="21.3" height="4.83" fill="#ff4300"/><rect x="1403.9" y="933.69" width="21.3" height="4.83" fill="#ff3d00"/><rect x="1403.9" y="937.92" width="21.3" height="4.83" fill="#ff3600"/><rect x="1403.9" y="942.16" width="21.3" height="4.83" fill="#ff3000"/><rect x="1403.9" y="946.39" width="21.3" height="4.83" fill="#ff2a00"/><rect x="1403.9" y="950.62" width="21.3" height="4.83" fill="#ff2400"/><rect x="1403.9" y="954.86" width="21.3" height="4.83" fill="#fd1d00"/><rect x="1403.9" y="959.09" width="21.3" height="4.83" fill="#fc1700"/><rect x="1403.9" y="963.33" width="21.3" height="4.83" fill="#fa1100"/><rect x="1403.9" y="967.56" width="21.3" height="4.83" fill="#f80b00"/><rect x="1403.9" y="971.79" width="21.3" height="4.83" fill="#f60400"/><rect x="1403.9" y="976.03" width="21.3" height="4.83" fill="#f10000"/><rect x="1403.9" y="980.26" width="21.3" height="4.83" fill="#e20000"/><rect x="1403.9" y="984.49" width="21.3" height="4.83" fill="#d30000"/><rect x="1403.9" y="988.73" width="21.3" height="4.83" fill="#c50000"/><rect x="1403.9" y="992.96" width="21.3" height="4.83" fill="#b60000"/><rect x="1403.9" y="997.19" width="21.3" height="4.83" fill="#a90000"/><rect x="1403.9" y="1001.43" width="21.3" height="4.83" fill="#9c0000"/><rect x="1403.9" y="1005.66" width="21.3" height="4.83" fill="#900000"/><rect x="1403.9" y="1009.90" width="21.3" height="4.83" fill="#830000"/><rect x="1403.9" y="1014.13" width="21.3" height="4.83" fill="#770000"/><rect x="1403.9" y="1018.36" width="21.3" height="4.83" fill="#6a0000"/><rect x="1403.9" y="1022.60" width="21.3" height="4.83" fill="#5e0000"/><rect x="1403.9" y="1026.83" width="21.3" height="4.83" fill="#520000"/><rect x="1403.9" y="1031.07" width="21.3" height="4.83" fill="#490000"/><rect x="1403.9" y="1035.30" width="21.3" height="4.83" fill="#400000"/><rect x="1403.9" y="1039.53" width="21.3" height="4.83" fill="#370000"/><rect x="1403.9" y="1043.77" width="21.3" height="4.23" fill="#2e0000"/></g>
<text x="1428.0" y="736.9" font-size="31.5" transform="matrix(1 0 0 1.040 0 -29.48)">34.3</text>
<text x="1428.0" y="798.0" font-size="31.5" transform="matrix(1 0 0 1.040 0 -31.92)">28.6</text>
<text x="1428.0" y="859.1" font-size="31.5" transform="matrix(1 0 0 1.040 0 -34.36)">22.9</text>
<text x="1428.0" y="920.2" font-size="31.5" transform="matrix(1 0 0 1.040 0 -36.81)">17.1</text>
<text x="1428.0" y="981.3" font-size="31.5" transform="matrix(1 0 0 1.040 0 -39.25)">11.4</text>
<text x="1428.0" y="1042.4" font-size="31.5" transform="matrix(1 0 0 1.040 0 -41.70)">5.70</text>
<g shape-rendering="crispEdges"><rect x="1586.6" y="704.8" width="31.5" height="3.8" fill="#fb1400"/><rect x="1617.7" y="704.8" width="62.6" height="3.8" fill="#fb1500"/><rect x="1679.9" y="704.8" width="62.6" height="3.8" fill="#fb1600"/><rect x="1742.0" y="704.8" width="62.6" height="3.8" fill="#fc1700"/><rect x="1804.2" y="704.8" width="62.6" height="3.8" fill="#fc1800"/><rect x="1866.4" y="704.8" width="31.5" height="3.8" fill="#fc1900"/><rect x="1586.6" y="708.2" width="31.5" height="7.3" fill="#fe1e00"/><rect x="1617.7" y="708.2" width="62.6" height="7.3" fill="#fe1f00"/><rect x="1679.9" y="708.2" width="62.6" height="7.3" fill="#fe2000"/><rect x="1742.0" y="708.2" width="62.6" height="7.3" fill="#fe2100"/><rect x="1804.2" y="708.2" width="62.6" height="7.3" fill="#ff2200"/><rect x="1866.4" y="708.2" width="31.5" height="7.3" fill="#ff2300"/><rect x="1586.6" y="715.1" width="31.5" height="7.3" fill="#ff2800"/><rect x="1617.7" y="715.1" width="62.6" height="7.3" fill="#ff2a00"/><rect x="1679.9" y="715.1" width="62.6" height="7.3" fill="#ff2b00"/><rect x="1742.0" y="715.1" width="62.6" height="7.3" fill="#ff2c00"/><rect x="1804.2" y="715.1" width="62.6" height="7.3" fill="#ff2d00"/><rect x="1866.4" y="715.1" width="31.5" height="7.3" fill="#ff2e00"/><rect x="1586.6" y="721.9" width="31.5" height="7.3" fill="#ff3400"/><rect x="1617.7" y="721.9" width="62.6" height="7.3" fill="#ff3500"/><rect x="1679.9" y="721.9" width="62.6" height="7.3" fill="#ff3700"/><rect x="1742.0" y="721.9" width="62.6" height="7.3" fill="#ff3800"/><rect x="1804.2" y="721.9" width="62.6" height="7.3" fill="#ff3900"/><rect x="1866.4" y="721.9" width="31.5" height="7.3" fill="#ff3b00"/><rect x="1586.6" y="728.8" width="31.5" height="7.3" fill="#ff4000"/><rect x="1617.7" y="728.8" width="62.6" height="7.3" fill="#ff4100"/><rect x="1679.9" y="728.8" width="62.6" height="7.3" fill="#ff4300"/><rect x="1742.0" y="728.8" width="62.6" height="7.3" fill="#ff4400"/><rect x="1804.2" y="728.8" width="62.6" height="7.3" fill="#ff4500"/><rect x="1866.4" y="728.8" width="31.5" height="7.3" fill="#ff4700"/><rect x="1586.6" y="735.6" width="31.5" height="7.3" fill="#ff4f00"/><rect x="1617.7" y="735.6" width="62.6" height="7.3" fill="#ff5100"/><rect x="1679.9" y="735.6" width="62.6" height="7.3" fill="#ff5200"/><rect x="1742.0" y="735.6" width="62.6" height="7.3" fill="#ff5400"/><rect x="1804.2" y="735.6" width="62.6" height="7.3" fill="#ff5500"/><rect x="1866.4" y="735.6" width="31.5" height="7.3" fill="#ff5600"/><rect x="1586.6" y="742.5" width="31.5" height="7.3" fill="#ff5e00"/><rect x="1617.7" y="742.5" width="62.6" height="7.3" fill="#ff5f00"/><rect x="1679.9" y="742.5" width="62.6" height="7.3" fill="#ff6000"/><rect x="1742.0" y="742.5" width="62.6" height="7.3" fill="#ff6200"/><rect x="1804.2" y="742.5" width="62.6" height="7.3" fill="#ff6300"/><rect x="1866.4" y="742.5" width="31.5" height="7.3" fill="#ff6500"/><rect x="1586.6" y="749.3" width="31.5" height="7.3" fill="#ff6d00"/><rect x="1617.7" y="749.3" width="62.6" height="7.3" fill="#ff6e00"/><rect x="1679.9" y="749.3" width="62.6" height="7.3" fill="#ff7000"/><rect x="1742.0" y="749.3" width="62.6" height="7.3" fill="#ff7200"/><rect x="1804.2" y="749.3" width="62.6" height="7.3" fill="#ff7300"/><rect x="1866.4" y="749.3" width="31.5" height="7.3" fill="#ff7500"/><rect x="1586.6" y="756.2" width="31.5" height="7.3" fill="#ff7e00"/><rect x="1617.7" y="756.2" width="62.6" height="7.3" fill="#ff8000"/><rect x="1679.9" y="756.2" width="62.6" height="7.3" fill="#ff8200"/><rect x="1742.0" y="756.2" width="62.6" height="7.3" fill="#ff8300"/><rect x="1804.2" y="756.2" width="62.6" height="7.3" fill="#ff8500"/><rect x="1866.4" y="756.2" width="31.5" height="7.3" fill="#ff8700"/><rect x="1586.6" y="763.0" width="31.5" height="7.3" fill="#ff8f00"/><rect x="1617.7" y="763.0" width="62.6" height="7.3" fill="#ff9100"/><rect x="1679.9" y="763.0" width="62.6" height="7.3" fill="#ff9300"/><rect x="1742.0" y="763.0" width="62.6" height="7.3" fill="#ff9500"/><rect x="1804.2" y="763.0" width="62.6" height="7.3" fill="#ff9700"/><rect x="1866.4" y="763.0" width="31.5" height="7.3" fill="#ff9900"/><rect x="1586.6" y="769.9" width="31.5" height="7.3" fill="#ffa200"/><rect x="1617.7" y="769.9" width="62.6" height="7.3" fill="#ffa400"/><rect x="1679.9" y="769.9" width="62.6" height="7.3" fill="#ffa600"/><rect x="1742.0" y="769.9" width="62.6" height="7.3" fill="#ffa900"/><rect x="1804.2" y="769.9" width="62.6" height="7.3" fill="#ffab00"/><rect x="1866.4" y="769.9" width="31.5" height="7.3" fill="#ffad00"/><rect x="1586.6" y="776.7" width="31.5" height="7.3" fill="#ffb500"/><rect x="1617.7" y="776.7" width="62.6" height="7.3" fill="#ffb800"/><rect x="1679.9" y="776.7" width="62.6" height="7.3" fill="#ffba00"/><rect x="1742.0" y="776.7" width="62.6" height="7.3" fill="#ffbc00"/><rect x="1804.2" y="776.7" width="62.6" height="7.3" fill="#ffbe00"/><rect x="1866.4" y="776.7" width="31.5" height="7.3" fill="#ffc000"/><rect x="1586.6" y="783.6" width="31.5" height="7.3" fill="#ffc900"/><rect x="1617.7" y="783.6" width="62.6" height="7.3" fill="#ffcb00"/><rect x="1679.9" y="783.6" width="62.6" height="7.3" fill="#ffcd00"/><rect x="1742.0" y="783.6" width="62.6" height="7.3" fill="#ffd000"/><rect x="1804.2" y="783.6" width="62.6" height="7.3" fill="#ffd300"/><rect x="1866.4" y="783.6" width="31.5" height="7.3" fill="#ffd500"/><rect x="1586.6" y="790.4" width="31.5" height="7.3" fill="#ffdd00"/><rect x="1617.7" y="790.4" width="62.6" height="7.3" fill="#ffe000"/><rect x="1679.9" y="790.4" width="62.6" height="7.3" fill="#ffe300"/><rect x="1742.0" y="790.4" width="62.6" height="7.3" fill="#ffe600"/><rect x="1804.2" y="790.4" width="62.6" height="7.3" fill="#ffe900"/><rect x="1866.4" y="790.4" width="31.5" height="7.3" fill="#ffeb00"/><rect x="1586.6" y="797.3" width="31.5" height="7.3" fill="#fff300"/><rect x="1617.7" y="797.3" width="62.6" height="7.3" fill="#fff600"/><rect x="1679.9" y="797.3" width="62.6" height="7.3" fill="#fff900"/><rect x="1742.0" y="797.3" width="62.6" height="7.3" fill="#fffc00"/><rect x="1804.2" y="797.3" width="62.6" height="7.3" fill="#ffff00"/><rect x="1866.4" y="797.3" width="31.5" height="7.3" fill="#ffff07"/><rect x="1586.6" y="804.2" width="31.5" height="7.3" fill="#ffff14"/><rect x="1617.7" y="804.2" width="62.6" height="7.3" fill="#ffff1c"/><rect x="1679.9" y="804.2" width="62.6" height="7.3" fill="#ffff24"/><rect x="1742.0" y="804.2" width="62.6" height="7.3" fill="#ffff2d"/><rect x="1804.2" y="804.2" width="62.6" height="7.3" fill="#ffff35"/><rect x="1866.4" y="804.2" width="31.5" height="7.3" fill="#ffff3e"/><rect x="1586.6" y="811.0" width="31.5" height="7.3" fill="#ffff48"/><rect x="1617.7" y="811.0" width="62.6" height="7.3" fill="#ffff50"/><rect x="1679.9" y="811.0" width="62.6" height="7.3" fill="#ffff59"/><rect x="1742.0" y="811.0" width="62.6" height="7.3" fill="#ffff62"/><rect x="1804.2" y="811.0" width="62.6" height="7.3" fill="#ffff6b"/><rect x="1866.4" y="811.0" width="31.5" height="7.3" fill="#ffff74"/><rect x="1586.6" y="817.9" width="31.5" height="7.3" fill="#ffff77"/><rect x="1617.7" y="817.9" width="62.6" height="7.3" fill="#ffff7e"/><rect x="1679.9" y="817.9" width="62.6" height="7.3" fill="#ffff85"/><rect x="1742.0" y="817.9" width="62.6" height="7.3" fill="#ffff8c"/><rect x="1804.2" y="817.9" width="62.6" height="7.3" fill="#ffff93"/><rect x="1866.4" y="817.9" width="31.5" height="7.3" fill="#ffff9a"/><rect x="1586.6" y="824.7" width="31.5" height="7.3" fill="#ffff96"/><rect x="1617.7" y="824.7" width="62.6" height="7.3" fill="#ffff9d"/><rect x="1679.9" y="824.7" width="62.6" height="7.3" fill="#ffffa5"/><rect x="1742.0" y="824.7" width="62.6" height="7.3" fill="#ffffac"/><rect x="1804.2" y="824.7" width="62.6" height="7.3" fill="#ffffb3"/><rect x="1866.4" y="824.7" width="31.5" height="7.3" fill="#ffffba"/><rect x="1586.6" y="831.6" width="31.5" height="7.3" fill="#ffffb5"/><rect x="1617.7" y="831.6" width="62.6" height="7.3" fill="#ffffbd"/><rect x="1679.9" y="831.6" width="62.6" height="7.3" fill="#ffffc4"/><rect x="1742.0" y="831.6" width="62.6" height="7.3" fill="#ffffca"/><rect x="1804.2" y="831.6" width="62.6" height="7.3" fill="#ffffce"/><rect x="1866.4" y="831.6" width="31.5" height="7.3" fill="#ffffd2"/><rect x="1586.6" y="838.4" width="31.5" height="7.3" fill="#ffffc9"/><rect x="1617.7" y="838.4" width="62.6" height="7.3" fill="#ffffcd"/><rect x="1679.9" y="838.4" width="62.6" height="7.3" fill="#ffffd1"/><rect x="1742.0" y="838.4" width="62.6" height="7.3" fill="#ffffd5"/><rect x="1804.2" y="838.4" width="62.6" height="7.3" fill="#ffffda"/><rect x="1866.4" y="838.4" width="31.5" height="7.3" fill="#ffffde"/><rect x="1586.6" y="845.3" width="31.5" height="7.3" fill="#ffffd4"/><rect x="1617.7" y="845.3" width="62.6" height="7.3" fill="#ffffd8"/><rect x="1679.9" y="845.3" width="62.6" height="7.3" fill="#ffffdc"/><rect x="1742.0" y="845.3" width="62.6" height="7.3" fill="#ffffe1"/><rect x="1804.2" y="845.3" width="62.6" height="7.3" fill="#ffffe5"/><rect x="1866.4" y="845.3" width="31.5" height="7.3" fill="#ffffe9"/><rect x="1586.6" y="852.1" width="31.5" height="7.3" fill="#ffffdb"/><rect x="1617.7" y="852.1" width="62.6" height="7.3" fill="#ffffe0"/><rect x="1679.9" y="852.1" width="62.6" height="7.3" fill="#ffffe4"/><rect x="1742.0" y="852.1" width="62.6" height="7.3" fill="#ffffe9"/><rect x="1804.2" y="852.1" width="62.6" height="7.3" fill="#ffffed"/><rect x="1866.4" y="852.1" width="31.5" height="7.3" fill="#fffff1"/><rect x="1586.6" y="859.0" width="31.5" height="7.3" fill="#ffffe0"/><rect x="1617.7" y="859.0" width="62.6" height="7.3" fill="#ffffe4"/><rect x="1679.9" y="859.0" width="62.6" height="7.3" fill="#ffffe9"/><rect x="1742.0" y="859.0" width="62.6" height="7.3" fill="#ffffed"/><rect x="1804.2" y="859.0" width="62.6" height="7.3" fill="#fffff2"/><rect x="1866.4" y="859.0" width="31.5" height="7.3" fill="#fffff5"/><rect x="1586.6" y="865.8" width="31.5" height="7.3" fill="#ffffe4"/><rect x="1617.7" y="865.8" width="62.6" height="7.3" fill="#ffffe9"/><rect x="1679.9" y="865.8" width="62.6" height="7.3" fill="#ffffed"/><rect x="1742.0" y="865.8" width="62.6" height="7.3" fill="#fffff2"/><rect x="1804.2" y="865.8" width="62.6" height="7.3" fill="#fffff5"/><rect x="1866.4" y="865.8" width="31.5" height="7.3" fill="#fffff5"/><rect x="1586.6" y="872.7" width="31.5" height="7.3" fill="#ffffe0"/><rect x="1617.7" y="872.7" width="62.6" height="7.3" fill="#ffffe4"/><rect x="1679.9" y="872.7" width="62.6" height="7.3" fill="#ffffe9"/><rect x="1742.0" y="872.7" width="62.6" height="7.3" fill="#ffffed"/><rect x="1804.2" y="872.7" width="62.6" height="7.3" fill="#fffff2"/><rect x="1866.4" y="872.7" width="31.5" height="7.3" fill="#fffff5"/><rect x="1586.6" y="879.5" width="31.5" height="7.3" fill="#ffffdb"/><rect x="1617.7" y="879.5" width="62.6" height="7.3" fill="#ffffe0"/><rect x="1679.9" y="879.5" width="62.6" height="7.3" fill="#ffffe4"/><rect x="1742.0" y="879.5" width="62.6" height="7.3" fill="#ffffe9"/><rect x="1804.2" y="879.5" width="62.6" height="7.3" fill="#ffffed"/><rect x="1866.4" y="879.5" width="31.5" height="7.3" fill="#fffff2"/><rect x="1586.6" y="886.4" width="31.5" height="7.3" fill="#ffffd0"/><rect x="1617.7" y="886.4" width="62.6" height="7.3" fill="#ffffd5"/><rect x="1679.9" y="886.4" width="62.6" height="7.3" fill="#ffffd9"/><rect x="1742.0" y="886.4" width="62.6" height="7.3" fill="#ffffdd"/><rect x="1804.2" y="886.4" width="62.6" height="7.3" fill="#ffffe2"/><rect x="1866.4" y="886.4" width="31.5" height="7.3" fill="#ffffe6"/><rect x="1586.6" y="893.2" width="31.5" height="7.3" fill="#ffffb8"/><rect x="1617.7" y="893.2" width="62.6" height="7.3" fill="#ffffbf"/><rect x="1679.9" y="893.2" width="62.6" height="7.3" fill="#ffffc7"/><rect x="1742.0" y="893.2" width="62.6" height="7.3" fill="#ffffcb"/><rect x="1804.2" y="893.2" width="62.6" height="7.3" fill="#ffffd0"/><rect x="1866.4" y="893.2" width="31.5" height="7.3" fill="#ffffd4"/><rect x="1586.6" y="900.1" width="31.5" height="7.3" fill="#ffff98"/><rect x="1617.7" y="900.1" width="62.6" height="7.3" fill="#ffff9f"/><rect x="1679.9" y="900.1" width="62.6" height="7.3" fill="#ffffa6"/><rect x="1742.0" y="900.1" width="62.6" height="7.3" fill="#ffffae"/><rect x="1804.2" y="900.1" width="62.6" height="7.3" fill="#ffffb5"/><rect x="1866.4" y="900.1" width="31.5" height="7.3" fill="#ffffbc"/><rect x="1586.6" y="906.9" width="31.5" height="7.3" fill="#ffff55"/><rect x="1617.7" y="906.9" width="62.6" height="7.3" fill="#ffff5e"/><rect x="1679.9" y="906.9" width="62.6" height="7.3" fill="#ffff67"/><rect x="1742.0" y="906.9" width="62.6" height="7.3" fill="#ffff70"/><rect x="1804.2" y="906.9" width="62.6" height="7.3" fill="#ffff78"/><rect x="1866.4" y="906.9" width="31.5" height="7.3" fill="#ffff7f"/><rect x="1586.6" y="913.8" width="31.5" height="7.3" fill="#ffff07"/><rect x="1617.7" y="913.8" width="62.6" height="7.3" fill="#ffff0f"/><rect x="1679.9" y="913.8" width="62.6" height="7.3" fill="#ffff18"/><rect x="1742.0" y="913.8" width="62.6" height="7.3" fill="#ffff20"/><rect x="1804.2" y="913.8" width="62.6" height="7.3" fill="#ffff28"/><rect x="1866.4" y="913.8" width="31.5" height="7.3" fill="#ffff30"/><rect x="1586.6" y="920.6" width="31.5" height="7.3" fill="#ffe400"/><rect x="1617.7" y="920.6" width="62.6" height="7.3" fill="#ffe700"/><rect x="1679.9" y="920.6" width="62.6" height="7.3" fill="#ffea00"/><rect x="1742.0" y="920.6" width="62.6" height="7.3" fill="#ffed00"/><rect x="1804.2" y="920.6" width="62.6" height="7.3" fill="#fff000"/><rect x="1866.4" y="920.6" width="31.5" height="7.3" fill="#fff300"/><rect x="1586.6" y="927.5" width="31.5" height="7.3" fill="#ffc800"/><rect x="1617.7" y="927.5" width="62.6" height="7.3" fill="#ffca00"/><rect x="1679.9" y="927.5" width="62.6" height="7.3" fill="#ffcc00"/><rect x="1742.0" y="927.5" width="62.6" height="7.3" fill="#ffcf00"/><rect x="1804.2" y="927.5" width="62.6" height="7.3" fill="#ffd200"/><rect x="1866.4" y="927.5" width="31.5" height="7.3" fill="#ffd400"/><rect x="1586.6" y="934.3" width="31.5" height="7.3" fill="#ffae00"/><rect x="1617.7" y="934.3" width="62.6" height="7.3" fill="#ffb000"/><rect x="1679.9" y="934.3" width="62.6" height="7.3" fill="#ffb200"/><rect x="1742.0" y="934.3" width="62.6" height="7.3" fill="#ffb400"/><rect x="1804.2" y="934.3" width="62.6" height="7.3" fill="#ffb600"/><rect x="1866.4" y="934.3" width="31.5" height="7.3" fill="#ffb900"/><rect x="1586.6" y="941.2" width="31.5" height="7.3" fill="#ff9700"/><rect x="1617.7" y="941.2" width="62.6" height="7.3" fill="#ff9900"/><rect x="1679.9" y="941.2" width="62.6" height="7.3" fill="#ff9b00"/><rect x="1742.0" y="941.2" width="62.6" height="7.3" fill="#ff9d00"/><rect x="1804.2" y="941.2" width="62.6" height="7.3" fill="#ff9f00"/><rect x="1866.4" y="941.2" width="31.5" height="7.3" fill="#ffa100"/><rect x="1586.6" y="948.0" width="31.5" height="7.3" fill="#ff8100"/><rect x="1617.7" y="948.0" width="62.6" height="7.3" fill="#ff8300"/><rect x="1679.9" y="948.0" width="62.6" height="7.3" fill="#ff8400"/><rect x="1742.0" y="948.0" width="62.6" height="7.3" fill="#ff8600"/><rect x="1804.2" y="948.0" width="62.6" height="7.3" fill="#ff8800"/><rect x="1866.4" y="948.0" width="31.5" height="7.3" fill="#ff8a00"/><rect x="1586.6" y="954.9" width="31.5" height="7.3" fill="#ff6b00"/><rect x="1617.7" y="954.9" width="62.6" height="7.3" fill="#ff6d00"/><rect x="1679.9" y="954.9" width="62.6" height="7.3" fill="#ff6f00"/><rect x="1742.0" y="954.9" width="62.6" height="7.3" fill="#ff7000"/><rect x="1804.2" y="954.9" width="62.6" height="7.3" fill="#ff7200"/><rect x="1866.4" y="954.9" width="31.5" height="7.3" fill="#ff7300"/><rect x="1586.6" y="961.8" width="31.5" height="7.3" fill="#ff5700"/><rect x="1617.7" y="961.8" width="62.6" height="7.3" fill="#ff5800"/><rect x="1679.9" y="961.8" width="62.6" height="7.3" fill="#ff5900"/><rect x="1742.0" y="961.8" width="62.6" height="7.3" fill="#ff5b00"/><rect x="1804.2" y="961.8" width="62.6" height="7.3" fill="#ff5c00"/><rect x="1866.4" y="961.8" width="31.5" height="7.3" fill="#ff5e00"/><rect x="1586.6" y="968.6" width="31.5" height="7.3" fill="#ff4000"/><rect x="1617.7" y="968.6" width="62.6" height="7.3" fill="#ff4100"/><rect x="1679.9" y="968.6" width="62.6" height="7.3" fill="#ff4200"/><rect x="1742.0" y="968.6" width="62.6" height="7.3" fill="#ff4400"/><rect x="1804.2" y="968.6" width="62.6" height="7.3" fill="#ff4500"/><rect x="1866.4" y="968.6" width="31.5" height="7.3" fill="#ff4700"/><rect x="1586.6" y="975.5" width="31.5" height="7.3" fill="#ff2c00"/><rect x="1617.7" y="975.5" width="62.6" height="7.3" fill="#ff2d00"/><rect x="1679.9" y="975.5" width="62.6" height="7.3" fill="#ff2f00"/><rect x="1742.0" y="975.5" width="62.6" height="7.3" fill="#ff3000"/><rect x="1804.2" y="975.5" width="62.6" height="7.3" fill="#ff3100"/><rect x="1866.4" y="975.5" width="31.5" height="7.3" fill="#ff3200"/><rect x="1586.6" y="982.3" width="31.5" height="7.3" fill="#fc1900"/><rect x="1617.7" y="982.3" width="62.6" height="7.3" fill="#fc1a00"/><rect x="1679.9" y="982.3" width="62.6" height="7.3" fill="#fd1b00"/><rect x="1742.0" y="982.3" width="62.6" height="7.3" fill="#fd1c00"/><rect x="1804.2" y="982.3" width="62.6" height="7.3" fill="#fd1d00"/><rect x="1866.4" y="982.3" width="31.5" height="7.3" fill="#fe1e00"/><rect x="1586.6" y="989.2" width="31.5" height="7.3" fill="#f70600"/><rect x="1617.7" y="989.2" width="62.6" height="7.3" fill="#f70700"/><rect x="1679.9" y="989.2" width="62.6" height="7.3" fill="#f70800"/><rect x="1742.0" y="989.2" width="62.6" height="7.3" fill="#f80900"/><rect x="1804.2" y="989.2" width="62.6" height="7.3" fill="#f80a00"/><rect x="1866.4" y="989.2" width="31.5" height="7.3" fill="#f80b00"/><rect x="1586.6" y="996.0" width="31.5" height="7.3" fill="#db0000"/><rect x="1617.7" y="996.0" width="62.6" height="7.3" fill="#dd0000"/><rect x="1679.9" y="996.0" width="62.6" height="7.3" fill="#de0000"/><rect x="1742.0" y="996.0" width="62.6" height="7.3" fill="#e00000"/><rect x="1804.2" y="996.0" width="62.6" height="7.3" fill="#e20000"/><rect x="1866.4" y="996.0" width="31.5" height="7.3" fill="#e40000"/><rect x="1586.6" y="1002.9" width="31.5" height="7.3" fill="#b20000"/><rect x="1617.7" y="1002.9" width="62.6" height="7.3" fill="#b40000"/><rect x="1679.9" y="1002.9" width="62.6" height="7.3" fill="#b50000"/><rect x="1742.0" y="1002.9" width="62.6" height="7.3" fill="#b70000"/><rect x="1804.2" y="1002.9" width="62.6" height="7.3" fill="#b80000"/><rect x="1866.4" y="1002.9" width="31.5" height="7.3" fill="#ba0000"/><rect x="1586.6" y="1009.7" width="31.5" height="7.3" fill="#930000"/><rect x="1617.7" y="1009.7" width="62.6" height="7.3" fill="#940000"/><rect x="1679.9" y="1009.7" width="62.6" height="7.3" fill="#950000"/><rect x="1742.0" y="1009.7" width="62.6" height="7.3" fill="#960000"/><rect x="1804.2" y="1009.7" width="62.6" height="7.3" fill="#970000"/><rect x="1866.4" y="1009.7" width="31.5" height="7.3" fill="#980000"/><rect x="1586.6" y="1016.6" width="31.5" height="7.3" fill="#740000"/><rect x="1617.7" y="1016.6" width="62.6" height="7.3" fill="#740000"/><rect x="1679.9" y="1016.6" width="62.6" height="7.3" fill="#750000"/><rect x="1742.0" y="1016.6" width="62.6" height="7.3" fill="#760000"/><rect x="1804.2" y="1016.6" width="62.6" height="7.3" fill="#760000"/><rect x="1866.4" y="1016.6" width="31.5" height="7.3" fill="#770000"/><rect x="1586.6" y="1023.4" width="31.5" height="7.3" fill="#5b0000"/><rect x="1617.7" y="1023.4" width="62.6" height="7.3" fill="#5c0000"/><rect x="1679.9" y="1023.4" width="62.6" height="7.3" fill="#5c0000"/><rect x="1742.0" y="1023.4" width="62.6" height="7.3" fill="#5d0000"/><rect x="1804.2" y="1023.4" width="62.6" height="7.3" fill="#5d0000"/><rect x="1866.4" y="1023.4" width="31.5" height="7.3" fill="#5e0000"/><rect x="1586.6" y="1030.3" width="31.5" height="7.3" fill="#4b0000"/><rect x="1617.7" y="1030.3" width="62.6" height="7.3" fill="#4c0000"/><rect x="1679.9" y="1030.3" width="62.6" height="7.3" fill="#4c0000"/><rect x="1742.0" y="1030.3" width="62.6" height="7.3" fill="#4c0000"/><rect x="1804.2" y="1030.3" width="62.6" height="7.3" fill="#4d0000"/><rect x="1866.4" y="1030.3" width="31.5" height="7.3" fill="#4d0000"/><rect x="1586.6" y="1037.1" width="31.5" height="7.3" fill="#3f0000"/><rect x="1617.7" y="1037.1" width="62.6" height="7.3" fill="#3f0000"/><rect x="1679.9" y="1037.1" width="62.6" height="7.3" fill="#3f0000"/><rect x="1742.0" y="1037.1" width="62.6" height="7.3" fill="#3f0000"/><rect x="1804.2" y="1037.1" width="62.6" height="7.3" fill="#400000"/><rect x="1866.4" y="1037.1" width="31.5" height="7.3" fill="#400000"/><rect x="1586.6" y="1044.0" width="31.5" height="3.8" fill="#3f0000"/><rect x="1617.7" y="1044.0" width="62.6" height="3.8" fill="#3f0000"/><rect x="1679.9" y="1044.0" width="62.6" height="3.8" fill="#3f0000"/><rect x="1742.0" y="1044.0" width="62.6" height="3.8" fill="#3f0000"/><rect x="1804.2" y="1044.0" width="62.6" height="3.8" fill="#400000"/><rect x="1866.4" y="1044.0" width="31.5" height="3.8" fill="#400000"/></g>
<g shape-rendering="crispEdges"><rect x="1904.5" y="709.30" width="19.0" height="4.82" fill="#fffff1"/><rect x="1904.5" y="713.52" width="19.0" height="4.82" fill="#ffffea"/><rect x="1904.5" y="717.73" width="19.0" height="4.82" fill="#ffffe3"/><rect x="1904.5" y="721.95" width="19.0" height="4.82" fill="#ffffdc"/><rect x="1904.5" y="726.16" width="19.0" height="4.82" fill="#ffffd5"/><rect x="1904.5" y="730.38" width="19.0" height="4.82" fill="#ffffce"/><rect x="1904.5" y="734.60" width="19.0" height="4.82" fill="#ffffc7"/><rect x="1904.5" y="738.81" width="19.0" height="4.82" fill="#ffffba"/><rect x="1904.5" y="743.03" width="19.0" height="4.82" fill="#ffffae"/><rect x="1904.5" y="747.25" width="19.0" height="4.82" fill="#ffffa1"/><rect x="1904.5" y="751.46" width="19.0" height="4.82" fill="#ffff95"/><rect x="1904.5" y="755.68" width="19.0" height="4.82" fill="#ffff88"/><rect x="1904.5" y="759.89" width="19.0" height="4.82" fill="#ffff7c"/><rect x="1904.5" y="764.11" width="19.0" height="4.82" fill="#ffff6c"/><rect x="1904.5" y="768.33" width="19.0" height="4.82" fill="#ffff5c"/><rect x="1904.5" y="772.54" width="19.0" height="4.82" fill="#ffff4b"/><rect x="1904.5" y="776.76" width="19.0" height="4.82" fill="#ffff3a"/><rect x="1904.5" y="780.98" width="19.0" height="4.82" fill="#ffff2a"/><rect x="1904.5" y="785.19" width="19.0" height="4.82" fill="#ffff19"/><rect x="1904.5" y="789.41" width="19.0" height="4.82" fill="#ffff08"/><rect x="1904.5" y="793.62" width="19.0" height="4.82" fill="#fffc00"/><rect x="1904.5" y="797.84" width="19.0" height="4.82" fill="#fff600"/><rect x="1904.5" y="802.06" width="19.0" height="4.82" fill="#ffef00"/><rect x="1904.5" y="806.27" width="19.0" height="4.82" fill="#ffe900"/><rect x="1904.5" y="810.49" width="19.0" height="4.82" fill="#ffe300"/><rect x="1904.5" y="814.71" width="19.0" height="4.82" fill="#ffdd00"/><rect x="1904.5" y="818.92" width="19.0" height="4.82" fill="#ffd600"/><rect x="1904.5" y="823.14" width="19.0" height="4.82" fill="#ffd000"/><rect x="1904.5" y="827.35" width="19.0" height="4.82" fill="#ffca00"/><rect x="1904.5" y="831.57" width="19.0" height="4.82" fill="#ffc500"/><rect x="1904.5" y="835.79" width="19.0" height="4.82" fill="#ffbf00"/><rect x="1904.5" y="840.00" width="19.0" height="4.82" fill="#ffba00"/><rect x="1904.5" y="844.22" width="19.0" height="4.82" fill="#ffb400"/><rect x="1904.5" y="848.44" width="19.0" height="4.82" fill="#ffae00"/><rect x="1904.5" y="852.65" width="19.0" height="4.82" fill="#ffa900"/><rect x="1904.5" y="856.87" width="19.0" height="4.82" fill="#ffa300"/><rect x="1904.5" y="861.08" width="19.0" height="4.82" fill="#ff9e00"/><rect x="1904.5" y="865.30" width="19.0" height="4.82" fill="#ff9800"/><rect x="1904.5" y="869.52" width="19.0" height="4.82" fill="#ff9300"/><rect x="1904.5" y="873.73" width="19.0" height="4.82" fill="#ff8d00"/><rect x="1904.5" y="877.95" width="19.0" height="4.82" fill="#ff8800"/><rect x="1904.5" y="882.17" width="19.0" height="4.82" fill="#ff8200"/><rect x="1904.5" y="886.38" width="19.0" height="4.82" fill="#ff7c00"/><rect x="1904.5" y="890.60" width="19.0" height="4.82" fill="#ff7700"/><rect x="1904.5" y="894.81" width="19.0" height="4.82" fill="#ff7100"/><rect x="1904.5" y="899.03" width="19.0" height="4.82" fill="#ff6c00"/><rect x="1904.5" y="903.25" width="19.0" height="4.82" fill="#ff6600"/><rect x="1904.5" y="907.46" width="19.0" height="4.82" fill="#ff6100"/><rect x="1904.5" y="911.68" width="19.0" height="4.82" fill="#ff5b00"/><rect x="1904.5" y="915.90" width="19.0" height="4.82" fill="#ff5600"/><rect x="1904.5" y="920.11" width="19.0" height="4.82" fill="#ff4f00"/><rect x="1904.5" y="924.33" width="19.0" height="4.82" fill="#ff4900"/><rect x="1904.5" y="928.54" width="19.0" height="4.82" fill="#ff4300"/><rect x="1904.5" y="932.76" width="19.0" height="4.82" fill="#ff3d00"/><rect x="1904.5" y="936.98" width="19.0" height="4.82" fill="#ff3600"/><rect x="1904.5" y="941.19" width="19.0" height="4.82" fill="#ff3000"/><rect x="1904.5" y="945.41" width="19.0" height="4.82" fill="#ff2a00"/><rect x="1904.5" y="949.63" width="19.0" height="4.82" fill="#ff2400"/><rect x="1904.5" y="953.84" width="19.0" height="4.82" fill="#fd1d00"/><rect x="1904.5" y="958.06" width="19.0" height="4.82" fill="#fc1700"/><rect x="1904.5" y="962.27" width="19.0" height="4.82" fill="#fa1100"/><rect x="1904.5" y="966.49" width="19.0" height="4.82" fill="#f80b00"/><rect x="1904.5" y="970.71" width="19.0" height="4.82" fill="#f60400"/><rect x="1904.5" y="974.92" width="19.0" height="4.82" fill="#f10000"/><rect x="1904.5" y="979.14" width="19.0" height="4.82" fill="#e20000"/><rect x="1904.5" y="983.36" width="19.0" height="4.82" fill="#d30000"/><rect x="1904.5" y="987.57" width="19.0" height="4.82" fill="#c50000"/><rect x="1904.5" y="991.79" width="19.0" height="4.82" fill="#b60000"/><rect x="1904.5" y="996.00" width="19.0" height="4.82" fill="#a90000"/><rect x="1904.5" y="1000.22" width="19.0" height="4.82" fill="#9c0000"/><rect x="1904.5" y="1004.44" width="19.0" height="4.82" fill="#900000"/><rect x="1904.5" y="1008.65" width="19.0" height="4.82" fill="#830000"/><rect x="1904.5" y="1012.87" width="19.0" height="4.82" fill="#770000"/><rect x="1904.5" y="1017.09" width="19.0" height="4.82" fill="#6a0000"/><rect x="1904.5" y="1021.30" width="19.0" height="4.82" fill="#5e0000"/><rect x="1904.5" y="1025.52" width="19.0" height="4.82" fill="#520000"/><rect x="1904.5" y="1029.73" width="19.0" height="4.82" fill="#490000"/><rect x="1904.5" y="1033.95" width="19.0" height="4.82" fill="#400000"/><rect x="1904.5" y="1038.17" width="19.0" height="4.82" fill="#370000"/><rect x="1904.5" y="1042.38" width="19.0" height="4.22" fill="#2e0000"/></g>
<text x="1930.0" y="736.8" font-size="31.5" transform="matrix(1 0 0 1.040 0 -29.47)">6.86</text>
<text x="1930.0" y="797.8" font-size="31.5" transform="matrix(1 0 0 1.040 0 -31.91)">5.76</text>
<text x="1930.0" y="858.8" font-size="31.5" transform="matrix(1 0 0 1.040 0 -34.35)">4.66</text>
<text x="1930.0" y="919.8" font-size="31.5" transform="matrix(1 0 0 1.040 0 -36.79)">3.56</text>
<text x="1930.0" y="980.8" font-size="31.5" transform="matrix(1 0 0 1.040 0 -39.23)">2.46</text>
<text x="1930.0" y="1041.8" font-size="31.5" transform="matrix(1 0 0 1.040 0 -41.67)">1.36</text>
<rect x="1088.5" y="137.0" width="309.0" height="330.3" fill="none" stroke="#000" stroke-width="1.5"/>
<path d="M1088.5 137.0H1083.8M1088.5 203.1H1083.8M1088.5 269.1H1083.8M1088.5 335.2H1083.8M1088.5 401.2H1083.8M1088.5 467.3H1083.8M1088.5 170.0H1085.8M1088.5 236.1H1085.8M1088.5 302.1H1085.8M1088.5 368.2H1085.8M1088.5 434.3H1085.8M1108.8 467.3V473.5M1150.0 467.3V473.5M1191.2 467.3V473.5M1232.4 467.3V473.5M1273.7 467.3V473.5M1314.9 467.3V473.5M1356.1 467.3V473.5M1397.3 467.3V473.5M1088.3 467.3V470.5M1129.5 467.3V470.5M1170.8 467.3V470.5M1212.0 467.3V470.5M1253.3 467.3V470.5M1294.5 467.3V470.5M1335.8 467.3V470.5M1377.0 467.3V470.5" stroke="#000" stroke-width="1.5" fill="none"/>
<text x="1077.6" y="148.2" font-size="30.3" text-anchor="end" transform="matrix(1 0 0 1.040 0 -5.93)">14</text>
<text x="1077.6" y="215.1" font-size="30.3" text-anchor="end" transform="matrix(1 0 0 1.040 0 -8.60)">13</text>
<text x="1077.6" y="280.8" font-size="30.3" text-anchor="end" transform="matrix(1 0 0 1.040 0 -11.23)">12</text>
<text x="1077.6" y="347.4" font-size="30.3" text-anchor="end" transform="matrix(1 0 0 1.040 0 -13.90)">11</text>
<text x="1077.6" y="413.8" font-size="30.3" text-anchor="end" transform="matrix(1 0 0 1.040 0 -16.55)">10</text>
<text x="1077.6" y="477.6" font-size="30.3" text-anchor="end" transform="matrix(1 0 0 1.040 0 -19.10)">9</text>
<text x="1108.9" y="506.8" font-size="30.8" text-anchor="middle" transform="matrix(1 0 0 1.040 0 -20.27)">0.6</text>
<text x="1191.6" y="506.8" font-size="30.8" text-anchor="middle" transform="matrix(1 0 0 1.040 0 -20.27)">1.0</text>
<text x="1274.7" y="506.8" font-size="30.8" text-anchor="middle" transform="matrix(1 0 0 1.040 0 -20.27)">1.4</text>
<text x="1357.0" y="506.8" font-size="30.8" text-anchor="middle" transform="matrix(1 0 0 1.040 0 -20.27)">1.6</text>
<text transform="translate(1029.2 302.0) rotate(-90)" x="0" y="0" font-size="30.8" text-anchor="middle">Wavelength (µm)</text>
<text x="1215.9" y="538.3" font-size="31.0" font-style="italic">r</text><text x="1224.4" y="548.6" font-size="18.8">Ω,a</text>
<rect x="1586.2" y="136.7" width="310.9" height="330.6" fill="none" stroke="#000" stroke-width="1.5"/>
<path d="M1586.2 136.7H1581.5M1586.2 202.8H1581.5M1586.2 268.9H1581.5M1586.2 335.1H1581.5M1586.2 401.2H1581.5M1586.2 467.3H1581.5M1586.2 169.8H1583.5M1586.2 235.9H1583.5M1586.2 302.0H1583.5M1586.2 368.1H1583.5M1586.2 434.2H1583.5M1606.9 467.3V473.5M1648.4 467.3V473.5M1689.8 467.3V473.5M1731.3 467.3V473.5M1772.7 467.3V473.5M1814.2 467.3V473.5M1855.6 467.3V473.5M1897.1 467.3V473.5M1586.2 467.3V470.5M1627.7 467.3V470.5M1669.1 467.3V470.5M1710.6 467.3V470.5M1752.0 467.3V470.5M1793.5 467.3V470.5M1834.9 467.3V470.5M1876.4 467.3V470.5" stroke="#000" stroke-width="1.5" fill="none"/>
<text x="1576.8" y="148.2" font-size="30.3" text-anchor="end" transform="matrix(1 0 0 1.040 0 -5.93)">14</text>
<text x="1576.8" y="215.1" font-size="30.3" text-anchor="end" transform="matrix(1 0 0 1.040 0 -8.60)">13</text>
<text x="1576.8" y="280.8" font-size="30.3" text-anchor="end" transform="matrix(1 0 0 1.040 0 -11.23)">12</text>
<text x="1576.8" y="347.4" font-size="30.3" text-anchor="end" transform="matrix(1 0 0 1.040 0 -13.90)">11</text>
<text x="1576.8" y="413.8" font-size="30.3" text-anchor="end" transform="matrix(1 0 0 1.040 0 -16.55)">10</text>
<text x="1576.8" y="477.6" font-size="30.3" text-anchor="end" transform="matrix(1 0 0 1.040 0 -19.10)">9</text>
<text x="1606.9" y="506.8" font-size="30.8" text-anchor="middle" transform="matrix(1 0 0 1.040 0 -20.27)">0.6</text>
<text x="1689.8" y="506.8" font-size="30.8" text-anchor="middle" transform="matrix(1 0 0 1.040 0 -20.27)">1.0</text>
<text x="1772.7" y="506.8" font-size="30.8" text-anchor="middle" transform="matrix(1 0 0 1.040 0 -20.27)">1.4</text>
<text x="1855.6" y="506.8" font-size="30.8" text-anchor="middle" transform="matrix(1 0 0 1.040 0 -20.27)">1.6</text>
<text transform="translate(1529.0 302.5) rotate(-90)" x="0" y="0" font-size="31.0" text-anchor="middle">Wavelength (µm)</text>
<text x="1708.7" y="538.4" font-size="31.0" font-style="italic">r</text><text x="1717.8" y="548.7" font-size="18.8">Ω,LL</text>
<rect x="89.9" y="712.3" width="310.0" height="331.7" fill="none" stroke="#000" stroke-width="1.5"/>
<path d="M89.9 712.3H85.2M89.9 778.6H85.2M89.9 845.0H85.2M89.9 911.3H85.2M89.9 977.7H85.2M89.9 1044.0H85.2M89.9 745.5H87.2M89.9 811.8H87.2M89.9 878.1H87.2M89.9 944.5H87.2M89.9 1010.8H87.2M110.6 1044.0V1050.2M151.9 1044.0V1050.2M193.2 1044.0V1050.2M234.6 1044.0V1050.2M275.9 1044.0V1050.2M317.2 1044.0V1050.2M358.6 1044.0V1050.2M399.9 1044.0V1050.2M89.9 1044.0V1047.2M131.2 1044.0V1047.2M172.6 1044.0V1047.2M213.9 1044.0V1047.2M255.2 1044.0V1047.2M296.6 1044.0V1047.2M337.9 1044.0V1047.2M379.2 1044.0V1047.2" stroke="#000" stroke-width="1.5" fill="none"/>
<text x="81.4" y="725.6" font-size="30.3" text-anchor="end" transform="matrix(1 0 0 1.040 0 -29.02)">14</text>
<text x="81.4" y="790.6" font-size="30.3" text-anchor="end" transform="matrix(1 0 0 1.040 0 -31.62)">13</text>
<text x="81.4" y="857.5" font-size="30.3" text-anchor="end" transform="matrix(1 0 0 1.040 0 -34.30)">12</text>
<text x="81.4" y="924.4" font-size="30.3" text-anchor="end" transform="matrix(1 0 0 1.040 0 -36.98)">11</text>
<text x="81.4" y="991.3" font-size="30.3" text-anchor="end" transform="matrix(1 0 0 1.040 0 -39.65)">10</text>
<text x="81.4" y="1054.1" font-size="30.3" text-anchor="end" transform="matrix(1 0 0 1.040 0 -42.16)">9</text>
<text x="109.5" y="1079.6" font-size="31.2" text-anchor="middle" transform="matrix(1 0 0 1.040 0 -43.18)">60</text>
<text x="192.8" y="1079.6" font-size="31.2" text-anchor="middle" transform="matrix(1 0 0 1.040 0 -43.18)">100</text>
<text x="274.5" y="1079.6" font-size="31.2" text-anchor="middle" transform="matrix(1 0 0 1.040 0 -43.18)">140</text>
<text x="358.8" y="1079.6" font-size="31.2" text-anchor="middle" transform="matrix(1 0 0 1.040 0 -43.18)">180</text>
<text transform="translate(33.1 881.9) rotate(-90)" x="0" y="0" font-size="31.5" text-anchor="middle">Wavelength (µm)</text>
<text x="153.6" y="1115.9" font-size="30.8">Width <tspan font-style="italic">w</tspan> (nm)</text>
<rect x="588.2" y="708.9" width="313.3" height="340.1" fill="none" stroke="#000" stroke-width="1.5"/>
<path d="M588.2 708.9H583.5M588.2 776.9H583.5M588.2 844.9H583.5M588.2 913.0H583.5M588.2 981.0H583.5M588.2 1049.0H583.5M588.2 742.9H585.5M588.2 810.9H585.5M588.2 879.0H585.5M588.2 947.0H585.5M588.2 1015.0H585.5M609.1 1049.0V1055.2M650.9 1049.0V1055.2M692.6 1049.0V1055.2M734.4 1049.0V1055.2M776.2 1049.0V1055.2M818.0 1049.0V1055.2M859.7 1049.0V1055.2M901.5 1049.0V1055.2M588.2 1049.0V1052.2M630.0 1049.0V1052.2M671.7 1049.0V1052.2M713.5 1049.0V1052.2M755.3 1049.0V1052.2M797.1 1049.0V1052.2M838.8 1049.0V1052.2M880.6 1049.0V1052.2" stroke="#000" stroke-width="1.5" fill="none"/>
<text x="575.7" y="725.6" font-size="30.3" text-anchor="end" transform="matrix(1 0 0 1.040 0 -29.02)">14</text>
<text x="575.7" y="791.4" font-size="30.3" text-anchor="end" transform="matrix(1 0 0 1.040 0 -31.66)">13</text>
<text x="575.7" y="859.1" font-size="30.3" text-anchor="end" transform="matrix(1 0 0 1.040 0 -34.36)">12</text>
<text x="575.7" y="926.8" font-size="30.3" text-anchor="end" transform="matrix(1 0 0 1.040 0 -37.07)">11</text>
<text x="575.7" y="992.8" font-size="30.3" text-anchor="end" transform="matrix(1 0 0 1.040 0 -39.71)">10</text>
<text x="575.7" y="1054.8" font-size="30.3" text-anchor="end" transform="matrix(1 0 0 1.040 0 -42.19)">9</text>
<text x="607.5" y="1079.5" font-size="31.2" text-anchor="middle" transform="matrix(1 0 0 1.040 0 -43.18)">60</text>
<text x="691.1" y="1079.5" font-size="31.2" text-anchor="middle" transform="matrix(1 0 0 1.040 0 -43.18)">100</text>
<text x="772.8" y="1079.5" font-size="31.2" text-anchor="middle" transform="matrix(1 0 0 1.040 0 -43.18)">140</text>
<text x="857.1" y="1079.5" font-size="31.2" text-anchor="middle" transform="matrix(1 0 0 1.040 0 -43.18)">180</text>
<text transform="translate(529.7 881.3) rotate(-90)" x="0" y="0" font-size="31.5" text-anchor="middle">Wavelength (µm)</text>
<text x="651.9" y="1115.8" font-size="30.8">Width <tspan font-style="italic">w</tspan> (nm)</text>
<rect x="1087.3" y="704.6" width="310.6" height="343.4" fill="none" stroke="#000" stroke-width="1.5"/>
<path d="M1087.3 704.6H1082.6M1087.3 773.3H1082.6M1087.3 842.0H1082.6M1087.3 910.6H1082.6M1087.3 979.3H1082.6M1087.3 1048.0H1082.6M1087.3 738.9H1084.6M1087.3 807.6H1084.6M1087.3 876.3H1084.6M1087.3 945.0H1084.6M1087.3 1013.7H1084.6M1087.3 1048.0V1054.2M1149.4 1048.0V1054.2M1211.5 1048.0V1054.2M1273.7 1048.0V1054.2M1335.8 1048.0V1054.2M1397.9 1048.0V1054.2M1118.4 1048.0V1051.2M1180.5 1048.0V1051.2M1242.6 1048.0V1051.2M1304.7 1048.0V1051.2M1366.8 1048.0V1051.2" stroke="#000" stroke-width="1.5" fill="none"/>
<text x="1077.9" y="726.1" font-size="30.3" text-anchor="end" transform="matrix(1 0 0 1.040 0 -29.04)">14</text>
<text x="1077.9" y="791.4" font-size="30.3" text-anchor="end" transform="matrix(1 0 0 1.040 0 -31.66)">13</text>
<text x="1077.9" y="859.8" font-size="30.3" text-anchor="end" transform="matrix(1 0 0 1.040 0 -34.39)">12</text>
<text x="1077.9" y="928.5" font-size="30.3" text-anchor="end" transform="matrix(1 0 0 1.040 0 -37.14)">11</text>
<text x="1077.9" y="997.0" font-size="30.3" text-anchor="end" transform="matrix(1 0 0 1.040 0 -39.88)">10</text>
<text x="1077.9" y="1057.3" font-size="30.3" text-anchor="end" transform="matrix(1 0 0 1.040 0 -42.29)">9</text>
<text x="1087.3" y="1079.4" font-size="31.2" text-anchor="middle" transform="matrix(1 0 0 1.040 0 -43.18)">3.5</text>
<text x="1149.4" y="1079.4" font-size="31.2" text-anchor="middle" transform="matrix(1 0 0 1.040 0 -43.18)">3.6</text>
<text x="1211.5" y="1079.4" font-size="31.2" text-anchor="middle" transform="matrix(1 0 0 1.040 0 -43.18)">3.7</text>
<text x="1273.7" y="1079.4" font-size="31.2" text-anchor="middle" transform="matrix(1 0 0 1.040 0 -43.18)">3.8</text>
<text x="1335.8" y="1079.4" font-size="31.2" text-anchor="middle" transform="matrix(1 0 0 1.040 0 -43.18)">3.9</text>
<text x="1397.9" y="1079.4" font-size="31.2" text-anchor="middle" transform="matrix(1 0 0 1.040 0 -43.18)">4.0</text>
<text transform="translate(1030.1 881.3) rotate(-90)" x="0" y="0" font-size="31.5" text-anchor="middle">Wavelength (µm)</text>
<text x="1222.8" y="1116.1" font-size="28.5" font-style="italic">ε</text><text x="1233.9" y="1126.2" font-size="19.5">gap</text>
<rect x="1586.6" y="704.8" width="310.9" height="342.6" fill="none" stroke="#000" stroke-width="1.5"/>
<path d="M1586.6 766.7H1581.9M1586.6 834.6H1581.9M1586.6 903.1H1581.9M1586.6 971.3H1581.9M1586.6 1039.9H1581.9M1586.6 732.4H1583.9M1586.6 801.0H1583.9M1586.6 868.9H1583.9M1586.6 938.0H1583.9M1586.6 1006.0H1583.9M1586.6 1047.4V1053.6M1648.8 1047.4V1053.6M1711.0 1047.4V1053.6M1773.1 1047.4V1053.6M1835.3 1047.4V1053.6M1897.5 1047.4V1053.6M1617.7 1047.4V1050.6M1679.9 1047.4V1050.6M1742.0 1047.4V1050.6M1804.2 1047.4V1050.6M1866.4 1047.4V1050.6" stroke="#000" stroke-width="1.5" fill="none"/>
<text x="1578.9" y="725.8" font-size="30.3" text-anchor="end" transform="matrix(1 0 0 1.040 0 -29.03)">14</text>
<text x="1578.9" y="789.8" font-size="30.3" text-anchor="end" transform="matrix(1 0 0 1.040 0 -31.59)">13</text>
<text x="1578.9" y="858.3" font-size="30.3" text-anchor="end" transform="matrix(1 0 0 1.040 0 -34.33)">12</text>
<text x="1578.9" y="925.8" font-size="30.3" text-anchor="end" transform="matrix(1 0 0 1.040 0 -37.03)">11</text>
<text x="1578.9" y="993.8" font-size="30.3" text-anchor="end" transform="matrix(1 0 0 1.040 0 -39.75)">10</text>
<text x="1578.9" y="1052.8" font-size="30.3" text-anchor="end" transform="matrix(1 0 0 1.040 0 -42.11)">9</text>
<text x="1589.5" y="1079.8" font-size="31.2" text-anchor="middle" transform="matrix(1 0 0 1.040 0 -43.19)">3.5</text>
<text x="1652.7" y="1079.8" font-size="31.2" text-anchor="middle" transform="matrix(1 0 0 1.040 0 -43.19)">3.6</text>
<text x="1715.2" y="1079.8" font-size="31.2" text-anchor="middle" transform="matrix(1 0 0 1.040 0 -43.19)">3.7</text>
<text x="1775.9" y="1079.8" font-size="31.2" text-anchor="middle" transform="matrix(1 0 0 1.040 0 -43.19)">3.8</text>
<text x="1837.0" y="1079.8" font-size="31.2" text-anchor="middle" transform="matrix(1 0 0 1.040 0 -43.19)">3.9</text>
<text x="1901.4" y="1079.8" font-size="31.2" text-anchor="middle" transform="matrix(1 0 0 1.040 0 -43.19)">4.0</text>
<text transform="translate(1530.4 881.3) rotate(-90)" x="0" y="0" font-size="31.5" text-anchor="middle">Wavelength (µm)</text>
<text x="1725.3" y="1116.0" font-size="28.5" font-style="italic">ε</text><text x="1737.1" y="1124.9" font-size="19.5">gap</text>
<text x="970.2" y="102.2" font-size="40.5" font-weight="bold">(c)</text>
<text x="1037.1" y="102.2" font-size="45.5" font-style="italic" textLength="29.0" lengthAdjust="spacingAndGlyphs">η</text>
<text x="1060.6" y="117.6" font-size="26.2">rad</text>
<text x="1112.7" y="102.2" font-size="45.5">(%)</text>
<text x="1197.4" y="102.2" font-size="45.5">by</text>
<text x="1260.8" y="102.2" font-size="45.5" font-style="italic">r</text>
<text x="1274.9" y="117.6" font-size="26.0">Ω,a</text>
<text x="1495.1" y="101.9" font-size="41.3" font-weight="bold">(d)</text>
<text x="1564.3" y="101.9" font-size="45.5" font-style="italic" textLength="29.0" lengthAdjust="spacingAndGlyphs">η</text>
<text x="1586.3" y="117.1" font-size="26.2">rad</text>
<text x="1639.4" y="101.9" font-size="45.5">(%)</text>
<text x="1724.0" y="101.9" font-size="45.5">by</text>
<text x="1788.0" y="101.9" font-size="45.5" font-style="italic">r</text>
<text x="1801.0" y="117.1" font-size="26.0">Ω,LL</text>
<text x="9.8" y="681.0" font-size="42.2" font-weight="bold">(e)</text>
<text x="90.0" y="681.0" font-size="46.2" font-style="italic">η</text>
<text x="112.8" y="695.6" font-size="26.2">rad</text>
<text x="165.0" y="681.0" font-size="45.5">(%)</text>
<text x="996.7" y="681.2" font-size="41.6" font-weight="bold">(g)</text>
<text x="1068.1" y="681.2" font-size="46.5" font-style="italic">η</text>
<text x="1091.0" y="696.0" font-size="26.2">rad</text>
<text x="1143.1" y="681.2" font-size="45.5">(%)</text>
<text x="506.2" y="681.9" font-size="42.5" font-weight="bold">(f)</text>
<text x="550.3" y="684.6" font-size="47.0">|</text>
<text x="590.0" y="684.6" font-size="47.0">|</text>
<text x="629.7" y="684.6" font-size="47.0">|</text>
<text x="684.7" y="684.6" font-size="47.0">|</text>
<text x="565.2" y="684.6" font-size="48.8" font-style="italic">I</text>
<text x="644.5" y="684.6" font-size="48.8" font-style="italic">I</text>
<text x="574.7" y="699.7" font-size="25.5" transform="matrix(1 0 0 1.050 0 -34.99)">a</text>
<text x="654.1" y="700.0" font-size="27.5">LL</text>
<text x="601.7" y="669.2" font-size="26.6" transform="matrix(1 0 0 1.040 0 -26.77)">2</text>
<text x="695.9" y="669.2" font-size="26.6" transform="matrix(1 0 0 1.040 0 -26.77)">2</text>
<text x="617.3" y="684.2" font-size="45.7" transform="matrix(1 0 0 1 0 0)">/</text>
<text x="1496.3" y="681.9" font-size="42.5" font-weight="bold">(h)</text>
<text x="1562.7" y="684.6" font-size="47.0">|</text>
<text x="1603.0" y="684.6" font-size="47.0">|</text>
<text x="1642.7" y="684.6" font-size="47.0">|</text>
<text x="1697.3" y="684.6" font-size="47.0">|</text>
<text x="1577.5" y="684.6" font-size="48.8" font-style="italic">I</text>
<text x="1657.5" y="684.6" font-size="48.8" font-style="italic">I</text>
<text x="1587.5" y="699.7" font-size="25.5" transform="matrix(1 0 0 1.050 0 -34.99)">a</text>
<text x="1667.4" y="700.0" font-size="27.5">LL</text>
<text x="1614.9" y="669.2" font-size="26.6" transform="matrix(1 0 0 1.040 0 -26.77)">2</text>
<text x="1709.3" y="669.2" font-size="26.6" transform="matrix(1 0 0 1.040 0 -26.77)">2</text>
<text x="1630.0" y="684.2" font-size="45.7" transform="matrix(1 0 0 1 0 0)">/</text>
</svg>
</body></html>
